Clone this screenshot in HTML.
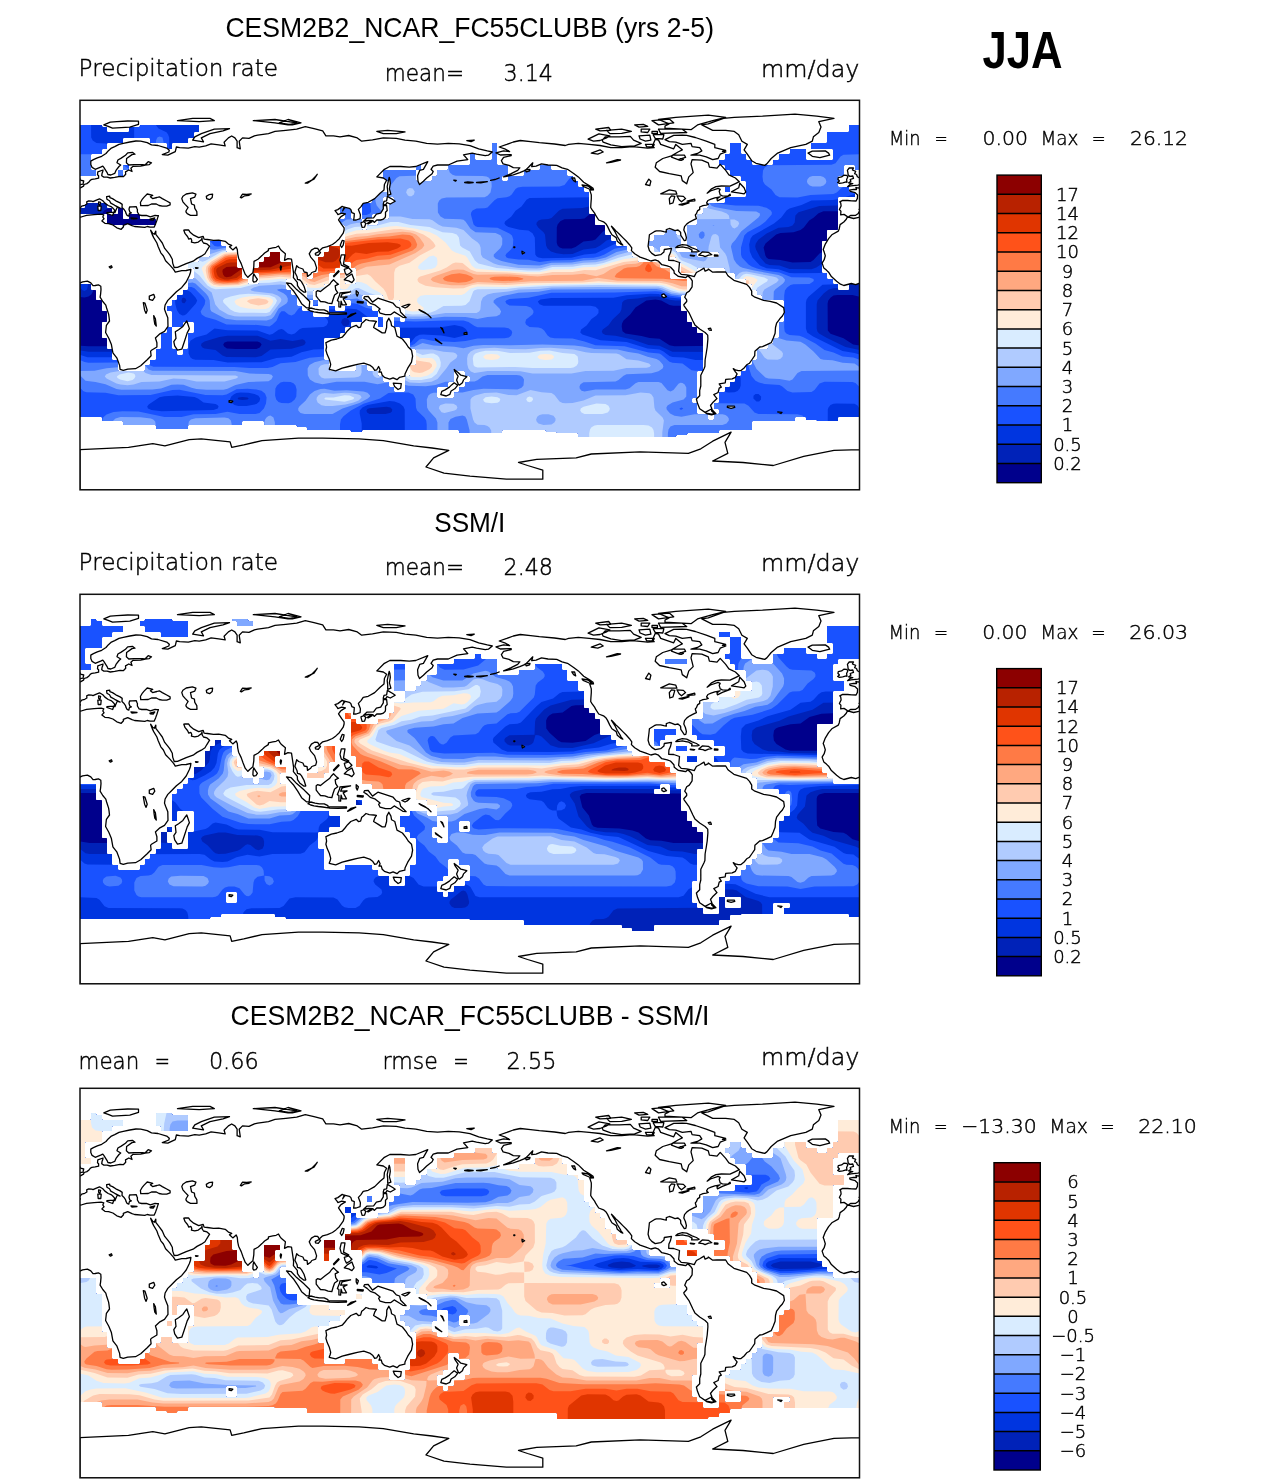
<!DOCTYPE html><html><head><meta charset="utf-8"><title>JJA precipitation</title><style>html,body{margin:0;padding:0;background:#fff}svg{display:block}</style></head><body><svg width="1285" height="1484" viewBox="0 0 1285 1484"><defs><clipPath id="cp"><rect width="780" height="390"/></clipPath></defs><g transform="translate(80,100)"><g clip-path="url(#cp)"><clipPath id="dm_map1"><path clip-rule="evenodd" d="M0 75.5 0 25.5 0.5 25 21.5 25 22.5 27 26.5 27 27 27.5 27 31.5 27.5 32 48.5 32 49 31.5 49 27.5 49.5 27 59.5 27 60.5 25 118.5 25 119 25.5 119 31.5 118.5 32 114.5 32 114 32.5 114 37.5 113.5 38 108.5 38 108 38.5 108 42.5 107.5 43 92.5 43 92 43.5 92 48.5 91.5 49 87.5 49 87 48.5 87 43.5 86.5 43 70.5 43 70 42.5 70 38.5 69.5 38 43.5 38 43 38.5 43 42.5 42.5 43 27.5 43 27 43.5 27 48.5 26.5 49 22.5 49 22 49.5 22 53.5 21.5 54 11.5 54 11 54.5 11 69.5 11.5 70 15.5 70 16 70.5 16 75.5 15.5 76 0.5 76ZM780 25.5 780 69.5 779.5 70 775.5 70 775 69.5 775 65.5 774.5 65 764.5 65 764 65.5 764 75.5 763.5 76 758.5 76 758 76.5 758 86.5 758.5 87 768.5 87 769 87.5 769 91.5 769.5 92 774.5 92 775 92.5 775 96.5 774.5 97 758.5 97 758 97.5 758 129.5 757.5 130 747.5 130 747 130.5 747 140.5 746.5 141 742.5 141 742 141.5 742 172.5 742.5 173 746.5 173 747 173.5 747 178.5 747.5 179 752.5 179 753 179.5 753 183.5 753.5 184 757.5 184 758 184.5 758 189.5 758.5 190 768.5 190 769 189.5 769 184.5 769.5 184 779.5 184 780 184.5 780 316.5 779.5 317 758.5 317 758 317.5 758 320.5 757.5 321 737.5 321 736.5 320 726.5 320 726 319.5 726 317.5 725.5 317 715.5 317 715 317.5 715 320.5 714.5 321 672.5 321 672 321.5 672 329.5 671.5 330 639.5 330 639 330.5 639 332.5 638.5 333 607.5 333 606.5 335 596.5 335 595.5 337 498.5 337 498 336.5 498 333.5 497.5 333 477.5 333 476.5 332 466.5 332 465.5 330 422.5 330 422 330.5 422 332.5 421.5 333 379.5 333 379 332.5 379 330.5 378.5 330 282.5 330 281.5 332 271.5 332 270.5 330 227.5 330 227 329.5 227 327.5 226.5 327 217.5 327 216.5 325 184.5 325 184 324.5 184 321.5 183.5 321 162.5 321 162 321.5 162 324.5 161.5 325 108.5 325 108 325.5 108 328.5 107.5 329 76.5 329 76 328.5 76 325.5 75.5 325 43.5 325 43 324.5 43 321.5 42.5 321 22.5 321 22 320.5 22 317.5 21.5 317 0.5 317 0 316.5 0 184.5 0.5 184 10.5 184 11 184.5 11 189.5 11.5 190 15.5 190 16 190.5 16 199.5 16.5 200 21.5 200 22 200.5 22 210.5 22.5 211 26.5 211 27 211.5 27 221.5 26.5 222 22.5 222 22 222.5 22 237.5 22.5 238 26.5 238 27 238.5 27 248.5 27.5 249 31.5 249 32 249.5 32 259.5 32.5 260 37.5 260 38 260.5 38 270.5 38.5 271 64.5 271 65 270.5 65 265.5 65.5 265 69.5 265 70 264.5 70 260.5 70.5 260 75.5 260 76 259.5 76 249.5 76.5 249 80.5 249 81 248.5 81 233.5 81.5 233 86.5 233 87 232.5 87 227.5 87.5 227 91.5 227 92 227.5 92 248.5 92.5 249 96.5 249 97 249.5 97 254.5 97.5 255 102.5 255 103 254.5 103 249.5 103.5 249 107.5 249 108 248.5 108 233.5 108.5 233 113.5 233 114 232.5 114 222.5 113.5 222 103.5 222 103 222.5 103 226.5 102.5 227 92.5 227 92 226.5 92 211.5 91.5 211 87.5 211 87 210.5 87 206.5 87.5 206 91.5 206 92 205.5 92 200.5 92.5 200 96.5 200 97 199.5 97 195.5 97.5 195 102.5 195 103 194.5 103 190.5 103.5 190 107.5 190 108 189.5 108 179.5 108.5 179 113.5 179 114 178.5 114 168.5 113.5 168 108.5 168 108 167.5 108 162.5 108.5 162 118.5 162 119 161.5 119 157.5 119.5 157 129.5 157 130 156.5 130 141.5 130.5 141 140.5 141 141 141.5 141 145.5 141.5 146 145.5 146 146 146.5 146 151.5 146.5 152 156.5 152 157 152.5 157 167.5 157.5 168 161.5 168 162 168.5 162 178.5 162.5 179 167.5 179 168 179.5 168 183.5 168.5 184 178.5 184 179 183.5 179 173.5 178.5 173 173.5 173 173 172.5 173 168.5 173.5 168 178.5 168 179 167.5 179 162.5 179.5 162 183.5 162 184 161.5 184 157.5 184.5 157 189.5 157 190 156.5 190 152.5 190.5 152 199.5 152 200 152.5 200 161.5 200.5 162 210.5 162 211 162.5 211 178.5 210.5 179 206.5 179 206 179.5 206 189.5 206.5 190 210.5 190 211 190.5 211 194.5 211.5 195 216.5 195 217 195.5 217 205.5 217.5 206 221.5 206 222 206.5 222 210.5 222.5 211 232.5 211 233 211.5 233 216.5 233.5 217 248.5 217 249 216.5 249 206.5 249.5 206 254.5 206 255 206.5 255 210.5 255.5 211 264.5 211 265 210.5 265 206.5 265.5 206 270.5 206 271 205.5 271 200.5 270.5 200 265.5 200 265 199.5 265 195.5 265.5 195 270.5 195 271 194.5 271 190.5 270.5 190 260.5 190 260 189.5 260 173.5 260.5 173 264.5 173 265 173.5 265 183.5 265.5 184 275.5 184 276 183.5 276 168.5 275.5 168 271.5 168 271 167.5 271 162.5 270.5 162 265.5 162 265 161.5 265 125.5 264.5 125 260.5 125 260 124.5 260 119.5 260.5 119 264.5 119 265 118.5 265 114.5 264.5 114 260.5 114 260 113.5 260 108.5 260.5 108 270.5 108 271 108.5 271 118.5 271.5 119 281.5 119 282 119.5 282 129.5 282.5 130 286.5 130 287 129.5 287 125.5 287.5 125 297.5 125 298 124.5 298 119.5 298.5 119 308.5 119 309 118.5 309 103.5 309.5 103 313.5 103 314 102.5 314 97.5 313.5 97 303.5 97 303 97.5 303 113.5 302.5 114 292.5 114 292 114.5 292 118.5 291.5 119 282.5 119 282 118.5 282 103.5 282.5 103 291.5 103 292 102.5 292 97.5 292.5 97 297.5 97 298 96.5 298 92.5 298.5 92 308.5 92 309 91.5 309 81.5 308.5 81 303.5 81 303 80.5 303 70.5 303.5 70 335.5 70 336 70.5 336 80.5 336.5 81 351.5 81 352 80.5 352 76.5 352.5 76 356.5 76 357 75.5 357 70.5 357.5 70 367.5 70 368 69.5 368 65.5 368.5 65 389.5 65 390 64.5 390 54.5 390.5 54 394.5 54 395 54.5 395 59.5 395.5 60 411.5 60 412 59.5 412 43.5 412.5 43 416.5 43 417 43.5 417 64.5 417.5 65 427.5 65 428 65.5 428 75.5 427.5 76 422.5 76 422 76.5 422 80.5 422.5 81 427.5 81 428 80.5 428 76.5 428.5 76 443.5 76 444 75.5 444 70.5 444.5 70 459.5 70 460 69.5 460 65.5 460.5 65 470.5 65 471 65.5 471 69.5 471.5 70 486.5 70 487 70.5 487 75.5 487.5 76 492.5 76 493 76.5 493 80.5 493.5 81 497.5 81 498 81.5 498 86.5 498.5 87 503.5 87 504 87.5 504 91.5 504.5 92 508.5 92 509 92.5 509 113.5 509.5 114 514.5 114 515 114.5 515 124.5 515.5 125 524.5 125 525 125.5 525 134.5 525.5 135 530.5 135 531 135.5 531 140.5 531.5 141 535.5 141 536 141.5 536 145.5 536.5 146 546.5 146 547 146.5 547 151.5 547.5 152 551.5 152 552 152.5 552 156.5 552.5 157 557.5 157 558 157.5 558 161.5 558.5 162 579.5 162 580 162.5 580 167.5 580.5 168 589.5 168 590 168.5 590 178.5 590.5 179 606.5 179 607 179.5 607 194.5 606.5 195 601.5 195 601 195.5 601 210.5 601.5 211 606.5 211 607 211.5 607 221.5 607.5 222 611.5 222 612 222.5 612 226.5 612.5 227 616.5 227 617 227.5 617 232.5 617.5 233 622.5 233 623 233.5 623 270.5 622.5 271 617.5 271 617 271.5 617 297.5 616.5 298 612.5 298 612 298.5 612 302.5 612.5 303 616.5 303 617 303.5 617 313.5 617.5 314 627.5 314 628 314.5 628 319.5 628.5 320 633.5 320 634 319.5 634 314.5 634.5 314 638.5 314 639 313.5 639 309.5 638.5 309 634.5 309 634 308.5 634 303.5 634.5 303 638.5 303 639 302.5 639 292.5 639.5 292 644.5 292 645 291.5 645 287.5 645.5 287 649.5 287 650 286.5 650 282.5 650.5 282 654.5 282 655 281.5 655 276.5 655.5 276 660.5 276 661 275.5 661 271.5 661.5 271 665.5 271 666 270.5 666 265.5 666.5 265 671.5 265 672 264.5 672 260.5 672.5 260 676.5 260 677 259.5 677 249.5 677.5 249 687.5 249 688 248.5 688 244.5 688.5 244 692.5 244 693 243.5 693 238.5 693.5 238 698.5 238 699 237.5 699 222.5 699.5 222 703.5 222 704 221.5 704 200.5 703.5 200 682.5 200 682 199.5 682 195.5 681.5 195 677.5 195 677 194.5 677 190.5 676.5 190 672.5 190 672 189.5 672 184.5 671.5 184 666.5 184 666 183.5 666 179.5 665.5 179 655.5 179 655 178.5 655 173.5 654.5 173 645.5 173 645 172.5 645 168.5 644.5 168 617.5 168 617 168.5 617 172.5 616.5 173 601.5 173 601 172.5 601 162.5 600.5 162 596.5 162 596 161.5 596 157.5 595.5 157 590.5 157 590 156.5 590 146.5 589.5 146 580.5 146 580 146.5 580 151.5 579.5 152 574.5 152 574 151.5 574 146.5 573.5 146 569.5 146 569 145.5 569 141.5 569.5 141 573.5 141 574 140.5 574 135.5 574.5 135 584.5 135 585 134.5 585 130.5 585.5 130 595.5 130 596 130.5 596 134.5 596.5 135 600.5 135 601 135.5 601 145.5 600.5 146 596.5 146 596 146.5 596 151.5 596.5 152 616.5 152 617 152.5 617 156.5 617.5 157 638.5 157 639 156.5 639 152.5 638.5 152 617.5 152 617 151.5 617 146.5 616.5 146 607.5 146 607 145.5 607 125.5 607.5 125 616.5 125 617 124.5 617 114.5 617.5 114 622.5 114 623 113.5 623 108.5 623.5 108 627.5 108 628 107.5 628 103.5 628.5 103 644.5 103 645 102.5 645 97.5 645.5 97 665.5 97 666 96.5 666 81.5 665.5 81 661.5 81 661 80.5 661 76.5 660.5 76 650.5 76 650 75.5 650 70.5 649.5 70 645.5 70 645 69.5 645 65.5 644.5 65 639.5 65 639 64.5 639 60.5 639.5 60 644.5 60 645 59.5 645 54.5 645.5 54 649.5 54 650 53.5 650 43.5 650.5 43 660.5 43 661 43.5 661 53.5 661.5 54 665.5 54 666 54.5 666 59.5 666.5 60 671.5 60 672 60.5 672 64.5 672.5 65 692.5 65 693 64.5 693 60.5 693.5 60 698.5 60 699 59.5 699 54.5 699.5 54 709.5 54 710 53.5 710 49.5 710.5 49 725.5 49 726 49.5 726 59.5 726.5 60 752.5 60 753 59.5 753 49.5 752.5 49 731.5 49 731 48.5 731 43.5 731.5 43 746.5 43 747 42.5 747 32.5 747.5 32 768.5 32 769 31.5 769 25.5 769.5 25 779.5 25ZM49 69.5 48.5 70 43.5 70 43 69.5 43 65.5 43.5 65 48.5 65 49 65.5ZM340.5 70 336.5 70 336 69.5 336 65.5 336.5 65 340.5 65 341 65.5 341 69.5ZM42.5 76 38.5 76 38 75.5 38 70.5 38.5 70 42.5 70 43 70.5 43 75.5ZM649.5 92 645.5 92 645 91.5 645 87.5 645.5 87 649.5 87 650 87.5 650 91.5ZM76 124.5 75.5 125 27.5 125 27 124.5 27 114.5 26.5 114 0.5 114 0 113.5 0 108.5 0.5 108 4.5 108 5 107.5 5 103.5 5.5 103 26.5 103 27 103.5 27 107.5 27.5 108 31.5 108 32 108.5 32 113.5 32.5 114 37.5 114 38 113.5 38 108.5 38.5 108 42.5 108 43 108.5 43 118.5 43.5 119 48.5 119 49 118.5 49 114.5 49.5 114 59.5 114 60 114.5 60 118.5 60.5 119 75.5 119 76 119.5ZM227.5 200 227 199.5 227 184.5 226.5 184 222.5 184 222 183.5 222 173.5 222.5 173 226.5 173 227 173.5 227 178.5 227.5 179 232.5 179 233 178.5 233 173.5 233.5 173 237.5 173 238 172.5 238 157.5 238.5 157 243.5 157 244 156.5 244 152.5 244.5 152 248.5 152 249 151.5 249 146.5 249.5 146 259.5 146 260 146.5 260 167.5 259.5 168 255.5 168 255 168.5 255 172.5 254.5 173 249.5 173 249 173.5 249 183.5 248.5 184 244.5 184 244 184.5 244 189.5 243.5 190 233.5 190 233 190.5 233 199.5 232.5 200ZM324.5 292 325 291.5 325 276.5 325.5 276 329.5 276 330 275.5 330 265.5 330.5 265 335.5 265 336 264.5 336 249.5 335.5 249 330.5 249 330 248.5 330 238.5 329.5 238 320.5 238 320 237.5 320 227.5 319.5 227 314.5 227 314 226.5 314 217.5 314.5 217 319.5 217 320 217.5 320 221.5 320.5 222 324.5 222 325 221.5 325 206.5 324.5 206 320.5 206 320 205.5 320 200.5 319.5 200 303.5 200 303 199.5 303 195.5 302.5 195 282.5 195 282 195.5 282 199.5 282.5 200 286.5 200 287 200.5 287 205.5 287.5 206 291.5 206 292 206.5 292 210.5 292.5 211 297.5 211 298 211.5 298 216.5 297.5 217 282.5 217 282 217.5 282 221.5 281.5 222 271.5 222 271 222.5 271 226.5 270.5 227 265.5 227 265 227.5 265 232.5 264.5 233 260.5 233 260 233.5 260 237.5 259.5 238 244.5 238 244 238.5 244 259.5 244.5 260 248.5 260 249 260.5 249 270.5 249.5 271 275.5 271 276 270.5 276 265.5 276.5 265 286.5 265 287 265.5 287 270.5 287.5 271 297.5 271 298 271.5 298 275.5 298.5 276 302.5 276 303 276.5 303 281.5 303.5 282 308.5 282 309 282.5 309 286.5 309.5 287 313.5 287 314 287.5 314 291.5 314.5 292ZM237.5 206 233.5 206 233 205.5 233 200.5 233.5 200 237.5 200 238 200.5 238 205.5ZM302.5 227 298.5 227 298 226.5 298 217.5 298.5 217 302.5 217 303 217.5 303 226.5ZM357 297.5 357.5 298 373.5 298 374 297.5 374 292.5 374.5 292 378.5 292 379 291.5 379 287.5 379.5 287 384.5 287 385 286.5 385 282.5 385.5 282 389.5 282 390 281.5 390 276.5 389.5 276 385.5 276 385 275.5 385 271.5 384.5 271 374.5 271 374 271.5 374 281.5 373.5 282 368.5 282 368 282.5 368 286.5 367.5 287 357.5 287 357 287.5Z"/></clipPath><g clip-path="url(#dm_map1)"><path fill="#00008c" fill-rule="evenodd" d="M780.1 389.5 779.5 390.1 0.5 390.1 -0.1 389.5 -0.1 0.5 0.5 -0.1 779.5 -0.1 780.1 0.5Z"/><path fill="#0022b8" fill-rule="evenodd" d="M779.7 389.5 0.5 389.7 0.5 245.7 8.5 246.3 36.5 246.2 46.5 244.6 49.5 242.6 50.2 238.5 50.2 181.5 51.6 174.5 53.5 172 58.5 168.3 60.7 162.5 62.5 159.7 68.8 156.5 73.5 148.8 80.5 144.9 83.8 138.5 91.4 134.5 95.5 127.9 103.4 123.5 104.2 121.5 104.8 112.5 105.8 109.5 107.5 107.1 114.4 102.5 115.2 97.5 114.9 93.5 113.5 90.7 111.5 89.8 103.5 89.3 99.5 88.1 96.5 85.5 93.5 80.7 91.5 79.5 80.5 80.3 62.5 79.8 58.4 80.5 53.3 83.5 44.6 92.5 43.5 95.5 43 102.5 41.5 105.5 37.5 108 28.5 108.5 24.5 110.2 22.2 113.5 21.4 123.5 19.5 127.5 13.5 131.9 7.5 139.2 4.5 139.7 2.5 138.6 0.5 136.2 0.3 0.5 779.5 0.3 779.5 134.6 777.5 132.1 770.5 126.5 769.4 123.5 768.9 115.5 766.7 112.5 761.5 111.2 743.5 111.3 738.5 113.2 733.5 117.7 729.2 120.5 723.8 127.5 720.5 130 713.5 132.2 700.5 133 696.2 134.5 685.5 143.5 683.6 147.5 685.4 155.5 686.5 157.5 688.5 159 700.5 160 712.5 162.4 730.5 161.9 733.5 160 739.5 153.5 742.5 152 745.5 151.7 763.5 152.1 766.5 153.5 772.5 158.8 774.5 159.6 776.5 157.9 779.5 152.2 779.5 196.7 772.5 195.1 757.5 195 753.5 195.6 750.7 197.5 748.3 200.5 747.6 203.5 747.8 230.5 750.5 233.8 763.5 238.2 773.1 244.5 779.5 245.6ZM477.6 145.5 479.7 147.5 482.5 148.5 491.5 148.6 495.5 147.1 503.5 141.4 512.5 140.6 515.5 139.4 522.5 132 528.5 127.8 533.5 121.1 540.5 115.6 545.5 107.8 549.6 96.5 551.5 94.4 555.5 92.5 557.5 90.6 557.3 85.5 556.5 84.8 552.5 88.7 549.5 90.1 539.5 90.7 536.5 91.6 531.5 98.8 524.6 102.5 519.5 108.8 511.5 112.8 504.5 118.4 500.5 119.1 484.5 119.3 480.5 121.1 477.6 124.5 476.8 127.5 476.7 142.5ZM4.5 197.5 0.5 197 0.5 151.2 2.5 150 5.5 149.4 8.5 150 10.5 151.4 12.2 153.5 13.3 156.5 13.7 186.5 12.9 191.5 11.3 194.5 8.5 196.6ZM655.6 228.5 655.4 224.5 654.5 222.8 647.5 218.9 643.6 212.5 636.5 209.2 632.6 202.5 631.5 201.9 628.7 202.5 621.5 205.7 593.5 205.8 589.5 205.1 581.3 200.5 575.5 199.6 566.4 200.5 555.5 207.5 550.2 214.5 543.5 220.6 542 223.5 541.7 226.5 542.5 231.3 545.5 233.6 561.5 236.1 569.5 238.1 579.5 238.8 589.5 245.3 594.5 246.3 642.5 245.8 644.5 243.8 647.5 236.8 654.3 232.5ZM181.6 244.5 180.1 242.5 177.5 241.5 147.5 241.4 144.5 242.5 143.2 244.5 144.1 246.5 146.9 248.5 155.5 249.1 176.5 249 179.8 247.5Z"/><path fill="#0035e0" fill-rule="evenodd" d="M779.6 389.5 0.5 389.6 0.5 250.4 8.5 251.8 35.5 251.8 49.5 247.3 52.5 245.3 53.6 243.5 54.1 240.5 54.2 182.5 55.1 177.5 60.3 171.5 62.9 164.5 64.5 162.2 71.5 157.5 75.2 151.5 81.5 147.5 86.5 140.2 93.1 136.5 98.5 130.1 105.1 126.5 107.3 124.5 108.1 122.5 108.5 115.5 109.3 112.5 110.8 110.5 116.4 106.5 118 104.5 119 101.5 119.2 97.5 118.6 89.5 116.5 85.7 113.5 84.2 103.5 83.2 101.2 81.5 97.5 75.8 93.5 73.9 81.5 76.9 68.5 75.9 58.5 76.3 49.5 79.7 42.5 87.4 38.5 89.9 34.5 90.6 6.5 90.9 3.6 92.5 0.5 97 0.4 0.5 779.5 0.4 779.5 98 764.5 105.2 739.5 106 718.5 112.2 715.4 115.5 714.7 122.5 712.5 125.5 708.5 127 698.5 127.8 686.6 133.5 678.5 139.6 675.8 143.5 675.2 146.5 676 149.5 680.2 157.5 685.5 163.4 689.5 164.9 699.5 165.5 709.5 169.1 731.5 169.2 736.3 167.5 743.5 162.8 751.5 162.2 761.5 159.2 764.5 159.5 767.5 161.1 772.1 166.5 773.2 170.5 773.2 177.5 772.4 181.5 770.5 184.8 765.5 187.5 753.5 188.2 748.7 189.5 743.6 193.5 737.5 200.5 736.7 204.5 736.7 228.5 737.4 231.5 739.1 233.5 746.5 237.8 765.5 247 779.5 250.1ZM467.5 148.6 471 151.5 476.5 153.3 483.5 154.2 492.5 153.9 503.5 149.4 515.5 148.1 520.2 145.5 526.5 140.5 536.5 137.1 541.2 130.5 545.5 127.1 547.3 124.5 548.3 113.5 551.5 100.1 553.6 97.5 559.4 93.5 560.6 91.5 561 83.5 559.5 79 557.5 77.5 555.5 77.8 550.5 84 547.5 86 537.5 86.9 534.5 87.9 528.2 95.5 521.1 99.5 513.5 105.4 502.5 108.1 482.5 108.7 479.1 110.5 471.5 118.1 468.5 119.1 461.5 119.4 458.5 120.6 456.7 122.5 456.4 124.5 458.2 127.5 463.5 132.2 465 134.5 466.1 145.5ZM4.5 190.9 2.5 190.3 0.5 188 0.5 167.6 3.1 158.5 5.5 156.5 6.9 157.5 7.8 160.5 7.9 185.5 7 189.5ZM658.3 224.5 657.2 221.5 650.5 217.1 646.2 211.5 638.5 207.2 634.5 200.3 632.5 198.9 620.5 200.5 595.5 200.4 589.5 199.8 578.5 196.6 569.5 196.5 557.5 198.6 547.5 199.2 544 200.5 542.2 202.5 541.4 209.5 540 212.5 532.6 219.5 528.5 225.3 522.8 229.5 521.8 231.5 522.7 233.5 525.5 235 535.5 235.7 552.5 239.4 568.5 244.9 579.5 245.7 592.5 251.7 640.5 251.9 643.5 251.4 645.5 250 649.5 240.1 657.1 233.5 658 230.5ZM104.5 203.2 106.4 200.5 105.5 198.4 103.5 197.5 102 198.5 101.5 200.9 102.5 202.9ZM266.5 226.3 268.9 224.5 269.7 221.5 267.7 218.5 264.5 217.9 262.1 219.5 261.1 222.5 262.9 225.5 264.5 226.3ZM225.7 242.5 224.8 240.5 222.5 239.3 212.5 241 200.5 239.1 190.5 240.7 177.5 235.8 147.5 235.7 139.5 236.9 124.5 241.6 121.5 243.5 121 245.5 122.4 247.5 124.5 248.6 135.5 250.1 142.5 255.4 146.5 256.9 175.5 257.2 181.5 255.9 190.5 249.6 211.5 248.7 223.1 245.5 224.7 244.5ZM168.7 298.5 167.5 297.4 162.5 297 158.5 297.4 157.6 298.5 158.5 299.6 162.5 300.1 167.5 299.6ZM312.3 309.5 310.5 307.5 306.5 306.7 289.5 308.2 287.5 309 286.4 310.5 287.1 312.5 289.5 313.9 305.5 314.1 310.5 312.8 311.9 311.5Z"/><path fill="#1952ff" fill-rule="evenodd" d="M0.5 88.2 0.5 0.5 10.8 0.5 11.2 37.5 12.7 40.5 16.5 42.9 25.5 43.5 28.5 44.4 34.6 49.5 42.6 53.5 46.9 59.5 49.5 61.1 52.5 60.1 54.1 56.5 54.2 0.5 75.8 0.5 76.2 25.5 78.5 28.5 86.5 32.3 88.1 34.5 89.2 37.5 89.2 68.5 88.2 70.5 85.5 72.6 81.5 74 67.5 71.9 61.5 72 57.5 72.8 47.5 76.7 45.2 78.5 40.5 84.4 36.5 86.4 6.5 86.7ZM779.5 0.5 779.5 88.9 774.5 94 759.5 99 752.5 100.1 731.5 100.6 721.5 105 709.5 108.4 706.5 110.5 701.3 117.5 694 123.5 672.8 135.5 670.6 138.5 669.2 144.5 669.8 151.5 672.4 157.5 680 165.5 686.5 168.2 698.5 169.3 709.5 172.9 714.5 173.3 741.5 173.1 752.5 170.1 758.5 165.2 762.5 163.4 764.5 163.7 766.5 165 768.7 168.5 769 177.5 767.9 180.5 766.1 182.5 761.5 184.1 742.5 184.7 728.5 196.8 726.6 199.5 725.9 202.5 725.9 228.5 727.2 232.5 733.1 236.5 762.5 251.1 774.5 253.1 779.5 254.6 779.5 308.7 777.5 305.5 774.5 303.8 756.5 303.4 753.5 303.7 750.5 305.1 748.5 307.5 747.8 309.5 747.5 389.5 325 389.5 324.7 309.5 323.4 306.5 319.9 303.5 314.5 301.6 309.5 301 287.5 305 282.4 307.5 279.8 310.5 279.7 313.5 281.7 323.5 281.7 389.5 0.5 389.5 0.5 255 7.5 257.2 35.5 257.2 38.5 256.3 45.5 251.8 53.5 249.5 56.3 247.5 57.7 244.5 58.1 240.5 58.2 181.5 59.3 178.5 62.2 174.5 64.7 165.5 66.5 163.2 72.5 159 77.1 152.5 83.5 147.9 88.2 141.5 94.9 137.5 100.7 131.5 107.5 128.1 110.7 125.5 112.1 122.5 113 114.5 114.5 112.7 120 109.5 122 106.5 123 102.5 123.4 91.5 125.5 87.5 128.5 86.7 146.5 86.1 149.5 84.2 154.5 77.7 157.5 76.2 175.5 75.8 179.5 75.1 182.5 72.8 186.5 67.2 192.9 62.5 194.8 58.5 195.1 50.5 196 47.5 197.5 45.4 203.5 41 205.5 37.5 205.8 0.5ZM424.4 123.5 425.9 125.5 428.5 126.9 439.5 129.7 448.5 130.4 452.5 133.2 454.8 137.5 455.3 154.5 456.7 156.5 458.5 157.6 462.5 158.2 491.5 157.7 504.5 154.5 515.5 153.6 532.5 145 539.5 142.3 542.7 139.5 550.5 126 551.4 112.5 553.1 102.5 555.1 99.5 560.7 95.5 562.7 92.5 563.3 85.5 562.6 79.5 559.5 74.2 557.5 73 554.5 73 551.5 74.8 548.1 80.5 546.5 81.9 532.5 83.9 529.5 86 525.5 92.5 512.5 97.3 449.5 98 446.5 99.8 441.5 106.4 435.5 110.7 431.4 116.5 425 121.5ZM102.5 215.6 104.5 215.3 106.5 213.9 115.9 203.5 117.2 200.5 115.5 197.5 110.5 192.1 107.5 190.3 103.5 189.4 100.5 189.9 97.5 191.5 95.8 194.5 94.9 199.5 95.4 204.5 97.1 210.5 99.5 214ZM660 230.5 660.4 223.5 659.2 220.5 652 215.5 646.5 209.6 639.5 205.6 635.4 198.5 632.5 196.8 621.5 198.5 599.5 198.5 589.5 197.5 578.5 193.9 570.5 193.7 546.5 195.2 533.5 197.8 471.5 198 460.5 199.4 457.8 201.5 459.5 204.3 463.5 205.7 510.5 205.8 515.5 206.7 518.5 209.5 518.5 213 516.5 215.4 511.5 218.9 506.6 225.5 501.1 229.5 500.3 232.5 502.4 234.5 520.5 240.2 546.5 242.1 567.5 248.6 579.5 249.6 583.5 251.4 589.5 256 592.5 257.1 603.5 257.6 615.5 260 641.5 260 645.5 259.2 647.9 257.5 649.5 255 650.2 245.5 651 242.5 652.5 240.4 658.4 235.5ZM108.6 253.5 110.5 257.5 112.5 259 115.5 259.8 133.5 260.1 147.5 262.6 181.5 262.3 196.5 257.9 211.5 256.8 221.5 252.3 233.5 249.5 251.5 249 259.5 245.8 264.5 244.8 288 244.5 291.3 242.5 292.3 240.5 292.3 223.5 291.3 220.5 289.7 218.5 279.5 210.8 276.5 209.3 268.5 208.6 255.5 209.6 243.5 209.4 240.5 211.3 240.3 213.5 246.5 218.7 247.8 220.5 248.1 222.5 246.5 225.4 243.5 227.1 222.5 227.9 219.5 229.3 214.8 233.5 211.5 234.6 207.8 233.5 203.5 229.8 201.5 228.9 198.5 229.8 192.5 234.1 189.5 234.7 177.5 230.4 147.5 230.2 134.5 228.5 126.5 234.5 115.5 237.6 110.7 240.5 108.6 244.5ZM303.4 239.5 304.5 242.5 308.5 244.6 327.5 243.5 330.9 242.5 335.5 236.7 339.5 234.8 343.5 234.5 361.5 235.6 374.5 238 384.4 235.5 387.3 233.5 387.6 231.5 385.5 228.7 382.5 226.7 374.5 225.1 359.5 227.5 310.5 227.7 307.5 228.5 304.5 231.3 303.5 234.5ZM657.5 291 659.8 288.5 660.7 285.5 660.7 278.5 659.5 274.4 657.5 272.3 654.5 271.1 647.5 270.9 644.5 272 642.8 274.5 642.1 278.5 642.2 286.5 643.5 290.3 645.5 292 648.5 292.5 654.5 292.2ZM180.2 298.5 178.5 295.7 174.5 293.9 168.5 292.7 160.5 292.5 156.5 293.1 153.7 294.5 151.3 296.5 149.9 299.5 151 302.5 154.5 305.1 158.5 306 166.5 306.1 176.5 304.1 179.4 301.5ZM679.1 301.5 681 299.5 681.1 296.5 678.5 293.9 675.5 294 673.5 295.8 673.4 298.5 676.5 301.6ZM138.6 306.5 137.5 305 135.5 303.9 123.5 302.5 118 298.5 114.5 296.9 97.5 295.4 84.5 296.2 79.5 297.3 68.7 304.5 67.2 306.5 68 308.5 71.5 310 81.5 311.2 133.5 309.9 137.8 308.5Z"/><path fill="#457aff" fill-rule="evenodd" d="M779.5 287.1 775.5 283.1 772.5 281.9 744.5 281.8 739.5 283.5 734.5 290.1 731.5 291.9 712.5 292.5 707.5 291.1 702.3 286.5 699.5 285.1 684.5 283.9 679 282.5 675.5 280.7 671.5 275.9 668.2 265.5 666.5 263.6 660.4 259.5 653.2 247.5 653 244.5 653.9 242.5 659.5 237.8 661.2 234.5 662.6 224.5 661.8 220.5 659.5 217.9 653.5 214.3 648.5 209.3 640.6 204.5 636.5 197.1 633.5 195 621.5 197 599.5 196.9 590.5 195.8 579.5 191.6 575.5 191.2 534.5 192.5 471.5 192.7 448.5 197.7 429.5 199.1 426.5 200.2 425.3 201.5 426.5 203.8 429.5 205.5 446.5 205.9 450.8 207.5 453.3 210.5 453.5 212.5 452.5 214.5 446.1 219.5 445.3 222.5 446 224.5 449.5 227 458.5 227.6 461.7 228.5 464.2 230.5 467.6 235.5 470.3 237.5 474.5 238.3 492.5 238.6 504.5 241.5 515.5 245.2 544.5 246.2 568.5 252.5 579.3 253.5 581.5 254.7 589.5 261.8 592.5 262.7 602.5 263.6 611.5 270.2 615.5 270.8 630.5 270.9 634.4 272.5 636.2 277.5 636 287.5 634.5 291 630.5 295.1 629.4 297.5 630.3 300.5 632.9 302.5 637.5 303.3 664.5 303.6 668.5 305.8 674.5 312.4 678.5 314 717.5 314.2 722.5 315.6 724.9 318.5 725.8 322.5 725.8 389.5 346.7 389.5 346.7 324.5 346.2 320.5 344.3 317.5 337.1 310.5 336 307.5 335.5 298.5 333.2 294.5 328.5 292.6 315.5 292.5 308.5 293 300.1 298.5 283.5 303.8 270.9 310.5 263.5 316.3 260.9 319.5 260 324.5 260 389.5 21.7 389.5 21.7 322.5 23.1 317.5 26.5 314.5 33.5 312.1 42.5 311.3 58.5 311.5 84.5 317 101.5 316.9 113.5 314.3 135.5 314 147.5 311.8 159.5 314.1 175.5 314.1 179.5 312.9 183.9 308.5 186 303.5 186.6 297.5 185 293.5 181.5 290.7 176.5 289.5 167.5 288.7 156.5 289.3 146.5 294.4 142.5 295.3 125.5 295.1 99.5 289.8 92.5 290 70.5 294.9 38.5 295.3 25.5 292.7 6.5 292.3 3.5 291.2 0.5 288.3 0.5 260.3 4.5 262 8.5 262.7 37.5 262.5 42.5 260.7 47.5 255.2 51.5 254.3 64.5 257.8 66.5 259.5 70.1 265.5 73.5 266.8 154.5 267.1 169.5 268.1 187.5 268 192.5 267.1 200.5 263.2 215.5 262.1 229.5 257.8 253.5 255.8 260.5 249.9 265.5 248 275.5 247.8 286.5 248.8 297.5 246 308.5 248.4 318.5 246.1 331.5 245.4 334.5 244 339.5 239.6 342.5 238.8 353.5 240.9 374.5 241.9 385.5 241 397.5 238.4 424.5 238.3 428.8 237.5 431.3 235.5 432.2 232.5 431.5 230.5 428.5 228.2 424.5 227.5 397.5 227.3 394.5 226.1 388.5 222.1 383.5 220.6 365.5 220.5 335.5 221.5 306.5 220.6 301.5 218 298.3 211.5 296.5 209.5 286.5 208 277.5 203.9 273.5 203.2 266.5 203.4 254.5 205.5 241.5 203.6 231.5 205.7 222.5 206.2 218.6 208.5 214.5 214.1 211.5 215.6 208.5 214.6 204.5 211.3 201.5 211.2 199.6 213.5 196.5 220.8 192.5 224.6 189.5 226.4 177.5 224.9 146.5 224.5 135.5 219.8 125.5 217.1 121.7 214.5 120.6 211.5 124.7 204.5 125.3 200.5 123.6 197.5 114.5 188.2 111.5 186.9 101.5 186.7 92.5 188.3 87.5 187.4 84.5 185.2 80.5 178.8 70.5 177.6 67.5 176.3 66.2 174.5 65.4 171.5 66.1 166.5 68.5 163.8 73.5 160.3 78.5 153.6 84.5 149.3 89.7 142.5 96.6 138.5 102.5 133 114.5 128.2 116.5 128.4 118.6 129.5 123.5 136.5 129.5 140.4 134.5 146 137.5 146.5 153.5 145.5 155.5 144.8 159.5 137.8 165.5 134.6 166.3 133.5 166.9 113.5 168.2 107.5 170.5 104.4 176.5 101.5 177.2 100.5 177.9 90.5 179.2 85.5 181.5 82.7 185.5 81 192.5 80.7 197.5 82.5 199.4 84.5 202.3 90.5 207.5 92.8 209.7 94.5 213.3 101.5 218.5 103.7 220.5 105.3 224.3 112.5 230.5 114.9 236.5 118.9 251.5 119.1 255.5 117.7 257.9 115.5 259.6 112.5 260.2 104.5 261.1 101.5 262.8 99.5 265.5 98.6 267.5 99.1 269.7 101.5 270.7 104.5 271.2 111.5 272.7 113.5 276.5 115 286.5 114.9 290 113.5 291.1 111.5 289.7 97.5 289.9 90.5 291.6 82.5 291.1 79.5 289.5 77.5 283.9 73.5 279.5 67.4 272.9 62.5 268.5 56.4 262.5 52.1 257.6 45.5 251.5 41.1 246.6 34.5 240.1 29.5 238.4 24.5 238.3 0.5 541.7 0.5 541.6 24.5 539.9 29.5 533.4 34.5 528.1 41.5 522.4 45.5 517.5 52.1 511.5 56.4 507.1 62.5 500.5 67.4 496.5 73.1 489.5 78.4 484.5 84.9 479.5 86.6 442.5 86.7 437.8 87.5 435.5 89.1 431.7 94.5 429.5 96.3 426.5 97.3 417.5 98.2 414.5 100.3 407.5 107.4 404.5 108.2 396.5 108.6 392.5 110.5 391.2 112.5 390.9 114.5 393.6 124.5 395.5 126.3 397.5 127 417.5 127.8 429.4 133.5 432 135.5 433.3 139.5 432.8 146.5 431 149.5 426.5 153.5 425.4 155.5 426.5 157.4 428.5 158.2 438.5 159.5 448.5 159.8 459.5 162.1 471.5 160.4 492.5 160.1 503.5 158.1 513.5 157.7 519.3 156.5 524.4 154.5 534.5 148.8 545.5 146.8 547.8 144.5 549.4 137.5 553.4 126.5 554.1 111.5 555.2 103.5 557.5 100.5 563.3 96.5 565.2 92.5 565.3 80.5 561.5 69.5 562.9 65.5 566.5 63 573.5 61.6 588.5 61.1 594.5 62.4 597.5 64.7 600.8 70.5 607.5 74.6 611.8 81.5 618.4 85.5 622.5 92.2 629.4 96.5 632.4 101.5 634.5 103.2 655.5 105.4 678.5 105.8 686.5 107.7 690.8 110.5 691.9 112.5 691.7 114.5 685.5 121.5 680.2 125.5 667.5 132.3 664.3 135.5 661 147.5 661 154.5 661.9 157.5 668.5 164.5 671.7 166.5 677 168.5 686.5 170.8 699.5 172.4 711.5 177.3 729.5 177.6 733.5 179.1 733.8 180.5 733.3 181.5 729.5 183.9 713.5 184.2 710.5 184.9 707.1 187.5 704.9 190.5 704.2 195.5 704.2 227.5 704.7 231.5 706.3 233.5 709.5 235.1 719.5 235.8 723.5 237.2 735.4 243.5 744.5 250.1 753.5 252.5 762.5 256.6 773.5 257.5 779.5 259.8ZM80.5 70.2 78.5 69.8 76.7 68.5 75.9 65.5 76 40.5 77.3 37.5 79.5 36.4 82.5 37.6 83.7 42.5 83.7 66.5 82.5 69.5ZM50.1 69.5 49.5 70.6 42.5 74.6 38.9 80.5 36.5 82.3 9.5 82.7 3.5 82.1 0.5 80.7 0.5 54.2 24.5 54.2 35.5 56.7 39.5 59.1 43.9 65.5ZM683.1 81.5 682.5 76.5 683 70.5 684.7 67.5 688.5 65.3 751.5 64.8 755.5 63.2 760.5 56.6 763.5 54.7 779.5 54.2 779.5 79.8 775.5 77 772.5 77.5 766.5 84.7 761.5 88.1 756.7 92.5 753.5 94.1 730.5 94.9 717.5 97.4 699.5 97.2 695.5 95.1 691.5 89.4 684.9 84.5ZM751.8 178.5 752.5 177.1 758.2 173.5 761.5 169.4 763.5 168.8 764.2 169.5 765 175.5 764.7 177.5 763.5 179.1 761.5 179.9 753.3 179.5ZM211.5 302.3 214.7 299.5 216.3 296.5 216.6 289.5 215.5 285.5 213.5 283.3 210.5 282 203.5 281.7 200.5 282.5 197 285.5 195.4 288.5 195.1 295.5 196.2 299.5 198.5 302 201.5 303.1 208.5 303.2ZM603.3 308.5 601.5 307.4 599.5 308.5 600 309.5 601.5 309.8Z"/><path fill="#80a8ff" fill-rule="evenodd" d="M779.5 270.6 721.5 271.1 717.5 273 712.5 279.5 709.5 280.8 699.5 279 688.5 278.6 685.4 277.5 676.5 269 672.1 260.5 665 255.5 661.5 249.9 657.2 245.5 657.5 244 661.5 240.6 663 237.5 665.4 223.5 664.4 219.5 661.5 216.3 655.5 213.4 649.5 208.2 641.5 203.5 637.5 195.3 634.5 193.1 621.5 195.6 603.5 195.7 591.5 194.2 580.5 189.7 576.5 189.1 471.5 189.5 458.5 191.7 438.5 192.8 422.5 196.1 416.5 198.2 413.7 200.5 413.5 202.5 419.5 208.6 421.1 211.5 419.9 214.5 416.5 216.3 407.5 216.9 397.5 219 385.5 216.9 364.5 216.7 344.5 218.7 332.5 218.9 307.5 217.3 303.7 214.5 299.5 206.9 296.5 203.8 286.5 202.5 277.1 198.5 265.5 199.4 254.5 201.6 242.5 198.8 221.5 198.5 216.2 196.5 212.5 191.1 210.5 189.4 201.5 188.7 197.2 189.5 197.8 190.5 203.5 193.2 206.3 195.5 207.8 198.5 207.7 201.5 206.4 203.5 198.6 208.5 194 216.5 191.5 219 186.5 220.4 156.5 220.3 145.5 218.8 131.5 211.5 130.3 209.5 129.7 200.5 128.2 196.5 125.9 193.5 115.4 183.5 112.5 182.6 95.5 185 90.5 184.6 87.5 182.5 84.1 177.5 81.6 175.5 72.5 174.6 69.5 173.5 67.9 171.5 67.4 168.5 69.1 165.5 75.5 160.6 79.5 154.9 85.7 150.5 90.5 143.9 97.5 140.2 102.5 136 105.5 134.6 111.5 133.7 114.5 134.3 119.5 141.1 125 144.5 129.3 148.5 131.6 149.5 134.5 149.8 144.5 148 154.5 147.6 157.2 146.5 161.5 139.8 166.5 136.7 168.2 134.5 168.8 114.5 169.9 109.5 172.5 106 178.5 102.5 179.4 100.5 179.8 91.5 180.9 87.5 183.2 84.5 186.5 82.9 191.5 82.6 196 84.5 200.5 91.7 208 96.5 211.5 102.7 218.5 106.9 222.5 113.8 229.4 117.5 233.5 122.8 235.5 123.8 248.5 125 251.5 126.2 255.5 129.4 261.5 122.8 266.5 119.5 287.5 119 294.5 117.5 300.3 114.5 301.5 112.5 300.8 110.5 296.7 105.5 295.5 101.5 295.5 93.5 297.6 88.5 300.5 86.9 307.5 86.5 310.5 85.4 316.5 78.1 319.5 76.3 340.5 75.5 343.5 74.2 345.8 71.5 346.7 66.5 346.7 0.5 357.5 0.5 357.7 36.5 359.3 40.5 365.9 45.5 367.8 48.5 368.5 68.5 369.8 72.5 372.5 74.8 375.5 75.7 402.5 75.9 406.5 76.4 408.6 77.5 410.5 79.7 411.5 82.5 411.7 86.5 410.5 92.5 407.5 95.8 404.5 97.2 366.5 97.5 361.7 98.5 359.2 100.5 357.8 103.5 357.9 112.5 360.5 116.5 364.5 118.8 380.5 119.2 383.5 119.8 385.5 121.6 390.5 128.7 395.5 132.2 415.5 133 420.5 135.3 422.3 138.5 422.2 144.5 420.5 147.9 413.8 154.5 413.7 156.5 415.5 158.5 421.5 161.1 438.5 164.7 459.5 165.6 471.5 162.7 491.5 162.4 503.5 160.5 516.5 159.8 525.8 157.5 536.5 151.9 547.5 149.5 550.5 146.5 556 132.5 557 125.5 557.4 108.5 558 104.5 559.5 102.8 565.4 99.5 567.9 94.5 568.4 83.5 567 72.5 567.5 69.7 570.5 67.3 577 65.5 584.5 65 590.5 65.5 593.5 67.3 598.1 73.5 604.5 78.2 609.1 84.5 614.7 88.5 619.5 94.9 625.7 99.5 631.5 105.7 634.5 106.9 656.5 111 676.2 111.5 679.9 113.5 679.9 115.5 678.4 117.5 661.1 131.5 655.5 139.7 652 143.5 650.9 146.5 653.9 159.5 656.5 163.4 659.8 166.5 662.5 167.7 674.3 170.5 698.5 174.9 702.5 176.7 705 179.5 704.6 181.5 703 183.5 695.2 189.5 693.8 191.5 693.2 209.5 691.7 213.5 687.5 216.3 677.5 217.4 674.6 219.5 673.1 221.5 672.9 224.5 675.5 233.5 678.5 235.2 693.4 236.5 706.5 240.6 720.5 241.7 725.3 244.5 733.5 251.6 740.5 258.9 743.5 259.8 752.5 260.3 762.5 262.7 774.5 263.4 778.8 266.5ZM746.4 81.5 745.7 83.5 743.5 85.6 740.5 86.5 732.5 86.4 729.7 85.5 727.6 83.5 726.9 81.5 727.5 79.2 729.5 77.1 732.5 76.1 740.5 76 743.5 76.9 745.5 78.7ZM634.5 125.5 633.5 124.9 632.4 125.5ZM621.5 139 623.5 138.1 624.7 135.5 624.3 132.5 622.5 131.3 620.5 132 618.7 134.5 619.3 137.5ZM648.8 320.5 646.5 323.6 642.5 324.9 594.5 325 590.4 326.5 588.5 329.5 587.9 333.5 587.8 389.5 390 389.5 389.6 330.5 386.8 319.5 385.2 316.5 382.5 315.4 375.5 316.8 370.5 318.9 368.5 322.5 368.3 389.5 357.5 389.5 357.4 322.5 356 318.5 348.7 310.5 347.1 307.5 346.8 299.5 348.4 295.5 350.5 293.7 353.5 292.7 382.5 292.4 393.5 289.9 403.5 288.7 437.5 289.4 441.5 287.8 443.5 285.5 444 279.5 442.5 276.9 440.1 275.5 436.5 274.9 407.5 274.9 402.5 276.5 397.5 280.3 394.5 281.4 365.5 281.8 355.5 285.1 345.5 286.2 328.5 285.8 323.5 284.6 317.5 281.9 309.5 281.9 297.5 284.2 284.5 281.7 256.5 281.7 242.5 284.3 234.8 282.5 229.9 279.5 227.8 275.5 227.6 268.5 229.5 264.9 234.5 262.2 242.5 260.3 252.5 259.9 255.5 259.2 257.9 257.5 262.4 252.5 265.5 251 275.5 250.6 287.5 252.4 298.5 249.8 307.5 252 318.5 247.9 334.5 246.8 342.5 243.1 353.5 245.5 374.5 246.7 383.5 248.2 393.5 245.7 403.5 244.9 430.5 245.3 462.5 244.6 494.5 245.5 502.5 246.4 514.5 249 537.5 249.5 548.5 252 558.5 253.4 567.5 256.8 576.5 258.9 579.5 260.7 582.8 264.5 583.4 266.5 582.6 268.5 578.5 271.3 571.5 273.3 546.5 274.2 543.5 275.7 538.5 280.1 535.5 281.4 503.5 282.3 500.5 284.3 499.5 286.5 499.7 288.5 501.5 290.8 504.5 291.6 515.5 289.6 545.5 289.5 549.5 288.3 555.5 283.3 558.5 282 578.5 281.9 581.5 283 587.5 290.3 590.5 291.4 593.5 290.1 598.5 283.8 600.5 282.8 602.5 282.9 604.7 284.5 606.3 287.5 606.3 296.5 603.6 299.5 592.5 302.4 587.5 305.5 586.4 307.5 586.7 309.5 590.1 313.5 594.5 315.7 601.5 316.8 614.5 314.2 642.5 314.3 645.5 315 647.5 316.4 648.8 318.5ZM192.9 276.5 191.5 279.3 188.5 281.2 168.5 281.9 155.5 285 147.5 288.7 143.5 289.7 126.5 289.7 116.5 288.9 111.5 287.8 103.5 284.8 97.5 284.4 91.5 284.8 81 288.5 72.5 289.4 41.5 289.8 36.5 289.1 25.5 284.3 15.5 281.9 5.5 280.8 1.2 276.5 0.5 274.7 0.5 271 14.5 270.7 26.5 268.2 46.5 266.4 49.5 265.5 54.7 261.5 58.5 260.6 62.5 262.2 68.5 269.5 72.5 270.7 155.5 270.9 169.5 273.6 188.5 273.9 191.5 274.8ZM218.3 310.5 218.2 308.5 219.3 306.5 225.5 300.8 229.9 294.5 234.5 291.1 240.5 288.9 244.5 288.8 254.5 290.8 266.5 290.3 283.5 291.6 287.5 292.7 290.1 295.5 290 296.5 287.8 298.5 279.5 303 262.5 308.6 252.5 314 224.5 314.1 220.5 313ZM184.2 389.5 184.3 322.5 185.1 319.5 186.5 317.6 188.5 316 190.5 315.6 193.5 317.5 194.9 322.5 195 389.5ZM75.8 389.5 32.5 389.5 32.6 323.5 33.3 320.5 35.5 318.4 40.5 317.1 60.5 317.2 70.8 318.5 73.2 319.5 75.2 321.5 75.8 325.5ZM151.7 389.5 108.3 389.5 108.4 324.5 108.9 321.5 110.9 319.5 115.5 318.2 144.5 317.4 148.5 318.3 150.9 320.5 151.7 324.5Z"/><path fill="#b0cbff" fill-rule="evenodd" d="M649.5 118.9 615.5 119.2 611.5 119.9 609 121.5 607.2 124.5 606.4 134.5 605.1 137.5 603.5 139.1 601.5 139.8 598.5 138.7 596.8 136.5 596 133.5 595.8 106.5 595.2 102.5 593.2 99.5 588.5 96.2 586.1 93.5 585.2 90.5 584.2 80.5 582.5 77.9 576.8 73.5 576.5 71.5 578.5 69.9 581.5 69.2 587.5 69.1 590.5 70.2 594.5 76.5 601.5 81 605.5 87.5 612 91.5 616.5 98.5 623 102.5 627 107.5 629.5 108.8 641.8 111.5 646.7 113.5 648.9 115.5ZM69.8 168.5 70.9 166.5 76.5 162.7 80.5 156.3 87.5 151.6 91.5 145.4 103.5 139.6 105.5 139.4 107.9 140.5 112.5 147.2 119 151.5 123.5 156.7 125.5 156.6 130.5 154 142.5 149.9 154.5 149 157.5 148.1 162.5 141.4 167.5 137.8 169.2 135.5 169.9 131.5 170 115.5 171.1 110.5 173.2 107.5 178.5 104.3 180.1 102.5 181.1 91.5 182.6 87.5 185.5 84.9 189.5 83.8 192.5 84.3 195.5 86.2 199.5 92.5 206.5 97.2 210.5 103.5 216.8 107.5 221.3 114.5 228.5 119.1 232.6 124.5 235.5 125.7 243.5 126 248.5 127.4 251.1 129.5 254.2 134.5 255.5 135.1 258.5 133.7 263.5 127.6 270.5 124.3 276.5 122.9 296.5 121.8 309.5 116.6 320.5 116.5 332.5 119 349.5 119.3 352.5 120.3 358.3 124.5 362.5 126.6 376.5 127.7 383.5 129.9 392.1 138.5 397.5 142.2 399.5 144.4 400.6 147.5 401 154.5 402.7 157.5 413.8 163.5 418.5 165.1 438.5 167.9 456.5 168.4 461.5 167.9 471.5 164.9 492.5 164.5 503.5 162.7 515.5 162.2 525.5 160.1 537.5 155 549.5 151.8 552.5 148.9 556.5 141 559.5 139.2 562.5 140.1 567.5 145.2 575.5 148 579.5 151.8 580.5 151.8 583.5 149.1 586.5 147.6 590.5 146.9 593.5 147.3 597.8 149.5 601.5 156.4 602.8 157.5 623.5 161.5 625.6 160.5 627.7 157.5 628.7 146.5 631.4 136.5 632.9 134.5 635.5 133.9 637.5 134.9 638.7 136.5 640.1 147.5 645.2 153.5 646.7 156.5 649.7 168.5 650.2 175.5 651.5 177.9 654.5 178.3 659.5 172.9 662.5 171.7 666.5 171.4 692.8 176.5 696.5 177.6 698.6 179.5 698.4 180.5 696.5 182.4 684.3 189.5 682.7 192.5 682.2 199.5 681 202.5 674.5 207.6 669 213.5 666.5 214.5 656.5 211.5 650.5 207 643.4 203.5 641 200.5 638.8 192.5 635.5 190.5 622.5 194.1 603.5 194.3 591.7 192.5 582.4 188.5 578.5 187.5 517.5 187 471.5 187.5 459.5 188.9 438.7 189.5 428.5 191.4 413.5 193 407.4 194.5 402.9 197.5 401.1 201.5 400.4 209.5 399.1 211.5 396.5 213 365.5 212.9 343.5 216.4 329.5 216.5 308.5 214.6 305.5 212.2 300.1 202.5 297.5 199.6 287.4 197.5 278.1 193.5 275.5 193.4 266.5 196.1 255.5 197.2 243.5 195.1 223.5 194.8 219.5 193.2 215.4 188.5 212.5 186.4 200.5 184.5 179.5 185.8 173.7 187.5 170.4 189.5 171.2 190.5 174.8 191.5 192.5 193.4 197.5 195.4 200.3 197.5 201.4 199.5 201 201.5 190.5 215.3 185.5 216.6 159.5 216.6 154.5 216.2 148 214.5 139.4 209.5 135.3 204.5 131.7 192.5 124.5 186.9 115.5 178.2 112.5 177.7 107.3 180.5 103.5 181.7 92.5 182.2 89.7 180.5 86.3 175.5 84.1 173.5 80.5 172.2 72 171.5 70.4 170.5ZM331.5 96.3 329.5 96.3 327.9 95.5 326.1 92.5 327.1 89.5 329.5 87.9 332.7 88.5 334.7 91.5 333.9 94.5ZM657.7 126.5 654.5 128.4 652.4 127.5 650.6 124.5 650.3 119.5 654.5 119.5 658.3 121.5 659.2 123.5ZM702.6 256.5 700.5 258.7 697.5 259.8 687.5 259.4 684.5 257.4 680.3 251.5 674.5 247.3 673.2 245.5 673.1 243.5 674.5 242.1 677.5 241.4 685.5 241.3 689.5 242.1 701.8 251.5 703 253.5ZM570.9 265.5 569.5 267 566.5 267.7 546.5 268.1 533.5 270.8 505.5 271 491.5 273.6 452.5 273.6 440.5 271.2 407.5 270.9 394.5 273 390.8 271.5 388.4 268.5 387.3 264.5 387.1 258.5 387.9 254.5 390.6 251.5 394.5 249.6 400.5 248.4 414.5 247.8 429.5 249.1 445.5 249.2 460.5 247.9 470.5 247.8 493.5 249.4 505.5 252.2 511.5 252.9 536.5 253.5 539.5 254.6 546.5 259.3 558.5 260.6 569 263.5ZM377.4 255.5 376.5 257.9 370.4 262.5 366.3 268.5 357.5 278.9 351.5 281.7 339.5 283 329.5 282.6 323.7 279.5 321.3 275.5 319.8 266.5 318.5 265 312.4 261.5 311 259.5 310.3 256.5 311.7 253.5 314.5 251.2 318.5 249.6 323.5 249.2 352.5 249.4 363.5 251.8 373.5 252.4 375.9 253.5ZM281.3 257.5 281.6 272.5 280.5 275.4 278.5 276.8 274.5 277.6 244.5 278.4 241.4 277.5 238.8 274.5 238.5 268.5 240.7 265.5 244.5 264.2 254.5 263.8 258.5 262.7 261.5 260.5 264.5 255.5 266.5 254.2 276.5 254.1 279.8 255.5ZM298.5 277.9 296.5 277.7 294.3 276.5 292.9 274.5 292.5 271.5 292.8 257.5 294 255.5 297.5 254 301.8 255.5 303.1 257.5 302.9 274.5 301.5 276.6ZM24.8 276.5 26 274.5 30.5 272.5 51.5 269 58.5 265.7 60.5 266.5 63.5 271.3 65.5 273.1 71.5 274.9 155.5 275.4 157.9 276.5 157.8 277.5 156.1 278.5 144.5 281.5 116.5 281.6 104.5 278.9 93.5 278.6 79.5 281.5 61.5 281.9 53.7 284.5 47.5 285.2 40.5 284.6 36.5 283.6 26.6 278.5ZM582.2 389.5 411.7 389.5 411.2 330.5 409.5 327.5 407.5 326 404.5 325.1 397.5 324.7 394.5 322.5 393.1 319.5 390.4 308.5 390.5 299.5 391.9 297.5 395.1 295.5 404.5 292.9 416.5 292.6 428.5 295.1 436.5 295.3 450.5 290.1 461.5 292.3 471.5 293.1 474.5 294.9 479.5 301.5 482.5 303 485.5 303.3 492.5 303 503.5 300.4 515.5 295.5 545.5 295.3 560.5 292.6 569.5 293.3 571.5 294.5 573.5 297.5 574.4 307.5 575.4 310.5 582.6 317.5 583.9 320.5 582.3 332.5ZM236.5 299.5 236.8 297.5 238.5 295.3 241.5 293.5 244.5 292.9 253.5 293.7 264.5 292.7 270.5 293.1 278.5 294.6 280.5 295.6 281.6 297.5 278.6 300.5 273.5 302.6 265.5 304.5 252.5 306.1 245.5 306 241.5 305.3 237.6 302.5ZM358.9 308.5 359.3 306.5 360.5 305.1 365.5 303.4 373.5 303.8 376.5 305.5 377.4 307.5 376.4 309.5 374.5 310.6 364.5 313.1 361.5 312.2ZM475.5 320.5 475.5 318.5 473.5 315.8 468.5 314.2 462.5 314.3 459.5 315 457.4 316.5 456.1 319.5 456.6 321.5 458.4 323.5 463.5 325 471.5 324.4 474.4 322.5Z"/><path fill="#d9ecff" fill-rule="evenodd" d="M77.6 167.5 82 158.5 89.1 154.5 93.5 147.1 101.5 144.9 104 145.5 108.5 151.8 114.5 155.7 118.9 160.5 122.5 161.7 125.5 160.7 141.5 151.8 146.5 150.6 155.5 150.2 158.5 149.1 163.5 142.5 170 136.5 170.9 132.5 171 116.5 172 111.5 174 108.5 180.7 103.5 181.7 100.5 182.1 92.5 183.5 88.5 186.5 85.7 189.5 85 192.5 85.7 194.5 87 199 93.5 205.5 98 209.5 104 216 108.5 220.5 115.2 227.5 120.1 231.7 125.5 234.5 126.9 242.5 127.3 246.5 128.2 249.6 130.5 253.5 136.2 255.5 137 259.9 135.5 266.5 129.8 274.5 127 297.5 125.6 310.5 121.9 318.5 121.9 330.5 125 349.5 127 362.5 132.2 372.5 133 376.7 134.5 378.9 137.5 380.1 145.5 382.2 147.5 389.8 151.5 394.9 160.5 398.4 163.5 416.5 168.1 447.5 170.4 459.5 170.4 472.5 167.1 492.5 166.8 503.5 164.9 515.5 164.4 523.5 162.9 538.5 157.8 552.5 154.3 554.7 152.5 557.5 147.2 559.5 146.1 572.5 149.8 574.8 151.5 578 156.5 579.5 157.7 581.5 157.3 586.5 151.4 588.5 150.4 591.5 150.2 595.5 152.4 599.3 158.5 601.5 160.6 610.5 164.1 618.6 168.5 620.8 171.5 623.5 179 629.5 183.3 631.1 186.5 630.6 188.5 627.5 191 623.5 192.5 618.5 192.9 599.2 192.5 591.5 190.6 581.9 186.5 576.5 185.8 519.5 185.1 473.5 185.8 439.5 187.4 426.5 189 397.5 189.3 394.5 190.3 393.2 191.5 389.5 201.3 385.5 205 381.5 205.8 363.5 206.1 355.9 210.5 350.7 212.5 341.5 214.2 332.5 214.4 309.5 211.8 306.5 209 301.5 199.5 298.5 196 288 192.5 278.5 188 275.5 188.2 269.5 191.9 264.5 193.3 245.5 191.4 225.5 191.2 221.5 189.9 217 185.5 213.5 183.6 200.5 181.2 189.5 182.7 179.5 183.1 160.5 187.9 135.5 189.3 131.5 188.1 127.5 185.6 119.5 175.5 114.5 171.6 112.5 171.3 109.5 172.4 103.2 178.5 94.5 179.2 91.6 177.5 89.5 173.3 87.5 171ZM642.6 200.5 642 197.5 642.5 194.2 647.5 186.3 649.5 184.4 656.7 181.5 661.5 175.9 663.5 174.5 666.5 173.8 671.5 174.4 684.4 177.5 688 179.5 687 181.5 677.5 187.4 673.1 195.5 665.6 200.5 662.9 205.5 660.5 207.8 657.5 208.5 655.5 208 644.5 202.6ZM197 200.5 195.8 203.5 189.5 211.9 186.5 212.9 159.5 212.8 154.5 211.8 150.3 209.5 143.4 202.5 142.9 200.5 144.7 198.5 150.5 196.4 159.5 194.6 168.5 193.7 189.5 195.2 195 197.5ZM360.5 266.5 356.5 274 351.5 277.9 341.5 280.1 330.5 279.9 327.7 278.5 325.8 276.5 322.6 264.5 315.5 258.8 314.1 255.5 316.5 252.4 322.5 250.8 333.5 251.3 342.5 254.9 350.5 253.4 353.5 253.6 357.5 255.4 359.3 257.5 360.8 262.5ZM498.3 261.5 498 263.5 496.5 265.8 493.5 267.4 490.5 267.9 452.5 268 435.5 266.9 397.5 267.6 394.6 266.5 393.5 265 392.8 258.5 393.5 255.5 395.4 253.5 399.5 251.9 405.5 250.8 417.5 250.7 430.5 253.1 449.5 252.8 460.5 250.7 469.5 250.6 482.5 252.9 494.5 253.9 497.7 256.5ZM55.4 276.5 54.3 278.5 52.5 279.9 47.5 281.2 40.1 279.5 37.5 278 36.8 276.5 39.5 274.5 48.5 272.5 53.6 273.5 54.9 274.5ZM274.1 297.5 274 298.5 272.7 299.5 264.5 301.7 245 299.5 244.3 298.5 245.5 297.5 253.5 297.5 264.5 295.2 269.5 295.6ZM420.3 299.5 419.5 301.4 417.5 302.7 411.5 303.3 405.5 302.5 404 301.5 403.1 299.5 405.5 297.3 411.5 296.6 417.5 297.2 419.8 298.5ZM453.1 299.5 451.7 301.5 449.5 302.2 447.4 301.5 446.2 299.5 447.2 297.5 449.5 296.5 452.4 297.5ZM529.8 308.5 529.4 310.5 527.7 312.5 522.5 314.1 504.5 313.9 501.5 312.5 500.2 310.5 500.7 308.5 503.5 306.7 516.5 303.5 525.5 303.9 528.5 305.8ZM574.2 389.5 509.2 389.5 509.2 333.5 510 329.5 511.5 327.3 514.5 325.5 517.5 325 563.5 325 568.5 325.4 572 327.5 573.5 329.9 574.1 333.5Z"/><path fill="#ffecd9" fill-rule="evenodd" d="M121.6 168.5 122.8 166.5 128.5 161.4 141.4 153.5 145.5 152.1 155.5 151.5 158.7 150.5 161 148.5 164.5 143.4 169.9 138.5 171.8 133.5 172 116.5 172.7 112.5 174.6 109.5 181.5 104.2 182.5 101.5 183.7 90.5 185.9 87.5 189.5 86.1 193.5 87.7 198.5 94.4 204.5 98.6 208.6 104.5 215.4 109.5 219.5 115.6 226.5 120.8 231.5 126.8 234.5 128.1 242.5 128.5 246.1 129.5 248.6 131.5 252.5 137 254.5 138.2 259.5 137.6 267.5 133 276.5 130.3 288.5 129.7 309.5 126.4 316.5 125.9 334.5 128.4 349.5 131.9 356.8 135.5 365.5 142.5 371.9 150.5 375.5 152.4 385.5 155.7 387.5 157.9 391.7 165.5 395.5 168.4 415.5 170.4 448.5 172.3 459.5 172.3 472.5 169.5 491.5 169.3 503.5 167.3 516.5 166.7 544.5 159.1 555.5 157.8 557.8 156.5 561.5 151.7 565.5 150.5 568.5 150.5 571.5 151.5 573.8 153.5 577.5 159.1 580.5 160.4 583.5 158.8 587.5 153.9 590.5 152.7 594 154.5 599.7 162.5 615.9 171.5 618.2 174.5 621.5 182.3 626.2 187.5 625.5 189.5 622.5 190.9 605.5 191.4 597.7 190.5 583.5 185.2 576.5 184.2 537.5 184.1 517.5 183.2 502.5 184.1 471.5 184.2 425.5 186.9 397.5 186.5 390.7 188.5 384.5 193.7 381.5 194.9 345.5 195 340.5 195.8 337.4 198.5 337 201.5 338.5 203.8 343.4 207.5 343.7 209.5 340.5 211.1 332.5 211.5 327.3 210.5 320.5 206.8 312.5 207.8 309.5 207.2 307.1 204.5 303.2 196.5 300.5 193.1 292 188.5 286.5 184.2 281.5 182.3 277.5 181.8 273.5 182.5 270.5 184.5 267.3 188.5 264.5 189.6 261.5 188.9 256.5 185.6 254.5 185 237.5 187.9 229.5 187.8 224.5 186.2 218.1 181.5 201.5 178.7 178.5 180.7 165.5 185 158.5 186.5 136.5 187.2 131.5 185.7 127.6 182.5 125.2 178.5ZM338.3 168.5 340.5 169.8 343.5 170 351.5 169.1 355.3 167.5 357.3 164.5 357.4 160.5 356.7 157.5 353.5 155.4 349.1 156.5 339.5 164.6 338.2 166.5ZM644.7 200.5 644.2 197.5 645.5 195.1 651.5 188 659 183.5 664.5 177.1 666.5 176.3 669.5 176.4 673.8 177.5 677.3 179.5 677.4 180.5 673.5 185.5 670.4 191.5 662.9 197.5 657.5 204.2 654.5 204.4 646.5 201.8ZM193.2 201.5 191.5 204.9 188.5 207.9 185.5 208.9 178.5 209.3 168 208.5 160.5 207.1 156 204.5 154.4 201.5 156.3 199.5 162.3 197.5 168.5 196.4 177.5 196 189.5 197.5 192.6 199.5ZM356.5 266.5 352.6 272.5 347.5 275.4 340.5 277.2 331.5 276.9 328.5 274.3 324.8 262.5 318.6 257.5 317.6 255.5 318.5 253.9 320.5 252.9 328.5 252.5 333.1 253.5 340.5 258 351.5 258 353.5 258.9 355.7 261.5 356.7 264.5ZM420 256.5 419.5 257.9 417.5 259.3 411.5 260 405.5 259.2 403.5 257.5 403.3 256.5 405.8 254.5 411.5 254 417.5 254.5ZM474.2 256.5 473.5 258.1 471.5 259.4 465.5 260 459.5 259.1 457.7 257.5 457.5 256.5 460 254.5 465.5 254 471.7 254.5Z"/><path fill="#ffcbb0" fill-rule="evenodd" d="M355.4 145.5 355.3 146.5 353.5 148.3 339.7 155.5 329.5 162.7 319.5 165.8 315.4 168.5 314.2 172.5 314 197.5 312.5 200.5 310.5 201.2 308.5 199.6 306 192.5 303.5 188.8 295.4 181.5 290.5 175.9 287.5 174.3 267.5 177.6 253.5 178.5 234.5 185 229.5 184.2 221.4 178.5 200.5 176.7 189.5 178.1 178.5 178.6 158.5 185.1 139.5 185.8 133.5 184.7 129.5 181.8 127.1 177.5 125.7 170.5 126.4 166.5 131.4 161.5 144.5 153.7 156.5 152.6 159.5 151.6 161.9 149.5 165.5 144.1 170.5 139.5 172.2 136.5 172.8 133.5 173.4 113.5 175.5 110.1 182.4 104.5 183.5 101.5 184.3 91.5 186.5 88.4 189.5 87.2 191.5 87.6 193.5 89.1 197.5 94.7 203.9 99.5 208.3 105.5 214.5 110.1 219.5 117 225.6 121.5 230.6 127.5 233.5 129.1 242.5 129.6 245.5 130.6 247.9 132.5 251.5 137.7 254.4 139.5 258.5 139.4 267.5 136 276.5 133.8 286.5 133.3 313.5 129.3 320.5 128.9 333.5 130.7 343.4 134.5 349.7 138.5 353.6 142.5ZM619.9 187.5 619.1 188.5 615.5 189.3 603.5 189.6 598.5 188.6 586.5 184.1 579.5 182.7 537.5 182.5 518.5 181.3 502.5 182.5 450.5 183.3 426.5 185 397.5 184.2 392.5 185.1 383.5 188.3 373.5 188.5 355.5 187.3 345.5 185.7 339.5 183 338 181.5 337.4 179.5 338.6 177.5 340.3 176.5 360.2 170.5 366.6 167.5 372.5 163.4 375.5 162.6 382.5 162.9 390.5 169.5 396.5 171.8 427.5 172.5 449.5 174.2 459.5 174.2 472.5 172.1 492.5 171.9 504.5 170.1 515.5 170.3 543.5 162.1 557.4 160.5 559.5 159 563.5 153.9 567.5 152.4 571.5 153.7 576.5 160.7 579.5 162.5 583.5 161.8 588.5 156.3 591.5 155.8 597.6 164.5 612.5 172.5 614.9 174.5 616.8 177.5ZM649.5 199.5 649 198.5 654.5 190.5 661.8 186.5 666.5 180.3 668.7 180.5 668.8 183.5 666.5 189.7 660.3 193.5 655.5 200.3 652.5 200.6ZM188.6 201.5 187.5 203.3 185.5 204.3 178.5 205.5 170.5 203.8 167.1 201.5 167.7 200.5 169.7 199.5 178.5 198.2 186.3 199.5ZM352 266.5 349.5 269.2 342.5 272.6 339.5 273 334.5 272.2 332.5 271.2 331.1 269.5 328.2 260.5 325.6 256.5 326.8 255.5 329.8 255.5 337 260.5 349.6 262.5 352 264.5Z"/><path fill="#ffa880" fill-rule="evenodd" d="M127.9 171.5 127.9 168.5 128.7 166.5 132.5 162.7 145.5 154.7 156.5 153.9 160.5 152.7 163 150.5 166.5 144.9 171.5 139.9 173.6 134.5 174.4 113.5 176.5 110.5 181.5 107 183.5 104.6 184.5 101.5 185.4 91.5 187.5 88.9 189.5 88.3 192.5 89.6 196.9 95.5 203.5 100.4 207.5 106.1 213.6 110.5 218.6 117.5 225.1 122.5 230 128.5 233.5 130.2 244.5 131.4 247.2 133.5 250.6 138.5 253.5 140.5 257.5 140.9 275.5 136.9 287.5 136.1 297.5 134.3 322.5 131.7 330.5 132.5 336 134.5 339.5 137.5 343.7 143.5 344.3 145.5 342.1 148.5 335.5 153 309.5 164.6 286.5 166.7 269.5 173.7 246.5 177 234.5 181.9 230.5 181.2 225.5 177.2 222.5 175.9 201.5 175 177.5 176.9 157.5 183.9 147.5 184.6 138.5 184.3 134.5 183.4 130.7 180.5 129.1 177.5ZM614.8 180.5 614.3 183.5 612.9 185.5 610.5 186.4 601.5 186.2 592.5 183.2 581.5 181.1 537.5 180.8 517.5 177.8 502.5 180.7 451.5 181.2 425.5 183.2 397.5 181.9 384.5 185.2 371.5 185.3 360.5 183.7 353 181.5 350.7 179.5 352.3 177.5 356.8 175.5 372.5 170.1 377.5 169.5 383.5 169.8 393.5 173.9 397.5 174.7 427.5 174.3 457.5 176.4 472.5 174.9 492.5 174.7 503.5 173.7 516.5 176.3 523.5 174.1 530.3 169.5 537.7 166.5 546.5 164.2 555.5 163.8 558.5 163 560.6 161.5 565.1 155.5 568.5 154.3 570.9 155.5 575.5 162.4 578.5 164.5 581.5 165 584.5 164.5 590.5 161.3 593.9 166.5 596.3 168.5 612.5 175.8 614 177.5Z"/><path fill="#ff7a45" fill-rule="evenodd" d="M129.7 171.5 129.8 168.5 131.5 165.5 144.5 156.7 148.5 155.6 158.5 155.1 162.5 153.5 164.5 151.4 167.5 145.7 172.5 140.5 174.6 134.5 175.1 114.5 176.8 111.5 182.5 107.5 184.2 105.5 185.3 102.5 186.1 92.5 187.5 90.3 189.5 89.4 192 90.5 196.5 96.5 202.5 100.8 207.5 107.5 213.2 111.5 218.1 118.5 224.5 123.4 229.4 129.5 233.5 131.4 241.5 131.8 244.5 132.7 246.5 134.5 249.9 139.5 253.5 141.8 258.5 142.1 298.5 136.9 308.9 136.5 322.5 134.5 329.5 135 332.5 136.3 335.1 139.5 337.2 144.5 336.3 147.5 332.5 150.5 309.5 159.2 298.5 160.1 281.5 163.6 277.5 165 271 169.5 266.5 171.5 241.5 175.1 233.5 178 228.5 174.9 224.5 173.7 200.5 173.5 176.5 175.4 169.5 177.2 158.2 182.5 143.5 183.4 136.5 182.5 133.5 181 131 177.5ZM609.9 179.5 608.5 180.7 603.5 181 583.5 178.7 540.5 178.3 535.7 177.5 534.7 176.5 536.5 173.7 543.9 168.5 547.5 167.4 556.5 166.9 559.5 166 562.6 163.5 566.4 157.5 568.5 156.7 570.5 158.1 573.5 163.6 576.5 166.2 585 169.5 592.5 174.3 608.5 178.3ZM393.6 178.5 390.7 180.5 386.5 182 378.5 182.8 367.7 181.5 364.5 180.4 362.8 178.5 365.3 176.5 371.5 174.2 379.5 173.3 386.5 174.4 391.3 176.5ZM443.4 178.5 442.6 179.5 438.2 180.5 422.5 181.1 413.9 180.5 410.5 179.5 409.4 178.5 410.9 177.5 414.5 176.8 422.5 176.4 437.5 177Z"/><path fill="#ff5219" fill-rule="evenodd" d="M131.7 172.5 131.5 169.5 132.8 166.5 145.5 158.1 148.5 157.2 161.5 156.3 164.5 155.1 166.1 153.5 168.2 147.5 173.3 141.5 175 137.5 176.1 114.5 177.5 112.2 183.1 108.5 184.8 106.5 186.3 102.5 186.9 93.5 188 91.5 189.5 90.7 191.5 91.6 195.9 97.5 201.9 101.5 206.5 108.1 212.9 112.5 217.4 119.5 223.5 123.9 228.5 130.4 232.5 132.4 243.5 133.5 245.8 135.5 248.8 140.5 252.5 142.9 256.5 143.5 262.5 143.3 297.5 139.6 320.5 138.5 328.5 140.4 330.5 142.3 331.5 144.5 330.9 146.5 328.2 148.5 310.5 154.7 297.5 155.7 287.5 158.5 276.5 160.1 273.5 161.8 265.8 168.5 256.5 170.8 242.5 171.7 238.5 170.7 234.5 168.3 232.5 167.9 227.5 170.1 223.5 170.9 177.5 173.6 168.5 175.5 157.5 181.3 147.5 182.3 139.5 181.6 135.5 180.4 132.9 177.5ZM568.5 172.2 565.5 170.5 565.1 168.5 566.5 165.3 568.5 163.4 570.5 165.6 572.2 169.5 570.9 171.5Z"/><path fill="#e03500" fill-rule="evenodd" d="M133.6 171.5 133.8 168.5 135.3 166.5 146.5 160.1 149.5 159.3 164.5 158.8 168.5 157 169.5 154.5 170.3 148.5 174.5 142.3 176.2 137.5 177.3 114.5 178.8 112.5 184.5 109 186.3 106.5 187.4 102.5 188 94.5 189.5 92.5 191.4 93.5 195.1 98.5 201.4 102.5 205.5 109 212.3 113.5 215.6 119.5 222.5 124.7 227.5 131.5 232.5 133.8 242.5 134.7 244.5 136.2 247.5 141.6 250.5 143.8 255.5 145 271.5 145.8 288.5 143.1 307.5 142.3 317.5 143.4 320.1 144.5 320.8 145.5 320.5 146.5 317.3 148.5 308.5 151.4 297.5 151.8 286.5 153.9 275.5 152.6 272.5 154.4 261.9 165.5 257.8 167.5 253.5 168.4 243.5 168.4 236.5 164.1 232.5 163.4 221.5 168.4 211.5 168.8 190.5 171.5 177.5 171.9 169.5 173.1 165.5 174.5 157.5 179.8 147.5 181.1 141.4 180.5 136.5 178.8 134.7 176.5Z"/><path fill="#b82200" fill-rule="evenodd" d="M136.2 171.5 136.3 169.5 137.5 167.8 146.5 163.2 150.5 162.5 166.5 162.3 169.5 161.3 171.6 159.5 173 156.5 173.6 148.5 176.3 142.5 177.6 137.5 178.3 115.5 179.6 113.5 184.5 111 186.9 108.5 188.1 105.5 189.5 97.2 190.5 96.4 194.5 100.1 200.5 103.5 204.5 110.2 211.5 114.5 215.1 121.5 220.9 125.5 226.5 133.1 232.5 135.8 241.5 136.6 242.7 137.5 244.8 142.5 246.5 144.5 249.5 146 257.5 148 259.8 150.5 259.9 154.5 258.9 157.5 255.5 161.1 252.5 162.3 245.5 162.2 238.5 159.7 233.5 159.1 230.5 159.9 220.5 164.8 211.5 165.3 190.5 169.8 176.5 170.2 167.5 171.2 162.5 173.3 156.5 178.1 148.5 179.6 144.5 179.5 139.3 177.5 137.5 175.5Z"/><path fill="#8c0000" fill-rule="evenodd" d="M171.7 166.5 175.5 162 177 157.5 177.5 147.6 179.8 135.5 180.2 116.5 181.5 114.8 187.8 111.5 191.5 102.4 196.8 103.5 199.4 105.5 202.5 111.9 209.6 115.5 213.2 123.5 218.5 128.2 226.6 137.5 227.5 140.5 227.2 154.5 224.9 157.5 221.5 159.2 210.5 159.8 204.5 161 190.5 167.2 179.5 167.6ZM143.1 174.5 142.4 171.5 142.8 169.5 146.5 167.1 154.5 166.6 162.6 167.5 162.3 168.5 151 176.5 146.5 177.2 144.5 176.5Z"/></g><path fill="#fff" stroke="#000" stroke-width="1.3" stroke-linejoin="round" d="M-12.1 117.0 -13.6 115.9 -16.0 114.4 -19.3 114.8 -19.1 111.1 -20.6 109.6 -18.8 105.9 -19.3 102.9 -20.1 101.8 -17.3 100.3 -12.3 100.5 -8.2 100.8 -3.9 101.0 -2.6 98.4 -2.4 94.9 -4.8 92.7 -9.8 91.4 -10.4 90.1 -6.5 89.3 -3.5 89.5 -4.1 87.3 -2.2 88.0 0.4 87.8 3.5 86.2 4.1 84.5 6.9 83.6 8.7 82.3 10.2 80.4 11.9 79.3 15.2 78.9 18.6 78.2 18.6 75.8 17.5 74.8 17.8 71.9 23.0 70.0 22.8 71.5 22.1 73.2 21.7 75.8 23.8 77.1 27.1 77.1 30.3 78.0 34.7 77.3 40.1 76.3 43.3 76.7 45.7 74.3 45.5 71.9 48.8 70.0 52.0 71.5 50.9 68.2 53.1 66.3 60.7 66.1 65.4 65.2 62.8 64.6 54.2 64.6 48.8 65.0 46.4 62.8 46.6 58.5 52.0 54.6 55.0 54.2 52.4 52.4 47.7 52.9 45.5 55.2 41.2 58.1 37.9 60.0 37.0 62.8 40.7 65.0 39.0 66.5 36.0 70.4 34.7 73.4 30.8 75.0 27.9 74.5 27.1 72.6 23.8 67.4 22.8 66.1 20.6 67.2 15.2 69.3 12.1 67.4 10.8 64.4 10.8 61.1 13.4 59.6 17.3 57.9 21.7 56.3 26.0 53.5 28.2 50.9 31.4 48.1 34.7 46.6 39.0 44.4 43.3 43.3 49.8 42.0 55.9 41.0 60.7 41.2 67.2 42.7 71.5 44.9 78.0 45.5 86.7 48.1 89.3 50.3 88.8 52.0 82.3 54.6 87.8 55.2 95.3 51.6 96.4 47.0 99.7 47.7 108.3 48.1 114.8 46.6 119.2 47.2 125.7 45.9 131.1 43.8 138.7 44.9 145.2 45.9 144.1 42.2 148.4 37.9 151.7 36.0 154.9 37.9 157.1 41.2 157.1 47.7 160.3 48.8 159.2 41.2 162.5 37.9 169.0 38.4 174.4 35.8 177.7 35.1 188.5 33.6 195.0 31.4 205.8 30.3 216.7 29.2 225.3 26.6 234.0 28.6 242.7 30.8 245.9 35.8 253.5 35.8 260.0 36.8 268.7 35.5 277.3 37.9 281.7 41.2 292.5 39.9 303.3 37.9 316.3 38.4 325.0 40.1 335.8 41.2 346.7 43.3 357.5 44.2 368.3 43.3 379.2 43.8 390.0 45.7 398.7 48.8 407.3 50.9 412.3 52.0 408.4 55.2 405.2 55.7 396.5 54.2 392.2 53.1 383.5 54.8 387.8 59.6 377.0 61.1 368.3 65.0 357.5 65.0 353.2 66.1 351.0 69.3 353.2 71.5 352.1 73.7 346.7 78.0 343.4 81.2 339.5 84.5 338.0 81.2 337.6 75.8 339.7 70.4 343.4 69.3 347.8 61.7 335.8 66.5 329.3 67.2 320.7 66.5 309.8 66.5 304.4 69.3 296.8 76.9 303.3 78.0 306.6 80.2 304.4 84.5 304.0 89.9 300.1 93.2 294.7 98.6 288.2 102.3 283.2 103.3 281.0 106.6 278.4 109.4 280.4 114.8 280.1 118.7 276.2 120.0 273.6 120.2 274.1 117.0 274.3 113.7 271.9 112.7 270.8 109.4 269.3 108.3 264.3 107.2 262.6 110.9 264.8 107.7 262.2 106.4 257.8 109.6 255.0 110.7 257.4 113.7 257.8 114.6 261.7 113.1 265.4 114.0 262.2 115.9 260.6 117.0 258.5 119.8 261.7 124.6 264.1 127.8 264.1 130.0 263.2 133.2 259.3 138.7 255.9 141.9 252.4 144.5 247.4 146.7 242.7 147.8 239.2 151.0 237.7 148.4 234.6 148.2 231.4 150.1 229.2 153.8 230.7 157.1 234.6 161.6 236.6 167.9 235.7 171.2 231.8 172.5 230.7 174.2 227.5 176.4 227.1 172.7 224.2 172.0 222.9 169.0 218.6 167.5 216.7 165.8 214.9 172.2 217.1 176.8 217.5 179.4 219.9 180.0 221.4 181.6 224.0 186.3 225.8 192.0 224.0 192.2 219.7 188.9 217.5 185.7 217.3 182.4 213.4 177.7 213.6 173.3 212.8 167.9 211.5 159.2 208.0 158.6 204.5 160.3 205.4 153.8 201.5 150.6 199.8 148.4 198.5 146.0 196.1 147.3 192.8 147.8 188.5 148.8 188.3 150.6 184.6 153.0 182.0 155.6 178.3 159.0 174.0 161.4 173.8 166.8 172.9 172.7 169.4 175.7 167.9 177.4 165.3 174.4 163.1 169.0 161.2 163.6 158.6 158.2 157.7 153.8 157.3 149.5 156.2 146.9 152.8 149.9 149.5 146.7 151.7 145.4 148.4 144.1 145.2 141.3 138.7 140.2 133.5 140.4 127.4 139.5 124.1 139.1 123.1 136.3 118.7 137.6 113.7 135.2 110.1 132.2 108.5 129.8 105.1 130.0 103.8 130.2 105.1 133.7 107.5 136.5 108.8 139.1 110.9 138.4 111.8 140.4 111.4 142.1 114.8 142.8 118.3 142.1 121.3 139.8 122.0 138.2 122.2 141.0 123.5 143.0 127.0 143.9 129.6 146.2 126.7 150.8 125.0 153.8 121.3 156.2 117.0 158.4 113.1 161.2 106.2 163.6 97.5 167.3 94.2 167.5 92.7 163.1 92.3 159.2 89.9 154.9 87.8 152.1 84.7 148.4 82.3 143.0 79.1 138.7 75.8 134.3 75.8 131.1 74.3 134.3 72.6 133.2 70.6 130.2 72.6 135.4 73.7 137.6 76.9 143.0 78.0 146.2 80.8 152.8 83.4 156.0 85.6 160.8 89.9 165.1 93.6 169.4 95.3 172.2 101.8 170.7 106.2 170.5 110.9 169.4 110.5 172.2 109.4 175.5 106.2 182.0 101.8 187.4 96.4 191.8 91.0 197.2 87.8 200.4 85.1 205.0 84.5 209.1 85.6 212.3 87.8 217.7 88.0 226.4 84.5 231.4 79.9 233.8 75.4 237.9 76.9 242.7 76.9 247.0 71.5 250.2 70.6 251.3 71.1 255.7 67.2 259.8 60.7 265.8 55.5 268.7 47.7 269.1 43.3 270.4 40.1 269.3 39.6 265.4 36.8 257.8 32.9 252.8 31.4 244.6 28.8 238.3 25.6 232.5 26.4 225.3 29.5 221.0 29.0 216.7 28.6 214.1 26.6 208.0 26.0 205.8 25.6 204.8 22.8 201.5 20.1 197.2 20.6 194.1 21.0 189.6 20.8 186.3 18.4 184.8 15.2 185.5 13.0 185.7 10.8 182.9 7.4 181.1 2.6 181.8 -0.4 183.1 -4.3 184.6 -8.7 183.5 -16.2 185.5 -19.5 184.2 -23.4 181.3 -28.6 176.6 -31.4 172.2 -33.6 170.1 -36.2 167.9 -37.9 163.1 -35.8 159.7 -34.7 155.8 -35.8 152.1 -36.8 149.5 -34.7 144.1 -31.4 138.7 -28.2 134.8 -21.7 131.1 -20.8 128.9 -19.9 124.6 -16.2 122.0 -13.6 119.2 -12.8 117.4 -11.5 117.2 -6.5 118.5 -2.2 117.6 1.1 117.0 6.5 115.3 14.1 114.6 21.2 114.2 23.8 114.8 22.8 117.0 24.0 118.7 21.9 120.9 24.9 123.3 28.6 123.7 32.9 125.0 36.8 127.8 41.2 129.3 43.5 126.7 43.3 125.4 47.7 123.7 52.0 125.7 54.6 126.5 64.8 127.4 67.2 126.5 70.0 127.2 74.1 127.2 75.6 123.9 76.9 120.2 77.8 117.4 78.4 115.7 76.9 115.7 75.0 115.3 70.4 116.8 66.3 115.3 61.7 115.5 59.1 114.8 57.4 112.0 57.4 109.4 56.8 108.3 56.3 106.6 52.0 106.8 49.6 107.0 49.0 109.2 49.8 112.0 51.3 112.9 49.4 113.7 48.8 116.1 47.0 115.3 45.9 113.1 45.5 111.6 43.8 109.2 42.0 107.5 42.2 104.4 40.1 102.9 35.8 100.8 32.5 98.6 29.9 97.7 29.7 96.2 26.6 96.6 26.9 99.2 29.5 100.8 30.8 103.1 34.7 105.3 40.1 108.1 37.3 107.2 36.0 110.1 34.9 112.7 33.8 112.7 34.7 110.1 32.5 107.7 31.0 106.6 28.2 105.5 24.9 103.1 22.8 100.8 19.5 98.8 15.8 100.3 13.0 101.6 11.7 101.2 8.7 100.8 6.7 101.8 6.9 104.0 4.8 105.3 1.7 106.2 -0.9 109.4 0.4 110.9 -1.1 112.0 -1.7 113.5 -4.3 115.3 -9.5 115.5 -11.5 116.8ZM767.9 117.0 766.3 115.9 764.0 114.4 760.7 114.8 760.9 111.1 759.4 109.6 761.1 105.9 760.7 102.9 759.8 101.8 762.7 100.3 767.6 100.5 771.8 100.8 776.1 101.0 777.4 98.4 777.6 94.9 775.2 92.7 770.2 91.4 769.6 90.1 773.5 89.3 776.5 89.5 775.9 87.3 777.8 88.0 780.4 87.8 783.5 86.2 784.1 84.5 786.9 83.6 788.7 82.3 790.2 80.4 791.9 79.3 795.2 78.9 798.6 78.2 798.6 75.8 797.5 74.8 797.8 71.9 803.0 70.0 802.8 71.5 802.1 73.2 801.7 75.8 803.8 77.1 807.1 77.1 810.3 78.0 814.7 77.3 820.1 76.3 823.3 76.7 825.7 74.3 825.5 71.9 828.8 70.0 832.0 71.5 830.9 68.2 833.1 66.3 840.7 66.1 845.4 65.2 842.8 64.6 834.2 64.6 828.8 65.0 826.4 62.8 826.6 58.5 832.0 54.6 835.0 54.2 832.4 52.4 827.7 52.9 825.5 55.2 821.2 58.1 817.9 60.0 817.0 62.8 820.7 65.0 819.0 66.5 816.0 70.4 814.7 73.4 810.8 75.0 807.9 74.5 807.1 72.6 803.8 67.4 802.8 66.1 800.6 67.2 795.2 69.3 792.1 67.4 790.8 64.4 790.8 61.1 793.4 59.6 797.3 57.9 801.7 56.3 806.0 53.5 808.2 50.9 811.4 48.1 814.7 46.6 819.0 44.4 823.3 43.3 829.8 42.0 835.9 41.0 840.7 41.2 847.2 42.7 851.5 44.9 858.0 45.5 866.7 48.1 869.3 50.3 868.8 52.0 862.3 54.6 867.7 55.2 875.3 51.6 876.4 47.0 879.7 47.7 888.3 48.1 894.8 46.6 899.2 47.2 905.7 45.9 911.1 43.8 918.7 44.9 925.2 45.9 924.1 42.2 928.4 37.9 931.7 36.0 934.9 37.9 937.1 41.2 937.1 47.7 940.3 48.8 939.2 41.2 942.5 37.9 949.0 38.4 954.4 35.8 957.7 35.1 968.5 33.6 975.0 31.4 985.8 30.3 996.7 29.2 1005.3 26.6 1014.0 28.6 1022.7 30.8 1025.9 35.8 1033.5 35.8 1040.0 36.8 1048.7 35.5 1057.3 37.9 1061.7 41.2 1072.5 39.9 1083.3 37.9 1096.3 38.4 1105.0 40.1 1115.8 41.2 1126.7 43.3 1137.5 44.2 1148.3 43.3 1159.2 43.8 1170.0 45.7 1178.7 48.8 1187.3 50.9 1192.3 52.0 1188.4 55.2 1185.2 55.7 1176.5 54.2 1172.2 53.1 1163.5 54.8 1167.8 59.6 1157.0 61.1 1148.3 65.0 1137.5 65.0 1133.2 66.1 1131.0 69.3 1133.2 71.5 1132.1 73.7 1126.7 78.0 1123.4 81.2 1119.5 84.5 1118.0 81.2 1117.6 75.8 1119.7 70.4 1123.4 69.3 1127.8 61.7 1115.8 66.5 1109.3 67.2 1100.7 66.5 1089.8 66.5 1084.4 69.3 1076.8 76.9 1083.3 78.0 1086.6 80.2 1084.4 84.5 1084.0 89.9 1080.1 93.2 1074.7 98.6 1068.2 102.3 1063.2 103.3 1061.0 106.6 1058.4 109.4 1060.4 114.8 1060.1 118.7 1056.2 120.0 1053.6 120.2 1054.1 117.0 1054.3 113.7 1051.9 112.7 1050.8 109.4 1049.3 108.3 1044.3 107.2 1042.6 110.9 1044.8 107.7 1042.2 106.4 1037.8 109.6 1035.0 110.7 1037.4 113.7 1037.8 114.6 1041.7 113.1 1045.4 114.0 1042.2 115.9 1040.6 117.0 1038.5 119.8 1041.7 124.6 1044.1 127.8 1044.1 130.0 1043.2 133.2 1039.3 138.7 1035.9 141.9 1032.4 144.5 1027.4 146.7 1022.7 147.8 1019.2 151.0 1017.7 148.4 1014.6 148.2 1011.4 150.1 1009.2 153.8 1010.7 157.1 1014.6 161.6 1016.6 167.9 1015.7 171.2 1011.8 172.5 1010.7 174.2 1007.5 176.4 1007.1 172.7 1004.2 172.0 1002.9 169.0 998.6 167.5 996.7 165.8 994.9 172.2 997.1 176.8 997.5 179.4 999.9 180.0 1001.4 181.6 1004.0 186.3 1005.8 192.0 1004.0 192.2 999.7 188.9 997.5 185.7 997.3 182.4 993.4 177.7 993.6 173.3 992.8 167.9 991.5 159.2 988.0 158.6 984.5 160.3 985.4 153.8 981.5 150.6 979.8 148.4 978.5 146.0 976.1 147.3 972.8 147.8 968.5 148.8 968.3 150.6 964.6 153.0 962.0 155.6 958.3 159.0 954.0 161.4 953.8 166.8 952.9 172.7 949.4 175.7 947.9 177.4 945.3 174.4 943.1 169.0 941.2 163.6 938.6 158.2 937.7 153.8 937.3 149.5 936.2 146.9 932.7 149.9 929.5 146.7 931.7 145.4 928.4 144.1 925.2 141.3 918.7 140.2 913.5 140.4 907.4 139.5 904.1 139.1 903.1 136.3 898.7 137.6 893.7 135.2 890.1 132.2 888.5 129.8 885.1 130.0 883.8 130.2 885.1 133.7 887.5 136.5 888.8 139.1 890.9 138.4 891.8 140.4 891.4 142.1 894.8 142.8 898.3 142.1 901.3 139.8 902.0 138.2 902.2 141.0 903.5 143.0 907.0 143.9 909.6 146.2 906.7 150.8 905.0 153.8 901.3 156.2 897.0 158.4 893.1 161.2 886.2 163.6 877.5 167.3 874.2 167.5 872.7 163.1 872.3 159.2 869.9 154.9 867.7 152.1 864.7 148.4 862.3 143.0 859.1 138.7 855.8 134.3 855.8 131.1 854.3 134.3 852.6 133.2 850.6 130.2 852.6 135.4 853.7 137.6 856.9 143.0 858.0 146.2 860.8 152.8 863.4 156.0 865.6 160.8 869.9 165.1 873.6 169.4 875.3 172.2 881.8 170.7 886.2 170.5 890.9 169.4 890.5 172.2 889.4 175.5 886.2 182.0 881.8 187.4 876.4 191.8 871.0 197.2 867.7 200.4 865.1 205.0 864.5 209.1 865.6 212.3 867.7 217.7 868.0 226.4 864.5 231.4 859.9 233.8 855.4 237.9 856.9 242.7 856.9 247.0 851.5 250.2 850.6 251.3 851.1 255.7 847.2 259.8 840.7 265.8 835.5 268.7 827.7 269.1 823.3 270.4 820.1 269.3 819.6 265.4 816.8 257.8 812.9 252.8 811.4 244.6 808.8 238.3 805.6 232.5 806.4 225.3 809.5 221.0 809.0 216.7 808.6 214.1 806.6 208.0 806.0 205.8 805.6 204.8 802.8 201.5 800.1 197.2 800.6 194.1 801.0 189.6 800.8 186.3 798.4 184.8 795.2 185.5 793.0 185.7 790.8 182.9 787.4 181.1 782.6 181.8 779.6 183.1 775.7 184.6 771.3 183.5 763.8 185.5 760.5 184.2 756.6 181.3 751.4 176.6 748.6 172.2 746.4 170.1 743.8 167.9 742.1 163.1 744.2 159.7 745.3 155.8 744.2 152.1 743.2 149.5 745.3 144.1 748.6 138.7 751.8 134.8 758.3 131.1 759.2 128.9 760.1 124.6 763.8 122.0 766.3 119.2 767.2 117.4 768.5 117.2 773.5 118.5 777.8 117.6 781.1 117.0 786.5 115.3 794.1 114.6 801.2 114.2 803.8 114.8 802.8 117.0 804.0 118.7 801.9 120.9 804.9 123.3 808.6 123.7 812.9 125.0 816.8 127.8 821.2 129.3 823.5 126.7 823.3 125.4 827.7 123.7 832.0 125.7 834.6 126.5 844.8 127.4 847.2 126.5 850.0 127.2 854.1 127.2 855.6 123.9 856.9 120.2 857.8 117.4 858.4 115.7 856.9 115.7 855.0 115.3 850.4 116.8 846.3 115.3 841.7 115.5 839.1 114.8 837.4 112.0 837.4 109.4 836.8 108.3 836.3 106.6 832.0 106.8 829.6 107.0 829.0 109.2 829.8 112.0 831.3 112.9 829.4 113.7 828.8 116.1 827.0 115.3 825.9 113.1 825.5 111.6 823.8 109.2 822.0 107.5 822.2 104.4 820.1 102.9 815.8 100.8 812.5 98.6 809.9 97.7 809.7 96.2 806.6 96.6 806.9 99.2 809.5 100.8 810.8 103.1 814.7 105.3 820.1 108.1 817.3 107.2 816.0 110.1 814.9 112.7 813.8 112.7 814.7 110.1 812.5 107.7 811.0 106.6 808.2 105.5 804.9 103.1 802.8 100.8 799.5 98.8 795.8 100.3 793.0 101.6 791.7 101.2 788.7 100.8 786.7 101.8 786.9 104.0 784.8 105.3 781.7 106.2 779.1 109.4 780.4 110.9 778.9 112.0 778.3 113.5 775.7 115.3 770.5 115.5 768.5 116.8ZM440.3 40.5 450.7 41.6 459.3 42.7 474.5 44.0 485.3 45.5 488.6 44.4 498.3 43.3 509.2 44.4 520.0 45.5 530.8 47.7 541.7 47.7 552.5 46.6 567.7 48.1 574.2 47.7 572.0 47.0 575.2 39.4 578.5 40.1 580.7 44.4 587.2 46.6 593.7 48.8 595.8 44.4 602.3 49.8 598.0 52.0 591.5 55.9 582.8 58.5 576.3 62.8 575.2 67.2 579.6 71.5 589.3 73.7 601.2 75.8 602.3 80.6 606.7 83.8 608.8 76.9 613.2 72.6 612.1 68.2 611.0 63.9 612.1 59.6 621.8 60.2 628.3 62.8 629.4 67.2 637.0 68.2 640.2 64.4 645.7 70.4 648.9 74.8 655.4 78.0 659.3 81.7 655.4 83.6 650.0 86.2 641.3 86.0 635.9 86.7 631.6 88.8 627.2 93.2 630.5 91.0 638.1 88.4 640.2 89.3 639.2 91.4 640.2 94.9 642.4 95.8 647.8 96.2 650.0 94.2 650.4 95.3 642.4 98.4 637.4 100.8 637.0 98.6 640.2 96.8 634.8 97.9 631.1 99.2 627.9 100.5 626.6 102.9 628.3 104.4 626.2 105.1 622.9 105.7 619.7 107.0 619.7 109.4 617.5 110.9 616.4 113.7 615.3 115.0 616.4 118.7 613.2 120.2 609.9 121.8 606.9 123.9 604.5 126.7 603.8 130.0 605.4 133.5 606.4 137.6 605.8 140.4 604.3 140.6 602.8 138.4 600.8 135.4 600.6 132.2 598.0 130.0 595.0 130.6 591.5 129.1 589.3 128.5 586.3 129.6 586.3 132.2 583.9 131.7 580.7 130.9 576.3 130.9 574.2 131.7 569.4 134.8 569.0 138.7 568.1 146.2 569.4 150.6 571.8 153.4 575.2 155.6 580.7 154.7 583.9 152.1 584.3 149.5 591.5 148.4 590.4 152.8 588.9 156.0 588.7 160.3 593.7 160.5 599.5 162.5 598.9 169.0 598.6 171.4 601.2 174.4 606.7 174.8 611.4 175.9 614.2 176.6 616.4 172.5 619.7 170.7 624.0 168.1 625.1 171.2 627.9 169.9 628.3 169.0 632.7 172.2 637.0 172.0 641.3 172.0 645.7 172.0 647.8 175.5 648.9 176.6 653.9 180.3 660.4 182.4 666.7 184.4 669.5 187.4 671.7 191.1 671.7 195.0 674.9 197.2 683.6 200.4 690.1 201.3 696.6 203.0 703.7 207.6 704.4 212.3 702.4 216.0 699.8 218.8 696.6 223.2 695.5 227.5 695.1 233.3 693.3 237.9 691.2 242.7 686.4 244.8 682.5 246.6 679.7 247.0 674.9 251.3 674.7 255.7 671.7 260.0 669.5 263.2 666.7 264.8 664.1 268.0 661.0 270.6 658.2 270.6 655.4 269.8 653.2 268.7 655.4 271.9 657.1 273.9 655.4 277.3 652.2 278.8 645.7 279.3 645.2 282.8 639.2 283.8 641.3 287.1 639.2 288.2 638.1 292.5 633.8 294.7 637.0 298.6 633.1 302.2 630.5 305.5 631.8 308.5 631.6 310.9 634.8 313.7 631.6 314.2 626.2 313.1 619.7 308.8 617.5 303.3 616.4 299.0 619.7 295.8 619.7 290.3 620.8 286.0 620.8 281.7 620.8 275.2 624.0 268.7 624.9 266.5 625.1 260.0 626.2 253.5 627.2 247.0 627.9 238.8 627.7 235.1 625.1 232.5 619.7 229.0 614.9 224.9 612.9 221.0 608.8 212.3 604.1 205.8 603.8 204.8 606.7 201.5 606.7 199.8 604.7 197.2 606.7 192.8 609.3 191.1 612.1 186.8 612.3 180.9 611.0 178.8 607.8 175.7 605.6 177.7 602.3 177.0 598.4 176.4 594.3 173.3 593.9 170.7 590.4 167.0 587.2 165.8 581.8 164.7 578.5 161.2 575.2 159.9 570.9 161.0 565.9 159.2 560.1 157.1 554.7 153.8 551.4 150.6 551.8 147.8 549.5 144.7 546.0 140.8 542.8 137.6 539.5 134.3 536.2 131.1 533.0 127.8 531.5 126.3 535.2 132.2 537.3 136.5 540.6 141.9 541.0 142.8 542.8 145.2 540.6 144.1 537.3 141.3 536.2 137.6 531.9 134.8 529.8 131.1 527.4 126.1 526.1 124.1 523.5 121.8 518.7 120.0 515.9 115.7 514.6 113.1 511.8 109.4 510.7 107.5 510.9 104.0 511.3 98.6 511.3 94.9 509.8 90.1 513.5 89.9 513.1 88.4 509.2 85.6 503.7 82.3 498.3 76.9 494.0 73.7 487.5 69.3 482.1 67.8 476.7 65.4 468.0 65.0 461.5 63.9 456.1 66.1 451.7 66.7 452.8 62.8 448.5 67.2 445.2 70.4 439.8 72.6 433.3 74.8 426.8 76.3 423.6 76.9 431.2 73.7 437.7 70.4 439.8 67.8 433.3 67.6 429.0 65.4 423.1 63.9 421.4 60.7 423.6 57.4 431.2 55.5 431.2 54.6 420.3 55.0 416.0 52.9 423.6 50.9 429.6 51.6 424.7 48.8 419.2 47.0 426.8 44.4 433.3 42.0ZM-12.3 86.7 -9.1 85.8 -2.2 85.1 3.0 84.1 3.7 81.0 0.6 80.2 -0.4 78.0 -2.6 76.7 -3.5 74.5 -5.4 73.7 -4.3 71.3 -7.6 70.0 -6.5 68.0 -10.8 68.0 -12.6 70.4 -12.1 72.6 -11.9 74.8 -10.4 76.3 -7.1 76.0 -6.5 78.4 -9.8 79.5 -9.1 81.2 -11.3 82.8 -7.1 83.6 -9.8 84.3ZM767.6 86.7 770.9 85.8 777.8 85.1 783.0 84.1 783.7 81.0 780.6 80.2 779.6 78.0 777.4 76.7 776.5 74.5 774.6 73.7 775.7 71.3 772.4 70.0 773.5 68.0 769.2 68.0 767.4 70.4 767.9 72.6 768.1 74.8 769.6 76.3 772.8 76.0 773.5 78.4 770.2 79.5 770.9 81.2 768.7 82.8 772.8 83.6 770.2 84.3ZM767.0 82.3 766.6 79.5 767.9 76.7 766.6 75.4 763.8 75.2 761.6 76.9 758.3 77.6 757.9 79.3 759.4 81.0 757.7 82.5 759.4 83.4 762.7 82.8 766.1 81.9ZM732.3 56.3 728.0 53.1 732.3 51.1 745.3 50.9 748.6 53.1 749.7 55.2 739.9 57.6ZM23.8 24.9 30.3 22.1 36.8 21.7 47.7 21.0 58.5 21.2 58.5 24.3 49.8 27.1 41.2 27.7 32.5 28.2 28.2 26.4ZM112.7 40.1 123.5 41.8 121.3 37.9 130.0 33.6 143.0 30.8 149.5 28.6 134.3 29.2 121.3 33.6 114.8 36.8ZM173.3 20.6 195.0 19.5 216.7 22.8 208.0 24.9 195.0 22.8ZM296.8 31.4 307.7 30.3 325.0 31.9 316.3 33.6 303.3 33.6ZM386.8 40.7 394.3 40.1 391.1 41.6ZM621.8 24.9 632.7 30.3 645.7 30.3 654.3 31.4 658.7 34.7 661.9 41.2 667.3 44.4 664.1 49.8 667.3 54.2 671.7 60.7 676.0 63.3 684.7 65.4 686.8 63.9 691.2 58.5 697.7 53.1 710.7 47.7 725.8 44.4 732.3 41.2 733.4 36.8 738.8 32.5 741.0 27.1 738.8 21.7 754.0 18.4 736.7 16.2 715.0 14.1 682.5 16.2 654.3 17.3 643.5 18.4 628.3 23.8ZM606.7 35.3 615.3 37.5 626.2 41.2 634.8 44.4 634.8 47.7 645.7 50.3 642.4 51.4 645.9 52.0 640.2 54.2 638.1 58.5 632.7 59.6 626.2 56.8 619.7 55.2 611.0 55.2 617.5 53.5 621.8 50.9 619.7 47.7 612.1 46.6 611.0 43.3 602.3 44.4 595.8 42.2 589.3 41.6 585.0 39.6 593.7 35.3 602.3 35.1ZM585.0 28.2 611.0 29.7 617.5 24.9 632.7 20.6 645.7 17.3 628.3 15.2 595.8 17.3 578.5 19.5 589.3 23.8 585.0 26.0ZM578.5 29.2 602.3 29.2 606.7 32.5 580.7 33.4ZM522.2 40.1 525.4 36.8 539.5 36.8 550.3 36.4 553.6 40.1 561.2 43.3 554.7 45.9 541.7 46.6 530.8 44.9 523.2 42.2ZM508.1 39.2 518.9 33.8 529.8 35.8 526.5 37.9 520.0 40.5 513.5 41.2ZM526.5 30.3 541.7 29.2 551.4 31.4 541.7 33.4 529.8 33.6ZM573.1 34.7 583.9 34.7 582.8 39.0 575.2 38.4ZM572.0 20.6 589.3 19.1 593.7 22.8 578.5 24.9ZM592.6 55.2 604.5 55.2 605.6 57.4 598.0 59.6 591.5 57.2ZM559.0 35.8 569.8 35.1 570.9 40.1 565.5 41.2 560.1 39.0ZM565.5 44.4 574.2 44.4 573.1 47.2 566.6 46.6ZM561.2 29.2 569.8 29.2 567.7 32.5 561.2 31.9ZM572.0 31.4 577.4 31.4 577.4 33.4 572.0 33.4ZM554.7 24.9 563.3 24.3 567.7 26.4 559.0 27.1ZM515.7 29.2 528.7 27.5 530.8 30.3 520.0 30.8ZM600.2 58.7 603.4 59.4 601.2 60.4 598.9 60.0ZM410.6 80.4 416.0 79.1 419.2 78.0 414.9 79.7ZM396.5 82.5 403.0 81.9 407.3 81.7 400.8 82.8ZM384.6 82.5 388.9 83.2 393.2 82.5 387.8 81.9ZM373.8 80.2 376.3 80.4 375.5 81.2ZM445.2 69.8 450.0 69.3 449.6 70.8 446.3 71.9ZM502.0 84.9 508.1 86.0 512.6 90.1 509.2 89.0 503.1 86.4ZM491.8 77.8 494.6 78.0 495.7 81.9 493.6 80.6ZM115.5 167.7 118.1 167.9 117.4 168.3 115.9 168.3ZM200.6 165.8 201.5 166.8 200.8 170.1 200.2 167.9ZM97.5 20.6 112.7 18.4 130.0 18.4 134.3 20.6 119.2 21.7ZM199.3 22.8 208.0 19.5 221.0 22.8 212.3 24.9ZM651.5 91.9 658.7 87.8 659.8 83.2 664.1 87.8 665.8 92.1 664.1 93.8 659.8 93.2ZM595.8 147.5 598.0 145.8 602.3 144.7 606.7 145.2 612.1 147.8 616.4 149.5 619.2 151.2 617.5 151.9 611.6 151.9 612.1 150.1 608.8 148.2 604.5 147.3 602.3 146.9 599.1 147.3ZM618.8 155.1 622.3 151.9 628.3 152.3 631.8 154.7 628.5 155.1 625.1 156.6 622.9 155.6ZM610.3 155.1 614.7 155.6 613.6 156.2 610.3 155.6ZM634.4 154.9 637.9 155.1 637.9 156.0 634.4 156.0ZM247.0 242.2 251.3 240.1 256.8 239.0 262.2 237.2 265.0 234.0 267.6 230.7 270.8 227.5 276.2 225.3 278.4 227.5 280.6 227.1 281.7 223.2 283.4 221.9 286.0 219.5 289.2 220.6 293.6 221.0 296.4 221.4 294.7 224.2 293.6 227.5 297.9 230.1 302.2 232.9 305.1 232.9 306.6 227.5 306.8 222.1 308.8 218.2 310.9 222.1 311.6 225.8 314.8 227.5 315.9 231.8 317.0 236.2 322.4 239.0 326.1 243.7 328.2 247.0 331.5 250.2 332.6 256.1 331.5 262.2 327.6 268.4 325.0 274.1 324.8 276.2 319.6 277.3 317.0 279.7 313.1 277.8 309.8 279.1 304.4 277.3 302.2 275.2 301.2 271.9 299.0 272.1 300.1 269.8 298.6 266.5 296.8 269.8 294.7 270.4 292.9 267.6 290.3 265.4 283.8 263.2 277.3 264.3 268.7 266.5 262.2 268.2 255.7 270.8 249.2 269.3 250.2 266.5 250.7 264.3 249.2 258.9 247.2 254.6 245.9 250.2 246.6 247.0 245.9 242.7ZM313.3 283.2 321.3 283.6 320.7 288.2 318.1 289.5 314.6 286.4ZM374.2 269.5 378.1 272.6 380.9 275.2 386.8 276.7 383.5 279.9 382.4 282.8 379.6 285.1 378.3 284.3 376.6 280.1 378.1 276.2 374.8 271.3ZM374.2 282.8 377.6 285.3 374.8 288.8 371.1 291.0 369.8 294.4 366.2 296.0 360.8 294.7 361.8 291.4 365.1 289.9 369.4 287.1 371.6 284.9ZM283.8 198.2 284.5 196.7 288.2 196.5 292.5 202.1 297.9 198.2 305.5 200.6 313.1 203.2 316.3 206.9 319.6 208.0 320.7 212.3 326.1 217.7 322.8 217.3 318.5 214.5 314.2 211.9 310.9 214.5 305.5 214.7 300.1 213.2 298.6 210.2 300.1 209.1 294.7 204.8 290.3 203.4 287.1 200.4ZM236.2 191.8 237.5 190.7 240.5 191.5 244.8 188.1 249.8 184.2 251.3 182.0 253.5 179.8 256.8 183.1 258.5 184.2 255.2 185.9 255.7 189.6 257.8 192.8 254.6 195.0 253.1 199.3 251.8 203.7 248.1 203.2 244.8 201.9 240.5 201.5 238.3 198.9 236.2 196.1ZM206.5 182.9 211.2 183.7 216.7 189.6 224.2 196.1 226.4 198.2 229.7 201.5 229.2 207.6 226.4 207.8 221.6 203.7 217.7 197.2 213.8 191.3 210.2 187.4ZM227.9 209.7 230.7 208.0 235.1 209.1 239.4 209.9 244.2 209.9 247.9 211.7 248.3 213.8 242.7 213.0 238.3 212.5 234.0 211.9 230.7 211.0ZM249.2 212.8 257.8 212.8 266.5 213.0 266.5 214.1 257.8 214.3 249.2 214.1ZM267.6 217.3 270.8 214.5 275.8 213.2 270.8 215.8ZM258.9 206.9 258.9 201.5 257.4 200.6 259.6 195.0 260.0 192.8 270.6 191.8 262.2 193.9 260.6 197.2 267.1 196.9 263.2 198.9 266.5 204.8 262.2 204.8 261.1 201.1 260.6 207.1ZM276.2 190.7 278.4 192.8 277.3 196.1 276.2 193.9ZM277.3 201.5 283.4 201.9 282.8 203.2 277.3 202.6ZM261.3 154.9 265.0 154.9 264.3 159.2 263.5 164.2 268.7 166.8 267.6 167.9 261.3 165.1 260.0 160.3ZM264.3 179.8 267.6 176.6 271.9 174.0 274.1 179.8 271.9 182.6 268.7 180.9ZM264.3 169.4 268.7 167.9 271.9 171.2 269.8 173.3 266.5 175.1 265.0 172.2ZM253.9 176.8 259.1 171.6 258.5 170.7 253.5 175.9ZM262.2 140.4 264.1 140.8 263.2 145.2 261.7 147.5 260.2 145.2ZM235.3 153.4 239.4 151.4 240.5 152.5 238.3 155.3 235.5 154.9ZM283.6 121.3 287.1 118.1 293.6 117.9 296.4 114.2 300.7 113.1 303.3 108.8 303.3 105.5 306.6 105.5 307.2 110.5 305.5 112.2 305.5 115.9 305.1 117.6 302.9 119.4 300.5 120.0 296.8 120.0 294.2 122.4 292.9 120.7 288.2 120.5ZM281.0 122.8 283.8 121.5 285.8 123.5 284.5 127.2 282.1 127.4 281.2 124.1ZM287.1 123.5 291.4 120.9 292.1 121.8 288.2 123.9ZM303.3 105.1 305.9 104.4 307.0 102.7 310.3 104.0 315.2 101.2 313.1 99.7 307.4 96.4 306.6 100.8 304.0 101.4 303.3 104.0ZM307.7 95.3 310.9 94.2 309.4 88.8 310.3 83.4 309.8 79.1 309.2 77.3 308.3 81.2 307.2 86.7 307.7 91.0ZM172.9 180.9 173.1 176.6 173.8 173.8 175.5 176.6 177.4 179.4 175.9 181.6 173.8 182.0ZM106.8 221.0 109.4 228.6 107.2 232.9 104.0 242.7 101.8 249.2 97.5 250.2 94.7 245.9 93.8 241.6 96.0 238.3 95.3 231.8 98.6 229.7 102.9 226.4 105.1 223.2ZM26.9 112.7 33.8 112.2 32.7 115.5 26.9 113.5ZM17.8 106.2 21.2 106.2 20.8 110.5 18.2 110.5ZM18.6 101.8 20.6 102.3 19.9 105.3 18.6 104.2ZM50.9 117.9 57.0 118.5 52.0 119.2ZM70.0 119.2 74.8 117.9 73.2 120.0 70.2 119.8ZM355.3 238.8 361.8 243.7 360.8 243.1 356.0 240.1ZM360.8 227.5 362.5 228.6 364.0 232.9 362.9 230.7ZM339.1 209.7 344.5 212.3 348.8 215.6 351.0 217.7 347.8 214.5 341.2 211.2ZM321.8 206.5 328.2 204.3 330.0 204.3 327.2 206.9 325.0 208.0ZM384.1 232.9 386.8 232.5 387.0 234.4 384.1 234.4ZM442.0 151.2 444.6 152.8 442.4 154.0 442.0 152.3ZM433.8 146.9 434.8 146.9 434.8 147.5 433.8 147.5ZM581.8 194.6 583.9 193.9 586.5 196.7 583.9 197.6 582.0 196.7ZM647.4 306.1 654.3 306.1 654.8 307.4 651.1 308.3 647.4 307.4ZM697.7 312.0 702.0 312.4 700.9 313.5ZM149.1 300.7 152.8 301.2 151.2 302.7 149.1 302.2ZM631.4 309.0 635.9 313.7 631.6 314.8 627.2 313.9 625.1 312.4ZM-780.0 349.7 -731.5 347.3 -707.2 343.6 -695.1 345.8 -670.8 339.7 -658.7 338.9 -629.8 341.9 -628.3 347.3 -616.2 344.9 -598.0 340.6 -561.6 338.2 -537.3 338.2 -500.9 338.9 -476.7 340.6 -446.3 345.8 -427.9 348.0 -411.2 350.3 -426.4 357.9 -434.0 367.0 -416.0 373.1 -390.0 376.1 -353.6 379.2 -317.2 379.2 -317.2 370.1 -332.4 365.5 -341.5 362.5 -323.3 359.4 -283.8 357.9 -268.7 354.0 -219.9 351.9 -171.6 353.4 -159.2 348.8 -147.3 341.2 -128.9 332.1 -135.0 342.3 -132.2 353.4 -147.3 361.0 -117.0 362.5 -86.7 365.5 -56.3 356.4 -26.0 350.3 0.0 349.7 0.0 390.0 -780.0 390.0ZM0.0 349.7 48.5 347.3 72.8 343.6 84.9 345.8 109.2 339.7 121.3 338.9 150.1 341.9 151.7 347.3 163.8 344.9 182.0 340.6 218.4 338.2 242.7 338.2 279.1 338.9 303.3 340.6 333.7 345.8 352.1 348.0 368.8 350.3 353.6 357.9 346.0 367.0 364.0 373.1 390.0 376.1 426.4 379.2 462.8 379.2 462.8 370.1 447.6 365.5 438.5 362.5 456.7 359.4 496.2 357.9 511.3 354.0 560.1 351.9 608.4 353.4 620.8 348.8 632.7 341.2 651.1 332.1 645.0 342.3 647.8 353.4 632.7 361.0 663.0 362.5 693.3 365.5 723.7 356.4 754.0 350.3 780.0 349.7 780.0 390.0 0.0 390.0ZM780.0 349.7 828.5 347.3 852.8 343.6 864.9 345.8 889.2 339.7 901.3 338.9 930.1 341.9 931.7 347.3 943.8 344.9 962.0 340.6 998.4 338.2 1022.7 338.2 1059.1 338.9 1083.3 340.6 1113.7 345.8 1132.1 348.0 1148.8 350.3 1133.6 357.9 1126.0 367.0 1144.0 373.1 1170.0 376.1 1206.4 379.2 1242.8 379.2 1242.8 370.1 1227.6 365.5 1218.5 362.5 1236.7 359.4 1276.2 357.9 1291.3 354.0 1340.1 351.9 1388.4 353.4 1400.8 348.8 1412.7 341.2 1431.1 332.1 1425.0 342.3 1427.8 353.4 1412.7 361.0 1443.0 362.5 1473.3 365.5 1503.7 356.4 1534.0 350.3 1560.0 349.7 1560.0 390.0 780.0 390.0ZM60.7 105.7 62.8 105.7 68.2 105.5 71.5 104.0 76.3 104.0 79.1 105.5 82.3 106.2 86.7 106.2 90.1 104.9 90.1 102.9 86.7 101.0 82.3 98.6 79.3 96.8 76.9 97.5 72.6 98.6 70.4 96.8 72.8 95.3 67.2 94.0 64.1 97.1 62.0 99.7 60.4 102.5 60.7 104.9ZM101.8 98.6 102.9 101.8 105.1 104.4 108.1 107.5 106.2 110.5 105.9 111.8 107.2 113.7 110.5 115.3 117.0 115.3 116.8 111.6 114.8 108.3 114.4 105.1 111.6 104.0 110.5 98.6 114.8 97.1 115.9 94.2 112.4 92.9 106.2 94.0 102.9 96.2ZM126.3 96.4 128.9 94.7 132.6 94.2 132.2 97.5 129.6 99.7 126.7 98.6ZM160.3 97.5 162.5 94.2 166.8 94.5 171.2 94.0 169.0 95.3 164.7 95.8 161.4 97.9ZM225.3 83.2 229.7 81.2 234.0 79.1 237.2 74.3 236.2 75.8 231.8 80.2 227.5 83.2ZM580.7 93.8 589.3 89.9 595.8 91.2 596.9 94.2 591.5 94.2ZM589.8 104.0 593.0 102.9 594.8 96.4 591.5 95.8 589.3 98.6ZM596.9 95.8 603.4 96.4 605.6 98.6 601.5 101.8 599.1 99.7ZM599.1 104.6 608.8 102.3 609.0 102.9 602.3 105.1ZM607.1 101.2 614.7 99.2 614.9 100.8 608.8 101.4ZM565.5 84.5 568.8 79.1 570.9 81.2 569.8 85.6ZM526.5 62.8 537.3 59.6 540.6 60.0 530.8 62.4ZM511.3 53.1 520.0 49.8 523.2 52.0 517.8 54.2ZM69.3 196.1 73.7 194.3 74.8 197.2 72.6 200.4 69.3 199.3ZM63.3 202.6 65.0 203.2 67.2 210.2 66.1 213.4 64.6 210.2ZM73.7 215.6 75.4 218.8 76.3 226.0 74.8 224.2 74.1 219.9ZM29.2 166.8 31.4 165.8 32.1 167.3 30.3 168.1ZM65.0 65.0 68.2 61.7 71.5 62.8 69.3 64.6ZM628.3 228.6 630.5 228.1 631.4 230.3 629.4 230.1Z"/></g><rect x="0" y="0.3" width="779.5" height="389.5" fill="none" stroke="#111" stroke-width="1.5"/></g><g transform="translate(80,594)"><g clip-path="url(#cp)"><clipPath id="dm_map2"><path clip-rule="evenodd" d="M0.5 76 0 75.5 0 32.5 0.5 32 10.5 32 11 31.5 11 25.5 11.5 25 15.5 25 16.5 27 21.5 27 22 27.5 22 31.5 22.5 32 42.5 32 43 32.5 43 37.5 42.5 38 32.5 38 32 38.5 32 42.5 31.5 43 22.5 43 22 43.5 22 53.5 21.5 54 5.5 54 5 54.5 5 69.5 5.5 70 10.5 70 11 70.5 11 75.5 10.5 76ZM108 42.5 107.5 43 81.5 43 81 42.5 81 38.5 80.5 38 65.5 38 65 37.5 65 32.5 64.5 32 60.5 32 60 31.5 60 27.5 60.5 27 64.5 27 65.5 25 91.5 25 92.5 27 107.5 27 108 27.5ZM173 31.5 172.5 32 157.5 32 157 31.5 157 27.5 156.5 27 152.5 27 152 26.5 152 25.5 152.5 25 167.5 25 168.5 27 172.5 27 173 27.5ZM780 32.5 780 64.5 779.5 65 758.5 65 758 65.5 758 69.5 757.5 70 753.5 70 753 70.5 753 86.5 753.5 87 763.5 87 764 87.5 764 96.5 763.5 97 753.5 97 753 97.5 753 129.5 752.5 130 737.5 130 737 130.5 737 172.5 737.5 173 741.5 173 742 173.5 742 178.5 742.5 179 746.5 179 747 179.5 747 183.5 747.5 184 752.5 184 753 184.5 753 189.5 753.5 190 779.5 190 780 190.5 780 322.5 779.5 323 769.5 323 769 322.5 769 320.5 768.5 320 704.5 320 704 319.5 704 314.5 704.5 314 709.5 314 710 313.5 710 309.5 709.5 309 693.5 309 693 309.5 693 319.5 692.5 320 661.5 320 660.5 321 650.5 321 650 321.5 650 325.5 649.5 326 639.5 326 639 326.5 639 330.5 638.5 331 574.5 331 574 331.5 574 336.5 573.5 337 552.5 337 552 336.5 552 334.5 551.5 334 542.5 334 542 333.5 542 331.5 541.5 331 444.5 331 444 330.5 444 326.5 443.5 326 390.5 326 389.5 325 206.5 325 205.5 323 195.5 323 195 322.5 195 320.5 194.5 320 141.5 320 141 320.5 141 322.5 140.5 323 130.5 323 129.5 325 0.5 325 0 324.5 0 190.5 0.5 190 15.5 190 16 190.5 16 205.5 16.5 206 21.5 206 22 206.5 22 243.5 22.5 244 26.5 244 27 244.5 27 259.5 27.5 260 31.5 260 32 260.5 32 270.5 32.5 271 37.5 271 38 271.5 38 275.5 38.5 276 59.5 276 60 275.5 60 271.5 60.5 271 64.5 271 65 270.5 65 265.5 65.5 265 69.5 265 70 264.5 70 260.5 70.5 260 75.5 260 76 259.5 76 255.5 76.5 255 80.5 255 81 254.5 81 238.5 81.5 238 86.5 238 87 238.5 87 248.5 87.5 249 91.5 249 92 249.5 92 254.5 92.5 255 107.5 255 108 254.5 108 238.5 108.5 238 113.5 238 114 237.5 114 217.5 113.5 217 97.5 217 97 217.5 97 226.5 96.5 227 92.5 227 92 226.5 92 200.5 92.5 200 96.5 200 97 199.5 97 195.5 97.5 195 102.5 195 103 194.5 103 190.5 103.5 190 107.5 190 108 189.5 108 184.5 108.5 184 113.5 184 114 183.5 114 173.5 114.5 173 124.5 173 125 172.5 125 157.5 125.5 157 129.5 157 130 156.5 130 152.5 130.5 152 134.5 152 135 151.5 135 146.5 135.5 146 140.5 146 141 146.5 141 151.5 141.5 152 151.5 152 152 152.5 152 161.5 152.5 162 156.5 162 157 162.5 157 172.5 157.5 173 161.5 173 162 173.5 162 183.5 162.5 184 172.5 184 173 184.5 173 189.5 173.5 190 178.5 190 179 189.5 179 184.5 179.5 184 183.5 184 184 183.5 184 173.5 183.5 173 179.5 173 179 172.5 179 162.5 179.5 162 183.5 162 184 161.5 184 157.5 184.5 157 199.5 157 200 157.5 200 161.5 199.5 162 195.5 162 195 162.5 195 172.5 195.5 173 205.5 173 206 173.5 206 178.5 205.5 179 200.5 179 200 179.5 200 189.5 200.5 190 205.5 190 206 190.5 206 216.5 206.5 217 248.5 217 249 217.5 249 221.5 249.5 222 259.5 222 260 222.5 260 232.5 259.5 233 249.5 233 249 233.5 249 237.5 248.5 238 238.5 238 238 238.5 238 254.5 238.5 255 243.5 255 244 255.5 244 275.5 244.5 276 264.5 276 265 275.5 265 271.5 265.5 271 291.5 271 292 271.5 292 275.5 292.5 276 297.5 276 298 276.5 298 281.5 298.5 282 308.5 282 309 282.5 309 291.5 309.5 292 324.5 292 325 291.5 325 282.5 325.5 282 329.5 282 330 281.5 330 271.5 330.5 271 335.5 271 336 270.5 336 244.5 335.5 244 330.5 244 330 243.5 330 238.5 329.5 238 325.5 238 325 237.5 325 233.5 324.5 233 320.5 233 320 232.5 320 222.5 320.5 222 329.5 222 330 221.5 330 217.5 330.5 217 346.5 217 347 217.5 347 221.5 347.5 222 356.5 222 357 222.5 357 232.5 356.5 233 352.5 233 352 233.5 352 243.5 352.5 244 356.5 244 357 244.5 357 248.5 357.5 249 367.5 249 368 248.5 368 222.5 367.5 222 357.5 222 357 221.5 357 211.5 356.5 211 347.5 211 347 210.5 347 206.5 346.5 206 336.5 206 336 205.5 336 195.5 335.5 195 292.5 195 292 194.5 292 190.5 291.5 190 282.5 190 282 189.5 282 173.5 281.5 173 276.5 173 276 172.5 276 162.5 275.5 162 271.5 162 271 161.5 271 125.5 271.5 125 275.5 125 276 125.5 276 129.5 276.5 130 297.5 130 298 129.5 298 125.5 298.5 125 308.5 125 309 124.5 309 119.5 309.5 119 313.5 119 314 118.5 314 108.5 314.5 108 324.5 108 325 107.5 325 97.5 325.5 97 335.5 97 336 96.5 336 92.5 336.5 92 340.5 92 341 91.5 341 87.5 341.5 87 346.5 87 347 86.5 347 81.5 347.5 81 356.5 81 357 80.5 357 70.5 357.5 70 373.5 70 374 69.5 374 65.5 374.5 65 394.5 65 395 64.5 395 60.5 395.5 60 400.5 60 401 60.5 401 64.5 401.5 65 416.5 65 417 65.5 417 80.5 417.5 81 438.5 81 439 80.5 439 76.5 439.5 76 454.5 76 455 75.5 455 70.5 455.5 70 481.5 70 482 70.5 482 75.5 482.5 76 486.5 76 487 76.5 487 86.5 487.5 87 497.5 87 498 87.5 498 96.5 498.5 97 503.5 97 504 97.5 504 113.5 504.5 114 508.5 114 509 114.5 509 118.5 509.5 119 514.5 119 515 119.5 515 124.5 515.5 125 519.5 125 520 125.5 520 140.5 520.5 141 530.5 141 531 141.5 531 145.5 531.5 146 535.5 146 536 146.5 536 151.5 536.5 152 546.5 152 547 152.5 547 156.5 547.5 157 551.5 157 552 157.5 552 161.5 552.5 162 568.5 162 569 162.5 569 167.5 569.5 168 584.5 168 585 168.5 585 172.5 585.5 173 589.5 173 590 173.5 590 178.5 590.5 179 595.5 179 596 179.5 596 194.5 596.5 195 600.5 195 601 195.5 601 216.5 601.5 217 606.5 217 607 217.5 607 226.5 607.5 227 611.5 227 612 227.5 612 232.5 612.5 233 616.5 233 617 233.5 617 237.5 617.5 238 622.5 238 623 238.5 623 254.5 622.5 255 617.5 255 617 255.5 617 286.5 616.5 287 612.5 287 612 287.5 612 308.5 612.5 309 616.5 309 617 309.5 617 313.5 617.5 314 622.5 314 623 314.5 623 319.5 623.5 320 638.5 320 639 319.5 639 303.5 639.5 303 644.5 303 645 303.5 645 313.5 645.5 314 660.5 314 661 313.5 661 303.5 660.5 303 645.5 303 645 302.5 645 287.5 645.5 287 649.5 287 650 286.5 650 282.5 650.5 282 660.5 282 661 281.5 661 276.5 661.5 276 665.5 276 666 275.5 666 271.5 666.5 271 671.5 271 672 270.5 672 265.5 672.5 265 676.5 265 677 264.5 677 260.5 677.5 260 681.5 260 682 259.5 682 249.5 682.5 249 692.5 249 693 248.5 693 244.5 693.5 244 698.5 244 699 243.5 699 227.5 699.5 227 703.5 227 704 226.5 704 222.5 704.5 222 709.5 222 710 221.5 710 200.5 709.5 200 699.5 200 699 199.5 699 195.5 698.5 195 677.5 195 677 194.5 677 184.5 676.5 184 672.5 184 672 183.5 672 179.5 671.5 179 661.5 179 661 178.5 661 173.5 660.5 173 650.5 173 650 172.5 650 168.5 649.5 168 634.5 168 634 167.5 634 162.5 634.5 162 644.5 162 645 161.5 645 152.5 644.5 152 634.5 152 634 151.5 634 146.5 633.5 146 617.5 146 617 145.5 617 141.5 616.5 141 612.5 141 612 140.5 612 125.5 612.5 125 622.5 125 623 124.5 623 108.5 623.5 108 638.5 108 639 107.5 639 103.5 639.5 103 654.5 103 655 102.5 655 97.5 655.5 97 671.5 97 672 96.5 672 87.5 671.5 87 666.5 87 666 86.5 666 76.5 665.5 76 655.5 76 655 75.5 655 70.5 654.5 70 650.5 70 650 69.5 650 65.5 649.5 65 645.5 65 645 64.5 645 60.5 645.5 60 649.5 60 650 59.5 650 43.5 650.5 43 660.5 43 661 43.5 661 64.5 661.5 65 671.5 65 672 65.5 672 69.5 672.5 70 692.5 70 693 69.5 693 60.5 693.5 60 703.5 60 704 59.5 704 54.5 704.5 54 725.5 54 726 54.5 726 59.5 726.5 60 736.5 60 737 60.5 737 64.5 737.5 65 746.5 65 747 64.5 747 60.5 747.5 60 752.5 60 753 59.5 753 49.5 752.5 49 747.5 49 747 48.5 747 32.5 747.5 32 779.5 32ZM650 42.5 649.5 43 639.5 43 639 42.5 639 38.5 639.5 38 649.5 38 650 38.5ZM607 69.5 606.5 70 585.5 70 585 69.5 585 65.5 585.5 65 606.5 65 607 65.5ZM324.5 97 314.5 97 314 96.5 314 70.5 314.5 70 324.5 70 325 70.5 325 96.5ZM270.5 125 265.5 125 265 124.5 265 119.5 265.5 119 270.5 119 271 119.5 271 124.5ZM574 151.5 574 135.5 574.5 135 595.5 135 596 135.5 596 140.5 595.5 141 585.5 141 585 141.5 585 145.5 584.5 146 580.5 146 580 146.5 580 151.5 579.5 152 574.5 152ZM227.5 184 227 183.5 227 179.5 227.5 179 237.5 179 238 178.5 238 173.5 238.5 173 243.5 173 244 172.5 244 152.5 244.5 152 254.5 152 255 152.5 255 167.5 254.5 168 249.5 168 249 168.5 249 178.5 248.5 179 244.5 179 244 179.5 244 183.5 243.5 184ZM607 156.5 606.5 157 596.5 157 596 156.5 596 152.5 596.5 152 606.5 152 607 152.5ZM617 167.5 616.5 168 607.5 168 607 167.5 607 162.5 607.5 162 616.5 162 617 162.5ZM590 190.5 589.5 190 580.5 190 580 190.5 580 194.5 579.5 195 574.5 195 574 195.5 574 199.5 574.5 200 589.5 200 590 199.5ZM282 210.5 281.5 211 276.5 211 276 210.5 276 206.5 276.5 206 281.5 206 282 206.5ZM390 237.5 390 227.5 389.5 227 379.5 227 379 227.5 379 237.5 379.5 238 389.5 238ZM91.5 238 87.5 238 87 237.5 87 233.5 87.5 233 91.5 233 92 233.5 92 237.5ZM363.5 303 367.5 303 368 302.5 368 298.5 368.5 298 373.5 298 374 297.5 374 292.5 374.5 292 384.5 292 385 291.5 385 287.5 385.5 287 389.5 287 390 286.5 390 271.5 389.5 271 379.5 271 379 270.5 379 265.5 378.5 265 368.5 265 368 265.5 368 281.5 367.5 282 363.5 282 363 282.5 363 286.5 362.5 287 357.5 287 357 287.5 357 297.5 357.5 298 362.5 298 363 298.5 363 302.5ZM157 308.5 157 298.5 156.5 298 146.5 298 146 298.5 146 308.5 146.5 309 156.5 309Z"/></clipPath><g clip-path="url(#dm_map2)"><path fill="#00008c" fill-rule="evenodd" d="M780.1 389.5 779.5 390.1 0.5 390.1 -0.1 389.5 -0.1 0.5 0.5 -0.1 779.5 -0.1 780.1 0.5Z"/><path fill="#0022b8" fill-rule="evenodd" d="M779.6 389.5 0.5 389.6 0.5 247.4 9.5 249.1 43.5 249.1 47.5 248.5 49.5 246.9 51 243.5 51.6 231.5 53.4 222.5 50.1 202.5 49.1 200.5 47.7 199.5 43.5 199 0.5 199 0.5 147.7 60.5 148.1 65.9 150.5 69.5 156.5 71.5 158 81.5 158.8 86.5 160.5 92.5 168.5 95.5 169.3 105.5 169.8 112.5 171.7 114.7 171.5 117.5 169.1 118.8 166.5 119.2 162.5 118.8 157.5 117.3 154.5 110.5 149.3 105.5 142.6 99.7 138.5 95.4 132.5 88.8 127.5 84.4 121.5 74.9 114.5 64.5 109.8 60.5 103.5 58.5 102 54.5 101.5 8.5 101.5 6.5 102 4.5 103.5 0.5 109.8 0.3 0.5 779.5 0.3 779.5 110.5 771.4 113.5 763.5 118.8 741.5 119.7 729.5 123 720.5 129.5 710.5 130.2 698.5 133.2 695.8 134.5 694 136.5 693.3 141.5 693.9 146.5 696.5 150.1 705.5 155.5 710.5 156.7 739.5 156.8 741.7 155.5 745.5 148.9 751.5 146.6 763.5 146.3 779.5 147.7 779.5 199 744.5 199 739 200.5 737.2 202.5 736.7 204.5 736.7 224.5 737.2 231.5 740.3 234.5 753.5 238 763.5 238.7 766.5 240.2 772.5 245.2 779.5 247.2ZM466.3 134.5 469.5 138.8 478.1 146.5 481.5 148.3 492.5 148.7 505.5 146.9 514.5 140.9 525.5 137.2 527.3 135.5 530.5 130.3 537.5 125.5 541.3 119.5 547.5 114.4 548.5 110.5 548 103.5 545.5 100.9 538.5 100.5 535.5 101.7 530.7 108.5 526.5 110.7 495.5 111.2 491.5 112 482.6 118.5 472.5 119.6 469.2 121.5 467.4 123.5 466.1 126.5ZM657.1 225.5 656.5 223.3 648.5 219.2 644.2 212.5 636.6 208.5 635.1 206.5 632.5 199.3 630.5 198.1 623.5 197.7 619.6 196.5 613.5 190.3 611.5 191.5 607.5 197.3 601.5 199.4 506.5 199 501.5 200.2 499.7 202.5 502.4 213.5 508.9 221.5 511.9 230.5 513.5 232.5 517.5 233.8 539.5 234.6 552.5 236.5 558.5 238.6 565.9 244.5 570.5 246.2 581.5 246.7 593.5 249.1 640.5 249 642.5 248.2 643.5 246.9 647.1 236.5 649.5 234.6 654.5 232.5 656.2 230.5Z"/><path fill="#0035e0" fill-rule="evenodd" d="M779.5 389.5 682.5 389.5 682.1 310.5 680.8 308.5 678.5 307 665.5 302.9 656.5 296.2 652.5 295.4 634.5 295.6 630.2 297.5 628.5 300.5 627.5 309.7 625.5 312.3 622.5 313.8 537.5 314.4 533.5 316.2 528.7 322.5 526.5 324.1 523.5 324.9 515.5 325.3 512.5 326.5 510 329.5 509.2 333.5 509.2 389.5 0.5 389.5 0.5 255.3 5.5 259.2 9.5 260 35.5 259.9 50.5 256.3 53.5 254.4 55.7 250.5 58 231.5 60.5 228.6 64.5 227.6 65 228.5 65.5 232.5 66.9 235.5 73.4 240.5 77.5 246.2 80.5 248.4 85.5 249.1 92.5 248.5 95.4 246.5 96.4 243.5 95 240.5 89.4 236.5 85 230.5 82.5 228.5 78.5 227.6 65.3 227.5 64.2 221.5 57.5 212.4 53.4 199.5 51.5 197 49.5 195.8 44.5 195 0.5 195 0.5 151.7 59.5 152.1 62.5 153.8 66.7 159.5 69.5 161.7 80.5 162.8 83.5 164.1 90.5 172.2 93.5 173.1 104.5 174.1 107.5 175.5 112.5 179.7 115.5 180 121.2 176.5 128.8 168.5 129.8 165.5 130.4 157.5 132.5 153.6 137.5 150.1 146.5 146.5 150 140.5 155.4 135.5 156.1 131.5 156.4 112.5 157.2 108.5 159.9 102.5 155.5 101.5 94.5 100.5 90.5 102.5 87.5 107.4 85.5 109.3 81.5 110.5 69.5 107.6 66.8 105.5 62.4 99.5 57.5 97.6 7.5 97.6 3.5 98.9 0.5 102.1 0.4 0.5 779.5 0.4 779.6 97.5 779.5 103.7 778.5 105.1 775.5 107.5 772.5 108.2 743.5 108.7 732.5 115.7 708.5 122.5 699.5 126.8 676 133.5 672.4 136.5 671.7 141.5 672.2 146.5 674.5 149.9 682.7 155.5 688.5 157.3 698.5 157.5 710.5 159.1 739.5 159.4 743.5 157.7 748.5 150.8 752.5 149.2 764.5 149 775.5 151.4 779.5 151.7 779.5 195 742.5 195.1 736.5 196.2 730.5 198.2 726.5 201.5 724.9 212.5 717.7 220.5 716.7 223.5 717.7 225.5 723.5 229.7 728.5 235.5 732.5 238.7 743.5 241.8 752.5 246 775.5 252.5 779.5 254.6ZM424.6 147.5 427.5 150.5 430.5 151.5 448.5 151.4 451.5 150.3 453.3 148.5 455.5 140.9 458.5 141.2 461.5 142.5 470.5 151.3 478.5 153.7 492.5 154 513.5 149.3 529.5 141.9 531.5 140.1 535 134.5 542.1 129.5 551.7 115.5 552.5 109.5 551.9 102.5 549.5 98.1 546.5 95.5 543.5 94.8 536.5 94.9 531.5 96.9 526.9 103.5 524.5 105 491.5 105.8 470.5 111.6 464.2 115.5 455.9 124.5 455.1 127.5 454.5 140.8 429.5 141.2 425.5 143.7 424.4 145.5ZM661.8 224.5 660.8 221.5 651.5 217 646 210.5 638.5 206 636.9 203.5 634.8 195.5 633.5 193.5 631.5 192.4 625.5 192 622.5 191.1 617.8 184.5 615.5 183 612.5 184.4 605.5 193.7 600.5 196.2 590.5 196.3 576.5 195 505.5 195.1 494.5 197.3 491.8 198.5 489.8 200.5 490.1 202.5 494.7 209.5 498.5 222.5 506.9 232.5 510.5 235.2 516.5 237.1 525.5 238.2 536.5 238.5 543.5 239.9 550.5 242.5 567.5 251.1 580.5 252.5 588.5 256.3 591.5 257.1 602.5 257.5 614.5 259.9 642.5 259.5 644.5 257.7 645.9 254.5 647.3 244.5 648.5 240.4 651 237.5 658.5 232.8ZM288.1 233.5 289.4 230.5 290.5 219.9 295.3 213.5 293.3 212.5 284.5 211.4 280.5 210.2 278.3 208.5 275.5 202.6 274.1 201.5 266.5 201.2 261.7 202.5 260.2 204.5 260.1 208.5 260.6 211.5 262.4 214.5 268.1 218.5 273.4 225.5 278.5 229 283 233.5 285.5 234.4ZM121 244.5 122.3 247.5 127.5 251.2 133.5 257.8 135.5 259.2 138.5 259.9 145.5 259.7 157.5 256.7 160.5 255.3 165.5 251 167.5 250.2 170.5 251.1 175.5 255.3 178.5 256.3 182.5 254.7 184 251.5 184.1 247.5 183.3 244.5 181.1 242.5 177.5 241.4 157.5 241.1 145.5 238.6 138.5 238.4 124.7 241.5 122.5 242.6ZM371.5 312.5 374.5 313.9 381.5 314.1 385.1 313.5 387.5 312 389 309.5 389.1 307.5 387.4 300.5 385.8 297.5 383.5 296.5 381.5 297.1 370.9 305.5 369.6 307.5 369.5 309.5Z"/><path fill="#1952ff" fill-rule="evenodd" d="M0.5 303.3 0.5 265.9 4.5 269.4 7.5 270.6 35.5 270.8 39.5 269.7 47.5 263.6 60.5 260.2 119.5 260 124.5 260.8 130.6 265.5 134.5 267.5 142.5 268 147.5 267.4 156.5 263.2 167.5 260.8 179.5 262.5 192.5 260 220.5 259.8 224.5 258.3 229.7 251.5 236.3 246.5 237.8 243.5 238.5 238.1 251.5 238.4 255.5 239.2 258.5 241.5 262.5 247 265.5 248.7 273.5 249.1 277.5 248.2 283.5 242.8 290.5 239.8 293.2 237.5 295 233.5 296 222.5 297.5 220.5 303.4 216.5 304.5 214.5 303.6 212.5 299.5 210.5 287.5 209.6 282.5 208.2 280.3 206.5 277.5 201.4 275.3 199.5 269.5 199 260.6 199.5 256.5 200.5 254.6 202.5 252.6 208.5 249.6 213.5 248.1 223.5 246.5 225.5 240.1 230.5 238.8 233.5 238.4 237.5 237.5 238.4 192.5 238.3 179.5 235.8 158.5 235.4 154.8 234.5 146.5 230.6 135.5 228.4 132.6 229.5 128.2 233.5 125.5 234.9 113.5 237.4 110.5 235.8 109 233.5 108.1 223.5 106.5 219.5 99.9 214.5 95.5 208.5 92.5 206.5 88.5 205.9 62.2 205.5 59.5 203.3 55.5 194.3 53.1 192.5 49.5 191.4 0.5 191 0.5 155.6 57.5 155.9 60.4 157.5 63.1 162.5 65.5 164.7 69.5 166.1 80.5 167.1 82.5 169 84.9 173.5 87.2 175.5 91.5 177 102.5 177.8 104.5 179.1 107.7 183.5 110.5 185.7 112.5 186.2 115.5 185.8 124.4 181.5 130.8 177.5 134.5 173.5 136.5 169.1 137.9 159.5 139.5 155.8 142.2 153.5 149.5 149.2 156.5 139.1 158 133.5 158.1 115.5 159 110.5 161.4 106.5 166.5 103.5 167.6 101.5 166.5 98.8 163.5 97.6 126.5 97.5 111.5 94.7 94.5 94.7 90.5 95.3 87.9 96.5 85.8 98.5 82.5 103.7 78.5 105 73.5 104.5 70.7 103.5 65.5 96 59.5 93.7 7.5 93.6 3.5 94.1 0.5 95.3 0.5 0.5 779.5 0.5 779.5 96 775.5 102 773.5 103.2 771.5 103 765.5 98.7 761.5 97.6 745.5 97.5 741.5 98.2 738.5 100.2 733.5 105.8 730.5 107.8 720.5 108.8 710.5 115.7 687.5 122.3 678.5 126.5 665.5 130.4 661.6 134.5 660.8 142.5 661.3 155.5 663.5 158.1 667.5 159.5 740.5 161.3 744.5 159.5 750.5 152.2 756.5 150.8 765.5 151.2 775.5 155.1 779.5 155.6 779.5 191 740.5 191.9 724.5 193.7 720.5 195.4 718.9 197.5 718 200.5 717.1 211.5 714.4 215.5 710.5 218.4 706.5 218.9 697.5 216.9 691.5 216.7 679.5 220.2 668.5 220.8 653.7 215.5 647.8 209.5 641.5 205.8 639.2 203.5 638 200.5 637.7 197.5 639.1 186.5 639.1 170.5 638.5 167.4 636.5 164.5 634.5 163.3 631.5 162.6 607.5 162.5 604.5 163 603.5 163.9 603.3 165.5 604.5 166.9 608.5 168.9 610.9 171.5 612.3 175.5 612.1 179.5 607.5 187.9 603.5 191.9 600.5 193.3 591.5 193.6 575.5 191.8 501.5 191.9 490.5 192.9 480.5 194.9 472.5 195.2 461.5 197.7 450.5 198.2 447.2 199.5 445.9 201.5 446.7 203.5 449.5 205.3 461.5 206.7 463.9 208.5 467.4 213.5 469.5 215.3 472.5 216.4 476.5 216.6 477.1 221.5 478.5 224.6 490.9 233.5 501.5 235.4 510.5 238.7 523.5 241.5 538.5 243 568.5 256.9 586.5 262.1 602.5 263.6 605.7 265.5 610.2 269.5 613.5 270.7 640.5 270.8 644.5 269.9 646.9 266.5 649.2 258.5 649.7 254.5 649.3 245.5 650.4 241.5 652.5 239.1 660.3 234.5 664.5 228.1 667.5 225.8 669.5 226 671.5 227.3 675.5 233 678.5 235.1 690.5 235.9 700.5 238.2 719.5 238.8 729.4 245.5 754.5 252.7 763.5 259 766.5 259.9 773.5 260.4 779.5 264.9 779.5 303.3 689.5 303.2 675.5 299.8 655.5 290.2 647.5 289.7 633.5 289.8 621.5 292.3 612.5 292.9 608.5 295.3 603.5 301.7 598.5 303.3 399.5 303.3 395.5 302 390.5 293.1 388.5 291.4 385.5 290.2 381.5 290.2 370.5 292.5 343.5 292.4 338.5 290.5 333.5 283.9 329.5 281.9 299.5 281.8 295.4 283.5 293.9 285.5 293.6 287.5 295.2 290.5 301.5 295.5 302.2 298.5 301.3 300.5 297.5 302.9 288.5 303.5 285.5 304.5 283.2 306.5 279.5 311.7 275.5 313.9 268.5 314.1 264.5 313.3 262 311.5 257.5 305.5 253.5 303.6 215.5 303.3 209.5 304.6 203.5 311.9 199.5 313.9 171.5 314.2 166.5 315.2 163.5 318.3 162.5 322.5 162.5 389.5 119.5 389.5 108.3 389.5 108.3 322.5 107.4 318.5 105.5 316 102.5 314.5 99.5 314.2 28.5 314 24.5 312.3 19.5 305.8 16.5 303.9ZM413.4 148.5 421.7 155.5 427.5 157.7 471.5 158 493.5 157.5 503.5 155.3 518.9 153.5 531.5 149.7 545.5 147.5 548.5 144.6 552.3 133.5 552.7 126.5 556.3 114.5 555.9 102.5 553.6 97.5 550.2 92.5 547.5 90.1 542.5 87.4 540.5 85.2 539 80.5 538.3 70.5 536.5 67.3 534.5 66.8 532.5 68.1 528.5 73.6 521.9 78.5 517.6 84.5 511.5 88.9 507.5 94.5 505.5 96.2 501.5 97.4 482.5 97.9 479.5 99.3 473.1 104.5 461.5 108 456.5 112.3 440.9 128.5 437.5 129.8 429.5 130.3 425.5 132.6 413.7 143.5 412.8 145.5ZM476.7 216.5 477.2 211.5 478.9 208.5 481.5 207.3 484.5 208.8 486 211.5 484.8 214.5 481.5 216.2Z"/><path fill="#457aff" fill-rule="evenodd" d="M594.8 288.5 591.5 291.6 586.5 292.5 406.5 292.1 403.5 290.5 399 284.5 395.5 282.2 375.5 281.5 371.5 280.1 366.4 273.5 359.5 268.2 355.4 262.5 348.8 257.5 344.4 251.5 338.5 247.1 337 244.5 337.1 242.5 338.5 240.4 344.5 235.7 345.1 232.5 342.9 229.5 334 221.5 329.5 212.4 326.5 211.6 310.5 211.6 298.5 208.6 286.5 207.9 282.5 206 277.9 199.5 274.5 197.7 265.5 197.5 256.5 198.3 253.5 200 249.5 207.3 245.5 210.2 241.5 211.2 226.5 211.4 223.5 212 221.8 213.5 220 218.5 217.5 222.4 213.5 226 210.5 227.2 201.5 227.7 189.5 230.2 168.5 230.1 160.5 228.8 142.5 222.8 132.5 214.8 121.3 203.5 119.4 199.5 119.3 192.5 120.1 190.5 122.2 188.5 133.5 182.3 137 179.5 139.1 175.5 141.9 162.5 143.4 158.5 145.5 156.3 151.5 153.5 153.5 151.3 159 136.5 159.4 115.5 160.2 111.5 162.5 107.8 168.5 103.7 169.3 100.5 167.5 95.9 164.5 93.8 126.5 93.5 122.4 92.5 120 90.5 119.2 86.5 119.2 0.5 252 0.5 252 32.5 252.7 36.5 254.5 38.1 261.4 41.5 265.6 48.5 272.5 52.6 276.5 59.4 283.4 63.5 288.5 74.5 291.5 75.8 328.5 75.5 331.5 73.8 339.1 66.5 344.5 65 350.5 65.2 353.5 66.1 355.5 67.6 359.8 73.5 364.5 75.7 383.5 75.6 398.2 71.5 410.3 61.5 411.4 58.5 411.8 50.5 412.6 47.5 414.5 45.1 419.7 41.5 421.8 38.5 422.5 33.5 422.5 0.5 444.2 0.5 444.6 59.5 446.5 62.7 452.5 67.1 457.2 73.5 462.8 77.5 464.7 80.5 464.6 82.5 463.5 84.3 457.8 88.5 455.7 91.5 454.8 100.5 453.8 103.5 439.5 117.8 436.5 119 430.5 119.3 427.5 120.3 416.5 129.4 407.5 130.2 404.5 131.3 402.5 133 398.6 138.5 395.5 140.3 373.5 141.4 370.3 143.5 366.5 148.8 363.5 150.6 361.5 150.3 359.5 149 354.5 142.7 352.5 141.9 350.5 142.3 348.5 143.9 347.6 146.5 349.8 155.5 351.5 157.4 353.5 158.3 364.5 159.5 413.5 158.7 426.5 160.8 469.5 161.1 492.5 160.1 505.5 157.9 526.1 156.5 546.5 151.5 551 148.5 555.5 140.8 557.5 139.3 559.5 139 562.5 140.1 566.8 144.5 576.5 148 581.5 155.8 592.5 156.8 596.5 158.2 598.6 160.5 601 167.5 607.5 171.7 609 173.5 610.2 176.5 610 180.5 608 184.5 604.5 188.6 601.5 190.5 594.5 191.2 569.5 189.6 473.5 189.8 459.5 192.3 446.5 193 436.5 195 398.5 195.3 396.5 196.4 395.3 198.5 395.5 201.1 397.2 202.5 416.5 203 423.5 204.2 430.4 207.5 431.9 209.5 432.3 211.5 430.9 214.5 425.3 219.5 420.5 224.9 418.5 226.2 415.5 226.1 409.5 221.3 405.5 220.4 402.5 221.7 393.5 228.8 391.8 231.5 392.7 233.5 394.1 234.5 398.5 235.4 418.5 234.2 468.5 234.4 477.5 235 515.5 243.1 524.5 246.1 532.5 247.8 549.5 253.3 570.3 263.5 578.5 270 581.5 270.7 589.5 271.1 592.5 272.3 594.6 274.5 595.6 277.5 595.8 284.5ZM735.4 82.5 733.5 85.1 727.6 89.5 722.5 96 719.5 97.2 712.5 97.6 709.5 98.4 697.4 110.5 691.5 114.8 672.5 120.8 654.5 123.7 650.9 125.5 643.5 131.4 635.5 139.6 630.5 140.8 622.5 140.2 619.5 138.3 612.5 131.1 609.5 130.1 601.5 129.6 598 127.5 596.1 123.5 595.7 115.5 594.9 112.5 592.5 109.7 587.5 106.2 582.4 99.5 577.5 97.6 562.5 97.5 559.5 96.7 557.2 94.5 552.5 86.7 545.5 81.5 544.6 78.5 544.2 68.5 541.7 56.5 541.7 0.5 595.8 0.5 595.9 23.5 596.9 28.5 598.5 30.5 604.5 34.9 609.4 41.5 615.9 46.5 617.2 49.5 618 59.5 619.6 62.5 629.8 70.5 639.5 74.2 643.5 80.1 645.4 81.5 652.5 81.7 656.4 80.5 657.7 78.5 658.4 69.5 660.5 65.4 667.5 60.5 671.3 54.5 673.5 52.8 677.5 51.5 683.5 51.3 689.5 52 693.5 54.3 698.5 63.6 706.5 72.5 709.5 74.9 712.5 75.7 731.5 76.4 734.6 78.5 735.5 80.5ZM640.2 201.5 639.7 198.5 640.3 195.5 645.3 188.5 649.5 177.5 650.6 167.5 652.5 164.7 654.5 163.5 670.5 165.1 676.5 164.7 685.5 162.8 697.5 161.7 741.5 163 745.5 161.2 751.5 153.9 756.5 152.6 762.5 152.7 766.5 153.6 770.1 155.5 772.6 158.5 773.1 165.5 772 171.5 770 174.5 765.5 178 762.8 185.5 760.5 187.8 752.5 189.6 709.5 190.9 700.5 190.5 695.6 191.5 693.6 193.5 693.1 199.5 691.9 202.5 683.5 212.9 678.5 216 667.5 216.5 656.5 214.3 653.5 212.5 648.5 207.8 642.5 204.4ZM708.5 212.5 705.1 210.5 704.2 205.5 705 199.5 706.5 197.5 708.5 196.6 710.5 197.5 711.5 199.3 712.1 205.5 711.4 210.5 710.5 211.7ZM779.4 287.5 777.3 290.5 773.5 292.3 734.5 292.5 720.5 295 707.5 292.6 678.5 292.3 666.5 289.4 663.1 287.5 661.5 285.5 660.1 275.5 654.8 269.5 653.5 266.9 653.5 256.5 651.5 247.5 651.7 243.5 654.5 240.1 660.5 237.2 665.5 233 667.5 232.4 676.5 239.8 679.5 240.9 689.5 242.1 698.5 248.6 718.5 249.3 732.5 252.6 740.6 256.5 751.5 259.5 763.5 269.8 766.5 270.7 772.5 271 775.5 272.3 777.9 274.5 779.5 277.2ZM184 281.5 177.5 282.7 174.5 285.5 173.5 288.5 172.6 298.5 170.5 301.3 168.5 302.2 166.5 302 164.5 300.6 159.5 294.2 154.5 292.6 148.5 292.6 145 293.5 142.5 295.5 138 301.5 135.5 302.8 132.5 303.3 61.5 303.2 58.5 302.4 56.5 301 54.3 296.5 54.3 288.5 56.5 284 60.5 281.9 68.5 281.5 71.5 280.8 74.3 278.5 78.5 272.8 82.5 271 121.5 270.9 133.5 273.3 141.5 273.7 148.5 273.3 159.5 270.9 176.5 270.9 179.5 271.6 182.1 273.5 183.6 276.5ZM42.2 287.5 41.5 289.5 38.5 291.8 29.5 292.4 26.5 291.8 24.5 290.6 23 288.5 22.8 286.5 23.7 284.5 26.5 282.4 35.5 281.8 40.4 283.5 41.9 285.5ZM192.5 290.1 189.5 291.4 186.5 290 184.6 286.5 184.5 281.8 189.5 282.2 192.5 284 193.9 287.5Z"/><path fill="#80a8ff" fill-rule="evenodd" d="M608.2 181.5 606.4 184.5 603.5 187.4 600.5 188.9 597.5 189.2 568.5 188 472.5 187.9 456.5 189.2 396.5 189.9 394.5 190.7 392.9 192.5 390.8 198.5 391 202.5 393.5 206.6 395.5 208 398.5 208.7 417.5 209.4 420.1 211.5 419.6 213.5 416.5 215.5 406.5 213.9 399.5 215.1 384.5 220.1 375.5 226.3 371.5 227.4 356.5 227.5 352.5 226.9 346.9 223.5 337.5 219.4 334.9 216.5 332.4 211.5 329.5 209.5 310.5 209.4 298.5 207.3 286.5 206.5 283.1 204.5 277.6 197.5 272.5 196.3 255.5 196.9 252.5 198.6 248.1 205.5 244.5 208 222.8 209.5 219.7 211.5 216 217.5 212.5 220.2 209.5 221 199.5 221.5 189.5 224.6 168.5 224.6 157.5 219.9 148.5 217.5 130.5 204.5 128 200.5 127.9 196.5 129 192.5 130.2 190.5 138.6 184.5 142.8 179.5 143.7 176.5 144.7 166.5 146.7 161.5 149.5 159 155.5 156.5 156.5 154.9 157.6 146.5 160.3 135.5 160.8 113.5 162.8 109.5 168.5 105.4 170.5 102.5 170.5 99.5 168 89.5 171.3 79.5 170.2 77.5 165.5 74.2 163.4 71.5 162.6 68.5 162.2 60.5 161 57.5 154.5 52.4 152.5 49.7 151.5 39.5 150.6 36.5 148.5 34 143.4 30.5 141.5 27.5 140.9 23.5 140.8 0.5 246.3 0.5 246.3 33.5 247.3 37.5 249.5 39.6 258.5 44.3 263.5 51.1 269.5 55.3 273.9 61.5 280.7 66.5 282.5 69.5 284.8 78.5 286.5 81.4 288.5 82.7 298.5 86.1 303.5 86.7 328.5 86.3 331.1 84.5 337.5 76 340.5 74.2 342.5 73.9 346.5 75.7 350.3 81.5 352.5 83.3 363.5 86.4 382.5 86.4 393.3 79.5 405.5 76.7 408.5 77.5 415.5 82.9 425.5 85.7 429.5 87.6 431.5 89.5 433 92.5 433.3 99.5 432.7 103.5 430.5 106.7 419.5 116.6 416.5 118.5 397.5 119.4 382.5 124 373.5 129.6 363.5 130.3 353.5 132.5 334.5 133.7 328.2 135.5 327.3 136.5 327.6 138.5 334.5 144 346 158.5 351.5 162 362.5 164.7 383.5 164.9 397.5 162.5 415.5 162.5 429.5 163.8 465.5 163.8 492.5 162.4 506.5 160 527.5 158.3 549.3 154.5 553.5 152.5 557.3 146.5 559.5 145.8 573.5 149.4 575.5 151 578.5 156.3 580.5 158 590.5 158.8 595.1 160.5 596.9 162.5 599.8 168.5 607.6 174.5 608.8 177.5ZM619.5 126.4 616.7 122.5 613.8 113.5 606.5 108.2 604.4 103.5 605.8 98.5 613.5 92.8 617.5 86.7 623.5 82.8 628.5 77.6 631.5 76.5 635.5 77.2 641.5 83.5 644.5 84.8 653.5 84.5 658.5 83.5 662.7 80.5 663.8 72.5 665.1 69.5 671.5 65.2 676.1 58.5 678.5 57.3 686.5 57.3 688.8 58.5 690.2 60.5 693.1 69.5 702.1 79.5 704.1 84.5 704 89.5 703.1 92.5 692.4 107.5 687.5 110.8 675.5 112.8 664.5 117.1 653.5 119.9 643 123.5 632.5 129.6 624.5 129.7ZM641.8 200.5 642.5 196.3 647.7 190.5 650.9 184.5 656.4 178.5 659.5 172.7 663.5 170.3 676.1 168.5 686.5 165 696.5 163.7 742.5 164.8 746.5 163.3 751.5 156.4 755.5 154.6 764.5 155.1 767.1 156.5 768.6 158.5 769.2 163.5 768.5 168.5 763.5 175.5 760.5 184.3 756.5 187.2 750.5 188.2 698.5 188.5 686 190.5 684 191.5 682.7 193.5 682.1 200.5 679.5 209.5 677.5 211.8 674.5 212.6 665.5 212.6 656.5 211.5 650.1 206.5 643.5 203ZM232.5 167.4 233.6 164.5 232.2 158.5 229.5 157.6 224.3 158.5 223.5 159.5 223.2 165.5 224.2 167.5 228.5 168.2ZM563 275.5 560.5 279.8 557.5 281.3 554.5 281.6 429.5 281.5 425.5 280 419.5 273.5 416.5 271.5 407.5 270.6 404.5 269.6 395.5 260.9 392.5 260.1 385.5 259.7 382.5 258.5 376.9 251.5 370.5 246.6 369.4 243.5 371.5 240 376.5 238.4 383.5 238.5 392.5 240.7 398.5 241.1 405.5 240.9 419.5 238.4 473.5 238.8 483.5 241.1 494.5 242.6 503.5 246.1 526.5 252.5 535.5 256.8 558.5 263.5 561.6 265.5 562.9 267.5ZM756.9 277.5 754.5 280.5 751.5 281.5 731.5 282.1 728.5 283.6 724.2 287.5 720.5 288.8 717.5 288 711.5 283 708.5 281.9 680.5 281.6 676.5 281 674.1 279.5 671.8 276.5 667.5 264.6 661.5 260.6 659.7 258.5 654.5 248.9 653.8 244.5 654.8 242.5 656.5 241.3 665.5 237.6 667.5 237.7 675.5 244.9 682.5 249.2 685.9 254.5 688.5 256.6 701.5 257.7 711.5 259.9 729.5 260.1 742.5 263.3 746.5 265.5 754.5 272.7 756.6 275.5ZM128.9 287.5 128.1 289.5 125.5 291.7 122.5 292.4 93.5 292.3 89.5 290.6 87.8 287.5 88.7 284.5 91.2 282.5 100.5 281.7 123.5 281.9 127.5 283.9Z"/><path fill="#b0cbff" fill-rule="evenodd" d="M133.9 199.5 134.3 197.5 136.2 194.5 144.6 186.5 147.6 182.5 148.3 178.5 147.1 169.5 148.4 164.5 151.1 161.5 156.8 158.5 158.5 155.8 159.2 146.5 161.3 135.5 161.7 114.5 163.5 110.5 169.5 106 171.4 103.5 171.8 100.5 170.2 91.5 170.7 88.5 172.2 85.5 175.5 82.7 180.5 81 209.5 80.3 210.7 79.5 214.5 72.8 223.8 68.5 224.5 66.5 224.9 59.5 226.5 55.4 228.5 53.3 234.3 49.5 238.5 43.2 242.5 41.4 253.5 44.7 256.5 46.5 261.5 53.2 267.5 57.4 271.8 63.5 279.3 69.5 281.7 80.5 284.1 84.5 296.1 91.5 304.9 94.5 306.8 96.5 309 101.5 311.5 103.1 317.5 103.5 320.5 102.7 326.2 96.5 334.4 92.5 336.8 89.5 339.1 82.5 341.5 80.7 343 81.5 346.5 86.5 348.5 88 362.5 93.4 373.5 93.6 384.5 92.7 386.9 91.5 393.5 85.5 397.5 84.4 402.5 85.3 409.5 87.9 417.5 89.9 421.4 92.5 422.4 95.5 422.1 101.5 420.5 104.6 416.5 107.7 406.5 108.7 397.5 111 394.5 112.6 388.5 117.4 384.5 119 372.5 122 361.7 123.5 352.5 126.9 341.5 127.6 326.5 130.8 306.9 136.5 306.1 137.5 307 139.5 316.5 147.1 329.5 151.5 344.5 162.3 350.5 165.4 361.5 168 374.5 168.6 384.5 168.5 398.5 166 470.5 166.4 481.5 164.8 493.5 164.4 511.5 161.3 554.5 156.8 557.5 155.5 561.4 150.5 567.5 149.4 570.5 149.9 573.4 151.5 577.5 157.5 579.5 159.2 589.5 160.2 593.5 161.5 595.6 163.5 599.1 169.5 605.8 174.5 607.5 178.5 606.5 182.1 603.7 185.5 600.5 187.3 597.5 187.6 568.5 186.7 527.5 187.2 471.5 186.3 449.5 187.4 395.5 187.7 392.5 188.8 390.4 190.5 387.3 197.5 386.5 201.5 388.2 209.5 387.9 211.5 377.5 218.7 370.5 220.5 353.5 220.9 343.5 219.2 338.5 216.9 333.5 209.6 330.5 207.9 310.5 207.9 298.5 206 288.5 205.7 284.5 204 279.6 197.5 276.5 195.6 260.5 195 255.5 195.2 252.5 196.5 246.5 204.5 243.5 206.3 225.5 207.3 220.5 208.5 217.8 210.5 213.5 216.1 210.5 217.7 199.5 218.3 187.5 220.5 176.5 220.7 167.5 219 152.5 211.9 136.7 203.5 134.6 201.5ZM611.5 103.5 612 101.5 617.5 97.5 621.5 91.4 627.5 87.4 632.5 81.9 634.5 82.2 638.5 86.3 641.7 87.5 645.5 87.8 662.4 85.5 666.5 83.9 676.5 76.5 682.5 75.8 686.5 76.2 688.5 77.1 691.2 79.5 692.9 82.5 692.8 92.5 690.5 101.5 687.5 105.3 683.5 107 668.5 110.3 658.4 114.5 644.5 119 633.5 121.5 625.5 120.1 622.3 117.5 617.7 108.5ZM236.5 168.5 237.1 165.5 235 157.5 233.5 155.9 231.5 155.2 227.4 155.5 223.5 156.4 222.1 157.5 221.3 159.5 221.3 167.5 222.5 169.8 225.5 171 230.5 171 233.5 170.5ZM644.1 200.5 644.6 197.5 649.5 193 653.5 186.4 658.9 181.5 663.2 175.5 667.5 173 677.5 170.7 687.5 167 697.5 165.4 729.5 165.6 744.5 166.5 750 164.5 753.4 158.5 754.8 157.5 762.5 157.4 764.8 159.5 764.8 166.5 761.9 172.5 760.1 181.5 758 184.5 754.5 186.3 749.5 187 697.5 187.1 679.1 188.5 675 190.5 671.5 195.2 665 199.5 661.1 205.5 657.5 207.4 646.2 202.5ZM191.6 181.5 190.5 178.5 186.5 177.4 179.6 178.5 177.3 179.5 176.1 181.5 177.5 183.3 179.5 184.5 186.5 186.2 189.5 185.4ZM539.9 266.5 538 269.5 533.5 270.8 430.5 270.7 426.5 269 418.5 261.1 415.5 260.2 408.5 259.8 405.5 258.6 403.2 256.5 402.2 253.5 404.3 250.5 412.6 244.5 417.5 242.5 470.5 242.3 481.5 246 494.5 247.4 506.7 253.5 513.5 259.1 516.5 259.9 524.5 260.3 535.5 263 538.7 264.5ZM702.2 267.5 700.5 269.5 697.5 270.6 682.5 270.8 678.5 270.3 675.7 267.5 672.1 260.5 664.5 254.9 661.5 249.9 658.1 246.5 658 244.5 663.5 242.5 666.5 242.7 672 249.5 678.1 253.5 683.5 260.9 688.5 262.7 699.2 263.5 702.1 265.5Z"/><path fill="#d9ecff" fill-rule="evenodd" d="M143.2 199.5 145.5 196 150.5 193.5 166.5 191.1 188.5 190.9 191.5 189.5 193.9 185.5 194.5 181.5 193.4 178.5 190.9 176.5 187.5 175.6 180.5 175.6 174.8 176.5 167.4 178.5 159.5 182.4 157.5 182.7 155.5 181.4 152.5 177.5 149.7 171.5 149.5 168.5 150.5 165.4 152.5 163.2 158.2 159.5 160 156.5 160.6 146.5 162.4 135.5 162.8 114.5 164.5 111 170.5 106.5 172.5 103.5 172.9 100.5 171.7 92.5 173.3 87.5 176.5 84.6 180.5 83.3 197.5 82.5 208.5 83 211.5 82.2 217.4 74.5 228.8 69.5 230.1 67.5 230.5 61.5 231.5 59.1 238.5 54 242.5 48 245.5 46.9 253.6 48.5 258.5 55.9 265.5 60.1 269.1 66.5 275.8 70.5 277.1 73.5 278.4 83.5 280.5 87.5 291.5 93.4 302.1 96.5 304.2 98.5 307.5 104.1 310.5 105.9 317.5 106.7 321.5 106.4 325.5 104.6 331.5 100.4 342.5 97.7 374.5 97.3 388.5 95.3 395.5 90.9 397.5 91 399.7 92.5 400.8 97.5 399.7 102.5 385.5 114.6 352.5 121.5 340.5 122.4 331.5 125.7 321.5 127.3 314.5 130.7 301.5 134.1 298.5 135.9 295.4 145.5 296.5 147.6 311.5 152.7 321.5 155.2 346.7 167.5 357.5 170 375.5 171.1 384.5 170.9 398.5 168.8 469.5 168.9 481.5 167 494.5 166.5 518.5 162 556.5 158.6 558.7 157.5 563.5 152.2 568.5 151 572.5 152.8 576.6 158.5 579.2 160.5 589.5 161.5 592.5 162.6 594.6 164.5 598.4 170.5 605 175.5 606.3 178.5 605.5 181.5 603.5 184 600.5 185.8 597.5 186.2 567.5 185.5 526.5 186.2 469.5 184.9 448.5 185.7 394.5 186.1 388.5 188.5 383.5 193.8 381.5 194.8 374.5 195.3 363.5 197.8 353.5 198.3 351.5 199.2 351.4 200.5 353.6 201.5 375.5 203.6 379.5 206.2 380.9 209.5 379.7 212.5 374.5 216 353.5 217.8 341.5 216.2 338.5 213.8 334.5 207.6 331.5 206.3 310.5 206.5 298.5 204.8 287.5 204.1 284.5 202.2 279.5 195.7 274.5 193.9 254.5 193.8 250.5 195.8 245.9 202.5 242.8 204.5 221.5 206.3 217.5 208.3 212.5 213.6 209.5 215.1 197.5 215.6 180.5 217.8 175.5 217.3 170.4 215.5 147.2 203.5 144.3 201.5ZM630.4 113.5 631 110.5 636.4 106.5 638 104.5 639 101.5 639.5 94.5 640.5 93 642.5 91.8 653.5 89.3 667.5 89.2 676.5 87.6 679.5 88.5 681.8 91.5 682.3 99.5 681.6 101.5 678.9 103.5 666.5 105.8 656.5 110.3 643.5 115.1 634.5 115.8 632.5 115.3ZM239.8 169.5 240.5 167.5 237.2 157.5 234.5 154.1 231.5 153.4 224.9 154.5 222.3 155.5 220.5 157.4 219.8 160.5 219.8 167.5 220.6 170.5 222.5 172.5 225.5 173.3 232.5 173.1 236.5 171.9ZM649.5 199.5 652.6 195.5 655.5 189.6 662.5 184.5 666.5 177.4 670.5 175.1 688.5 168.7 700.5 167.1 729.5 167.2 742.5 168.5 752.5 168 757.4 169.5 759.2 172.5 759.7 176.5 759.1 180.5 756.9 183.5 753.5 185.3 718.5 186.2 675.5 185.9 670.7 187.5 666.5 191.4 661.5 194.4 657.5 200.1 655.8 201.5 653.2 201.5ZM496.4 256.5 494.5 258.8 491.5 259.8 473.5 259.9 469.2 258.5 467.4 256.5 466.9 254.5 468.5 251.3 470.5 250.2 472.5 250.1 480.5 251.8 492.5 252.5 495.8 254.5Z"/><path fill="#ffecd9" fill-rule="evenodd" d="M151.6 168.5 152.8 165.5 159.5 160.5 161.3 157.5 163.4 135.5 163.9 114.5 165.5 111.4 171 107.5 173.3 104.5 173.9 100.5 173.2 92.5 174.7 88.5 177.5 86 182.5 84.7 197.5 83.9 211.5 84.2 213.5 82.9 217.2 77.5 219.6 75.5 234.5 71.4 237.5 72 240.1 73.5 244.2 80.5 251.1 84.5 255.1 91.5 262.1 95.5 266.2 102.5 272.5 105.9 276.5 112.7 279.5 114.1 284.5 114.2 286.5 113.5 287.6 111.5 288.1 103.5 288.9 100.5 290.5 98.5 294.5 97.1 298.5 97.3 301 98.5 306 105.5 308.5 107.6 320.5 109.6 333.5 108.4 350.5 108.2 353.5 107.3 358.3 103.5 362.5 101.8 373.5 101.3 383.5 99.2 387.5 99.5 390 100.5 391.1 102.5 390.5 104.5 387.5 108 384.5 110 381.5 110.5 373.5 109.2 363.5 114.8 338.5 116.7 321.5 121.9 312.5 128.5 300.5 131.8 297.5 133.2 292.5 142 287.3 146.5 287.5 148.5 289.5 150 303.4 156.5 309.2 158.5 319.5 160.1 333.7 166.5 342.7 169.5 353.5 172 375.5 173.3 384.5 173.2 398.5 171.2 465.5 171.5 481.5 169.2 495.5 168.5 512.4 164.5 522.5 162.8 539.5 161 556.5 160.2 560.1 158.5 564.8 153.5 568.5 152.5 571.5 153.7 575.8 159.5 578.5 161.6 581.5 162.4 589.5 162.8 592.5 164.2 597.5 171.2 603.3 175.5 605 178.5 604.5 180.8 602.5 183.3 600.5 184.4 597.5 184.8 580.5 185.1 567.5 184.3 526.5 185.1 462.5 183.3 448.5 184.1 393.5 184.5 382.5 187.8 373 188.5 363.5 191.9 350.5 192.6 343.3 194.5 341.5 196.4 340.4 199.5 340.4 201.5 341.5 203 363.5 208.7 371.5 209.3 373.2 210.5 372.8 211.5 371.5 212 363.5 212.6 352.5 215 344.5 214.6 341.5 213.6 339.6 211.5 337.5 205.6 335.5 204.7 310.5 205.1 298.5 203.5 289.5 203.2 285.6 201.5 281.5 195.4 277.5 193.1 254.5 192 251.5 192.8 248.8 194.5 245.2 200.5 242.5 202.6 220.5 204.8 216.6 206.5 211.5 211 208.5 212.2 191.5 212.8 179.5 214.9 174.4 213.5 166.5 208 158.1 203.5 155.5 201.5 155.2 199.5 159.5 197 169.5 194.7 178.5 193.8 188.5 194.5 191.5 193.8 195.1 191.5 197.2 188.5 197.3 182.5 196.5 179.5 192.2 175.5 185.5 173.8 177.5 173.7 157.5 176.9 153.5 174 152.1 171.5ZM654.5 104.7 652.5 104.1 650.8 102.5 650.1 99.5 650.3 95.5 651.7 93.5 653.5 92.6 657.3 92.5 660.2 94.5 660.5 100.5 658.2 103.5ZM221.5 174.6 225.5 175.5 234.5 175.2 240.5 173.1 243.4 170.5 243.9 168.5 243.5 166.5 238.4 155.5 235.5 152.3 232.5 151.6 224.5 153.4 221.5 154.6 219.7 156.5 218.6 160.5 218.6 168.5 219.5 172.2ZM758.4 177.5 757.7 180.5 755.5 183 752.5 184.4 715.5 185.2 687.5 184.7 674.5 182.3 672.5 181.5 671.3 179.5 674.7 176.5 686.5 171.2 701.5 168.8 728.5 168.9 752.5 170.3 756.6 172.5Z"/><path fill="#ffcbb0" fill-rule="evenodd" d="M153.7 168.5 154.5 166.4 160.5 161.8 162.5 158.5 164.4 135.5 164.7 115.5 166.5 111.9 171.6 108.5 174.1 105.5 175.1 101.5 174.6 92.5 175.8 89.5 179.5 86.8 186.5 85.7 199.5 85.1 211.5 85.9 214.5 84.2 218.5 78.6 220.5 77 224.5 75.5 232.5 74.2 235.5 74.8 238 76.5 242 82.5 248.5 87 253 93.5 259.5 98 263.5 104 269.9 108.5 274.1 114.5 276.5 116.4 284.5 117.4 288.5 116.3 290.8 112.5 291.9 102.5 293.5 100.5 296.5 99.3 298.5 99.5 300.5 100.7 304.5 107 307.5 109.6 319.8 113.5 320.7 114.5 320.4 115.5 312.4 125.5 308.9 127.5 299.5 129.8 296.5 131.3 289.5 141.4 279.9 145.5 278.3 147.5 280.1 149.5 292 156.5 328 168.5 351.5 174.4 363.5 174.4 375.5 175.6 384.5 175.4 398.5 173.4 447.5 173.4 461.5 174.4 481.5 171.4 498.5 170.3 514.5 165.7 524.5 163.9 537.5 162.5 557.5 161.5 561.3 159.5 565.5 154.9 568.5 154 571.5 155.5 574.9 160.5 577.5 162.6 580.5 163.5 588.5 163.9 591.5 165 596.5 172 602.6 176.5 603.6 179.5 602.5 181.5 599.5 183.2 581.5 184 567.5 183.1 547.5 184.1 525.5 184.1 503.5 183 481.5 182.8 461.5 181.4 447.5 182.5 392.5 182.8 373.5 184.5 362.5 187.5 351.5 187.1 342.5 188.1 338.5 191 335.6 199.5 333.7 201.5 329.5 202.6 318.5 203.7 309.5 203.6 288.5 201.5 285.9 199.5 283.1 194.5 279.5 192.1 275.5 191.2 264.5 190.9 253.5 189.7 249.5 190.6 246.5 192.4 243.4 198.5 241.5 200.1 232.5 200.7 219.5 203.1 208.5 208.2 200.5 208.3 189.5 207 183.5 210.5 179.5 211.5 176.5 210.5 167.5 202.5 166.7 200.5 167.6 199.5 172.5 197.7 177.5 196.7 190.5 198.2 201.5 192.5 212.5 191.2 214.6 189.5 214.5 187 211.5 184.8 202.5 183.5 196.4 176.5 190.5 173.2 178.5 171.5 158.5 174.1 155.4 172.5ZM245.7 174.5 247.1 171.5 247 167.5 242.5 159.9 239.7 153.5 237.5 151 234.5 149.7 231.5 150 222.5 152.9 219.1 155.5 217.7 159.5 217.3 168.5 217.8 173.5 219.5 176.9 223.5 178.3 234.5 178.2 241.5 176.9ZM757 177.5 756.7 179.5 755.5 181.4 751.5 183.4 719.5 184.1 686.5 183.2 680.5 181.5 678.5 180.2 677.9 178.5 681.4 175.5 688.5 172.5 698.5 170.8 710.5 170.3 727.5 170.5 751.5 171.9 755.5 174Z"/><path fill="#ffa880" fill-rule="evenodd" d="M373 179.5 370 181.5 363.5 183.6 351.5 181.8 341.5 184.4 337.3 186.5 334 189.5 333 191.5 332 197.5 330.5 199.7 321.5 201.9 310.5 202.1 297.5 200 289.7 199.5 287.5 197.6 285.1 192.5 282.5 190.8 276.5 189.4 264.5 188.9 260.4 187.5 258.6 185.5 256.3 178.5 252 173.5 249.5 166 244.4 158.5 241.5 150.5 239.5 148.4 236.5 147.1 233.5 147.3 222.5 151.8 218.5 154.5 216.8 158.5 215.3 174.5 214.1 176.5 211.5 177.8 202.5 177.9 191.5 172.1 179.5 169.3 160.5 171.5 157.5 170.8 156.2 168.5 157.3 166.5 162.5 162.5 163.9 159.5 165.6 135.5 165.9 115.5 167.5 112.5 172.5 109.5 175.1 106.5 176.1 102.5 175.9 93.5 176.9 90.5 180.5 88.1 189.5 86.7 199.5 86.3 209.5 87.6 212.5 87.4 215.7 85.5 219.5 80 221.5 78.3 224.5 77.2 231.5 76.4 234.5 77.1 236.4 78.5 240.5 84.3 246.5 88.6 251.5 95.3 257.5 99.6 261.8 105.5 268.4 110.5 272.5 116.2 275.5 118.5 285.5 120.1 288.5 119.7 290.5 118.6 293.3 114.5 294.5 103.9 295.5 102.5 297.5 101.8 299.5 102.9 304.3 110.5 311.8 115.5 310.7 121.5 308.7 124.5 295.5 129.1 293.5 131 290.5 137.1 288.5 139.5 275.5 144.8 274.4 146.5 274.5 148.5 277.5 152.1 287.5 158.8 320.5 170.7 332.5 172.5 351.5 177.7 363.5 176.5 369.1 177.5ZM602 178.5 601.5 180.4 600.5 181.2 597.5 181.9 580.5 183 567.5 181.9 539.5 183.2 481.5 181.5 468.5 179.8 464.5 178.5 464.9 177.5 467.6 176.5 480.5 173.7 494.5 173.2 502.5 172.1 514.7 167.5 524.5 165.2 537.5 163.7 558.5 162.8 561.5 161.5 566.1 156.5 568.5 155.6 570.5 156.6 573.8 161.5 576.5 163.7 579.5 164.7 587.5 165.1 590.5 165.9 592.2 167.5 595.5 173 600.5 176.5ZM755.6 178.5 753.5 181.5 750.5 182.4 714.5 183.1 688.5 181.9 683.8 180.5 682.2 178.5 685.5 175.5 690.5 173.9 700.5 172.3 714.5 171.8 751.5 173.6 754.5 175.3ZM456.7 178.5 452.5 180 446.5 180.6 395.5 180.6 386.9 179.5 387.1 178.5 389.2 177.5 398.5 175.7 448.5 175.8 453.5 176.5 456.2 177.5ZM198.8 200.5 199.5 199.4 202.5 198.2 212.5 197.8 221.5 196 223.5 196.5 224.3 197.5 223.9 198.5 222 199.5 209.5 202.6 201.5 202.6 199.1 201.5ZM180.6 202.5 178.5 203.3 177.5 202.5 177.5 201.5 179.5 201.2Z"/><path fill="#ff7a45" fill-rule="evenodd" d="M340.8 179.5 326.5 189 325.2 191.5 324.7 196.5 323.2 198.5 317.5 199.9 309.5 199.8 305.3 198.5 303.6 196.5 302.6 190.5 300.6 188.5 298.5 187.6 286.5 186.8 275.5 184.4 266.5 183.5 264.4 181.5 260.5 173.9 254.5 169 247.8 157.5 246.7 154.5 245 136.5 243.5 134 240.5 132.9 236.5 133 234.5 133.7 232.9 136.5 232.3 143.5 231.4 145.5 227.8 148.5 219.5 152.1 217.2 154.5 215.7 158.5 214.4 170.5 213.5 172.9 211.5 174.8 207.5 175.5 201.5 175.2 192.5 170.9 178.5 166 168.5 168 164.5 167.7 163.7 166.5 165.4 162.5 166.1 157.5 167.5 114.9 169.5 112.8 174.5 110 176.3 107.5 177.4 102.5 177.4 93.5 179.5 90.3 186.5 88.4 197.5 87.4 202.5 87.6 210.5 89.3 213.5 89.1 217.5 86.6 220.5 81.5 222.5 79.8 227.5 78.7 232.5 78.8 235 80.5 239.2 86.5 245.5 90.8 249.5 96.8 256.2 101.5 260.5 107.8 267.2 112.5 270.5 117.7 273.5 120.2 285.5 123 290.5 123 293.5 121.5 295.2 119.5 298.5 110.7 302.1 114.5 303.3 118.5 302.3 122.5 292.5 127 290.8 129.5 289 135.5 286.5 138.4 275.5 142.3 271.9 145.5 271.6 148.5 272.6 151.5 280.5 159.9 283.5 161.6 300.9 167.5 318.5 175.3 332.5 175.4 339 177.5ZM599.3 178.5 598.9 179.5 581.5 181.8 567.5 180.5 547.5 182 528.5 182.1 502.5 180 482.5 179.7 477.4 178.5 477.4 177.5 482.5 176 503.5 174.6 518.1 168.5 526.5 166.3 537.5 165 559.5 164.1 563.3 162.5 567 158.5 568.5 157.9 569.7 158.5 573.1 163.5 575.5 165.1 579.5 166.2 587.5 166.5 590.2 167.5 594.5 174.5ZM753.9 178.5 752.5 180.4 749.5 181.1 714.5 182.1 690.6 180.5 687.4 179.5 686.6 178.5 688.7 176.5 694.5 175.1 704.5 173.7 714.5 173.3 750.5 175.2 753.3 176.5Z"/><path fill="#ff5219" fill-rule="evenodd" d="M170 160.5 168.9 158.5 168.4 154.5 169.2 116.5 170.5 114.7 175.5 112.5 177.3 110.5 178.9 104.5 179.3 93.5 181 91.5 183.5 90.5 190.5 89.1 199.5 88.5 211.5 91.2 215.5 91.1 219.5 89.1 223.5 82.2 226.5 81.3 231.5 81.5 233.5 83.5 236.5 88.9 243.5 93 247.1 99.5 254 103.5 258.1 110.5 265 114.5 269.2 121.5 271.5 122.8 282.5 125.9 284.8 127.5 286.6 130.5 286.7 134.5 285.2 136.5 273.5 140.9 270.2 143.5 268.8 148.5 269.5 158.5 268.2 160.5 265.5 162 258.5 162.4 256.5 161.8 254.5 160.1 252.3 155.5 251.7 146.5 248.1 131.5 245.5 128.3 239.5 127.2 234.5 127.8 231.5 131 230 135.5 229.6 143.5 228 146.5 219.5 150.8 216.4 153.5 214.8 157.5 213.5 168.5 212.5 170.9 210.5 172.7 206.5 173.3 200.5 172.8 186.4 166.5 178.5 160.7ZM592.1 176.5 591.9 177.5 590.4 178.5 579.5 180.7 567.5 178.7 547.5 180.9 525.5 180.9 512.9 179.5 509.1 178.5 507.9 177.5 510.3 175.5 525.5 168.2 536.5 166.5 560.5 165.9 568.5 163.3 571.5 165.8 574.5 167.3 588.5 169 589.9 170.5ZM312.2 180.5 310.8 182.5 308.5 183.2 299.5 181.5 285.8 180.5 282.9 178.5 281.9 176.5 282.2 169.5 284.5 167.4 288.8 167.5 298.5 173.6 310.3 177.5 311.5 178.5ZM750.7 178.5 748.5 179.1 734.5 179.4 715.5 180.9 705.8 180.5 695.7 178.5 696.1 177.5 699.5 176.4 714.5 175 749.5 177.4Z"/><path fill="#e03500" fill-rule="evenodd" d="M209.5 170.7 201.5 170.8 193.8 167.5 185.9 161.5 183.2 158.5 181.7 155.5 181.3 117.5 181.8 96.5 182.9 93.5 187.5 91.2 195.5 90 201.5 90 216.5 95.7 218.5 97.5 219.9 100.5 221.5 113.4 228.5 118.1 230.5 121.5 230.7 124.5 227.8 134.5 227 144.5 225.5 146.5 218.5 149.9 215.5 152.5 213.8 156.5 212.2 167.5 211.2 169.5ZM254.1 137.5 253.9 133.5 255.5 130.9 272.5 128 275.5 127.9 278.5 129.1 281.2 131.5 282.2 133.5 281.2 135.5 279.6 136.5 270.5 139.1 268.5 140.3 266.9 142.5 264.5 148.5 263.5 149.2 260.9 147.5ZM563.3 172.5 563.1 174.5 561.6 176.5 555.3 178.5 548.5 179.5 525.5 179.5 519.7 178.5 517.7 177.5 517.6 176.5 525 171.5 535.7 168.5 558 168.5 561.7 169.5 562.7 170.5ZM586 175.5 585 177.5 579.5 179.1 574.3 177.5 573.1 175.5 575.3 172.5 579.5 171.4 583.8 172.5ZM720.6 178.5 709.4 178.5 710.3 177.5 714.5 177.4 719.7 177.5Z"/><path fill="#b82200" fill-rule="evenodd" d="M208.5 168.2 202.5 168.4 197.7 166.5 188.9 158.5 187.1 154.5 187 96.5 188.7 93.5 195.5 91.5 200.5 91.3 203.5 92.2 214.5 100 216.3 103.5 217.5 114.7 219.5 117.4 225.2 121.5 226.7 124.5 224.7 144.5 222.7 146.5 216.5 149.2 214.2 151.5 212.7 155.5 210.9 165.5 209.7 167.5ZM548.7 175.5 547.9 176.5 544.5 177.1 531.5 176.5 531.9 175.5 534.2 174.5 539 173.5 545.5 173.6 548.1 174.5Z"/><path fill="#8c0000" fill-rule="evenodd" d="M206.5 162.3 202.5 162.2 199.5 160.6 195.9 156.5 195.1 153.5 195.1 97.5 195.6 95.5 198.5 93.9 201.5 94.5 205.5 99.1 211.5 102.8 212.6 105.5 212.9 113.5 213.9 117.5 216 120.5 221.5 123.7 223 126.5 222 143.5 220.5 145.1 215.5 146.9 213.2 148.5 211.2 152.5 209.5 159.5 208.5 161.3Z"/></g><path fill="#fff" stroke="#000" stroke-width="1.3" stroke-linejoin="round" d="M-12.1 117.0 -13.6 115.9 -16.0 114.4 -19.3 114.8 -19.1 111.1 -20.6 109.6 -18.8 105.9 -19.3 102.9 -20.1 101.8 -17.3 100.3 -12.3 100.5 -8.2 100.8 -3.9 101.0 -2.6 98.4 -2.4 94.9 -4.8 92.7 -9.8 91.4 -10.4 90.1 -6.5 89.3 -3.5 89.5 -4.1 87.3 -2.2 88.0 0.4 87.8 3.5 86.2 4.1 84.5 6.9 83.6 8.7 82.3 10.2 80.4 11.9 79.3 15.2 78.9 18.6 78.2 18.6 75.8 17.5 74.8 17.8 71.9 23.0 70.0 22.8 71.5 22.1 73.2 21.7 75.8 23.8 77.1 27.1 77.1 30.3 78.0 34.7 77.3 40.1 76.3 43.3 76.7 45.7 74.3 45.5 71.9 48.8 70.0 52.0 71.5 50.9 68.2 53.1 66.3 60.7 66.1 65.4 65.2 62.8 64.6 54.2 64.6 48.8 65.0 46.4 62.8 46.6 58.5 52.0 54.6 55.0 54.2 52.4 52.4 47.7 52.9 45.5 55.2 41.2 58.1 37.9 60.0 37.0 62.8 40.7 65.0 39.0 66.5 36.0 70.4 34.7 73.4 30.8 75.0 27.9 74.5 27.1 72.6 23.8 67.4 22.8 66.1 20.6 67.2 15.2 69.3 12.1 67.4 10.8 64.4 10.8 61.1 13.4 59.6 17.3 57.9 21.7 56.3 26.0 53.5 28.2 50.9 31.4 48.1 34.7 46.6 39.0 44.4 43.3 43.3 49.8 42.0 55.9 41.0 60.7 41.2 67.2 42.7 71.5 44.9 78.0 45.5 86.7 48.1 89.3 50.3 88.8 52.0 82.3 54.6 87.8 55.2 95.3 51.6 96.4 47.0 99.7 47.7 108.3 48.1 114.8 46.6 119.2 47.2 125.7 45.9 131.1 43.8 138.7 44.9 145.2 45.9 144.1 42.2 148.4 37.9 151.7 36.0 154.9 37.9 157.1 41.2 157.1 47.7 160.3 48.8 159.2 41.2 162.5 37.9 169.0 38.4 174.4 35.8 177.7 35.1 188.5 33.6 195.0 31.4 205.8 30.3 216.7 29.2 225.3 26.6 234.0 28.6 242.7 30.8 245.9 35.8 253.5 35.8 260.0 36.8 268.7 35.5 277.3 37.9 281.7 41.2 292.5 39.9 303.3 37.9 316.3 38.4 325.0 40.1 335.8 41.2 346.7 43.3 357.5 44.2 368.3 43.3 379.2 43.8 390.0 45.7 398.7 48.8 407.3 50.9 412.3 52.0 408.4 55.2 405.2 55.7 396.5 54.2 392.2 53.1 383.5 54.8 387.8 59.6 377.0 61.1 368.3 65.0 357.5 65.0 353.2 66.1 351.0 69.3 353.2 71.5 352.1 73.7 346.7 78.0 343.4 81.2 339.5 84.5 338.0 81.2 337.6 75.8 339.7 70.4 343.4 69.3 347.8 61.7 335.8 66.5 329.3 67.2 320.7 66.5 309.8 66.5 304.4 69.3 296.8 76.9 303.3 78.0 306.6 80.2 304.4 84.5 304.0 89.9 300.1 93.2 294.7 98.6 288.2 102.3 283.2 103.3 281.0 106.6 278.4 109.4 280.4 114.8 280.1 118.7 276.2 120.0 273.6 120.2 274.1 117.0 274.3 113.7 271.9 112.7 270.8 109.4 269.3 108.3 264.3 107.2 262.6 110.9 264.8 107.7 262.2 106.4 257.8 109.6 255.0 110.7 257.4 113.7 257.8 114.6 261.7 113.1 265.4 114.0 262.2 115.9 260.6 117.0 258.5 119.8 261.7 124.6 264.1 127.8 264.1 130.0 263.2 133.2 259.3 138.7 255.9 141.9 252.4 144.5 247.4 146.7 242.7 147.8 239.2 151.0 237.7 148.4 234.6 148.2 231.4 150.1 229.2 153.8 230.7 157.1 234.6 161.6 236.6 167.9 235.7 171.2 231.8 172.5 230.7 174.2 227.5 176.4 227.1 172.7 224.2 172.0 222.9 169.0 218.6 167.5 216.7 165.8 214.9 172.2 217.1 176.8 217.5 179.4 219.9 180.0 221.4 181.6 224.0 186.3 225.8 192.0 224.0 192.2 219.7 188.9 217.5 185.7 217.3 182.4 213.4 177.7 213.6 173.3 212.8 167.9 211.5 159.2 208.0 158.6 204.5 160.3 205.4 153.8 201.5 150.6 199.8 148.4 198.5 146.0 196.1 147.3 192.8 147.8 188.5 148.8 188.3 150.6 184.6 153.0 182.0 155.6 178.3 159.0 174.0 161.4 173.8 166.8 172.9 172.7 169.4 175.7 167.9 177.4 165.3 174.4 163.1 169.0 161.2 163.6 158.6 158.2 157.7 153.8 157.3 149.5 156.2 146.9 152.8 149.9 149.5 146.7 151.7 145.4 148.4 144.1 145.2 141.3 138.7 140.2 133.5 140.4 127.4 139.5 124.1 139.1 123.1 136.3 118.7 137.6 113.7 135.2 110.1 132.2 108.5 129.8 105.1 130.0 103.8 130.2 105.1 133.7 107.5 136.5 108.8 139.1 110.9 138.4 111.8 140.4 111.4 142.1 114.8 142.8 118.3 142.1 121.3 139.8 122.0 138.2 122.2 141.0 123.5 143.0 127.0 143.9 129.6 146.2 126.7 150.8 125.0 153.8 121.3 156.2 117.0 158.4 113.1 161.2 106.2 163.6 97.5 167.3 94.2 167.5 92.7 163.1 92.3 159.2 89.9 154.9 87.8 152.1 84.7 148.4 82.3 143.0 79.1 138.7 75.8 134.3 75.8 131.1 74.3 134.3 72.6 133.2 70.6 130.2 72.6 135.4 73.7 137.6 76.9 143.0 78.0 146.2 80.8 152.8 83.4 156.0 85.6 160.8 89.9 165.1 93.6 169.4 95.3 172.2 101.8 170.7 106.2 170.5 110.9 169.4 110.5 172.2 109.4 175.5 106.2 182.0 101.8 187.4 96.4 191.8 91.0 197.2 87.8 200.4 85.1 205.0 84.5 209.1 85.6 212.3 87.8 217.7 88.0 226.4 84.5 231.4 79.9 233.8 75.4 237.9 76.9 242.7 76.9 247.0 71.5 250.2 70.6 251.3 71.1 255.7 67.2 259.8 60.7 265.8 55.5 268.7 47.7 269.1 43.3 270.4 40.1 269.3 39.6 265.4 36.8 257.8 32.9 252.8 31.4 244.6 28.8 238.3 25.6 232.5 26.4 225.3 29.5 221.0 29.0 216.7 28.6 214.1 26.6 208.0 26.0 205.8 25.6 204.8 22.8 201.5 20.1 197.2 20.6 194.1 21.0 189.6 20.8 186.3 18.4 184.8 15.2 185.5 13.0 185.7 10.8 182.9 7.4 181.1 2.6 181.8 -0.4 183.1 -4.3 184.6 -8.7 183.5 -16.2 185.5 -19.5 184.2 -23.4 181.3 -28.6 176.6 -31.4 172.2 -33.6 170.1 -36.2 167.9 -37.9 163.1 -35.8 159.7 -34.7 155.8 -35.8 152.1 -36.8 149.5 -34.7 144.1 -31.4 138.7 -28.2 134.8 -21.7 131.1 -20.8 128.9 -19.9 124.6 -16.2 122.0 -13.6 119.2 -12.8 117.4 -11.5 117.2 -6.5 118.5 -2.2 117.6 1.1 117.0 6.5 115.3 14.1 114.6 21.2 114.2 23.8 114.8 22.8 117.0 24.0 118.7 21.9 120.9 24.9 123.3 28.6 123.7 32.9 125.0 36.8 127.8 41.2 129.3 43.5 126.7 43.3 125.4 47.7 123.7 52.0 125.7 54.6 126.5 64.8 127.4 67.2 126.5 70.0 127.2 74.1 127.2 75.6 123.9 76.9 120.2 77.8 117.4 78.4 115.7 76.9 115.7 75.0 115.3 70.4 116.8 66.3 115.3 61.7 115.5 59.1 114.8 57.4 112.0 57.4 109.4 56.8 108.3 56.3 106.6 52.0 106.8 49.6 107.0 49.0 109.2 49.8 112.0 51.3 112.9 49.4 113.7 48.8 116.1 47.0 115.3 45.9 113.1 45.5 111.6 43.8 109.2 42.0 107.5 42.2 104.4 40.1 102.9 35.8 100.8 32.5 98.6 29.9 97.7 29.7 96.2 26.6 96.6 26.9 99.2 29.5 100.8 30.8 103.1 34.7 105.3 40.1 108.1 37.3 107.2 36.0 110.1 34.9 112.7 33.8 112.7 34.7 110.1 32.5 107.7 31.0 106.6 28.2 105.5 24.9 103.1 22.8 100.8 19.5 98.8 15.8 100.3 13.0 101.6 11.7 101.2 8.7 100.8 6.7 101.8 6.9 104.0 4.8 105.3 1.7 106.2 -0.9 109.4 0.4 110.9 -1.1 112.0 -1.7 113.5 -4.3 115.3 -9.5 115.5 -11.5 116.8ZM767.9 117.0 766.3 115.9 764.0 114.4 760.7 114.8 760.9 111.1 759.4 109.6 761.1 105.9 760.7 102.9 759.8 101.8 762.7 100.3 767.6 100.5 771.8 100.8 776.1 101.0 777.4 98.4 777.6 94.9 775.2 92.7 770.2 91.4 769.6 90.1 773.5 89.3 776.5 89.5 775.9 87.3 777.8 88.0 780.4 87.8 783.5 86.2 784.1 84.5 786.9 83.6 788.7 82.3 790.2 80.4 791.9 79.3 795.2 78.9 798.6 78.2 798.6 75.8 797.5 74.8 797.8 71.9 803.0 70.0 802.8 71.5 802.1 73.2 801.7 75.8 803.8 77.1 807.1 77.1 810.3 78.0 814.7 77.3 820.1 76.3 823.3 76.7 825.7 74.3 825.5 71.9 828.8 70.0 832.0 71.5 830.9 68.2 833.1 66.3 840.7 66.1 845.4 65.2 842.8 64.6 834.2 64.6 828.8 65.0 826.4 62.8 826.6 58.5 832.0 54.6 835.0 54.2 832.4 52.4 827.7 52.9 825.5 55.2 821.2 58.1 817.9 60.0 817.0 62.8 820.7 65.0 819.0 66.5 816.0 70.4 814.7 73.4 810.8 75.0 807.9 74.5 807.1 72.6 803.8 67.4 802.8 66.1 800.6 67.2 795.2 69.3 792.1 67.4 790.8 64.4 790.8 61.1 793.4 59.6 797.3 57.9 801.7 56.3 806.0 53.5 808.2 50.9 811.4 48.1 814.7 46.6 819.0 44.4 823.3 43.3 829.8 42.0 835.9 41.0 840.7 41.2 847.2 42.7 851.5 44.9 858.0 45.5 866.7 48.1 869.3 50.3 868.8 52.0 862.3 54.6 867.7 55.2 875.3 51.6 876.4 47.0 879.7 47.7 888.3 48.1 894.8 46.6 899.2 47.2 905.7 45.9 911.1 43.8 918.7 44.9 925.2 45.9 924.1 42.2 928.4 37.9 931.7 36.0 934.9 37.9 937.1 41.2 937.1 47.7 940.3 48.8 939.2 41.2 942.5 37.9 949.0 38.4 954.4 35.8 957.7 35.1 968.5 33.6 975.0 31.4 985.8 30.3 996.7 29.2 1005.3 26.6 1014.0 28.6 1022.7 30.8 1025.9 35.8 1033.5 35.8 1040.0 36.8 1048.7 35.5 1057.3 37.9 1061.7 41.2 1072.5 39.9 1083.3 37.9 1096.3 38.4 1105.0 40.1 1115.8 41.2 1126.7 43.3 1137.5 44.2 1148.3 43.3 1159.2 43.8 1170.0 45.7 1178.7 48.8 1187.3 50.9 1192.3 52.0 1188.4 55.2 1185.2 55.7 1176.5 54.2 1172.2 53.1 1163.5 54.8 1167.8 59.6 1157.0 61.1 1148.3 65.0 1137.5 65.0 1133.2 66.1 1131.0 69.3 1133.2 71.5 1132.1 73.7 1126.7 78.0 1123.4 81.2 1119.5 84.5 1118.0 81.2 1117.6 75.8 1119.7 70.4 1123.4 69.3 1127.8 61.7 1115.8 66.5 1109.3 67.2 1100.7 66.5 1089.8 66.5 1084.4 69.3 1076.8 76.9 1083.3 78.0 1086.6 80.2 1084.4 84.5 1084.0 89.9 1080.1 93.2 1074.7 98.6 1068.2 102.3 1063.2 103.3 1061.0 106.6 1058.4 109.4 1060.4 114.8 1060.1 118.7 1056.2 120.0 1053.6 120.2 1054.1 117.0 1054.3 113.7 1051.9 112.7 1050.8 109.4 1049.3 108.3 1044.3 107.2 1042.6 110.9 1044.8 107.7 1042.2 106.4 1037.8 109.6 1035.0 110.7 1037.4 113.7 1037.8 114.6 1041.7 113.1 1045.4 114.0 1042.2 115.9 1040.6 117.0 1038.5 119.8 1041.7 124.6 1044.1 127.8 1044.1 130.0 1043.2 133.2 1039.3 138.7 1035.9 141.9 1032.4 144.5 1027.4 146.7 1022.7 147.8 1019.2 151.0 1017.7 148.4 1014.6 148.2 1011.4 150.1 1009.2 153.8 1010.7 157.1 1014.6 161.6 1016.6 167.9 1015.7 171.2 1011.8 172.5 1010.7 174.2 1007.5 176.4 1007.1 172.7 1004.2 172.0 1002.9 169.0 998.6 167.5 996.7 165.8 994.9 172.2 997.1 176.8 997.5 179.4 999.9 180.0 1001.4 181.6 1004.0 186.3 1005.8 192.0 1004.0 192.2 999.7 188.9 997.5 185.7 997.3 182.4 993.4 177.7 993.6 173.3 992.8 167.9 991.5 159.2 988.0 158.6 984.5 160.3 985.4 153.8 981.5 150.6 979.8 148.4 978.5 146.0 976.1 147.3 972.8 147.8 968.5 148.8 968.3 150.6 964.6 153.0 962.0 155.6 958.3 159.0 954.0 161.4 953.8 166.8 952.9 172.7 949.4 175.7 947.9 177.4 945.3 174.4 943.1 169.0 941.2 163.6 938.6 158.2 937.7 153.8 937.3 149.5 936.2 146.9 932.7 149.9 929.5 146.7 931.7 145.4 928.4 144.1 925.2 141.3 918.7 140.2 913.5 140.4 907.4 139.5 904.1 139.1 903.1 136.3 898.7 137.6 893.7 135.2 890.1 132.2 888.5 129.8 885.1 130.0 883.8 130.2 885.1 133.7 887.5 136.5 888.8 139.1 890.9 138.4 891.8 140.4 891.4 142.1 894.8 142.8 898.3 142.1 901.3 139.8 902.0 138.2 902.2 141.0 903.5 143.0 907.0 143.9 909.6 146.2 906.7 150.8 905.0 153.8 901.3 156.2 897.0 158.4 893.1 161.2 886.2 163.6 877.5 167.3 874.2 167.5 872.7 163.1 872.3 159.2 869.9 154.9 867.7 152.1 864.7 148.4 862.3 143.0 859.1 138.7 855.8 134.3 855.8 131.1 854.3 134.3 852.6 133.2 850.6 130.2 852.6 135.4 853.7 137.6 856.9 143.0 858.0 146.2 860.8 152.8 863.4 156.0 865.6 160.8 869.9 165.1 873.6 169.4 875.3 172.2 881.8 170.7 886.2 170.5 890.9 169.4 890.5 172.2 889.4 175.5 886.2 182.0 881.8 187.4 876.4 191.8 871.0 197.2 867.7 200.4 865.1 205.0 864.5 209.1 865.6 212.3 867.7 217.7 868.0 226.4 864.5 231.4 859.9 233.8 855.4 237.9 856.9 242.7 856.9 247.0 851.5 250.2 850.6 251.3 851.1 255.7 847.2 259.8 840.7 265.8 835.5 268.7 827.7 269.1 823.3 270.4 820.1 269.3 819.6 265.4 816.8 257.8 812.9 252.8 811.4 244.6 808.8 238.3 805.6 232.5 806.4 225.3 809.5 221.0 809.0 216.7 808.6 214.1 806.6 208.0 806.0 205.8 805.6 204.8 802.8 201.5 800.1 197.2 800.6 194.1 801.0 189.6 800.8 186.3 798.4 184.8 795.2 185.5 793.0 185.7 790.8 182.9 787.4 181.1 782.6 181.8 779.6 183.1 775.7 184.6 771.3 183.5 763.8 185.5 760.5 184.2 756.6 181.3 751.4 176.6 748.6 172.2 746.4 170.1 743.8 167.9 742.1 163.1 744.2 159.7 745.3 155.8 744.2 152.1 743.2 149.5 745.3 144.1 748.6 138.7 751.8 134.8 758.3 131.1 759.2 128.9 760.1 124.6 763.8 122.0 766.3 119.2 767.2 117.4 768.5 117.2 773.5 118.5 777.8 117.6 781.1 117.0 786.5 115.3 794.1 114.6 801.2 114.2 803.8 114.8 802.8 117.0 804.0 118.7 801.9 120.9 804.9 123.3 808.6 123.7 812.9 125.0 816.8 127.8 821.2 129.3 823.5 126.7 823.3 125.4 827.7 123.7 832.0 125.7 834.6 126.5 844.8 127.4 847.2 126.5 850.0 127.2 854.1 127.2 855.6 123.9 856.9 120.2 857.8 117.4 858.4 115.7 856.9 115.7 855.0 115.3 850.4 116.8 846.3 115.3 841.7 115.5 839.1 114.8 837.4 112.0 837.4 109.4 836.8 108.3 836.3 106.6 832.0 106.8 829.6 107.0 829.0 109.2 829.8 112.0 831.3 112.9 829.4 113.7 828.8 116.1 827.0 115.3 825.9 113.1 825.5 111.6 823.8 109.2 822.0 107.5 822.2 104.4 820.1 102.9 815.8 100.8 812.5 98.6 809.9 97.7 809.7 96.2 806.6 96.6 806.9 99.2 809.5 100.8 810.8 103.1 814.7 105.3 820.1 108.1 817.3 107.2 816.0 110.1 814.9 112.7 813.8 112.7 814.7 110.1 812.5 107.7 811.0 106.6 808.2 105.5 804.9 103.1 802.8 100.8 799.5 98.8 795.8 100.3 793.0 101.6 791.7 101.2 788.7 100.8 786.7 101.8 786.9 104.0 784.8 105.3 781.7 106.2 779.1 109.4 780.4 110.9 778.9 112.0 778.3 113.5 775.7 115.3 770.5 115.5 768.5 116.8ZM440.3 40.5 450.7 41.6 459.3 42.7 474.5 44.0 485.3 45.5 488.6 44.4 498.3 43.3 509.2 44.4 520.0 45.5 530.8 47.7 541.7 47.7 552.5 46.6 567.7 48.1 574.2 47.7 572.0 47.0 575.2 39.4 578.5 40.1 580.7 44.4 587.2 46.6 593.7 48.8 595.8 44.4 602.3 49.8 598.0 52.0 591.5 55.9 582.8 58.5 576.3 62.8 575.2 67.2 579.6 71.5 589.3 73.7 601.2 75.8 602.3 80.6 606.7 83.8 608.8 76.9 613.2 72.6 612.1 68.2 611.0 63.9 612.1 59.6 621.8 60.2 628.3 62.8 629.4 67.2 637.0 68.2 640.2 64.4 645.7 70.4 648.9 74.8 655.4 78.0 659.3 81.7 655.4 83.6 650.0 86.2 641.3 86.0 635.9 86.7 631.6 88.8 627.2 93.2 630.5 91.0 638.1 88.4 640.2 89.3 639.2 91.4 640.2 94.9 642.4 95.8 647.8 96.2 650.0 94.2 650.4 95.3 642.4 98.4 637.4 100.8 637.0 98.6 640.2 96.8 634.8 97.9 631.1 99.2 627.9 100.5 626.6 102.9 628.3 104.4 626.2 105.1 622.9 105.7 619.7 107.0 619.7 109.4 617.5 110.9 616.4 113.7 615.3 115.0 616.4 118.7 613.2 120.2 609.9 121.8 606.9 123.9 604.5 126.7 603.8 130.0 605.4 133.5 606.4 137.6 605.8 140.4 604.3 140.6 602.8 138.4 600.8 135.4 600.6 132.2 598.0 130.0 595.0 130.6 591.5 129.1 589.3 128.5 586.3 129.6 586.3 132.2 583.9 131.7 580.7 130.9 576.3 130.9 574.2 131.7 569.4 134.8 569.0 138.7 568.1 146.2 569.4 150.6 571.8 153.4 575.2 155.6 580.7 154.7 583.9 152.1 584.3 149.5 591.5 148.4 590.4 152.8 588.9 156.0 588.7 160.3 593.7 160.5 599.5 162.5 598.9 169.0 598.6 171.4 601.2 174.4 606.7 174.8 611.4 175.9 614.2 176.6 616.4 172.5 619.7 170.7 624.0 168.1 625.1 171.2 627.9 169.9 628.3 169.0 632.7 172.2 637.0 172.0 641.3 172.0 645.7 172.0 647.8 175.5 648.9 176.6 653.9 180.3 660.4 182.4 666.7 184.4 669.5 187.4 671.7 191.1 671.7 195.0 674.9 197.2 683.6 200.4 690.1 201.3 696.6 203.0 703.7 207.6 704.4 212.3 702.4 216.0 699.8 218.8 696.6 223.2 695.5 227.5 695.1 233.3 693.3 237.9 691.2 242.7 686.4 244.8 682.5 246.6 679.7 247.0 674.9 251.3 674.7 255.7 671.7 260.0 669.5 263.2 666.7 264.8 664.1 268.0 661.0 270.6 658.2 270.6 655.4 269.8 653.2 268.7 655.4 271.9 657.1 273.9 655.4 277.3 652.2 278.8 645.7 279.3 645.2 282.8 639.2 283.8 641.3 287.1 639.2 288.2 638.1 292.5 633.8 294.7 637.0 298.6 633.1 302.2 630.5 305.5 631.8 308.5 631.6 310.9 634.8 313.7 631.6 314.2 626.2 313.1 619.7 308.8 617.5 303.3 616.4 299.0 619.7 295.8 619.7 290.3 620.8 286.0 620.8 281.7 620.8 275.2 624.0 268.7 624.9 266.5 625.1 260.0 626.2 253.5 627.2 247.0 627.9 238.8 627.7 235.1 625.1 232.5 619.7 229.0 614.9 224.9 612.9 221.0 608.8 212.3 604.1 205.8 603.8 204.8 606.7 201.5 606.7 199.8 604.7 197.2 606.7 192.8 609.3 191.1 612.1 186.8 612.3 180.9 611.0 178.8 607.8 175.7 605.6 177.7 602.3 177.0 598.4 176.4 594.3 173.3 593.9 170.7 590.4 167.0 587.2 165.8 581.8 164.7 578.5 161.2 575.2 159.9 570.9 161.0 565.9 159.2 560.1 157.1 554.7 153.8 551.4 150.6 551.8 147.8 549.5 144.7 546.0 140.8 542.8 137.6 539.5 134.3 536.2 131.1 533.0 127.8 531.5 126.3 535.2 132.2 537.3 136.5 540.6 141.9 541.0 142.8 542.8 145.2 540.6 144.1 537.3 141.3 536.2 137.6 531.9 134.8 529.8 131.1 527.4 126.1 526.1 124.1 523.5 121.8 518.7 120.0 515.9 115.7 514.6 113.1 511.8 109.4 510.7 107.5 510.9 104.0 511.3 98.6 511.3 94.9 509.8 90.1 513.5 89.9 513.1 88.4 509.2 85.6 503.7 82.3 498.3 76.9 494.0 73.7 487.5 69.3 482.1 67.8 476.7 65.4 468.0 65.0 461.5 63.9 456.1 66.1 451.7 66.7 452.8 62.8 448.5 67.2 445.2 70.4 439.8 72.6 433.3 74.8 426.8 76.3 423.6 76.9 431.2 73.7 437.7 70.4 439.8 67.8 433.3 67.6 429.0 65.4 423.1 63.9 421.4 60.7 423.6 57.4 431.2 55.5 431.2 54.6 420.3 55.0 416.0 52.9 423.6 50.9 429.6 51.6 424.7 48.8 419.2 47.0 426.8 44.4 433.3 42.0ZM-12.3 86.7 -9.1 85.8 -2.2 85.1 3.0 84.1 3.7 81.0 0.6 80.2 -0.4 78.0 -2.6 76.7 -3.5 74.5 -5.4 73.7 -4.3 71.3 -7.6 70.0 -6.5 68.0 -10.8 68.0 -12.6 70.4 -12.1 72.6 -11.9 74.8 -10.4 76.3 -7.1 76.0 -6.5 78.4 -9.8 79.5 -9.1 81.2 -11.3 82.8 -7.1 83.6 -9.8 84.3ZM767.6 86.7 770.9 85.8 777.8 85.1 783.0 84.1 783.7 81.0 780.6 80.2 779.6 78.0 777.4 76.7 776.5 74.5 774.6 73.7 775.7 71.3 772.4 70.0 773.5 68.0 769.2 68.0 767.4 70.4 767.9 72.6 768.1 74.8 769.6 76.3 772.8 76.0 773.5 78.4 770.2 79.5 770.9 81.2 768.7 82.8 772.8 83.6 770.2 84.3ZM767.0 82.3 766.6 79.5 767.9 76.7 766.6 75.4 763.8 75.2 761.6 76.9 758.3 77.6 757.9 79.3 759.4 81.0 757.7 82.5 759.4 83.4 762.7 82.8 766.1 81.9ZM732.3 56.3 728.0 53.1 732.3 51.1 745.3 50.9 748.6 53.1 749.7 55.2 739.9 57.6ZM23.8 24.9 30.3 22.1 36.8 21.7 47.7 21.0 58.5 21.2 58.5 24.3 49.8 27.1 41.2 27.7 32.5 28.2 28.2 26.4ZM112.7 40.1 123.5 41.8 121.3 37.9 130.0 33.6 143.0 30.8 149.5 28.6 134.3 29.2 121.3 33.6 114.8 36.8ZM173.3 20.6 195.0 19.5 216.7 22.8 208.0 24.9 195.0 22.8ZM296.8 31.4 307.7 30.3 325.0 31.9 316.3 33.6 303.3 33.6ZM386.8 40.7 394.3 40.1 391.1 41.6ZM621.8 24.9 632.7 30.3 645.7 30.3 654.3 31.4 658.7 34.7 661.9 41.2 667.3 44.4 664.1 49.8 667.3 54.2 671.7 60.7 676.0 63.3 684.7 65.4 686.8 63.9 691.2 58.5 697.7 53.1 710.7 47.7 725.8 44.4 732.3 41.2 733.4 36.8 738.8 32.5 741.0 27.1 738.8 21.7 754.0 18.4 736.7 16.2 715.0 14.1 682.5 16.2 654.3 17.3 643.5 18.4 628.3 23.8ZM606.7 35.3 615.3 37.5 626.2 41.2 634.8 44.4 634.8 47.7 645.7 50.3 642.4 51.4 645.9 52.0 640.2 54.2 638.1 58.5 632.7 59.6 626.2 56.8 619.7 55.2 611.0 55.2 617.5 53.5 621.8 50.9 619.7 47.7 612.1 46.6 611.0 43.3 602.3 44.4 595.8 42.2 589.3 41.6 585.0 39.6 593.7 35.3 602.3 35.1ZM585.0 28.2 611.0 29.7 617.5 24.9 632.7 20.6 645.7 17.3 628.3 15.2 595.8 17.3 578.5 19.5 589.3 23.8 585.0 26.0ZM578.5 29.2 602.3 29.2 606.7 32.5 580.7 33.4ZM522.2 40.1 525.4 36.8 539.5 36.8 550.3 36.4 553.6 40.1 561.2 43.3 554.7 45.9 541.7 46.6 530.8 44.9 523.2 42.2ZM508.1 39.2 518.9 33.8 529.8 35.8 526.5 37.9 520.0 40.5 513.5 41.2ZM526.5 30.3 541.7 29.2 551.4 31.4 541.7 33.4 529.8 33.6ZM573.1 34.7 583.9 34.7 582.8 39.0 575.2 38.4ZM572.0 20.6 589.3 19.1 593.7 22.8 578.5 24.9ZM592.6 55.2 604.5 55.2 605.6 57.4 598.0 59.6 591.5 57.2ZM559.0 35.8 569.8 35.1 570.9 40.1 565.5 41.2 560.1 39.0ZM565.5 44.4 574.2 44.4 573.1 47.2 566.6 46.6ZM561.2 29.2 569.8 29.2 567.7 32.5 561.2 31.9ZM572.0 31.4 577.4 31.4 577.4 33.4 572.0 33.4ZM554.7 24.9 563.3 24.3 567.7 26.4 559.0 27.1ZM515.7 29.2 528.7 27.5 530.8 30.3 520.0 30.8ZM600.2 58.7 603.4 59.4 601.2 60.4 598.9 60.0ZM410.6 80.4 416.0 79.1 419.2 78.0 414.9 79.7ZM396.5 82.5 403.0 81.9 407.3 81.7 400.8 82.8ZM384.6 82.5 388.9 83.2 393.2 82.5 387.8 81.9ZM373.8 80.2 376.3 80.4 375.5 81.2ZM445.2 69.8 450.0 69.3 449.6 70.8 446.3 71.9ZM502.0 84.9 508.1 86.0 512.6 90.1 509.2 89.0 503.1 86.4ZM491.8 77.8 494.6 78.0 495.7 81.9 493.6 80.6ZM115.5 167.7 118.1 167.9 117.4 168.3 115.9 168.3ZM200.6 165.8 201.5 166.8 200.8 170.1 200.2 167.9ZM97.5 20.6 112.7 18.4 130.0 18.4 134.3 20.6 119.2 21.7ZM199.3 22.8 208.0 19.5 221.0 22.8 212.3 24.9ZM651.5 91.9 658.7 87.8 659.8 83.2 664.1 87.8 665.8 92.1 664.1 93.8 659.8 93.2ZM595.8 147.5 598.0 145.8 602.3 144.7 606.7 145.2 612.1 147.8 616.4 149.5 619.2 151.2 617.5 151.9 611.6 151.9 612.1 150.1 608.8 148.2 604.5 147.3 602.3 146.9 599.1 147.3ZM618.8 155.1 622.3 151.9 628.3 152.3 631.8 154.7 628.5 155.1 625.1 156.6 622.9 155.6ZM610.3 155.1 614.7 155.6 613.6 156.2 610.3 155.6ZM634.4 154.9 637.9 155.1 637.9 156.0 634.4 156.0ZM247.0 242.2 251.3 240.1 256.8 239.0 262.2 237.2 265.0 234.0 267.6 230.7 270.8 227.5 276.2 225.3 278.4 227.5 280.6 227.1 281.7 223.2 283.4 221.9 286.0 219.5 289.2 220.6 293.6 221.0 296.4 221.4 294.7 224.2 293.6 227.5 297.9 230.1 302.2 232.9 305.1 232.9 306.6 227.5 306.8 222.1 308.8 218.2 310.9 222.1 311.6 225.8 314.8 227.5 315.9 231.8 317.0 236.2 322.4 239.0 326.1 243.7 328.2 247.0 331.5 250.2 332.6 256.1 331.5 262.2 327.6 268.4 325.0 274.1 324.8 276.2 319.6 277.3 317.0 279.7 313.1 277.8 309.8 279.1 304.4 277.3 302.2 275.2 301.2 271.9 299.0 272.1 300.1 269.8 298.6 266.5 296.8 269.8 294.7 270.4 292.9 267.6 290.3 265.4 283.8 263.2 277.3 264.3 268.7 266.5 262.2 268.2 255.7 270.8 249.2 269.3 250.2 266.5 250.7 264.3 249.2 258.9 247.2 254.6 245.9 250.2 246.6 247.0 245.9 242.7ZM313.3 283.2 321.3 283.6 320.7 288.2 318.1 289.5 314.6 286.4ZM374.2 269.5 378.1 272.6 380.9 275.2 386.8 276.7 383.5 279.9 382.4 282.8 379.6 285.1 378.3 284.3 376.6 280.1 378.1 276.2 374.8 271.3ZM374.2 282.8 377.6 285.3 374.8 288.8 371.1 291.0 369.8 294.4 366.2 296.0 360.8 294.7 361.8 291.4 365.1 289.9 369.4 287.1 371.6 284.9ZM283.8 198.2 284.5 196.7 288.2 196.5 292.5 202.1 297.9 198.2 305.5 200.6 313.1 203.2 316.3 206.9 319.6 208.0 320.7 212.3 326.1 217.7 322.8 217.3 318.5 214.5 314.2 211.9 310.9 214.5 305.5 214.7 300.1 213.2 298.6 210.2 300.1 209.1 294.7 204.8 290.3 203.4 287.1 200.4ZM236.2 191.8 237.5 190.7 240.5 191.5 244.8 188.1 249.8 184.2 251.3 182.0 253.5 179.8 256.8 183.1 258.5 184.2 255.2 185.9 255.7 189.6 257.8 192.8 254.6 195.0 253.1 199.3 251.8 203.7 248.1 203.2 244.8 201.9 240.5 201.5 238.3 198.9 236.2 196.1ZM206.5 182.9 211.2 183.7 216.7 189.6 224.2 196.1 226.4 198.2 229.7 201.5 229.2 207.6 226.4 207.8 221.6 203.7 217.7 197.2 213.8 191.3 210.2 187.4ZM227.9 209.7 230.7 208.0 235.1 209.1 239.4 209.9 244.2 209.9 247.9 211.7 248.3 213.8 242.7 213.0 238.3 212.5 234.0 211.9 230.7 211.0ZM249.2 212.8 257.8 212.8 266.5 213.0 266.5 214.1 257.8 214.3 249.2 214.1ZM267.6 217.3 270.8 214.5 275.8 213.2 270.8 215.8ZM258.9 206.9 258.9 201.5 257.4 200.6 259.6 195.0 260.0 192.8 270.6 191.8 262.2 193.9 260.6 197.2 267.1 196.9 263.2 198.9 266.5 204.8 262.2 204.8 261.1 201.1 260.6 207.1ZM276.2 190.7 278.4 192.8 277.3 196.1 276.2 193.9ZM277.3 201.5 283.4 201.9 282.8 203.2 277.3 202.6ZM261.3 154.9 265.0 154.9 264.3 159.2 263.5 164.2 268.7 166.8 267.6 167.9 261.3 165.1 260.0 160.3ZM264.3 179.8 267.6 176.6 271.9 174.0 274.1 179.8 271.9 182.6 268.7 180.9ZM264.3 169.4 268.7 167.9 271.9 171.2 269.8 173.3 266.5 175.1 265.0 172.2ZM253.9 176.8 259.1 171.6 258.5 170.7 253.5 175.9ZM262.2 140.4 264.1 140.8 263.2 145.2 261.7 147.5 260.2 145.2ZM235.3 153.4 239.4 151.4 240.5 152.5 238.3 155.3 235.5 154.9ZM283.6 121.3 287.1 118.1 293.6 117.9 296.4 114.2 300.7 113.1 303.3 108.8 303.3 105.5 306.6 105.5 307.2 110.5 305.5 112.2 305.5 115.9 305.1 117.6 302.9 119.4 300.5 120.0 296.8 120.0 294.2 122.4 292.9 120.7 288.2 120.5ZM281.0 122.8 283.8 121.5 285.8 123.5 284.5 127.2 282.1 127.4 281.2 124.1ZM287.1 123.5 291.4 120.9 292.1 121.8 288.2 123.9ZM303.3 105.1 305.9 104.4 307.0 102.7 310.3 104.0 315.2 101.2 313.1 99.7 307.4 96.4 306.6 100.8 304.0 101.4 303.3 104.0ZM307.7 95.3 310.9 94.2 309.4 88.8 310.3 83.4 309.8 79.1 309.2 77.3 308.3 81.2 307.2 86.7 307.7 91.0ZM172.9 180.9 173.1 176.6 173.8 173.8 175.5 176.6 177.4 179.4 175.9 181.6 173.8 182.0ZM106.8 221.0 109.4 228.6 107.2 232.9 104.0 242.7 101.8 249.2 97.5 250.2 94.7 245.9 93.8 241.6 96.0 238.3 95.3 231.8 98.6 229.7 102.9 226.4 105.1 223.2ZM26.9 112.7 33.8 112.2 32.7 115.5 26.9 113.5ZM17.8 106.2 21.2 106.2 20.8 110.5 18.2 110.5ZM18.6 101.8 20.6 102.3 19.9 105.3 18.6 104.2ZM50.9 117.9 57.0 118.5 52.0 119.2ZM70.0 119.2 74.8 117.9 73.2 120.0 70.2 119.8ZM355.3 238.8 361.8 243.7 360.8 243.1 356.0 240.1ZM360.8 227.5 362.5 228.6 364.0 232.9 362.9 230.7ZM339.1 209.7 344.5 212.3 348.8 215.6 351.0 217.7 347.8 214.5 341.2 211.2ZM321.8 206.5 328.2 204.3 330.0 204.3 327.2 206.9 325.0 208.0ZM384.1 232.9 386.8 232.5 387.0 234.4 384.1 234.4ZM442.0 151.2 444.6 152.8 442.4 154.0 442.0 152.3ZM433.8 146.9 434.8 146.9 434.8 147.5 433.8 147.5ZM581.8 194.6 583.9 193.9 586.5 196.7 583.9 197.6 582.0 196.7ZM647.4 306.1 654.3 306.1 654.8 307.4 651.1 308.3 647.4 307.4ZM697.7 312.0 702.0 312.4 700.9 313.5ZM149.1 300.7 152.8 301.2 151.2 302.7 149.1 302.2ZM631.4 309.0 635.9 313.7 631.6 314.8 627.2 313.9 625.1 312.4ZM-780.0 349.7 -731.5 347.3 -707.2 343.6 -695.1 345.8 -670.8 339.7 -658.7 338.9 -629.8 341.9 -628.3 347.3 -616.2 344.9 -598.0 340.6 -561.6 338.2 -537.3 338.2 -500.9 338.9 -476.7 340.6 -446.3 345.8 -427.9 348.0 -411.2 350.3 -426.4 357.9 -434.0 367.0 -416.0 373.1 -390.0 376.1 -353.6 379.2 -317.2 379.2 -317.2 370.1 -332.4 365.5 -341.5 362.5 -323.3 359.4 -283.8 357.9 -268.7 354.0 -219.9 351.9 -171.6 353.4 -159.2 348.8 -147.3 341.2 -128.9 332.1 -135.0 342.3 -132.2 353.4 -147.3 361.0 -117.0 362.5 -86.7 365.5 -56.3 356.4 -26.0 350.3 0.0 349.7 0.0 390.0 -780.0 390.0ZM0.0 349.7 48.5 347.3 72.8 343.6 84.9 345.8 109.2 339.7 121.3 338.9 150.1 341.9 151.7 347.3 163.8 344.9 182.0 340.6 218.4 338.2 242.7 338.2 279.1 338.9 303.3 340.6 333.7 345.8 352.1 348.0 368.8 350.3 353.6 357.9 346.0 367.0 364.0 373.1 390.0 376.1 426.4 379.2 462.8 379.2 462.8 370.1 447.6 365.5 438.5 362.5 456.7 359.4 496.2 357.9 511.3 354.0 560.1 351.9 608.4 353.4 620.8 348.8 632.7 341.2 651.1 332.1 645.0 342.3 647.8 353.4 632.7 361.0 663.0 362.5 693.3 365.5 723.7 356.4 754.0 350.3 780.0 349.7 780.0 390.0 0.0 390.0ZM780.0 349.7 828.5 347.3 852.8 343.6 864.9 345.8 889.2 339.7 901.3 338.9 930.1 341.9 931.7 347.3 943.8 344.9 962.0 340.6 998.4 338.2 1022.7 338.2 1059.1 338.9 1083.3 340.6 1113.7 345.8 1132.1 348.0 1148.8 350.3 1133.6 357.9 1126.0 367.0 1144.0 373.1 1170.0 376.1 1206.4 379.2 1242.8 379.2 1242.8 370.1 1227.6 365.5 1218.5 362.5 1236.7 359.4 1276.2 357.9 1291.3 354.0 1340.1 351.9 1388.4 353.4 1400.8 348.8 1412.7 341.2 1431.1 332.1 1425.0 342.3 1427.8 353.4 1412.7 361.0 1443.0 362.5 1473.3 365.5 1503.7 356.4 1534.0 350.3 1560.0 349.7 1560.0 390.0 780.0 390.0ZM60.7 105.7 62.8 105.7 68.2 105.5 71.5 104.0 76.3 104.0 79.1 105.5 82.3 106.2 86.7 106.2 90.1 104.9 90.1 102.9 86.7 101.0 82.3 98.6 79.3 96.8 76.9 97.5 72.6 98.6 70.4 96.8 72.8 95.3 67.2 94.0 64.1 97.1 62.0 99.7 60.4 102.5 60.7 104.9ZM101.8 98.6 102.9 101.8 105.1 104.4 108.1 107.5 106.2 110.5 105.9 111.8 107.2 113.7 110.5 115.3 117.0 115.3 116.8 111.6 114.8 108.3 114.4 105.1 111.6 104.0 110.5 98.6 114.8 97.1 115.9 94.2 112.4 92.9 106.2 94.0 102.9 96.2ZM126.3 96.4 128.9 94.7 132.6 94.2 132.2 97.5 129.6 99.7 126.7 98.6ZM160.3 97.5 162.5 94.2 166.8 94.5 171.2 94.0 169.0 95.3 164.7 95.8 161.4 97.9ZM225.3 83.2 229.7 81.2 234.0 79.1 237.2 74.3 236.2 75.8 231.8 80.2 227.5 83.2ZM580.7 93.8 589.3 89.9 595.8 91.2 596.9 94.2 591.5 94.2ZM589.8 104.0 593.0 102.9 594.8 96.4 591.5 95.8 589.3 98.6ZM596.9 95.8 603.4 96.4 605.6 98.6 601.5 101.8 599.1 99.7ZM599.1 104.6 608.8 102.3 609.0 102.9 602.3 105.1ZM607.1 101.2 614.7 99.2 614.9 100.8 608.8 101.4ZM565.5 84.5 568.8 79.1 570.9 81.2 569.8 85.6ZM526.5 62.8 537.3 59.6 540.6 60.0 530.8 62.4ZM511.3 53.1 520.0 49.8 523.2 52.0 517.8 54.2ZM69.3 196.1 73.7 194.3 74.8 197.2 72.6 200.4 69.3 199.3ZM63.3 202.6 65.0 203.2 67.2 210.2 66.1 213.4 64.6 210.2ZM73.7 215.6 75.4 218.8 76.3 226.0 74.8 224.2 74.1 219.9ZM29.2 166.8 31.4 165.8 32.1 167.3 30.3 168.1ZM65.0 65.0 68.2 61.7 71.5 62.8 69.3 64.6ZM628.3 228.6 630.5 228.1 631.4 230.3 629.4 230.1Z"/></g><rect x="0" y="0.3" width="779.5" height="389.5" fill="none" stroke="#111" stroke-width="1.5"/></g><g transform="translate(80,1088)"><g clip-path="url(#cp)"><clipPath id="dm_map3"><path clip-rule="evenodd" d="M0.5 76 0 75.5 0 32.5 0.5 32 10.5 32 11 31.5 11 25.5 11.5 25 15.5 25 16.5 27 21.5 27 22 27.5 22 31.5 22.5 32 42.5 32 43 32.5 43 37.5 42.5 38 32.5 38 32 38.5 32 42.5 31.5 43 22.5 43 22 43.5 22 53.5 21.5 54 5.5 54 5 54.5 5 69.5 5.5 70 10.5 70 11 70.5 11 75.5 10.5 76ZM108 42.5 107.5 43 81.5 43 81 42.5 81 38.5 80.5 38 76.5 38 76 37.5 76 25.5 76.5 25 91.5 25 92.5 27 107.5 27 108 27.5ZM780 32.5 780 64.5 779.5 65 758.5 65 758 65.5 758 69.5 757.5 70 753.5 70 753 70.5 753 86.5 753.5 87 763.5 87 764 87.5 764 96.5 763.5 97 753.5 97 753 97.5 753 129.5 752.5 130 737.5 130 737 130.5 737 172.5 737.5 173 741.5 173 742 173.5 742 178.5 742.5 179 746.5 179 747 179.5 747 183.5 747.5 184 752.5 184 753 184.5 753 189.5 753.5 190 779.5 190 780 190.5 780 319.5 779.5 320 704.5 320 704 319.5 704 314.5 704.5 314 709.5 314 710 313.5 710 309.5 709.5 309 693.5 309 693 309.5 693 319.5 692.5 320 661.5 320 660.5 321 650.5 321 650 321.5 650 324.5 649.5 325 639.5 325 639 325.5 639 328.5 638.5 329 628.5 329 627.5 331 477.5 331 477 330.5 477 325.5 476.5 325 227.5 325 227 324.5 227 320.5 226.5 320 195.5 320 194.5 319 108.5 319 108 319.5 108 322.5 107.5 323 97.5 323 96.5 325 87.5 325 86.5 323 76.5 323 76 322.5 76 319.5 75.5 319 22.5 319 22 318.5 22 314.5 21.5 314 0.5 314 0 313.5 0 190.5 0.5 190 15.5 190 16 190.5 16 205.5 16.5 206 21.5 206 22 206.5 22 243.5 22.5 244 26.5 244 27 244.5 27 259.5 27.5 260 31.5 260 32 260.5 32 270.5 32.5 271 37.5 271 38 271.5 38 275.5 38.5 276 59.5 276 60 275.5 60 271.5 60.5 271 64.5 271 65 270.5 65 265.5 65.5 265 69.5 265 70 264.5 70 260.5 70.5 260 75.5 260 76 259.5 76 255.5 76.5 255 80.5 255 81 254.5 81 249.5 81.5 249 91.5 249 92 249.5 92 254.5 92.5 255 107.5 255 108 254.5 108 238.5 108.5 238 113.5 238 114 237.5 114 217.5 113.5 217 97.5 217 97 217.5 97 226.5 96.5 227 92.5 227 92 226.5 92 200.5 92.5 200 96.5 200 97 199.5 97 195.5 97.5 195 102.5 195 103 194.5 103 190.5 103.5 190 107.5 190 108 189.5 108 184.5 108.5 184 113.5 184 114 183.5 114 173.5 114.5 173 124.5 173 125 172.5 125 157.5 125.5 157 129.5 157 130 156.5 130 152.5 130.5 152 151.5 152 152 152.5 152 161.5 152.5 162 156.5 162 157 162.5 157 172.5 157.5 173 161.5 173 162 173.5 162 183.5 162.5 184 172.5 184 173 184.5 173 189.5 173.5 190 178.5 190 179 189.5 179 184.5 179.5 184 183.5 184 184 183.5 184 157.5 184.5 157 199.5 157 200 157.5 200 161.5 199.5 162 195.5 162 195 162.5 195 172.5 195.5 173 205.5 173 206 173.5 206 178.5 205.5 179 200.5 179 200 179.5 200 189.5 200.5 190 205.5 190 206 190.5 206 205.5 206.5 206 216.5 206 217 206.5 217 216.5 217.5 217 248.5 217 249 217.5 249 221.5 249.5 222 264.5 222 265 222.5 265 226.5 264.5 227 260.5 227 260 227.5 260 232.5 259.5 233 249.5 233 249 233.5 249 237.5 248.5 238 238.5 238 238 238.5 238 254.5 238.5 255 243.5 255 244 255.5 244 275.5 244.5 276 264.5 276 265 275.5 265 271.5 265.5 271 291.5 271 292 271.5 292 275.5 292.5 276 297.5 276 298 276.5 298 281.5 298.5 282 308.5 282 309 282.5 309 291.5 309.5 292 324.5 292 325 291.5 325 282.5 325.5 282 329.5 282 330 281.5 330 271.5 330.5 271 335.5 271 336 270.5 336 244.5 335.5 244 330.5 244 330 243.5 330 238.5 329.5 238 325.5 238 325 237.5 325 233.5 324.5 233 320.5 233 320 232.5 320 227.5 320.5 227 324.5 227 325 226.5 325 222.5 325.5 222 329.5 222 330 221.5 330 217.5 330.5 217 346.5 217 347 217.5 347 221.5 347.5 222 356.5 222 357 222.5 357 232.5 356.5 233 352.5 233 352 233.5 352 243.5 352.5 244 356.5 244 357 244.5 357 248.5 357.5 249 367.5 249 368 248.5 368 222.5 367.5 222 357.5 222 357 221.5 357 211.5 356.5 211 347.5 211 347 210.5 347 206.5 346.5 206 336.5 206 336 205.5 336 200.5 335.5 200 325.5 200 325 199.5 325 195.5 324.5 195 292.5 195 292 194.5 292 190.5 291.5 190 282.5 190 282 189.5 282 162.5 281.5 162 271.5 162 271 161.5 271 152.5 270.5 152 265.5 152 265 151.5 265 146.5 265.5 146 270.5 146 271 145.5 271 125.5 271.5 125 275.5 125 276 125.5 276 129.5 276.5 130 297.5 130 298 129.5 298 125.5 298.5 125 308.5 125 309 124.5 309 114.5 309.5 114 313.5 114 314 113.5 314 108.5 314.5 108 319.5 108 320 107.5 320 97.5 319.5 97 314.5 97 314 96.5 314 70.5 314.5 70 324.5 70 325 70.5 325 96.5 325.5 97 335.5 97 336 96.5 336 92.5 336.5 92 340.5 92 341 91.5 341 87.5 341.5 87 346.5 87 347 86.5 347 81.5 347.5 81 356.5 81 357 80.5 357 70.5 357.5 70 373.5 70 374 69.5 374 65.5 374.5 65 394.5 65 395 64.5 395 60.5 395.5 60 411.5 60 412 60.5 412 64.5 412.5 65 416.5 65 417 65.5 417 80.5 417.5 81 438.5 81 439 80.5 439 76.5 439.5 76 454.5 76 455 75.5 455 70.5 455.5 70 481.5 70 482 70.5 482 75.5 482.5 76 486.5 76 487 76.5 487 86.5 487.5 87 497.5 87 498 87.5 498 91.5 498.5 92 503.5 92 504 92.5 504 113.5 504.5 114 508.5 114 509 114.5 509 118.5 509.5 119 514.5 119 515 119.5 515 124.5 515.5 125 519.5 125 520 125.5 520 129.5 520.5 130 524.5 130 525 130.5 525 140.5 525.5 141 530.5 141 531 141.5 531 145.5 531.5 146 535.5 146 536 146.5 536 151.5 536.5 152 546.5 152 547 152.5 547 156.5 547.5 157 551.5 157 552 157.5 552 161.5 552.5 162 568.5 162 569 162.5 569 167.5 569.5 168 584.5 168 585 168.5 585 172.5 585.5 173 589.5 173 590 173.5 590 178.5 590.5 179 595.5 179 596 179.5 596 216.5 596.5 217 606.5 217 607 217.5 607 226.5 607.5 227 611.5 227 612 227.5 612 232.5 612.5 233 616.5 233 617 233.5 617 237.5 617.5 238 622.5 238 623 238.5 623 254.5 622.5 255 617.5 255 617 255.5 617 286.5 616.5 287 612.5 287 612 287.5 612 308.5 612.5 309 616.5 309 617 309.5 617 313.5 617.5 314 622.5 314 623 314.5 623 319.5 623.5 320 638.5 320 639 319.5 639 303.5 639.5 303 644.5 303 645 303.5 645 313.5 645.5 314 660.5 314 661 313.5 661 303.5 660.5 303 645.5 303 645 302.5 645 287.5 645.5 287 649.5 287 650 286.5 650 282.5 650.5 282 660.5 282 661 281.5 661 276.5 661.5 276 665.5 276 666 275.5 666 271.5 666.5 271 671.5 271 672 270.5 672 265.5 672.5 265 676.5 265 677 264.5 677 260.5 677.5 260 681.5 260 682 259.5 682 249.5 682.5 249 692.5 249 693 248.5 693 244.5 693.5 244 698.5 244 699 243.5 699 227.5 699.5 227 703.5 227 704 226.5 704 222.5 704.5 222 709.5 222 710 221.5 710 200.5 709.5 200 704.5 200 704 199.5 704 195.5 703.5 195 677.5 195 677 194.5 677 184.5 676.5 184 672.5 184 672 183.5 672 179.5 671.5 179 661.5 179 661 178.5 661 173.5 660.5 173 650.5 173 650 172.5 650 168.5 649.5 168 634.5 168 634 167.5 634 162.5 634.5 162 644.5 162 645 161.5 645 152.5 644.5 152 634.5 152 634 151.5 634 146.5 633.5 146 628.5 146 628 145.5 628 141.5 627.5 141 612.5 141 612 140.5 612 125.5 612.5 125 622.5 125 623 124.5 623 108.5 623.5 108 638.5 108 639 107.5 639 103.5 639.5 103 654.5 103 655 102.5 655 97.5 655.5 97 671.5 97 672 96.5 672 87.5 671.5 87 666.5 87 666 86.5 666 76.5 665.5 76 655.5 76 655 75.5 655 70.5 654.5 70 650.5 70 650 69.5 650 65.5 649.5 65 645.5 65 645 64.5 645 60.5 645.5 60 649.5 60 650 59.5 650 54.5 650.5 54 660.5 54 661 54.5 661 59.5 661.5 60 665.5 60 666 60.5 666 64.5 666.5 65 671.5 65 672 65.5 672 69.5 672.5 70 692.5 70 693 69.5 693 60.5 693.5 60 703.5 60 704 59.5 704 54.5 704.5 54 725.5 54 726 54.5 726 59.5 726.5 60 736.5 60 737 60.5 737 64.5 737.5 65 746.5 65 747 64.5 747 60.5 747.5 60 752.5 60 753 59.5 753 54.5 753.5 54 757.5 54 758 53.5 758 32.5 758.5 32 779.5 32ZM291.5 114 287.5 114 287 113.5 287 108.5 287.5 108 291.5 108 292 108.5 292 113.5ZM270.5 125 265.5 125 265 124.5 265 119.5 265.5 119 270.5 119 271 119.5 271 124.5ZM244.5 173 244 172.5 244 152.5 244.5 152 254.5 152 255 152.5 255 161.5 254.5 162 249.5 162 249 162.5 249 172.5 248.5 173ZM607 156.5 606.5 157 596.5 157 596 156.5 596 152.5 596.5 152 606.5 152 607 152.5ZM617 167.5 616.5 168 607.5 168 607 167.5 607 162.5 607.5 162 616.5 162 617 162.5ZM590 190.5 589.5 190 580.5 190 580 190.5 580 194.5 579.5 195 574.5 195 574 195.5 574 199.5 574.5 200 589.5 200 590 199.5ZM282 210.5 281.5 211 276.5 211 276 210.5 276 206.5 276.5 206 281.5 206 282 206.5ZM390 237.5 390 227.5 389.5 227 379.5 227 379 227.5 379 237.5 379.5 238 389.5 238ZM91.5 238 87.5 238 87 237.5 87 233.5 87.5 233 91.5 233 92 233.5 92 237.5ZM363.5 303 367.5 303 368 302.5 368 298.5 368.5 298 373.5 298 374 297.5 374 292.5 374.5 292 384.5 292 385 291.5 385 287.5 385.5 287 389.5 287 390 286.5 390 271.5 389.5 271 379.5 271 379 270.5 379 265.5 378.5 265 368.5 265 368 265.5 368 281.5 367.5 282 363.5 282 363 282.5 363 286.5 362.5 287 357.5 287 357 287.5 357 297.5 357.5 298 362.5 298 363 298.5 363 302.5ZM157 308.5 157 298.5 156.5 298 146.5 298 146 298.5 146 308.5 146.5 309 156.5 309Z"/></clipPath><g clip-path="url(#dm_map3)"><path fill="#00008c" fill-rule="evenodd" d="M780.2 389.5 779.5 390.2 0.5 390.2 -0.2 389.5 -0.2 0.5 0.5 -0.2 779.5 -0.2 780.2 0.5Z"/><path fill="#0022b8" fill-rule="evenodd" d="M779.9 389.5 0.5 389.9 0.1 0.5 779.5 0.1Z"/><path fill="#0035e0" fill-rule="evenodd" d="M779.9 389.5 0.5 389.9 0.1 0.5 779.5 0.1ZM752.6 173.5 751.5 170.4 750.4 170.5 745.5 175 742.5 176.1 730.5 173.4 700.5 173.4 693 175.5 690.7 177.5 693.3 179.5 700.5 181.1 729.5 180.4 736.2 179.5 742.5 177.7 750.5 178.2 752.4 176.5ZM556 177.5 549.5 174.3 541.5 173.4 533.5 174.4 528.5 176.5 527.7 177.5 528.6 178.5 531.6 179.5 541.5 180.4 551.8 179.5 554.9 178.5ZM580.1 178.5 579.5 177.3 576.5 176.5 568.5 176.5 562.3 177.5 562.4 178.5 569.5 180 577.5 179.9Z"/><path fill="#1952ff" fill-rule="evenodd" d="M779.8 389.5 0.5 389.8 0.2 0.5 779.5 0.2ZM283.7 123.5 284.8 122.5 284.3 121.5 281 118.5 277.5 112.9 271 108.5 266.5 101.9 259.2 96.5 257.5 92.5 256.5 81.5 254.8 79.5 249.9 76.5 248.1 74.5 246.6 70.5 245.5 60.5 237 52.5 234.1 46.5 231.9 39.5 225.5 36.1 221.5 31.9 220.5 32.1 216.5 35.4 211.5 37.9 210 40.5 209.6 48.5 208.6 52.5 206.5 55.5 200.5 59.5 200.4 62.5 202.1 68.5 208.5 71.6 210.9 74.5 212.2 79.5 212.6 88.5 213.5 90.5 219.5 93.3 221.9 96.5 222.9 100.5 223.4 109.5 224 111.5 226.3 112.5 234.5 112.8 239.5 114 242.6 116.5 245.5 122.6 247.5 123.3 257.5 123.9 261.5 125 263.6 126.5 267.5 131.9 269 131.5 275.5 126.9ZM668.2 100.5 668 99.5 666.5 98.9 664.5 99.5 664.4 100.5 666.5 101.2ZM755.4 170.5 754.5 167 753.5 166 751.5 165.6 740.5 170.3 699.5 169.9 688.5 173.5 686.2 175.5 685.7 177.5 687.1 179.5 689.1 180.5 700.5 183.2 711.5 183.1 742.5 180.9 750.5 181 752.7 180.5 754.7 178.5ZM583.8 178.5 583.2 176.5 579.5 174.6 560.5 173.7 548.5 170.4 543.5 170 534.5 170.5 516.8 175.5 513.7 177.5 518.8 179.5 523.7 180.5 538.5 182 557.5 181 577.5 181.9 581.5 180.8ZM298.3 179.5 296.5 178 291.5 177.2 288.5 177.3 286.5 178.5 287.1 179.5 296.5 180.5Z"/><path fill="#457aff" fill-rule="evenodd" d="M779.8 389.5 0.5 389.8 0.3 0.5 218.1 0.5 217.6 27.5 215.2 31.5 208.7 35.5 206.9 37.5 205.9 40.5 205.6 47.5 204.6 50.5 196.8 57.5 196.6 59.5 199.5 67.9 201.3 70.5 207 73.5 209.2 76.5 210.3 80.5 211.1 90.5 212.7 92.5 217.5 94.9 219.8 97.5 221.1 101.5 221.5 110.5 222.5 113.1 224.5 114.1 233.5 114.6 238.5 116.2 241 118.5 244.5 124.4 246.5 125.1 255.5 125.5 259.5 126.7 262.5 129 265.5 134.4 267.5 135.2 273.6 133.5 280.5 127.6 292.1 123.5 293.2 122.5 293.3 120.5 291.7 118.5 285.7 114.5 281.5 108.2 275.5 104.3 270.8 97.5 263.9 92.5 263.1 90.5 262.7 82.5 261.7 78.5 259.6 75.5 254.5 72.4 252.8 70.5 250.7 60.5 237.8 46.5 233.5 37.6 227.5 33.9 225.4 31.5 223.7 25.5 223.6 0.5 779.5 0.3ZM690.4 90.5 688.5 88 685.5 86.8 669.5 86.7 656.5 89.3 637.7 90.5 634.6 91.5 633.9 92.5 634.5 94 638.5 96.9 643.9 102.5 668.5 104.8 676.5 103.4 678.5 101.5 681.5 96.5 689 92.5ZM409.3 103.5 407.7 101.5 404.5 100.6 376.5 100.4 363.5 101.9 361.5 102.5 359.7 104.5 361.5 107.2 365.5 108.2 401.5 108.3 406.5 107.2 408.5 105.5ZM767.3 158.5 767.3 156.5 766.6 155.5 763.5 154.3 760.6 155.5 759.1 158.5 759.8 160.5 762.5 161.1 765.5 160.3ZM682.4 177.5 683.8 179.5 687.1 181.5 700.5 185 710.5 184.9 741.5 182.7 751.5 182.9 754.9 181.5 756.9 178.5 757.1 165.5 756 163.5 753.5 162.8 739.5 166.1 698.5 166.4 686.5 170.6 683.5 173.5ZM587.1 177.5 584.6 174.5 580.5 172.9 566.5 172.1 553.5 168.1 541.5 167.3 534.5 167.6 515.5 170.6 490.5 176.9 485.1 177.5 490.5 178 503.5 181.1 541.5 183.5 557.5 182.7 578.5 183.3 585.3 180.5ZM317 180.5 307.5 178 296.5 173.3 290.5 172 288.5 172.3 283.5 175.9 280.5 177.2 268.2 178.5 266.5 179.3 265.9 180.5 266.5 182.5 268.5 183.9 286.5 184.3 299.5 186.6 306.5 185.1ZM221.5 210.7 222.4 207.5 222.2 201.5 221.5 198.9 219.5 195.9 216.5 195 204.5 195 202.1 195.5 200.5 196.7 199.5 199.5 200.4 203.5 202.5 206.7 206.4 210.5 209.5 212 213.2 212.5 219.5 211.9ZM377.1 222.5 375.5 219.5 372.5 217.9 363.5 220 361.3 221.5 361.1 222.5 364 224.5 372.5 226.4 375.5 225.2Z"/><path fill="#80a8ff" fill-rule="evenodd" d="M779.7 389.5 0.5 389.7 0.3 0.5 215.3 0.5 215.2 23.5 214.5 27.4 212.5 29.9 206.5 33.1 203.8 35.5 202.1 39.5 201.7 46.5 200.9 48.5 193.7 53.5 192.5 55.5 192.4 57.5 196.4 63.5 199.5 70.5 205.8 74.5 208.1 77.5 209.2 81.5 210.1 91.5 211.9 93.5 217 96.5 218.6 98.5 220 102.5 220.4 111.5 221.5 113.9 224.5 115.4 232.5 115.7 236.5 116.8 239.5 119 243.9 125.5 246.5 126.3 254.5 126.6 258.5 127.8 261.5 130.3 264.5 135.3 267.5 136.7 274.5 135.3 282.5 128.6 302.2 122.5 309.5 118 312.5 117 332.5 113.9 387.5 114.7 405.5 114.2 411.5 112.5 418.5 108.7 427.5 107.6 430.5 105.3 431.5 102.5 429.5 99.5 426.5 97.9 418.5 97.3 409.5 95.3 403.5 94.8 375.5 94.9 351.5 100.1 342.5 100.6 339.5 101.6 333.1 106.5 330.5 107.5 318.5 105.3 308.5 101.7 298.5 101.3 293.5 100 291.5 98.5 289.6 95.5 287.6 84.5 286.6 82.5 284.5 81.4 273.5 80.6 268.8 78.5 265 71.5 257.5 67.1 253.9 59.5 248.5 54.9 244.2 49.5 239.5 45 234.7 36.5 228.9 32.5 227.1 30.5 225.4 24.5 225.4 0.5 779.5 0.3ZM700 90.5 698.5 86.8 691.5 78.5 684.7 73.5 680.3 67.5 678.5 66.3 676.5 66.1 673.5 67.9 668.5 74.3 657.9 82.5 654.5 83.6 644.5 84.2 632.5 87.2 628.4 89.5 626.9 91.5 626.4 93.5 628.5 97.7 638.2 104.5 640.5 105.4 674.5 106.8 679.5 105.4 685.5 99.1 698.1 93.5ZM623.2 124.5 623.8 123.5 623.3 121.5 621.5 120.9 620.4 121.5 619.6 123.5 620.2 124.5 621.5 125.1ZM679.1 176.5 680.8 179.5 684.5 181.9 700.5 186.9 709.5 186.8 740.5 184.3 752.5 184.7 756.5 182.8 758.5 179.8 759.4 168.5 760.4 165.5 762.5 163.9 768.1 161.5 769.9 159.5 770.3 157.5 769.5 155.5 767.5 153.6 763.5 152.3 759.5 153.6 753.5 159.8 742.5 162.1 701.5 162.5 694.5 163.3 686.5 165.7 681.8 168.5 679.8 171.5ZM591.3 177.5 587.8 173.5 583.6 171.5 579.5 170.7 568.5 170.2 563.3 168.5 561.2 166.5 559.9 160.5 558.5 159.4 554.3 163.5 549.5 165 524.5 166 515.5 165.5 502.6 169.5 483.5 170.8 478.5 173.4 476.6 175.5 475.9 177.5 477.5 179.8 482.5 181.7 541.5 184.9 557.5 184.3 578.5 184.7 587 181.5 590.1 179.5ZM329.6 180.5 327.2 178.5 308.5 175.3 297.5 170.3 290.5 168.9 287.5 169.6 283.8 173.5 280.5 175.5 276.5 176.6 266.5 177.4 264.8 178.5 264.1 180.5 265.5 185.2 267.5 187.2 285.5 188.2 289.9 189.5 291.9 191.5 293.3 198.5 296.2 200.5 304.5 203.8 309.5 211.7 310.9 210.5 313.5 201.5 314.9 190.5 317.5 188 327.9 182.5ZM222 214.5 224.1 212.5 224.9 210.5 225.2 202.5 221.5 189.5 219.5 185.3 216.5 184.2 203.5 184.5 191.3 191.5 194.3 197.5 197.5 210.3 200.8 215.5 203.5 216.6 209.5 216.6 218.5 215.6ZM137.5 197.5 135.9 197.5 135.6 198.5 137.5 198.6ZM388.3 223.5 387.5 221.5 375.5 212.3 372.5 211.8 364.9 213.5 351.5 219.6 341.5 221.7 338.9 223.5 339.9 225.5 342.5 227 351.5 227.8 362.5 230.2 373.5 234.5 376.5 233.9 380.2 231.5 386.5 226.4Z"/><path fill="#b0cbff" fill-rule="evenodd" d="M779.7 389.5 0.5 389.7 0.4 0.5 212 0.5 211.6 25.5 209.5 27.8 198.5 32.2 97.5 32.5 92.5 33.6 90.4 36.5 89.6 40.5 89.5 85.5 90 89.5 91.5 90.9 94.5 91.5 132.5 91.4 134.5 90.2 137.5 84 140.5 81.9 146.5 80.7 165.5 80.2 167.2 78.5 170.3 72.5 177.5 68.7 179.8 63.5 181.4 61.5 185.5 59.6 189.5 59.7 194.5 63.2 199 71.5 204.5 75.1 206.8 77.5 208.2 81.5 209 91.5 210.5 93.7 215.5 96.9 217.8 99.5 219.1 103.5 219.5 111.9 220.6 114.5 223.5 116.3 232.5 116.8 235.5 117.6 238.5 119.8 241.5 124.6 243.5 126.5 246.5 127.3 254.5 127.7 257.5 128.6 260.5 131 264.2 136.5 267.5 137.8 275.5 136.4 281.5 131 285.5 128.9 296.5 126 307.5 124.1 314.5 119.8 318.5 118.5 333.5 116.9 371.5 116.9 394.5 117.7 406.5 116.8 417.5 115 427.5 115 432.4 113.5 439.5 108.9 449.5 107.5 452.8 104.5 453.5 101.5 452.5 99.8 450.5 98.3 439.5 97 429.5 91.2 415.5 89.5 386.5 89.4 375.5 90.3 362.5 93.8 341.5 95.1 331.5 99.5 327.5 100.2 320.5 100 310.5 97.9 299.5 97.3 296.6 96.5 294.5 94.9 292.9 92.5 290.4 83.5 288.7 80.5 285.5 78.9 275.5 78.3 271.5 76.4 266.7 69.5 260.5 65.5 255.8 58.5 249.8 53.5 245.5 48 240.7 43.5 235.7 35.5 228.5 29.8 226.9 24.5 226.8 0.5 660.8 0.5 660.6 58.5 658.7 62.5 652.1 67.5 647.5 73.8 636.5 81.5 622.5 85.4 619.5 84 615.5 78.5 613.5 76.9 610.5 76 600.5 75.1 597.5 72.8 592.5 66.5 589.5 65.3 583.5 65.1 581.5 65.6 579.5 67.6 575.5 76.5 569.5 80.2 567.7 82.5 567.6 111.5 569.5 114.2 575.8 117.5 579.5 123.4 581.8 124.5 592.5 127 611.5 127.5 621.5 131.2 624.5 129.4 630.4 123.5 635.7 112.5 639 109.5 643.5 108.5 654.5 107.6 678.5 109.1 682.5 107.2 688.5 101.4 701.5 96.4 704.3 94.5 705.8 92.5 706.4 89.5 705.9 86.5 700.6 70.5 698.5 68.4 693.5 65.2 689.5 59.1 682.8 54.5 680.3 50.5 679.7 45.5 679.7 0.5 779.5 0.4ZM673.8 168.5 676.5 177.5 679 180.5 684.5 183.5 699.5 189 708.5 189 736.5 186 752.5 186.6 757.5 184.9 760.1 181.5 761.1 177.5 761.4 169.5 762.5 167 764.5 165.6 770.9 163.5 772.7 161.5 773.4 158.5 772.4 155.5 769.5 152.5 766.5 151 762.5 150.5 757.5 152.1 752.5 156.9 749.5 157.8 739.5 158.7 698.5 158.7 683.5 160.5 679.5 161.6 676.5 163.4 673.9 166.5ZM600.4 179.5 599.2 177.5 593.5 174.8 587.5 169.9 579.5 168.1 570.5 167.8 567.5 166.6 566.4 164.5 565.9 158.5 565 156.5 563.5 155.3 560.5 154.5 556.5 155.7 551.5 161.5 546.5 163.2 529.5 163 512.5 160.1 502.5 162.3 493.5 162.8 482.5 165.3 478.5 166.8 474.5 169.6 471.5 173.7 470.5 177.5 471.2 179.5 473.5 181.5 481.5 183.9 537.5 186.2 578.5 186.1 582.5 185.2 590.5 181.8 598.5 180.9ZM410.3 223.5 410.5 221.5 409.7 219.5 406.5 217.3 396.5 216.5 386.5 214.2 378.6 210.5 374.5 209.5 369.5 209.5 360.5 211.1 347.2 216.5 341.5 217.8 322.5 216.6 319.5 215.5 318.1 213.5 317.8 210.5 319.2 207.5 324.1 201.5 325.5 191.4 328.1 188.5 335.5 184.5 336.9 182.5 336.9 180.5 336.1 179.5 331.5 177.2 310.5 173.6 298.5 168.4 289.5 167.1 286.5 168.2 282.7 172.5 279.6 174.5 275.5 175.6 266.5 176.2 264.1 177.5 262.9 179.5 263.5 184.7 266.5 190.4 268.5 191.2 276.5 191.6 280.5 192.6 283.1 194.5 287.5 201.6 298.5 204.9 302.5 207.5 304.6 211.5 307.5 222.6 309.5 226 311.5 227.2 328.5 227.7 337.5 232.7 361.5 234.5 374.5 239.9 384.5 236 393.5 235.4 397.2 234.5 408.5 225.9ZM200.5 225.2 202.5 224.9 209.5 221 222.5 217.4 224.9 215.5 226.5 213.1 227.5 208.5 227.2 201.5 224.1 191.5 222.4 182.5 220.5 179.7 216.5 179.1 202.5 179.4 200.8 180.5 197.9 184.5 195.5 186.5 185.5 189.2 183.5 190.5 184.6 193.5 190.2 199.5 193 212.5 198.5 223.3ZM151.4 197.5 151.4 193.5 149.5 191.5 145.9 190.5 138.5 190.2 133.9 190.5 130.5 191.7 128.7 193.5 127.9 197.5 128.4 199.5 130.5 201.5 133.5 202.8 137.5 203.3 147.2 201.5 150.4 199.5ZM688.5 288.7 691.4 287.5 693.1 284.5 693.2 269.5 692.4 267.5 691.2 266.5 686.5 265.6 683.9 266.5 682.7 268.5 682.6 283.5 683 285.5 684.5 287.5ZM176.2 298.5 176 297.5 147.5 296.9 124.5 295.4 109.5 292.5 93.5 292.9 90.5 294.6 89.1 297.5 91.5 299.7 96.5 300.4 165.5 300.1Z"/><path fill="#d9ecff" fill-rule="evenodd" d="M779.6 389.5 0.5 389.6 0.5 195 6.5 194.1 8.7 192.5 10.4 189.5 10.7 159.5 9.2 156.5 5.5 154.8 0.5 154.5 0.4 0.5 86.7 0.5 86.6 24.5 84.2 35.5 83.8 41.5 83.9 88.5 84.2 90.5 85.8 92.5 93.5 93.8 133.5 93.6 136.5 91.5 140 85.5 143.5 83.5 148.5 82.7 164.5 82.6 167.5 81.7 172.2 74.5 178.8 70.5 183.2 63.5 186.5 61.7 189.5 61.6 193.5 64 198.5 72.3 204.5 76.4 206.2 78.5 207.4 82.5 208 91.5 209.5 94 215.5 98.3 217.2 100.5 218.1 103.5 218.7 112.5 220.2 115.5 223.5 117.2 231.5 117.6 235.5 118.7 237.7 120.5 242.5 126.9 245.5 128.1 253.5 128.5 256.5 129.2 259.5 131.5 263.5 137.2 267.5 138.7 276.5 137.2 283.1 131.5 286.5 129.8 296.5 127.3 308.5 125.6 317.5 120.9 321.5 120 332.5 119.2 370.5 119.2 393.5 120.5 416.5 118 429.5 118.8 439.5 116.6 449.5 116 454.5 113.8 461.5 108 471.5 105.1 474.6 103.5 476.4 100.5 476.4 94.5 474.6 91.5 470.5 89.8 440.5 89.3 414.5 84 385.5 84.2 363.5 89.8 355.5 89.7 348.5 88 346.5 86.5 343.5 82.2 341.5 81.4 340.3 82.5 336.8 90.5 334.5 92.5 330.5 94.3 320.5 94.7 298.5 93.2 295.5 90.4 292.1 81.5 290.5 79.2 286.5 77.1 276.5 76.4 272.7 74.5 268.4 68.5 261.7 63.5 257.4 57.5 251.3 52.5 246.5 46.5 241.5 42 236.8 34.5 229.5 28.6 228.2 23.5 228.2 0.5 566.2 0.5 566.3 46.5 568.5 50.5 574.5 54.5 575.8 56.5 576.4 59.5 573.3 71.5 571.5 73.9 565.5 78.3 563.7 81.5 563.3 108.5 564 113.5 566.5 116.4 572.5 120 577.2 125.5 585.8 128.5 591.5 131.9 594.5 132.5 609.5 132.8 613.5 133.9 616.6 136.5 618.2 143.5 620.5 144.8 621.9 144.5 622.6 143.5 623.1 137.5 624.8 133.5 628 129.5 634.5 123.9 639 114.5 641.5 112 645.5 110.5 655.5 109.4 667.5 110.1 677.5 112.4 682.5 111.8 687.4 109.5 696.5 102.6 708.3 98.5 712.5 94.5 714.4 91.5 715 87.5 714.4 82.5 709.4 75.5 705.5 68.6 697.3 60.5 693.5 54.3 687.5 50.4 685.7 47.5 685.3 0.5 779.5 0.4 779.5 154.5 776.5 154.1 768.5 149.6 762.5 148.6 756.5 149.2 748.5 151.6 679.5 151.8 675.5 153.6 670.5 158.3 667.2 162.5 665.9 166.5 666.8 168.5 671.5 173.1 674.3 178.5 676.5 180.9 681.5 183.7 692.5 188 696 190.5 697.2 192.5 698.1 197.5 699.5 198.3 702.6 194.5 705.5 192.7 719.5 189.5 733.5 187.7 742.5 187.6 753.5 188.8 758.5 187.9 761.5 185.7 763.2 182.5 764.5 170.3 766.5 169.1 768.7 170.5 769.2 186.5 770 189.5 774.5 194.1 779.5 195ZM602.9 179.5 601.5 176.8 594.5 172.9 589.5 167.9 582.4 164.5 580.1 159.5 578.9 147.5 577.5 146.2 572.5 143.9 568.5 140.6 566.9 146.5 565.1 149.5 555.5 153.4 548.8 160.5 543.5 161.6 532.5 161 522.3 157.5 512.5 150.5 505.5 143.1 503.5 142.3 501.9 142.5 499.5 144.5 495.9 149.5 485.9 157.5 482.5 159.2 474.5 161.3 471.5 163.1 468.4 168.5 466.3 177.5 467.2 180.5 469.5 183 473.5 184.8 479.5 186 536.5 187.8 578.5 187.7 590.5 183.7 600.5 182.7 602.1 181.5ZM422.2 240.5 422.2 222.5 419.5 212.8 416.5 210.2 407.5 209.7 386.5 209.9 376.5 207.9 370.5 207.6 354.5 209.6 342.5 214.6 338.9 214.5 335.5 212.9 334.1 211.5 333.1 208.5 333.8 198.5 336.4 194.5 342.1 190.5 343.8 186.5 343.2 180.5 338.8 177.5 330.5 175 310.5 171.6 297.9 166.5 289.5 165.7 286.5 166.5 282 171.5 279.1 173.5 275.5 174.6 265.5 175.5 263.5 176.6 262 178.5 261.6 180.5 262.1 184.5 263.8 190.5 265.5 193.6 267.5 194.7 274.5 195.1 277.5 196 279.6 197.5 283 202.5 285.5 204.7 288.5 206 297.5 207.6 300.5 209.8 301.8 212.5 304.2 226.5 309 242.5 310.5 243.6 328.5 243.3 330.5 242.4 335.2 237.5 342.5 236.1 352.5 236.3 359.5 237.4 364.5 239.2 371.5 243.2 374.5 243.9 385.5 241.2 396.5 240.8 405.5 239.2 408.5 239.8 413.5 242.7 417.5 243.5 420.7 242.5ZM229.5 211.5 229.6 202.5 225.6 191.5 224.1 181.5 222.5 178.5 220.3 177.5 202.3 177.5 199.5 179.1 195.5 184.3 192.5 186 185.5 186.7 179.5 184.6 173.5 189 169.5 190.1 160.5 190.2 147.3 188.5 136.5 188.4 113.5 190.5 111.3 191.5 111.8 193.5 121 200.5 129.5 204.3 136.5 205.7 145.5 205.7 152.5 204.5 160.5 202.1 164.7 197.5 167.5 195.6 172.5 195 177.5 195.6 181 198.5 181.7 200.5 181.2 201.5 167.5 206.1 166.1 208.5 166.4 211.5 168.5 213.7 173.1 215.5 188.7 217.5 191.6 221.5 195.3 233.5 197.5 236.2 199.5 237.2 201.5 237.1 203.5 236.1 209.5 229.5 215.7 224.5 225.5 218.9 228.2 215.5ZM485.3 257.5 487 254.5 487.3 246.5 485.8 243.5 482.2 241.5 473.5 239.4 470.5 239.4 468.4 240.5 466.8 242.5 466 245.5 465.9 250.5 467 253.5 470.2 255.5 481.5 258.7 483.5 258.6ZM713.3 289.5 714.7 286.5 714.9 269.5 713.4 266.5 709.5 264.9 698.5 264.3 682.5 261.1 680.1 259.5 676.5 254.5 669.7 250.5 665.3 243.5 655.5 239.9 653.5 240.1 651.8 241.5 651.1 243.5 652.1 246.5 658.5 251.4 662.9 257.5 668.5 261.5 670.8 264.5 671.6 268.5 672 285.5 673.4 288.5 676.5 291.6 681.5 294 689.5 294.9 699.5 292.8 709.5 292ZM548.9 276.5 547.5 274.8 545.5 274.1 535.5 273.6 522.5 270.9 514.5 271.4 512.4 272.5 511 274.5 511.5 276.5 512.7 277.5 517.5 278.7 544.5 278.6 547.5 277.9ZM185.2 297.5 182.9 294.5 178.5 292.8 145.5 292.3 134.5 290.1 124.5 289.6 115.5 286.8 111.5 286.3 90.5 287.1 86.5 288.5 77.5 293.9 71.5 295.3 61.5 295.9 59.6 296.5 59 297.5 60.5 298.7 74.5 301.1 87.5 305.2 101.5 305.9 166.5 305.8 180.7 302.5 184 300.5ZM766.5 301.1 768 298.5 767.2 295.5 764.5 293.7 761.5 294.3 759.9 296.5 760.6 299.5 763.5 301.8Z"/><path fill="#ffecd9" fill-rule="evenodd" d="M747.5 389.5 314.2 389.5 314.3 321.5 315 318.5 316.4 316.5 323.7 309.5 324.6 307.5 325 303.5 324.6 300.5 323.1 298.5 319.5 296.9 314.5 296.5 306.4 297.5 297.5 304 288.5 307.5 286.3 309.5 286.5 312 291.1 317.5 292.4 321.5 292.5 389.5 0.5 389.6 0.5 307.5 5.5 303.3 10.5 301.5 16.5 300.5 45.5 300.3 65.5 304.5 82.5 309.7 164.5 309.9 169.5 309.4 185.5 305.6 188.5 303.5 190.1 300.5 190.9 296.5 190.2 293.5 188.4 291.5 183.5 289.7 176.5 288.9 147.5 288.8 136.5 286.3 124.5 285.7 113.5 283.3 88.4 284.5 70.5 289.6 59.5 290.3 49.5 294.7 44.5 295.5 23.5 294.9 16.5 292.7 8.5 287.5 0.5 285.7 0.5 242.1 3.5 239.6 6.5 238.6 34.5 238.2 48.5 233.3 51 230.5 51.5 222.5 52.8 218.5 54.5 216.3 60.5 212.5 64.4 206.5 66.8 204.5 72.5 203 101.5 203 114.5 205.6 123.5 206 145.5 209.4 155.5 209.2 158.5 210.5 161.5 215.5 164.5 218.1 168.5 219.5 178.5 221 181.6 222.5 182.1 223.5 181.3 225.5 175.5 229.9 170.5 236.5 167.5 238 117.5 238.4 112.5 239.3 110.5 240.8 108.9 243.5 108.5 251.5 109 253.5 110.5 255.2 114.5 256.9 144.5 257 148.8 255.5 154.5 250.9 157.5 249.5 187.5 249.1 198.5 246.7 220.5 245.2 225.5 243.6 231.2 239.5 234.5 238.5 253.5 238.5 256.5 239.6 262.7 243.5 267.5 244.5 276.5 243.8 278.9 242.5 279.2 241.5 277.9 239.5 272.6 235.5 268.5 229.8 265.5 228 235.5 227.4 232.5 226.9 230.3 225.5 229.2 222.5 232.2 213.5 232.3 202.5 226.9 191.5 225 179.5 223.7 177.5 221.5 176.3 201.5 176.2 198.5 178.1 194.1 183.5 189.5 185.3 184.5 184.4 180.5 180.5 178.5 179.6 173.4 185.5 167.5 187.7 143.5 187 123.5 187.7 111.5 187.2 106.1 185.5 102 179.5 95.5 176.1 91.5 169.1 84.5 165.1 80.5 158 73.5 154.1 69.5 147.2 67.5 146.4 57.5 145.8 52.1 143.5 50.1 140.5 48.3 134.5 46.5 131.9 44.5 131.7 36.2 133.5 27.5 140.2 16.5 141.2 13.5 142.8 8.5 147.5 5.5 148.5 0.5 148.8 0.5 0.5 10.8 0.5 10.9 34.5 12 39.5 15.5 42.6 26.5 43.7 30.5 46 32.2 49.5 32.7 58.5 33.9 61.5 41.2 67.5 45.6 73.5 52.2 78.5 56.6 84.5 63.2 89.5 64.6 92.5 65.5 100.5 68.5 102.5 79.5 102.5 84.5 97 89.5 95.6 134.5 94.9 137.5 92.7 141.5 86.6 144.5 84.9 167.5 83.5 169.5 81.9 173.5 75.7 179.8 71.5 184.5 64.7 188.5 63 192.5 64.6 197.5 72.5 203.5 76.9 205.5 79.3 206.5 82.5 207.4 92.5 208.7 94.5 214.5 98.7 216.5 101.3 217.4 104.5 217.8 112.5 219.5 116.1 223.5 118.1 231.5 118.5 234.5 119.3 237.3 121.5 240.7 126.5 243.5 128.5 253.5 129.3 256.5 130.3 259.1 132.5 262.5 137.5 266.5 139.6 276.5 138.4 279.5 136.6 284.5 132 288.5 130.2 297.5 128.2 309.5 126.8 318.5 122.6 321.5 121.9 371.5 121.4 391.5 123.4 415.5 120.8 429.5 122.7 449.5 121.8 455.5 120.9 460.5 119.1 467.2 113.5 470.5 111.7 482.5 109.3 485.5 111 487.2 114.5 487.4 122.5 486.1 126.5 484.2 128.5 481.5 129.7 470.5 130.8 468 132.5 466.3 135.5 465.7 155.5 463.2 166.5 462.2 176.5 462.8 181.5 465.2 185.5 470.5 187.8 481.5 188.9 572.5 190.1 579.5 189.6 590.5 185.5 600.5 184.7 602.7 183.5 604.5 180.5 604 177.5 602.5 175.8 596.5 172.3 591.1 166.5 584.2 161.5 582.5 157.5 582 148.5 581.1 145.5 573.8 140.5 572.1 137.5 570.5 132.3 569.5 131.3 567.5 131.3 565.5 132.6 563.8 135.5 563.2 143.5 562.3 146.5 560 148.5 553.5 151.7 548 158.5 544.5 159.6 537.5 159.6 530.4 157.5 527.9 155.5 518.2 143.5 511.5 137.5 509.5 133.9 509.2 127.5 510.1 123.5 512.5 120.5 517.9 116.5 518.9 114.5 518.2 111.5 514.5 108.8 504.5 108 500.5 105.8 498.7 102.5 497.6 91.5 496.5 89.5 493.8 87.5 483.5 86.5 471.5 84.1 440.5 83.8 429.5 82.7 425.2 81.5 419.5 77.6 417.5 77 406.5 79.4 384.5 79.8 365.5 85.7 360.5 86.1 352.2 83.5 346.5 75.7 342.5 74.2 338.9 76.5 333.5 86 329.5 89 300.5 89.1 297.5 87.2 293.5 79.5 290.5 76.6 286.5 75.1 277.5 74.7 273.5 72.5 269.5 66.9 263.4 62.5 258.5 55.8 252.5 51.3 247.5 44.8 242.5 40.7 238 33.5 231.2 28.5 230.1 26.5 229.6 23.5 229.6 0.5 560.5 0.5 560.7 48.5 562.7 53.5 569.5 58.3 570.8 61.5 570.5 66.6 569.5 69.9 568 71.5 562.5 74.6 560.6 77.5 559.7 80.5 559.4 110.5 560.3 114.5 562.5 117.4 570.5 122.2 574.5 127.5 583.5 129.8 591.5 135.8 601.5 136.3 606.6 137.5 609.3 139.5 611.5 144.5 613.3 146.5 616.5 147.7 621.5 148.3 623.9 147.5 625.5 145.5 626.3 136.5 627.6 133.5 630.1 130.5 636.5 125.5 641.3 116.5 643.5 114.1 647.2 112.5 655.5 111.3 665.5 111.7 670.5 112.9 673.2 114.5 674.6 116.5 675.4 122.5 675.1 127.5 672.1 136.5 671.1 145.5 665.5 154.7 662.1 164.5 661.8 167.5 663.5 170.4 669.1 174.5 674.5 181.8 689.4 188.5 692.2 190.5 693.1 192.5 693.8 199.5 695.5 202.1 697.5 203.3 700.5 203.3 703.1 201.5 706.5 197.3 709.5 195.4 726.7 190.5 734.5 189.5 743.5 189.7 760.5 193.8 764.5 196 767.4 199.5 767.8 201.5 766.9 203.5 760.5 209.4 758.7 212.5 758.5 231.5 759.5 234.5 761.1 236.5 771.2 243.5 775.5 244.5 779.5 242.9 779.5 285.5 763.5 282 754.5 281.5 751.5 280.6 742.5 271.7 736.3 266.5 732.2 264.5 721.5 263.8 709.5 261.5 695.5 260.9 688.5 259.9 684.6 258.5 679.3 252.5 672.5 247.5 668 241.5 659 235.5 657.4 232.5 656.6 224.5 655.7 222.5 648.5 218.4 644.5 211.1 638.5 207.2 634.8 201.5 632.5 200.1 623.5 200.2 618.5 201.5 609.5 207.6 604.5 214.2 601.5 216.1 582.5 216.7 578.7 217.5 575.5 220.2 574.3 223.5 574.5 232.5 576 235.5 578.7 237.5 583.5 238.3 621.5 238.5 624.5 239.5 630.4 244.5 638.5 248.6 640.5 250.9 641.9 254.5 642.7 266.5 640.5 271.5 634.4 275.5 633.9 277.5 639 281.5 642.9 287.5 645.5 289.4 655.5 292.1 665.5 293 672.6 297.5 678.5 299.5 688.5 300.5 710.5 300.8 723.5 303.3 749.5 303.4 752.5 304.1 754.7 305.5 756.8 308.5 756.7 310.5 755.3 312.5 749.5 316.8 747.6 321.5ZM779.5 148.8 761.2 145.5 751.5 141 722.5 140.7 719.5 140 717.5 138.6 716.2 136.5 716.2 134.5 718.5 131.4 721.5 130.2 731.5 129.4 734.5 127.5 735.8 125.5 736.6 121.5 736.4 114.5 735 111.5 732.5 109.6 730.5 109.5 728.5 110.4 723.9 116.5 720.5 118.7 704.5 119.1 704.6 114.5 705.8 111.5 712.5 106.3 717.6 100.5 723.3 95.5 725 91.5 722.5 81.4 713.8 72.5 704.5 57.5 704.2 0.5 779.5 0.5ZM684.9 138.5 683.7 136.5 684 133.5 685.7 131.5 691.2 127.5 695.5 121.7 699.5 119.6 704.1 119.5 704 133.5 703.3 136.5 701.8 138.5 698.5 140.4 693.5 140.8 688.5 140.5ZM561 277.5 560.5 275.5 559.4 274.5 548.5 269 535.8 267.5 527.6 263.5 518.5 261.4 513.5 259.4 511.2 257.5 509.6 254.5 509 245.5 508.2 242.5 504.5 239.1 493.5 238 482.5 235.4 470.5 230.5 458.5 230 448.5 227.7 440.5 227.4 437.5 226.5 435 224.5 431.6 219.5 427.5 215.1 423.5 208.5 419.9 206.5 414.5 205.9 398.5 205.8 385.5 207 374.5 205.9 362.5 205.9 349.5 207.6 342.5 210.6 340.5 210.5 339.4 209.5 338.8 207.5 339.2 200.5 348 190.5 349.4 186.5 348.8 180.5 346.9 178.5 342.4 176.5 331.5 173.6 313.8 170.5 299.5 165.5 289.5 164.4 285.5 165.8 281.4 170.5 278.5 172.6 275.5 173.6 265.5 174.5 262.5 176.1 260.8 178.5 260.6 182.5 262.5 193.5 264.5 197.8 267.5 198.8 275.5 199.6 277.5 201.4 280.3 206.5 282.5 208.2 287.5 209.7 295.5 210.5 298.2 212.5 300.7 231.5 306 243.5 307.5 245.3 309.5 246.3 329.5 245.6 332.5 244.4 339.5 239.1 347.5 238.3 357.5 239.7 373.5 246.5 385.5 245.1 404.5 244.9 419.5 246.6 428.5 244.9 436.5 240 439.5 239.4 445.9 243.5 455.5 247.7 457 249.5 459.5 255 461.5 257.2 475.5 262 483.5 270.3 491.5 271 494.5 272 502.8 280.5 507.5 283 516.5 284.3 548.5 284.1 556.5 282.1 559.5 279.8ZM776 389.5 776.1 320.5 777.1 314.5 779.5 308.9 779.5 389.5Z"/><path fill="#ffcbb0" fill-rule="evenodd" d="M231.3 24.5 231.2 0.5 433.3 0.5 433 37.5 431.5 40.5 425.5 45 423.5 47.5 421.7 60.5 416.5 66.2 413.2 71.5 410.5 73.8 406.5 75.5 382.5 76.2 375.5 77.9 363.5 82.1 359.9 81.5 357.2 79.5 354.5 71.5 352.5 68.9 349.5 67.9 342.5 68 339.5 69.5 336.2 73.5 331.5 81.5 328.5 83.6 300.3 83.5 298.5 82.3 294.3 76.5 291.5 74.5 286.5 73.1 278.5 72.8 275.3 71.5 271.3 65.5 264.5 60.8 260.3 54.5 253.5 49.7 249.3 43.5 242.9 38.5 239.5 32.2 232.5 27.5ZM472.5 78.1 463.5 78.5 458.5 77.9 454.7 75.5 452.6 71.5 452.2 66.5 452.2 0.5 479.5 0.5 479.4 69.5 478.7 72.5 477 75.5ZM779.5 112.9 777.5 110.4 771.5 106.1 767.5 100.5 764.5 98.3 760.5 97.5 744.5 97.4 739.5 95.7 730.5 84.6 726.4 76.5 720.5 72.3 718.5 70.1 715 56.5 715 0.5 736.7 0.5 736.7 35.5 737.5 38.8 739.5 41.5 744.5 43.3 773.5 43.6 776.5 44.7 779 47.5 779.5 48.7ZM454.9 154.5 453.3 159.5 445.5 167.5 443.5 173.4 429.5 175.8 416.5 173.9 405.5 177.3 397.5 178.3 395.7 179.5 395.5 181.7 397.5 183.7 405.5 184.4 415.5 186.7 420.5 186.4 430.5 184.2 444.1 184.5 444.2 194.5 443.5 195 428.5 195.3 425.5 196.7 421 200.5 418.3 201.5 397.5 202 383.5 204.3 362.5 203.7 352.5 204.2 348.5 203.7 345.6 201.5 345.8 199.5 349.5 195 356.2 189.5 357.2 187.5 357.3 182.5 355.3 179.5 349.4 176.5 343.5 174.7 317.5 169.6 300.5 164.3 290.5 163.3 285.5 164.4 279.9 170.5 277.5 172 265.5 173.6 261.5 175.6 259.5 179.5 260.4 189.5 260.1 194.5 258.9 197.5 257.5 198.8 252.5 200 236.5 200 233.5 199 230.2 195.5 228 190.5 226.1 178.5 223.5 175.7 220.5 174.7 204.5 174.6 200.5 175.2 197.5 177.3 193.5 182.3 189.5 184 185.5 183 180.5 177.9 178.5 177.4 176.4 178.5 171.5 184.5 166.5 186.1 122.5 186.2 114.5 185.7 110.5 184.7 107.5 182.6 103.5 177.2 97.5 173.3 92.8 166.5 86.7 162.5 82.5 156.2 75.7 151.5 71.5 145.3 68.5 143.9 58.5 143.2 53.8 140.5 51.5 135.5 49.4 123.5 50 120.5 51.7 117.5 58.7 113.5 63.5 107.2 68.5 105.7 80.5 105 82.8 103.5 86.5 99 89.5 97.5 94.5 96.8 133.5 96.6 137.5 94.7 141.7 88.5 145.5 86 167.5 84.9 170.5 82.6 174.5 76.7 180.5 72.5 185.5 65.7 187.5 64.6 189.5 64.4 192.5 66.2 197.3 73.5 202.5 77.2 204.6 79.5 205.6 82.5 206.5 92.5 208.4 95.5 213.5 99 215.6 101.5 216.5 104.5 216.9 112.5 218.7 116.5 222.5 118.8 231.5 119.3 234.5 120.3 236.9 122.5 240.5 127.6 243.5 129.4 255.5 130.8 258.5 133.2 262.3 138.5 264.5 140 268.5 140.5 276.3 139.5 280.1 137.5 285.5 132.7 288.5 131.4 297.5 129.2 309.5 128 321.5 123.8 371.5 123.8 384.5 126.3 393.5 127.1 406.5 124.2 416.5 123.8 422.2 125.5 429.5 129.7 447.5 130.1 451.7 131.5 453.6 133.5 454.8 136.5ZM32.4 118.5 30.5 119.1 7.5 119.1 4.5 118.3 1.5 116 0.5 114.6 0.5 81.3 2.5 84.6 9 89.5 13.4 95.5 19.5 99.9 24.4 106.5 30.5 111.1 32.1 114.5ZM779.5 281.5 771.5 277.5 763.5 271.6 753.5 270.2 745.5 264.4 738.2 261.5 730.5 260.1 691.5 258 686.5 256.6 681.4 250.5 674.5 245.5 669.8 239.5 662.8 234.5 661.1 231.5 660.7 224.5 659.7 221.5 657.7 219.5 651.3 215.5 646.5 207.7 635.4 197.5 631.5 196.7 610.5 197.7 592.5 197.8 588.5 197.1 585.6 195.5 583.8 192.5 584.7 190.5 590.5 187.5 599.5 186.9 602.5 186.2 605.5 182.9 605.9 178.5 604.2 175.5 596.6 170.5 592.5 165.4 585.5 159.5 584.2 155.5 583.3 144.5 581.6 142.5 577.5 140.5 575.2 138.5 573.9 135.5 574.5 132.4 577.5 130.6 581.5 131 584.5 132.8 589.5 138 600.5 138.8 604.5 140.1 607.1 142.5 610.3 147.5 612.5 149 617.5 150.1 622.5 150.3 625.5 149.1 627.6 146.5 628.6 136.5 630.1 133.5 639 126.5 645.5 116.7 650.5 114.5 655.6 113.5 664.5 113.8 668.5 115.3 670.6 119.5 671.1 125.5 669.5 129.2 664 136.5 663.2 146.5 657.9 166.5 657.9 169.5 658.7 171.5 660.5 173.1 667.5 176.5 670.9 181.5 673.1 183.5 688.2 190.5 689.4 192.5 690.6 201.5 693 204.5 696.5 206.3 699.5 206.8 703.5 206.1 706 204.5 710.5 199.4 720.5 197.4 729.2 193.5 732.5 192.7 739.5 192.6 743.5 193.3 755.4 199.5 756 200.5 755.7 202.5 749.5 209.5 747.7 213.5 747.8 241.5 749.5 244.2 752.5 245.7 763.5 245.7 773.5 248.6 779.5 249.2ZM41.2 124.5 38.5 126.1 34.9 125.5 33.2 123.5 32.7 119.5 36.5 119.5 39.5 120.5 41.4 122.5ZM534.5 155.5 533.2 153.5 531.9 148.5 532.2 144.5 533.8 142.5 539.5 138.4 544.5 131.8 550.4 127.5 554.5 121.9 556.5 120.7 558.5 120.9 566.4 124.5 566.6 125.5 561.8 129.5 560.2 132.5 559.2 143.5 558.2 145.5 550.6 149.5 547.5 154.9 545.5 156.6 538.5 157ZM452.5 181.9 449.5 183.6 444.5 184.1 444 173.5 448.5 173.7 452.4 175.5 453.9 178.5ZM541.5 209.5 540.1 213.5 537.5 215.7 534.5 216.5 525.5 217.1 514.5 219.8 511 221.5 505.5 226.3 502.5 227.3 484.5 227.4 472.5 225 461.5 224.5 456.6 222.5 445.5 213.1 444.2 208.5 444.2 195.5 444.5 195 534.5 195.2 538.5 196.6 540.8 199.5 541.6 202.5ZM715 389.5 325 389.5 325.1 322.5 326.5 318.5 335.1 308.5 335.7 301.5 334.4 298.5 330.9 296.5 320.5 293 313.5 292.5 305.5 293.1 298.5 295.3 291.5 301.3 282.7 306.5 279.7 310.5 281.7 323.5 281.7 389.5 0.5 389.5 0.5 318.8 1.9 315.5 4.5 312.5 13.2 307.5 19.5 306.1 49.5 306.2 59.5 307.2 74.5 311.5 83.5 312.8 168.5 312.6 189.5 309.5 191.9 306.5 195.2 297.5 197 294.5 199.5 293 210.5 289.8 213.4 287.5 212.5 285.5 210.9 284.5 202.5 282.2 198.5 282.4 187.5 285.4 149.5 285.3 135.5 283.2 124.5 282.8 112.5 280.6 85 282.5 70.5 285.7 58.5 286.4 47.5 289.7 27.5 289.6 14.5 285 0.5 281.8 0.5 249.2 24.5 249 36.5 245.2 44.5 238.7 52.5 235.8 55.5 233.7 56.6 231.5 57.1 224.5 58.2 221.5 65.2 216.5 68.5 211.2 70.4 209.5 74.5 208.7 96.5 208.7 104.5 209.6 112.5 215.3 114.5 215 121.5 210.7 125.5 210 137.1 211.5 139.1 212.5 140.6 214.5 140.8 219.5 139.8 223.5 137.5 226.2 134.5 227.9 124.5 230 112.5 227.7 104.5 227.7 101.5 228.6 98.6 231.5 97.5 237.5 97.5 251.5 98.3 255.5 100.5 258.4 103.5 260.3 113.5 262.6 143.5 262.7 147.5 261.9 158.5 257.4 188.5 257 200.5 252.2 211.5 251.5 238.5 245.8 252.5 245.4 265.5 247.6 278.5 247.3 286.5 244.9 291.5 237.3 293.5 235.9 296.5 235.3 298.5 236 300.5 237.8 305.5 246.7 309.5 248.6 330.5 247.2 334.5 245.5 340.5 241.3 345.5 240.5 354.5 241.3 368.5 247.4 374.5 248.9 385.5 248 395.5 248.9 405.5 248 425.5 249.1 437.5 247.1 440.5 247.2 451.5 250.5 454.3 253.5 457.5 259.6 460.5 262.2 469.5 264 472.5 265.4 473.9 267.5 476.6 275.5 479.5 278.9 482.5 281 492.5 282.3 499.5 286.9 504.5 288.5 554.5 288.7 560.9 287.5 569.5 282.2 584.3 281.5 584.7 279.5 583.4 276.5 580.7 274.5 557.5 267.5 550.8 263.5 544.7 258.5 542.8 255.5 543.3 252.5 546.5 249.5 554.5 246.9 564.5 246.3 579.5 246.5 590.5 248.4 602.5 246.7 613.5 249 622.5 249.5 633.5 252.5 635.5 254 637 256.5 638.5 262.5 638.2 266.5 635.7 269.5 628.5 273.6 626.9 275.5 626.4 277.5 628.2 281.5 634.5 285.7 638.3 291.5 640.4 293.5 654.5 299 666.5 299.9 688.5 305.9 708.5 306.4 711.9 307.5 714.1 309.5 715 314.5ZM529 254.5 527.5 255.9 524.5 256.1 522.2 254.5 522 252.5 524.2 250.5 526.5 250.4 529 252.5ZM429.9 276.5 429.5 275.4 426.5 274.3 418.5 275.3 416.2 276.5 416.5 277.5 418.5 278.3 423.5 278.6 427.5 278.2ZM604.6 285.5 603.5 283.4 599.5 281.8 586.5 281.8 585.3 282.5 585.7 284.5 587.2 286.5 591.5 288.2 601.5 287.9 603.5 287.1Z"/><path fill="#ffa880" fill-rule="evenodd" d="M407.3 69.5 406.5 70.6 403.5 71.6 382.5 72.1 364.5 74.6 361.5 72.5 358.7 66.5 356.5 64.2 352.5 62.5 345.5 62.2 340.5 62.6 336.5 64.4 330.5 73.7 328.5 75.3 326.5 75.7 301.5 75.7 291.5 71.3 278.5 70.1 276.5 68.8 273.1 62.5 266 58.5 262.1 51.5 255.5 48 251.5 40.9 245.4 37.5 241 29.5 234.1 25.5 233.4 22.5 233.4 0.5 368.3 0.5 368.4 34.5 369.5 39.5 371.5 41.8 376.8 45.5 381.5 51.9 387.8 56.5 392.5 62.9 396.5 64.8 405.5 65.7 407.3 67.5ZM469.5 72.8 461.2 72.5 459.5 71.5 458 68.5 457.8 0.5 473.8 0.5 473.7 67.5 472.5 71.1ZM444.1 153.5 443.5 156.5 441.5 159.5 432.7 167.5 429.6 169.5 426.5 170.1 416.5 169.9 406.5 173.1 396.5 174.8 393 176.5 391.2 178.5 390.1 181.5 389.7 197.5 388.2 199.5 383.2 201.5 372.5 202.3 362.5 200.7 355.5 200.5 353.2 199.5 354.5 198.1 362.5 194.9 367.5 189.5 368.3 185.5 367.9 181.5 364.3 178.5 349.5 174 320.5 168.4 302.5 163.4 291.5 162.2 287.5 162.3 284.7 163.5 279.5 169.5 276.5 171.4 264.5 172.9 260.5 175 258.3 179.5 258.8 191.5 257.5 194.6 255.5 196.3 251.5 197.2 236.5 197.2 232.5 195.7 230.1 192.5 228.8 188.5 228 179.5 226.6 176.5 224.2 174.5 220.5 173.5 200.5 173.8 197.5 175.6 192.5 181.5 189.5 182.7 186.5 182 181.5 176.8 178.5 175.7 175.5 177.3 170.5 183.2 166.5 184.7 124.5 184.8 112.5 183.5 109.4 181.5 104.5 175.5 98.9 171.5 94.5 165.4 88.5 161.1 83.5 154.4 77.5 150.1 72.5 143.5 69.5 142.1 59.5 141.3 56.1 139.5 53.6 135.5 52.3 125.5 54 120.5 60.9 115.5 65.7 109.5 70.5 107.6 81.5 106.7 83.5 105.5 87.8 100.5 90.5 98.9 95.5 98.2 134.5 97.9 138.5 95.6 142.5 89.7 145.5 87.4 149.5 86.7 165.5 86.6 168.5 85.8 171.3 83.5 175.4 77.5 181.5 73.1 185.5 67.5 187.5 66 189.5 65.7 192.5 67.7 196.5 74 202.5 78.4 204.1 80.5 205.9 93.5 207.5 95.8 213.5 100.2 215.1 102.5 216.2 113.5 218.3 117.5 222.5 119.7 233.5 120.8 235.8 122.5 239.5 127.8 242.5 130 255.5 131.8 257.6 133.5 261.5 139 264.5 140.9 268.5 141.4 276.5 140.5 280.5 138.6 285.5 134.1 289.5 132.2 297.5 130.2 310.5 129 320.5 125.8 365.5 126.7 373.2 127.5 395.5 132.3 408.5 130.1 416.5 130.6 427.5 139.7 430.5 140.7 438.5 141.3 441.5 142.8 443.7 146.5ZM779.5 277.3 774.3 270.5 767.9 264.5 747.5 258.1 733.5 256.2 691.5 255.1 688.5 254.2 684 247.5 676.8 243.5 672 237.5 665.7 232.5 664.9 230.5 664.3 222.5 662.7 219.5 660.5 217.5 653.5 213.5 649.1 204.5 643.6 200.5 639.5 196.3 634.5 194.1 620.5 194.7 601.5 191.2 601 190.5 604.5 188.8 606.9 185.5 607.6 181.5 607.1 177.5 605.1 174.5 597.6 169.5 593.5 163.9 587.2 158.5 585.9 153.5 586.7 142.5 589.5 141 600.5 141.1 604.5 143.3 608.5 148.9 611.5 151.1 618.5 152.2 624.5 152 627.6 150.5 629.8 147.5 630.8 137.5 632 134.5 640.5 129 646.5 121.3 651.5 118.5 655.5 117.2 660.8 117.5 664.5 118.9 666.5 121.5 666.9 124.5 666.1 126.5 660.5 132.3 658.6 135.5 657 155.5 652.9 168.5 653.1 177.5 654.5 181.2 655.5 182.1 657.5 182.3 661.6 179.5 664.5 179 666.5 180.5 668.5 183.8 670.5 185.5 678.5 187.8 683.5 190.5 684.8 192.5 685.3 199.5 686.5 203.5 689.5 207.5 692.5 209.1 707.5 213 710.5 213.2 713.5 212 719.5 206.7 725.5 206 726.5 222.5 728.4 225.5 733.5 229 735.6 231.5 736.5 234.5 736.9 242.5 738.5 246.4 741.5 248.9 747.5 251.1 752.5 251.6 760.5 249.8 764.5 249.7 776 253.5 779.5 255.4ZM583.8 138.5 581.5 139.4 578.5 138.6 576.6 136.5 576.5 134.5 578.5 132.7 581.5 133.1 583.8 135.5ZM745 201.5 743.5 203.9 740.5 205.5 726.1 205.5 726.5 202.5 727.9 200.5 732.5 198.2 741.5 198.3 743.9 199.5ZM518.2 209.5 517.7 211.5 514.5 213.5 500.5 216.6 472.5 216.4 468.5 214.6 466.9 211.5 467.3 209.5 469 207.5 471.5 206.3 474.5 205.9 512.5 206 516.5 207.3ZM123.5 223.4 122.1 222.5 121.8 220.5 123.8 218.5 126.6 218.5 127.7 219.5 128 221.5 126.5 223.1ZM682.5 389.5 335.8 389.5 335.9 322.5 336.7 319.5 341.5 313.3 343.4 309.5 346.3 297.5 346.5 293 331.5 292.3 319.5 289 313.5 288.7 300.5 289.4 294.5 291 292.5 292.5 287.1 299.5 273.7 308.5 271.2 311.5 270.8 389.5 4 389.5 4 322.5 4.7 319.5 7.5 317 21.1 312.5 29.5 311.5 57.5 311.6 72.5 314.5 83.5 315.5 165.5 315.5 188.5 313.9 191.5 312.8 193.8 310.5 198.4 299.5 200.5 297.1 219.5 293.5 223.5 290.9 225.7 287.5 225.3 285.5 223.7 283.5 219.5 280.7 212.5 279.1 202.5 278.1 187.5 281.6 150.5 281.7 125.5 280.1 113.5 277.5 102.5 279.3 83.5 280.1 70.5 282.8 58.5 283.3 47.5 285.3 27.5 285.1 15.5 281.6 4.5 279.8 0.5 278 0.5 256.2 3.5 258.6 5.5 259.1 14.5 257.5 26.5 256.7 33.1 251.5 39.5 247.8 46.5 241.1 50.5 239.8 58.5 239.1 62.5 240.4 66.9 246.5 73.5 251.4 78.5 258.1 89.3 266.5 93.5 267.9 103.5 268.2 113.5 270.1 124.5 268.2 145.5 267.9 156.2 263.5 159.5 262.9 188.5 262.5 200.5 257.7 211.5 256.9 221.5 253.3 231.5 252 242.5 249.5 253.5 249.2 268.5 250.5 283.5 249.7 289.5 247.5 294.1 241.5 296.5 240 299.5 241.4 302.5 246.9 304.5 249.2 308.5 250.8 319.5 249.3 330.5 248.9 334.8 247.5 341.5 243.5 348.5 242.9 353.5 243.6 364.7 248.5 373.5 251.1 385.5 250.8 395.5 252.5 407.5 250.8 428.5 252.9 438.5 252.2 448.5 253.5 450.7 255.5 454.5 266.5 454.9 270.5 440.5 270.7 428.5 268.4 409.6 272.5 404.3 274.5 403.1 275.5 402.4 277.5 403.4 279.5 405.5 281.2 411.5 283.4 417.5 284.3 427.5 284.3 439.5 281.9 449.5 281.2 451.5 280.3 453.5 278.2 455.5 270.9 458.5 271 461.5 271.8 463.5 273.2 468.2 279.5 476.4 286.5 482.5 289.4 491.5 289.9 506.5 292.5 556.5 292.4 569.5 289.9 579.5 290 591.5 292.4 620.5 292.6 624.5 293.6 630.2 298.5 633.5 300 644.5 300.9 654.5 303.1 666.5 303.7 679.7 308.5 681.8 310.5 682.5 313.5ZM633.9 264.5 632.4 266.5 621.5 270.5 613.5 271 604.5 273.1 599.5 273.3 578.5 267.3 575.3 265.5 570.5 261.2 567.5 260.2 558.5 259.3 555.9 257.5 554.8 255.5 555.9 253.5 559.5 252.2 577.5 252.1 582.4 253.5 587.5 257.8 589.5 258.6 591.5 258.2 598.1 253.5 601.5 252.7 605.5 254.1 613.5 259.7 631.5 260.5 633.5 262.4ZM237.4 286.5 238.1 288.5 239.4 289.5 245.5 290.8 269.5 289.7 275.5 288.5 277.4 287.5 277.9 286.5 275.7 284.5 270.5 282.7 265.5 281.8 243.5 282 239.5 283.8ZM369.7 285.5 368.5 283.8 366.5 282.6 363.5 282.1 360.5 282.6 350.8 286.5 348.2 288.5 347 291.5 348.5 292.4 363.5 292 368.4 289.5 369.7 287.5Z"/><path fill="#ff7a45" fill-rule="evenodd" d="M421 147.5 419.5 149.9 414.5 153.5 412.8 155.5 411.9 158.5 411.5 164.5 409.6 167.5 405.5 169.6 392.5 173.5 388.6 176.5 383.5 182.2 381.5 181.9 377.9 179.5 372.8 177.5 352.5 172.1 338.5 169.9 302.5 162 288.5 161 283.5 162.8 279 168.5 276.5 170.3 263.5 172.1 259.5 174.2 257.3 178.5 257.3 190.5 256.4 192.5 254.5 194.2 250.5 195 236.5 194.9 233.5 194.1 230.7 190.5 229.4 179.5 227.8 175.5 225.4 173.5 221.5 172.3 200.5 172.5 197.5 174 192.5 179.9 189.5 181.4 186.5 180.3 181.5 175.1 178.5 174.3 175.4 175.5 169.5 182.2 166.5 183.3 126.5 183.5 113.5 182.1 110.5 180 106.3 174.5 100.5 170.4 95.5 163.7 89.6 159.5 85.3 153.5 78.6 148.5 73.5 141.8 69.5 140.1 60.5 139.6 57.5 138.1 55.3 134.5 54.5 126.5 55.1 123.5 56.4 121.5 62.5 117.1 67.5 111.1 71.5 109.4 82.5 108.4 85.3 106.5 89.3 101.5 91.5 100.2 95.5 99.6 134.5 99.4 138.6 97.5 143.5 90.5 146.5 88.4 165.5 87.8 168.5 87.2 171.5 85.1 176.1 78.5 182.5 73.7 186.5 68.2 189.5 67 191.8 68.5 195.6 74.5 203.1 80.5 204 83.5 204.9 93.5 206.8 96.5 212.5 100.5 214.1 102.5 215.3 113.5 217.5 118 221.5 120.4 230.5 121 233.5 121.8 235.5 123.5 239.5 129.2 242.5 131 254.9 132.5 257.3 134.5 260.6 139.5 264.5 141.9 269.5 142.3 277.5 141.3 281.5 139.4 287.5 134.2 294.5 131.9 309.5 130.3 319.5 127.8 324 127.5 355.5 129 384.5 134 388.7 135.5 394.5 139.5 397.5 140.6 413.5 140.9 416.5 141.5 420.2 144.5ZM650.4 129.5 650.8 126.5 652.5 124.4 655.5 123.2 657.9 124.5 657.5 126.5 655.5 128.4 652.5 129.7ZM647.7 192.5 644.5 193.4 638.5 191.3 634.5 190.8 625.5 192.3 621.5 192.2 617.5 190.9 611.8 187.5 610.3 185.5 608.6 177.5 607.1 174.5 605 172.5 599.5 169.3 595.1 162.5 589.8 158.5 588.5 156.7 587.9 148.5 589.3 144.5 592.5 143.2 600.4 143.5 603.4 145.5 607.5 151.4 610.5 153.2 620.5 154.4 627.5 153.8 630.5 152.3 632.4 149.5 633.3 145.5 633.5 138.5 634.5 136.1 646.5 130.7 649.5 130.3 649.9 154.5 647.6 165.5 647.4 179.5 649.1 189.5ZM656.8 211.5 655.5 209.5 656.2 206.5 663.5 196.9 673.1 190.5 676.5 190.3 678.6 191.5 679.5 193.5 679.9 201.5 681.6 210.5 681.3 212.5 680 214.5 676.5 216.3 669.5 216.6ZM375.7 197.5 374.5 198.7 373.1 198.5 372.8 197.5 374.5 196.8ZM714.8 224.5 714.8 231.5 713.5 235 706.6 240.5 702.5 246.1 699.5 248 697.5 247.9 695.5 246.6 691.8 241.5 689.5 239.5 678.5 237.5 675.2 234.5 673.6 231.5 675.5 228.7 678.5 227.7 698.5 227.1 701.5 225.5 705.5 221.5 708.5 220.2 712.5 220.9 714.2 222.5ZM4.3 273.5 6.4 270.5 14.5 263.8 17.5 263 27.5 262.4 31.5 260.8 36.5 254.4 42.5 250 47.5 244.6 50.5 243.6 54.5 245.5 58.4 255.5 64.5 259.5 68.5 265.5 70.5 267.3 90.5 273.9 99.2 274.5 98.9 275.5 82.5 276.8 69.5 280.1 47.5 281.6 31.5 281.7 26.5 281.3 16.5 278.1 6.5 276.6 4.8 275.5ZM390 259.5 389.1 266.5 385.5 270 374.5 271.4 366.5 276.9 331.5 288.3 326.5 287.2 319.5 282.8 316.5 281.8 289.5 281.6 277.5 279 264.5 277.8 243.5 278 232.5 280.1 230.5 279 223.5 272.6 220.5 271.1 195.4 270.5 195.2 269.5 197.1 265.5 200.5 263.4 216.5 261.9 225.5 258.7 234.5 256.6 242.6 253.5 251.5 253 274.5 253.8 286.5 253.1 292.5 251 296.5 246.6 297.5 246.3 302.5 252.2 307.5 253.6 318.5 251.1 332.5 250.2 343.5 245.9 350.5 245.9 372.5 253.6 386.2 254.5 389.2 256.5ZM401.4 264.5 401.2 257.5 402.7 255.5 404.7 254.5 408.5 253.9 417.5 254.5 420.3 255.5 422.1 257.5 422.5 260.5 421.9 263.5 419.9 265.5 417.5 266.5 406.5 267.6 403 266.5ZM604 265.5 602.5 266.7 600.5 266.8 598.5 265.6 598.3 264.5 599.5 262.6 601.5 261.9 603.9 263.5ZM194.7 271.5 194.3 273.5 192.7 275.5 190.5 276.8 186.8 277.5 150.5 277.4 128.5 276.3 125.1 275.5 125.9 274.5 146.5 273.8 159.5 270.9 191.5 270.9ZM660.8 389.5 346.7 389.5 346.7 322.5 349.5 309.5 351 305.5 353.1 302.5 356.2 299.5 359.5 297.5 375.5 292.8 383.5 292.3 392.5 290.1 398.5 289.7 460.5 289.8 466.5 290.8 479.5 294.9 503.5 296.2 556.5 296.2 575.5 295.3 599.5 296.5 604 297.5 610.5 302.2 613.5 303.2 621.5 303.5 633.5 306 665.5 307.7 667.7 308.5 669.4 310.5 668.5 312.5 662.5 317.2 661 321.5ZM282.8 296.5 282.1 298.5 278.5 301.7 262.8 308.5 260.3 311.5 260 389.5 21.7 389.5 21.7 323.5 23.2 319.5 26.5 317.6 31.5 317 57.5 317 84.5 318.8 165.5 318.8 188.5 318 192.5 317.3 195.7 315.5 197.5 313.1 200.5 305.9 202.5 303.9 222.5 302.7 225.5 300.8 230.5 295.1 233.5 293.4 242.5 293.8 255.5 292.5 275.5 292.6 280.5 293.7Z"/><path fill="#ff5219" fill-rule="evenodd" d="M400.8 163.5 400.3 165.5 398.3 167.5 390.5 171.2 384.5 175 381.5 175.4 371.5 174.1 351.5 169 339.5 167.6 319.6 162.5 298.5 160.1 286.5 160.1 281.7 162.5 278.3 167.5 275.8 169.5 262.5 171.2 258.5 173 256.7 175.5 255.9 178.5 255.7 189.5 254.5 191.5 251.5 192.7 236.5 192.7 233.5 191.6 231.7 188.5 231.1 179.5 229.9 175.5 227.1 172.5 221.5 171 203.5 170.9 199.5 171.4 195.9 173.5 191.5 179 189.5 179.9 187.5 179.2 182.5 174.1 178.5 172.8 174.4 174.5 169.3 180.5 165.5 182 136.5 182.5 119.5 181.6 114.5 180.6 112.5 179.4 108.5 173.5 101.5 168.6 97.5 162.5 91.4 158.5 87.4 152.5 80.4 147.5 76.5 141.6 74.5 139.8 70.5 138.3 61.5 137.8 58.7 136.5 57.1 133.5 56.7 126.5 58.5 122.7 64.5 118.6 69.2 112.5 71.5 111.5 80.5 111 84.5 109.9 87.4 107.5 90.5 103 92.5 101.7 134.5 101 137.5 100.1 139.9 98.5 144.3 91.5 146.5 89.8 149.5 89.2 165.5 89.1 169.5 88.2 172.5 86 176.7 79.5 183.5 74.5 187.5 69 189.5 68.4 191.5 69.8 195.1 75.5 200.5 79.1 202.5 81.4 204.2 94.5 206.2 97.5 213 102.5 213.9 105.5 214.5 114.5 216.5 118.6 218.5 120.2 221.5 121.4 232.8 122.5 235.1 124.5 238.3 129.5 241.5 131.7 254.5 133.3 256.5 135 260.1 140.5 262.5 142.2 267.5 143.3 277.5 142.4 281.5 140.9 287.9 135.5 292.7 133.5 298.5 132.2 310.5 131.4 319.5 129.5 354.5 131.8 364.9 134.5 374.5 140.3 382.5 141 385.5 142.3 392.5 149.6 399 154.5 400.5 157.5ZM627.4 187.5 625.5 188.7 622.5 189 612.5 182.9 608.5 173.3 606.5 171.3 600.5 167.9 597.3 160.5 590.9 155.5 590.5 149.5 591.5 146.9 594.5 146 599.9 146.5 601.5 148 604.4 153.5 608.5 155.7 623.5 157.3 627 158.5 628.2 160.5 628.3 184.5ZM312.8 257.5 313.5 255.5 314.7 254.5 318.5 253 332.5 252.1 343.5 249.3 350.5 249.3 354.8 250.5 366.2 255.5 367.9 257.5 368.2 262.5 367.4 265.5 361.2 272.5 357.1 275.5 343.5 280.9 330.5 283.5 327.5 282.2 324 278.5 322.3 274.5 321.4 265.5 319.6 263.5 314.5 260.3ZM70.5 275.5 67.5 276.6 51.5 277.5 30.5 277.5 25.7 276.5 24 274.5 25 272.5 26.7 271.5 36.5 270.7 40.5 269 42.8 265.5 43.8 256.5 46 253.5 48.5 252.1 50.5 253.6 53.7 259.5 60.5 264.2 64.7 270.5 70.3 274.5ZM258.9 265.5 258.4 267.5 256.5 269.4 251.5 270.8 234.5 270.5 231.5 268.9 229.8 266.5 230.6 264.5 232.5 263.4 247.5 260 255.5 260.8 257.8 262.5ZM240.7 300.5 241.3 298.5 243.1 297.5 254.5 294.9 268.5 295.2 273.5 296.1 275.6 297.5 274.7 299.5 270.6 301.5 254.5 305.7 250.5 305.5 245.5 304.1 242.4 302.5ZM650 389.5 387.1 389.5 387 322.5 386.3 318.5 384.8 316.5 383.5 315.9 380.5 317.8 379.2 322.5 379.2 389.5 368.3 389.5 368.2 321.5 366.5 317 359.6 311.5 359 308.5 360.5 306.1 363.5 304 383.5 302.9 391.5 297.3 396.5 295.4 456.5 295.3 462.5 296.5 469.5 302.1 473.5 303.3 490.5 303.3 505.5 300.7 525.5 300.8 536.5 302.6 546.5 300.8 557.5 300.8 570.5 303.2 590.5 303.8 593.5 305.6 598.5 312.2 602.5 314 644.5 314.6 648.5 317.5 649.9 321.5Z"/><path fill="#e03500" fill-rule="evenodd" d="M387.9 166.5 386.6 168.5 383.4 170.5 374.5 171.7 362.3 168.5 353.5 163.5 350.5 162.6 342.5 162.3 332.5 160.1 322.5 159 309.5 159.5 295.5 158.5 285.5 158.8 280.5 161.2 277.4 166.5 274.9 168.5 260.5 170.2 256.5 171.7 255.1 173.5 254.1 176.5 253.5 188.3 252.5 189.4 250.5 189.9 235.4 189.5 234.3 188.5 233.6 186.5 233.1 177.5 231.9 173.5 229.5 171 223.5 169.6 199.5 169.9 195.5 171.8 191.5 176.6 189.5 177.9 187.5 176.9 183.5 172.9 178.5 171.4 173.5 173.2 168.5 179.2 165.5 180.4 142.5 181.3 124.7 180.5 117.5 179.4 114.5 178 110.5 170.8 103.5 166.8 100.2 160.5 93.2 156.5 88.5 148.8 82.2 145.5 79.1 139.5 77.5 137.8 72.5 135.9 63.5 135.4 60.7 134.5 59.6 132.5 59.4 127.5 61 124.5 67.5 120.7 71.3 114.5 82.5 113.4 86.5 112.4 89.2 110.5 92.5 104.7 94.5 103.6 134.5 103.2 138.5 101.9 141.5 99.7 145.5 92.5 147.5 91.1 165.5 90.6 170.5 89.4 174 86.5 177.5 80.4 183.5 76.4 187.5 71.1 189.5 70.2 191.1 71.5 194.5 76.7 199.5 79.6 201.4 81.5 203 94.5 205.5 98.5 210.6 101.5 212.4 103.5 213.4 114.5 215.7 119.5 220.5 122.2 232.5 123.5 234.5 125.4 237.5 130.5 240.5 132.5 254.5 134.5 258.5 140.5 261.5 143.1 266.5 144.3 277.5 143.7 282.5 142 289.4 136.5 295.5 133.9 319.5 131.2 327.5 131.8 341.5 134.1 352.5 134.7 357.5 136.5 361.5 139.5 370.5 149.3 376.5 153.5 386.4 163.5ZM616.5 177.7 614.5 178.4 613.5 177.6 610.1 170.5 603.4 166.5 602.8 164.5 603.5 163.3 605.5 162.6 610.5 162.7 613.5 163.6 615.5 165.2 616.9 167.5 617.4 170.5 617.3 175.5ZM357.3 263.5 354.3 268.5 346.3 275.5 340.5 277.7 331.5 278.2 329.5 277.1 328.1 274.5 327.7 266.5 326.7 262.5 321.5 256.5 323 255.5 341.5 253.2 351.5 253.4 354.4 254.5 356.7 256.5 357.4 258.5ZM433.3 389.5 392.8 389.5 392.8 321.5 391.1 309.5 392.6 306.5 395.5 304.2 399.5 303.4 425.5 303.4 429.5 304.5 432.5 307.8 433.3 313.5ZM450.5 313 447.5 312.5 445.3 309.5 446 306.5 448.5 304.6 451.5 304.9 453.7 307.5 453.5 310.5ZM585 389.5 487.5 389.5 487.8 320.5 489 317.5 501.3 307.5 507.5 306.2 525.5 306.6 529.4 308.5 533.5 312.2 536.5 313.1 538.5 312.5 543.1 308.5 546.5 306.7 556.5 306.3 560.5 307.6 568.5 313.6 578.5 314.4 581.5 315.5 584.1 318.5 585 322.5Z"/><path fill="#b82200" fill-rule="evenodd" d="M119.2 173.5 119.8 167.5 122.5 163.8 126.5 161.7 137.5 158.5 140.3 155.5 140.9 107.5 141.9 104.5 145.2 99.5 147 94.5 149.5 92.9 165.5 92.7 171.5 91.1 174.7 88.5 178.5 81.4 184.5 77.9 188.5 73.2 189.5 72.9 193.5 77.9 198.5 80.5 200.5 82.5 201.3 92.5 202.3 96.5 204.5 99.7 209.8 102.5 211.5 104.5 212.3 115.5 214.5 120.5 216.5 122.2 219.5 123.3 231.7 124.5 233.5 126.2 236.3 131.5 239.5 133.6 253.5 135.4 255.4 137.5 257.5 141.8 260.5 144.2 266.5 145.5 278.5 144.9 284.5 143.1 293.4 136.5 297.5 134.8 320.5 133.1 329.1 134.5 349.5 139.9 353.6 142.5 356.1 146.5 355 149.5 352.5 151.4 343.5 154.1 320.5 154.5 308.5 157.1 289.5 156.6 283.5 157.2 278.5 159.5 274.8 166.5 268.5 168.1 260.5 168.1 253.5 165.7 234.5 165.5 222.5 167.5 202.5 167.6 195.5 169.6 189.5 174.6 183.5 170.8 177.5 169.8 172.5 171.6 167.5 177.3 165.5 178.3 145.5 179.9 134.5 179.8 125.4 178.5 120.5 176.5ZM375.7 166.5 373.5 167.5 371.4 166.5 371.1 165.5 371.9 164.5 373.5 164.1 375.5 165.4ZM340.5 269.4 337.5 267.5 337 264.5 338.5 262.2 341.5 261.1 344.3 262.5 345.2 265.5 343.5 268Z"/><path fill="#8c0000" fill-rule="evenodd" d="M130.1 173.5 130.5 169.5 133.3 166.5 146.5 162.9 155.5 162.3 158.4 161.5 160.8 159.5 165.3 153.5 171.7 148.5 173 145.5 173.6 95.5 177.5 89.5 180.5 82.5 189.5 78.4 198.7 83.5 199.6 94.5 200.7 98.5 202.8 101.5 209.5 105.2 210.7 117.5 212.9 122.5 215.5 124.3 218.5 125.2 230.5 126.2 231.8 127.5 233.9 132.5 237.5 135.2 241.5 136.2 252.5 137.2 255.7 143.5 258.5 145.8 265.5 147.4 280.5 147.2 291.5 143.4 297.1 137.5 299.5 136.5 318.5 135.6 322.9 136.5 331.5 141.4 341.5 144.4 343.1 145.5 343.3 146.5 342.5 147.5 339.5 148.5 319.5 148.9 306.5 151.5 276.5 152 273.7 153.5 272 155.5 270 164.5 266.5 166 263.2 165.5 258.5 161.3 253.5 159.8 233.5 159.7 221.5 161.5 218.5 159.7 214.5 154.2 212.5 152.9 210.5 152.8 207.7 154.5 202.5 161.1 189.5 169.7 181.5 167.7 175.5 167.8 170.5 169.4 165.5 172.7 157.5 173.6 151.2 176.5 145.5 177.8 134.2 177.5 130.6 175.5Z"/></g><path fill="#fff" stroke="#000" stroke-width="1.3" stroke-linejoin="round" d="M-12.1 117.0 -13.6 115.9 -16.0 114.4 -19.3 114.8 -19.1 111.1 -20.6 109.6 -18.8 105.9 -19.3 102.9 -20.1 101.8 -17.3 100.3 -12.3 100.5 -8.2 100.8 -3.9 101.0 -2.6 98.4 -2.4 94.9 -4.8 92.7 -9.8 91.4 -10.4 90.1 -6.5 89.3 -3.5 89.5 -4.1 87.3 -2.2 88.0 0.4 87.8 3.5 86.2 4.1 84.5 6.9 83.6 8.7 82.3 10.2 80.4 11.9 79.3 15.2 78.9 18.6 78.2 18.6 75.8 17.5 74.8 17.8 71.9 23.0 70.0 22.8 71.5 22.1 73.2 21.7 75.8 23.8 77.1 27.1 77.1 30.3 78.0 34.7 77.3 40.1 76.3 43.3 76.7 45.7 74.3 45.5 71.9 48.8 70.0 52.0 71.5 50.9 68.2 53.1 66.3 60.7 66.1 65.4 65.2 62.8 64.6 54.2 64.6 48.8 65.0 46.4 62.8 46.6 58.5 52.0 54.6 55.0 54.2 52.4 52.4 47.7 52.9 45.5 55.2 41.2 58.1 37.9 60.0 37.0 62.8 40.7 65.0 39.0 66.5 36.0 70.4 34.7 73.4 30.8 75.0 27.9 74.5 27.1 72.6 23.8 67.4 22.8 66.1 20.6 67.2 15.2 69.3 12.1 67.4 10.8 64.4 10.8 61.1 13.4 59.6 17.3 57.9 21.7 56.3 26.0 53.5 28.2 50.9 31.4 48.1 34.7 46.6 39.0 44.4 43.3 43.3 49.8 42.0 55.9 41.0 60.7 41.2 67.2 42.7 71.5 44.9 78.0 45.5 86.7 48.1 89.3 50.3 88.8 52.0 82.3 54.6 87.8 55.2 95.3 51.6 96.4 47.0 99.7 47.7 108.3 48.1 114.8 46.6 119.2 47.2 125.7 45.9 131.1 43.8 138.7 44.9 145.2 45.9 144.1 42.2 148.4 37.9 151.7 36.0 154.9 37.9 157.1 41.2 157.1 47.7 160.3 48.8 159.2 41.2 162.5 37.9 169.0 38.4 174.4 35.8 177.7 35.1 188.5 33.6 195.0 31.4 205.8 30.3 216.7 29.2 225.3 26.6 234.0 28.6 242.7 30.8 245.9 35.8 253.5 35.8 260.0 36.8 268.7 35.5 277.3 37.9 281.7 41.2 292.5 39.9 303.3 37.9 316.3 38.4 325.0 40.1 335.8 41.2 346.7 43.3 357.5 44.2 368.3 43.3 379.2 43.8 390.0 45.7 398.7 48.8 407.3 50.9 412.3 52.0 408.4 55.2 405.2 55.7 396.5 54.2 392.2 53.1 383.5 54.8 387.8 59.6 377.0 61.1 368.3 65.0 357.5 65.0 353.2 66.1 351.0 69.3 353.2 71.5 352.1 73.7 346.7 78.0 343.4 81.2 339.5 84.5 338.0 81.2 337.6 75.8 339.7 70.4 343.4 69.3 347.8 61.7 335.8 66.5 329.3 67.2 320.7 66.5 309.8 66.5 304.4 69.3 296.8 76.9 303.3 78.0 306.6 80.2 304.4 84.5 304.0 89.9 300.1 93.2 294.7 98.6 288.2 102.3 283.2 103.3 281.0 106.6 278.4 109.4 280.4 114.8 280.1 118.7 276.2 120.0 273.6 120.2 274.1 117.0 274.3 113.7 271.9 112.7 270.8 109.4 269.3 108.3 264.3 107.2 262.6 110.9 264.8 107.7 262.2 106.4 257.8 109.6 255.0 110.7 257.4 113.7 257.8 114.6 261.7 113.1 265.4 114.0 262.2 115.9 260.6 117.0 258.5 119.8 261.7 124.6 264.1 127.8 264.1 130.0 263.2 133.2 259.3 138.7 255.9 141.9 252.4 144.5 247.4 146.7 242.7 147.8 239.2 151.0 237.7 148.4 234.6 148.2 231.4 150.1 229.2 153.8 230.7 157.1 234.6 161.6 236.6 167.9 235.7 171.2 231.8 172.5 230.7 174.2 227.5 176.4 227.1 172.7 224.2 172.0 222.9 169.0 218.6 167.5 216.7 165.8 214.9 172.2 217.1 176.8 217.5 179.4 219.9 180.0 221.4 181.6 224.0 186.3 225.8 192.0 224.0 192.2 219.7 188.9 217.5 185.7 217.3 182.4 213.4 177.7 213.6 173.3 212.8 167.9 211.5 159.2 208.0 158.6 204.5 160.3 205.4 153.8 201.5 150.6 199.8 148.4 198.5 146.0 196.1 147.3 192.8 147.8 188.5 148.8 188.3 150.6 184.6 153.0 182.0 155.6 178.3 159.0 174.0 161.4 173.8 166.8 172.9 172.7 169.4 175.7 167.9 177.4 165.3 174.4 163.1 169.0 161.2 163.6 158.6 158.2 157.7 153.8 157.3 149.5 156.2 146.9 152.8 149.9 149.5 146.7 151.7 145.4 148.4 144.1 145.2 141.3 138.7 140.2 133.5 140.4 127.4 139.5 124.1 139.1 123.1 136.3 118.7 137.6 113.7 135.2 110.1 132.2 108.5 129.8 105.1 130.0 103.8 130.2 105.1 133.7 107.5 136.5 108.8 139.1 110.9 138.4 111.8 140.4 111.4 142.1 114.8 142.8 118.3 142.1 121.3 139.8 122.0 138.2 122.2 141.0 123.5 143.0 127.0 143.9 129.6 146.2 126.7 150.8 125.0 153.8 121.3 156.2 117.0 158.4 113.1 161.2 106.2 163.6 97.5 167.3 94.2 167.5 92.7 163.1 92.3 159.2 89.9 154.9 87.8 152.1 84.7 148.4 82.3 143.0 79.1 138.7 75.8 134.3 75.8 131.1 74.3 134.3 72.6 133.2 70.6 130.2 72.6 135.4 73.7 137.6 76.9 143.0 78.0 146.2 80.8 152.8 83.4 156.0 85.6 160.8 89.9 165.1 93.6 169.4 95.3 172.2 101.8 170.7 106.2 170.5 110.9 169.4 110.5 172.2 109.4 175.5 106.2 182.0 101.8 187.4 96.4 191.8 91.0 197.2 87.8 200.4 85.1 205.0 84.5 209.1 85.6 212.3 87.8 217.7 88.0 226.4 84.5 231.4 79.9 233.8 75.4 237.9 76.9 242.7 76.9 247.0 71.5 250.2 70.6 251.3 71.1 255.7 67.2 259.8 60.7 265.8 55.5 268.7 47.7 269.1 43.3 270.4 40.1 269.3 39.6 265.4 36.8 257.8 32.9 252.8 31.4 244.6 28.8 238.3 25.6 232.5 26.4 225.3 29.5 221.0 29.0 216.7 28.6 214.1 26.6 208.0 26.0 205.8 25.6 204.8 22.8 201.5 20.1 197.2 20.6 194.1 21.0 189.6 20.8 186.3 18.4 184.8 15.2 185.5 13.0 185.7 10.8 182.9 7.4 181.1 2.6 181.8 -0.4 183.1 -4.3 184.6 -8.7 183.5 -16.2 185.5 -19.5 184.2 -23.4 181.3 -28.6 176.6 -31.4 172.2 -33.6 170.1 -36.2 167.9 -37.9 163.1 -35.8 159.7 -34.7 155.8 -35.8 152.1 -36.8 149.5 -34.7 144.1 -31.4 138.7 -28.2 134.8 -21.7 131.1 -20.8 128.9 -19.9 124.6 -16.2 122.0 -13.6 119.2 -12.8 117.4 -11.5 117.2 -6.5 118.5 -2.2 117.6 1.1 117.0 6.5 115.3 14.1 114.6 21.2 114.2 23.8 114.8 22.8 117.0 24.0 118.7 21.9 120.9 24.9 123.3 28.6 123.7 32.9 125.0 36.8 127.8 41.2 129.3 43.5 126.7 43.3 125.4 47.7 123.7 52.0 125.7 54.6 126.5 64.8 127.4 67.2 126.5 70.0 127.2 74.1 127.2 75.6 123.9 76.9 120.2 77.8 117.4 78.4 115.7 76.9 115.7 75.0 115.3 70.4 116.8 66.3 115.3 61.7 115.5 59.1 114.8 57.4 112.0 57.4 109.4 56.8 108.3 56.3 106.6 52.0 106.8 49.6 107.0 49.0 109.2 49.8 112.0 51.3 112.9 49.4 113.7 48.8 116.1 47.0 115.3 45.9 113.1 45.5 111.6 43.8 109.2 42.0 107.5 42.2 104.4 40.1 102.9 35.8 100.8 32.5 98.6 29.9 97.7 29.7 96.2 26.6 96.6 26.9 99.2 29.5 100.8 30.8 103.1 34.7 105.3 40.1 108.1 37.3 107.2 36.0 110.1 34.9 112.7 33.8 112.7 34.7 110.1 32.5 107.7 31.0 106.6 28.2 105.5 24.9 103.1 22.8 100.8 19.5 98.8 15.8 100.3 13.0 101.6 11.7 101.2 8.7 100.8 6.7 101.8 6.9 104.0 4.8 105.3 1.7 106.2 -0.9 109.4 0.4 110.9 -1.1 112.0 -1.7 113.5 -4.3 115.3 -9.5 115.5 -11.5 116.8ZM767.9 117.0 766.3 115.9 764.0 114.4 760.7 114.8 760.9 111.1 759.4 109.6 761.1 105.9 760.7 102.9 759.8 101.8 762.7 100.3 767.6 100.5 771.8 100.8 776.1 101.0 777.4 98.4 777.6 94.9 775.2 92.7 770.2 91.4 769.6 90.1 773.5 89.3 776.5 89.5 775.9 87.3 777.8 88.0 780.4 87.8 783.5 86.2 784.1 84.5 786.9 83.6 788.7 82.3 790.2 80.4 791.9 79.3 795.2 78.9 798.6 78.2 798.6 75.8 797.5 74.8 797.8 71.9 803.0 70.0 802.8 71.5 802.1 73.2 801.7 75.8 803.8 77.1 807.1 77.1 810.3 78.0 814.7 77.3 820.1 76.3 823.3 76.7 825.7 74.3 825.5 71.9 828.8 70.0 832.0 71.5 830.9 68.2 833.1 66.3 840.7 66.1 845.4 65.2 842.8 64.6 834.2 64.6 828.8 65.0 826.4 62.8 826.6 58.5 832.0 54.6 835.0 54.2 832.4 52.4 827.7 52.9 825.5 55.2 821.2 58.1 817.9 60.0 817.0 62.8 820.7 65.0 819.0 66.5 816.0 70.4 814.7 73.4 810.8 75.0 807.9 74.5 807.1 72.6 803.8 67.4 802.8 66.1 800.6 67.2 795.2 69.3 792.1 67.4 790.8 64.4 790.8 61.1 793.4 59.6 797.3 57.9 801.7 56.3 806.0 53.5 808.2 50.9 811.4 48.1 814.7 46.6 819.0 44.4 823.3 43.3 829.8 42.0 835.9 41.0 840.7 41.2 847.2 42.7 851.5 44.9 858.0 45.5 866.7 48.1 869.3 50.3 868.8 52.0 862.3 54.6 867.7 55.2 875.3 51.6 876.4 47.0 879.7 47.7 888.3 48.1 894.8 46.6 899.2 47.2 905.7 45.9 911.1 43.8 918.7 44.9 925.2 45.9 924.1 42.2 928.4 37.9 931.7 36.0 934.9 37.9 937.1 41.2 937.1 47.7 940.3 48.8 939.2 41.2 942.5 37.9 949.0 38.4 954.4 35.8 957.7 35.1 968.5 33.6 975.0 31.4 985.8 30.3 996.7 29.2 1005.3 26.6 1014.0 28.6 1022.7 30.8 1025.9 35.8 1033.5 35.8 1040.0 36.8 1048.7 35.5 1057.3 37.9 1061.7 41.2 1072.5 39.9 1083.3 37.9 1096.3 38.4 1105.0 40.1 1115.8 41.2 1126.7 43.3 1137.5 44.2 1148.3 43.3 1159.2 43.8 1170.0 45.7 1178.7 48.8 1187.3 50.9 1192.3 52.0 1188.4 55.2 1185.2 55.7 1176.5 54.2 1172.2 53.1 1163.5 54.8 1167.8 59.6 1157.0 61.1 1148.3 65.0 1137.5 65.0 1133.2 66.1 1131.0 69.3 1133.2 71.5 1132.1 73.7 1126.7 78.0 1123.4 81.2 1119.5 84.5 1118.0 81.2 1117.6 75.8 1119.7 70.4 1123.4 69.3 1127.8 61.7 1115.8 66.5 1109.3 67.2 1100.7 66.5 1089.8 66.5 1084.4 69.3 1076.8 76.9 1083.3 78.0 1086.6 80.2 1084.4 84.5 1084.0 89.9 1080.1 93.2 1074.7 98.6 1068.2 102.3 1063.2 103.3 1061.0 106.6 1058.4 109.4 1060.4 114.8 1060.1 118.7 1056.2 120.0 1053.6 120.2 1054.1 117.0 1054.3 113.7 1051.9 112.7 1050.8 109.4 1049.3 108.3 1044.3 107.2 1042.6 110.9 1044.8 107.7 1042.2 106.4 1037.8 109.6 1035.0 110.7 1037.4 113.7 1037.8 114.6 1041.7 113.1 1045.4 114.0 1042.2 115.9 1040.6 117.0 1038.5 119.8 1041.7 124.6 1044.1 127.8 1044.1 130.0 1043.2 133.2 1039.3 138.7 1035.9 141.9 1032.4 144.5 1027.4 146.7 1022.7 147.8 1019.2 151.0 1017.7 148.4 1014.6 148.2 1011.4 150.1 1009.2 153.8 1010.7 157.1 1014.6 161.6 1016.6 167.9 1015.7 171.2 1011.8 172.5 1010.7 174.2 1007.5 176.4 1007.1 172.7 1004.2 172.0 1002.9 169.0 998.6 167.5 996.7 165.8 994.9 172.2 997.1 176.8 997.5 179.4 999.9 180.0 1001.4 181.6 1004.0 186.3 1005.8 192.0 1004.0 192.2 999.7 188.9 997.5 185.7 997.3 182.4 993.4 177.7 993.6 173.3 992.8 167.9 991.5 159.2 988.0 158.6 984.5 160.3 985.4 153.8 981.5 150.6 979.8 148.4 978.5 146.0 976.1 147.3 972.8 147.8 968.5 148.8 968.3 150.6 964.6 153.0 962.0 155.6 958.3 159.0 954.0 161.4 953.8 166.8 952.9 172.7 949.4 175.7 947.9 177.4 945.3 174.4 943.1 169.0 941.2 163.6 938.6 158.2 937.7 153.8 937.3 149.5 936.2 146.9 932.7 149.9 929.5 146.7 931.7 145.4 928.4 144.1 925.2 141.3 918.7 140.2 913.5 140.4 907.4 139.5 904.1 139.1 903.1 136.3 898.7 137.6 893.7 135.2 890.1 132.2 888.5 129.8 885.1 130.0 883.8 130.2 885.1 133.7 887.5 136.5 888.8 139.1 890.9 138.4 891.8 140.4 891.4 142.1 894.8 142.8 898.3 142.1 901.3 139.8 902.0 138.2 902.2 141.0 903.5 143.0 907.0 143.9 909.6 146.2 906.7 150.8 905.0 153.8 901.3 156.2 897.0 158.4 893.1 161.2 886.2 163.6 877.5 167.3 874.2 167.5 872.7 163.1 872.3 159.2 869.9 154.9 867.7 152.1 864.7 148.4 862.3 143.0 859.1 138.7 855.8 134.3 855.8 131.1 854.3 134.3 852.6 133.2 850.6 130.2 852.6 135.4 853.7 137.6 856.9 143.0 858.0 146.2 860.8 152.8 863.4 156.0 865.6 160.8 869.9 165.1 873.6 169.4 875.3 172.2 881.8 170.7 886.2 170.5 890.9 169.4 890.5 172.2 889.4 175.5 886.2 182.0 881.8 187.4 876.4 191.8 871.0 197.2 867.7 200.4 865.1 205.0 864.5 209.1 865.6 212.3 867.7 217.7 868.0 226.4 864.5 231.4 859.9 233.8 855.4 237.9 856.9 242.7 856.9 247.0 851.5 250.2 850.6 251.3 851.1 255.7 847.2 259.8 840.7 265.8 835.5 268.7 827.7 269.1 823.3 270.4 820.1 269.3 819.6 265.4 816.8 257.8 812.9 252.8 811.4 244.6 808.8 238.3 805.6 232.5 806.4 225.3 809.5 221.0 809.0 216.7 808.6 214.1 806.6 208.0 806.0 205.8 805.6 204.8 802.8 201.5 800.1 197.2 800.6 194.1 801.0 189.6 800.8 186.3 798.4 184.8 795.2 185.5 793.0 185.7 790.8 182.9 787.4 181.1 782.6 181.8 779.6 183.1 775.7 184.6 771.3 183.5 763.8 185.5 760.5 184.2 756.6 181.3 751.4 176.6 748.6 172.2 746.4 170.1 743.8 167.9 742.1 163.1 744.2 159.7 745.3 155.8 744.2 152.1 743.2 149.5 745.3 144.1 748.6 138.7 751.8 134.8 758.3 131.1 759.2 128.9 760.1 124.6 763.8 122.0 766.3 119.2 767.2 117.4 768.5 117.2 773.5 118.5 777.8 117.6 781.1 117.0 786.5 115.3 794.1 114.6 801.2 114.2 803.8 114.8 802.8 117.0 804.0 118.7 801.9 120.9 804.9 123.3 808.6 123.7 812.9 125.0 816.8 127.8 821.2 129.3 823.5 126.7 823.3 125.4 827.7 123.7 832.0 125.7 834.6 126.5 844.8 127.4 847.2 126.5 850.0 127.2 854.1 127.2 855.6 123.9 856.9 120.2 857.8 117.4 858.4 115.7 856.9 115.7 855.0 115.3 850.4 116.8 846.3 115.3 841.7 115.5 839.1 114.8 837.4 112.0 837.4 109.4 836.8 108.3 836.3 106.6 832.0 106.8 829.6 107.0 829.0 109.2 829.8 112.0 831.3 112.9 829.4 113.7 828.8 116.1 827.0 115.3 825.9 113.1 825.5 111.6 823.8 109.2 822.0 107.5 822.2 104.4 820.1 102.9 815.8 100.8 812.5 98.6 809.9 97.7 809.7 96.2 806.6 96.6 806.9 99.2 809.5 100.8 810.8 103.1 814.7 105.3 820.1 108.1 817.3 107.2 816.0 110.1 814.9 112.7 813.8 112.7 814.7 110.1 812.5 107.7 811.0 106.6 808.2 105.5 804.9 103.1 802.8 100.8 799.5 98.8 795.8 100.3 793.0 101.6 791.7 101.2 788.7 100.8 786.7 101.8 786.9 104.0 784.8 105.3 781.7 106.2 779.1 109.4 780.4 110.9 778.9 112.0 778.3 113.5 775.7 115.3 770.5 115.5 768.5 116.8ZM440.3 40.5 450.7 41.6 459.3 42.7 474.5 44.0 485.3 45.5 488.6 44.4 498.3 43.3 509.2 44.4 520.0 45.5 530.8 47.7 541.7 47.7 552.5 46.6 567.7 48.1 574.2 47.7 572.0 47.0 575.2 39.4 578.5 40.1 580.7 44.4 587.2 46.6 593.7 48.8 595.8 44.4 602.3 49.8 598.0 52.0 591.5 55.9 582.8 58.5 576.3 62.8 575.2 67.2 579.6 71.5 589.3 73.7 601.2 75.8 602.3 80.6 606.7 83.8 608.8 76.9 613.2 72.6 612.1 68.2 611.0 63.9 612.1 59.6 621.8 60.2 628.3 62.8 629.4 67.2 637.0 68.2 640.2 64.4 645.7 70.4 648.9 74.8 655.4 78.0 659.3 81.7 655.4 83.6 650.0 86.2 641.3 86.0 635.9 86.7 631.6 88.8 627.2 93.2 630.5 91.0 638.1 88.4 640.2 89.3 639.2 91.4 640.2 94.9 642.4 95.8 647.8 96.2 650.0 94.2 650.4 95.3 642.4 98.4 637.4 100.8 637.0 98.6 640.2 96.8 634.8 97.9 631.1 99.2 627.9 100.5 626.6 102.9 628.3 104.4 626.2 105.1 622.9 105.7 619.7 107.0 619.7 109.4 617.5 110.9 616.4 113.7 615.3 115.0 616.4 118.7 613.2 120.2 609.9 121.8 606.9 123.9 604.5 126.7 603.8 130.0 605.4 133.5 606.4 137.6 605.8 140.4 604.3 140.6 602.8 138.4 600.8 135.4 600.6 132.2 598.0 130.0 595.0 130.6 591.5 129.1 589.3 128.5 586.3 129.6 586.3 132.2 583.9 131.7 580.7 130.9 576.3 130.9 574.2 131.7 569.4 134.8 569.0 138.7 568.1 146.2 569.4 150.6 571.8 153.4 575.2 155.6 580.7 154.7 583.9 152.1 584.3 149.5 591.5 148.4 590.4 152.8 588.9 156.0 588.7 160.3 593.7 160.5 599.5 162.5 598.9 169.0 598.6 171.4 601.2 174.4 606.7 174.8 611.4 175.9 614.2 176.6 616.4 172.5 619.7 170.7 624.0 168.1 625.1 171.2 627.9 169.9 628.3 169.0 632.7 172.2 637.0 172.0 641.3 172.0 645.7 172.0 647.8 175.5 648.9 176.6 653.9 180.3 660.4 182.4 666.7 184.4 669.5 187.4 671.7 191.1 671.7 195.0 674.9 197.2 683.6 200.4 690.1 201.3 696.6 203.0 703.7 207.6 704.4 212.3 702.4 216.0 699.8 218.8 696.6 223.2 695.5 227.5 695.1 233.3 693.3 237.9 691.2 242.7 686.4 244.8 682.5 246.6 679.7 247.0 674.9 251.3 674.7 255.7 671.7 260.0 669.5 263.2 666.7 264.8 664.1 268.0 661.0 270.6 658.2 270.6 655.4 269.8 653.2 268.7 655.4 271.9 657.1 273.9 655.4 277.3 652.2 278.8 645.7 279.3 645.2 282.8 639.2 283.8 641.3 287.1 639.2 288.2 638.1 292.5 633.8 294.7 637.0 298.6 633.1 302.2 630.5 305.5 631.8 308.5 631.6 310.9 634.8 313.7 631.6 314.2 626.2 313.1 619.7 308.8 617.5 303.3 616.4 299.0 619.7 295.8 619.7 290.3 620.8 286.0 620.8 281.7 620.8 275.2 624.0 268.7 624.9 266.5 625.1 260.0 626.2 253.5 627.2 247.0 627.9 238.8 627.7 235.1 625.1 232.5 619.7 229.0 614.9 224.9 612.9 221.0 608.8 212.3 604.1 205.8 603.8 204.8 606.7 201.5 606.7 199.8 604.7 197.2 606.7 192.8 609.3 191.1 612.1 186.8 612.3 180.9 611.0 178.8 607.8 175.7 605.6 177.7 602.3 177.0 598.4 176.4 594.3 173.3 593.9 170.7 590.4 167.0 587.2 165.8 581.8 164.7 578.5 161.2 575.2 159.9 570.9 161.0 565.9 159.2 560.1 157.1 554.7 153.8 551.4 150.6 551.8 147.8 549.5 144.7 546.0 140.8 542.8 137.6 539.5 134.3 536.2 131.1 533.0 127.8 531.5 126.3 535.2 132.2 537.3 136.5 540.6 141.9 541.0 142.8 542.8 145.2 540.6 144.1 537.3 141.3 536.2 137.6 531.9 134.8 529.8 131.1 527.4 126.1 526.1 124.1 523.5 121.8 518.7 120.0 515.9 115.7 514.6 113.1 511.8 109.4 510.7 107.5 510.9 104.0 511.3 98.6 511.3 94.9 509.8 90.1 513.5 89.9 513.1 88.4 509.2 85.6 503.7 82.3 498.3 76.9 494.0 73.7 487.5 69.3 482.1 67.8 476.7 65.4 468.0 65.0 461.5 63.9 456.1 66.1 451.7 66.7 452.8 62.8 448.5 67.2 445.2 70.4 439.8 72.6 433.3 74.8 426.8 76.3 423.6 76.9 431.2 73.7 437.7 70.4 439.8 67.8 433.3 67.6 429.0 65.4 423.1 63.9 421.4 60.7 423.6 57.4 431.2 55.5 431.2 54.6 420.3 55.0 416.0 52.9 423.6 50.9 429.6 51.6 424.7 48.8 419.2 47.0 426.8 44.4 433.3 42.0ZM-12.3 86.7 -9.1 85.8 -2.2 85.1 3.0 84.1 3.7 81.0 0.6 80.2 -0.4 78.0 -2.6 76.7 -3.5 74.5 -5.4 73.7 -4.3 71.3 -7.6 70.0 -6.5 68.0 -10.8 68.0 -12.6 70.4 -12.1 72.6 -11.9 74.8 -10.4 76.3 -7.1 76.0 -6.5 78.4 -9.8 79.5 -9.1 81.2 -11.3 82.8 -7.1 83.6 -9.8 84.3ZM767.6 86.7 770.9 85.8 777.8 85.1 783.0 84.1 783.7 81.0 780.6 80.2 779.6 78.0 777.4 76.7 776.5 74.5 774.6 73.7 775.7 71.3 772.4 70.0 773.5 68.0 769.2 68.0 767.4 70.4 767.9 72.6 768.1 74.8 769.6 76.3 772.8 76.0 773.5 78.4 770.2 79.5 770.9 81.2 768.7 82.8 772.8 83.6 770.2 84.3ZM767.0 82.3 766.6 79.5 767.9 76.7 766.6 75.4 763.8 75.2 761.6 76.9 758.3 77.6 757.9 79.3 759.4 81.0 757.7 82.5 759.4 83.4 762.7 82.8 766.1 81.9ZM732.3 56.3 728.0 53.1 732.3 51.1 745.3 50.9 748.6 53.1 749.7 55.2 739.9 57.6ZM23.8 24.9 30.3 22.1 36.8 21.7 47.7 21.0 58.5 21.2 58.5 24.3 49.8 27.1 41.2 27.7 32.5 28.2 28.2 26.4ZM112.7 40.1 123.5 41.8 121.3 37.9 130.0 33.6 143.0 30.8 149.5 28.6 134.3 29.2 121.3 33.6 114.8 36.8ZM173.3 20.6 195.0 19.5 216.7 22.8 208.0 24.9 195.0 22.8ZM296.8 31.4 307.7 30.3 325.0 31.9 316.3 33.6 303.3 33.6ZM386.8 40.7 394.3 40.1 391.1 41.6ZM621.8 24.9 632.7 30.3 645.7 30.3 654.3 31.4 658.7 34.7 661.9 41.2 667.3 44.4 664.1 49.8 667.3 54.2 671.7 60.7 676.0 63.3 684.7 65.4 686.8 63.9 691.2 58.5 697.7 53.1 710.7 47.7 725.8 44.4 732.3 41.2 733.4 36.8 738.8 32.5 741.0 27.1 738.8 21.7 754.0 18.4 736.7 16.2 715.0 14.1 682.5 16.2 654.3 17.3 643.5 18.4 628.3 23.8ZM606.7 35.3 615.3 37.5 626.2 41.2 634.8 44.4 634.8 47.7 645.7 50.3 642.4 51.4 645.9 52.0 640.2 54.2 638.1 58.5 632.7 59.6 626.2 56.8 619.7 55.2 611.0 55.2 617.5 53.5 621.8 50.9 619.7 47.7 612.1 46.6 611.0 43.3 602.3 44.4 595.8 42.2 589.3 41.6 585.0 39.6 593.7 35.3 602.3 35.1ZM585.0 28.2 611.0 29.7 617.5 24.9 632.7 20.6 645.7 17.3 628.3 15.2 595.8 17.3 578.5 19.5 589.3 23.8 585.0 26.0ZM578.5 29.2 602.3 29.2 606.7 32.5 580.7 33.4ZM522.2 40.1 525.4 36.8 539.5 36.8 550.3 36.4 553.6 40.1 561.2 43.3 554.7 45.9 541.7 46.6 530.8 44.9 523.2 42.2ZM508.1 39.2 518.9 33.8 529.8 35.8 526.5 37.9 520.0 40.5 513.5 41.2ZM526.5 30.3 541.7 29.2 551.4 31.4 541.7 33.4 529.8 33.6ZM573.1 34.7 583.9 34.7 582.8 39.0 575.2 38.4ZM572.0 20.6 589.3 19.1 593.7 22.8 578.5 24.9ZM592.6 55.2 604.5 55.2 605.6 57.4 598.0 59.6 591.5 57.2ZM559.0 35.8 569.8 35.1 570.9 40.1 565.5 41.2 560.1 39.0ZM565.5 44.4 574.2 44.4 573.1 47.2 566.6 46.6ZM561.2 29.2 569.8 29.2 567.7 32.5 561.2 31.9ZM572.0 31.4 577.4 31.4 577.4 33.4 572.0 33.4ZM554.7 24.9 563.3 24.3 567.7 26.4 559.0 27.1ZM515.7 29.2 528.7 27.5 530.8 30.3 520.0 30.8ZM600.2 58.7 603.4 59.4 601.2 60.4 598.9 60.0ZM410.6 80.4 416.0 79.1 419.2 78.0 414.9 79.7ZM396.5 82.5 403.0 81.9 407.3 81.7 400.8 82.8ZM384.6 82.5 388.9 83.2 393.2 82.5 387.8 81.9ZM373.8 80.2 376.3 80.4 375.5 81.2ZM445.2 69.8 450.0 69.3 449.6 70.8 446.3 71.9ZM502.0 84.9 508.1 86.0 512.6 90.1 509.2 89.0 503.1 86.4ZM491.8 77.8 494.6 78.0 495.7 81.9 493.6 80.6ZM115.5 167.7 118.1 167.9 117.4 168.3 115.9 168.3ZM200.6 165.8 201.5 166.8 200.8 170.1 200.2 167.9ZM97.5 20.6 112.7 18.4 130.0 18.4 134.3 20.6 119.2 21.7ZM199.3 22.8 208.0 19.5 221.0 22.8 212.3 24.9ZM651.5 91.9 658.7 87.8 659.8 83.2 664.1 87.8 665.8 92.1 664.1 93.8 659.8 93.2ZM595.8 147.5 598.0 145.8 602.3 144.7 606.7 145.2 612.1 147.8 616.4 149.5 619.2 151.2 617.5 151.9 611.6 151.9 612.1 150.1 608.8 148.2 604.5 147.3 602.3 146.9 599.1 147.3ZM618.8 155.1 622.3 151.9 628.3 152.3 631.8 154.7 628.5 155.1 625.1 156.6 622.9 155.6ZM610.3 155.1 614.7 155.6 613.6 156.2 610.3 155.6ZM634.4 154.9 637.9 155.1 637.9 156.0 634.4 156.0ZM247.0 242.2 251.3 240.1 256.8 239.0 262.2 237.2 265.0 234.0 267.6 230.7 270.8 227.5 276.2 225.3 278.4 227.5 280.6 227.1 281.7 223.2 283.4 221.9 286.0 219.5 289.2 220.6 293.6 221.0 296.4 221.4 294.7 224.2 293.6 227.5 297.9 230.1 302.2 232.9 305.1 232.9 306.6 227.5 306.8 222.1 308.8 218.2 310.9 222.1 311.6 225.8 314.8 227.5 315.9 231.8 317.0 236.2 322.4 239.0 326.1 243.7 328.2 247.0 331.5 250.2 332.6 256.1 331.5 262.2 327.6 268.4 325.0 274.1 324.8 276.2 319.6 277.3 317.0 279.7 313.1 277.8 309.8 279.1 304.4 277.3 302.2 275.2 301.2 271.9 299.0 272.1 300.1 269.8 298.6 266.5 296.8 269.8 294.7 270.4 292.9 267.6 290.3 265.4 283.8 263.2 277.3 264.3 268.7 266.5 262.2 268.2 255.7 270.8 249.2 269.3 250.2 266.5 250.7 264.3 249.2 258.9 247.2 254.6 245.9 250.2 246.6 247.0 245.9 242.7ZM313.3 283.2 321.3 283.6 320.7 288.2 318.1 289.5 314.6 286.4ZM374.2 269.5 378.1 272.6 380.9 275.2 386.8 276.7 383.5 279.9 382.4 282.8 379.6 285.1 378.3 284.3 376.6 280.1 378.1 276.2 374.8 271.3ZM374.2 282.8 377.6 285.3 374.8 288.8 371.1 291.0 369.8 294.4 366.2 296.0 360.8 294.7 361.8 291.4 365.1 289.9 369.4 287.1 371.6 284.9ZM283.8 198.2 284.5 196.7 288.2 196.5 292.5 202.1 297.9 198.2 305.5 200.6 313.1 203.2 316.3 206.9 319.6 208.0 320.7 212.3 326.1 217.7 322.8 217.3 318.5 214.5 314.2 211.9 310.9 214.5 305.5 214.7 300.1 213.2 298.6 210.2 300.1 209.1 294.7 204.8 290.3 203.4 287.1 200.4ZM236.2 191.8 237.5 190.7 240.5 191.5 244.8 188.1 249.8 184.2 251.3 182.0 253.5 179.8 256.8 183.1 258.5 184.2 255.2 185.9 255.7 189.6 257.8 192.8 254.6 195.0 253.1 199.3 251.8 203.7 248.1 203.2 244.8 201.9 240.5 201.5 238.3 198.9 236.2 196.1ZM206.5 182.9 211.2 183.7 216.7 189.6 224.2 196.1 226.4 198.2 229.7 201.5 229.2 207.6 226.4 207.8 221.6 203.7 217.7 197.2 213.8 191.3 210.2 187.4ZM227.9 209.7 230.7 208.0 235.1 209.1 239.4 209.9 244.2 209.9 247.9 211.7 248.3 213.8 242.7 213.0 238.3 212.5 234.0 211.9 230.7 211.0ZM249.2 212.8 257.8 212.8 266.5 213.0 266.5 214.1 257.8 214.3 249.2 214.1ZM267.6 217.3 270.8 214.5 275.8 213.2 270.8 215.8ZM258.9 206.9 258.9 201.5 257.4 200.6 259.6 195.0 260.0 192.8 270.6 191.8 262.2 193.9 260.6 197.2 267.1 196.9 263.2 198.9 266.5 204.8 262.2 204.8 261.1 201.1 260.6 207.1ZM276.2 190.7 278.4 192.8 277.3 196.1 276.2 193.9ZM277.3 201.5 283.4 201.9 282.8 203.2 277.3 202.6ZM261.3 154.9 265.0 154.9 264.3 159.2 263.5 164.2 268.7 166.8 267.6 167.9 261.3 165.1 260.0 160.3ZM264.3 179.8 267.6 176.6 271.9 174.0 274.1 179.8 271.9 182.6 268.7 180.9ZM264.3 169.4 268.7 167.9 271.9 171.2 269.8 173.3 266.5 175.1 265.0 172.2ZM253.9 176.8 259.1 171.6 258.5 170.7 253.5 175.9ZM262.2 140.4 264.1 140.8 263.2 145.2 261.7 147.5 260.2 145.2ZM235.3 153.4 239.4 151.4 240.5 152.5 238.3 155.3 235.5 154.9ZM283.6 121.3 287.1 118.1 293.6 117.9 296.4 114.2 300.7 113.1 303.3 108.8 303.3 105.5 306.6 105.5 307.2 110.5 305.5 112.2 305.5 115.9 305.1 117.6 302.9 119.4 300.5 120.0 296.8 120.0 294.2 122.4 292.9 120.7 288.2 120.5ZM281.0 122.8 283.8 121.5 285.8 123.5 284.5 127.2 282.1 127.4 281.2 124.1ZM287.1 123.5 291.4 120.9 292.1 121.8 288.2 123.9ZM303.3 105.1 305.9 104.4 307.0 102.7 310.3 104.0 315.2 101.2 313.1 99.7 307.4 96.4 306.6 100.8 304.0 101.4 303.3 104.0ZM307.7 95.3 310.9 94.2 309.4 88.8 310.3 83.4 309.8 79.1 309.2 77.3 308.3 81.2 307.2 86.7 307.7 91.0ZM172.9 180.9 173.1 176.6 173.8 173.8 175.5 176.6 177.4 179.4 175.9 181.6 173.8 182.0ZM106.8 221.0 109.4 228.6 107.2 232.9 104.0 242.7 101.8 249.2 97.5 250.2 94.7 245.9 93.8 241.6 96.0 238.3 95.3 231.8 98.6 229.7 102.9 226.4 105.1 223.2ZM26.9 112.7 33.8 112.2 32.7 115.5 26.9 113.5ZM17.8 106.2 21.2 106.2 20.8 110.5 18.2 110.5ZM18.6 101.8 20.6 102.3 19.9 105.3 18.6 104.2ZM50.9 117.9 57.0 118.5 52.0 119.2ZM70.0 119.2 74.8 117.9 73.2 120.0 70.2 119.8ZM355.3 238.8 361.8 243.7 360.8 243.1 356.0 240.1ZM360.8 227.5 362.5 228.6 364.0 232.9 362.9 230.7ZM339.1 209.7 344.5 212.3 348.8 215.6 351.0 217.7 347.8 214.5 341.2 211.2ZM321.8 206.5 328.2 204.3 330.0 204.3 327.2 206.9 325.0 208.0ZM384.1 232.9 386.8 232.5 387.0 234.4 384.1 234.4ZM442.0 151.2 444.6 152.8 442.4 154.0 442.0 152.3ZM433.8 146.9 434.8 146.9 434.8 147.5 433.8 147.5ZM581.8 194.6 583.9 193.9 586.5 196.7 583.9 197.6 582.0 196.7ZM647.4 306.1 654.3 306.1 654.8 307.4 651.1 308.3 647.4 307.4ZM697.7 312.0 702.0 312.4 700.9 313.5ZM149.1 300.7 152.8 301.2 151.2 302.7 149.1 302.2ZM631.4 309.0 635.9 313.7 631.6 314.8 627.2 313.9 625.1 312.4ZM-780.0 349.7 -731.5 347.3 -707.2 343.6 -695.1 345.8 -670.8 339.7 -658.7 338.9 -629.8 341.9 -628.3 347.3 -616.2 344.9 -598.0 340.6 -561.6 338.2 -537.3 338.2 -500.9 338.9 -476.7 340.6 -446.3 345.8 -427.9 348.0 -411.2 350.3 -426.4 357.9 -434.0 367.0 -416.0 373.1 -390.0 376.1 -353.6 379.2 -317.2 379.2 -317.2 370.1 -332.4 365.5 -341.5 362.5 -323.3 359.4 -283.8 357.9 -268.7 354.0 -219.9 351.9 -171.6 353.4 -159.2 348.8 -147.3 341.2 -128.9 332.1 -135.0 342.3 -132.2 353.4 -147.3 361.0 -117.0 362.5 -86.7 365.5 -56.3 356.4 -26.0 350.3 0.0 349.7 0.0 390.0 -780.0 390.0ZM0.0 349.7 48.5 347.3 72.8 343.6 84.9 345.8 109.2 339.7 121.3 338.9 150.1 341.9 151.7 347.3 163.8 344.9 182.0 340.6 218.4 338.2 242.7 338.2 279.1 338.9 303.3 340.6 333.7 345.8 352.1 348.0 368.8 350.3 353.6 357.9 346.0 367.0 364.0 373.1 390.0 376.1 426.4 379.2 462.8 379.2 462.8 370.1 447.6 365.5 438.5 362.5 456.7 359.4 496.2 357.9 511.3 354.0 560.1 351.9 608.4 353.4 620.8 348.8 632.7 341.2 651.1 332.1 645.0 342.3 647.8 353.4 632.7 361.0 663.0 362.5 693.3 365.5 723.7 356.4 754.0 350.3 780.0 349.7 780.0 390.0 0.0 390.0ZM780.0 349.7 828.5 347.3 852.8 343.6 864.9 345.8 889.2 339.7 901.3 338.9 930.1 341.9 931.7 347.3 943.8 344.9 962.0 340.6 998.4 338.2 1022.7 338.2 1059.1 338.9 1083.3 340.6 1113.7 345.8 1132.1 348.0 1148.8 350.3 1133.6 357.9 1126.0 367.0 1144.0 373.1 1170.0 376.1 1206.4 379.2 1242.8 379.2 1242.8 370.1 1227.6 365.5 1218.5 362.5 1236.7 359.4 1276.2 357.9 1291.3 354.0 1340.1 351.9 1388.4 353.4 1400.8 348.8 1412.7 341.2 1431.1 332.1 1425.0 342.3 1427.8 353.4 1412.7 361.0 1443.0 362.5 1473.3 365.5 1503.7 356.4 1534.0 350.3 1560.0 349.7 1560.0 390.0 780.0 390.0ZM60.7 105.7 62.8 105.7 68.2 105.5 71.5 104.0 76.3 104.0 79.1 105.5 82.3 106.2 86.7 106.2 90.1 104.9 90.1 102.9 86.7 101.0 82.3 98.6 79.3 96.8 76.9 97.5 72.6 98.6 70.4 96.8 72.8 95.3 67.2 94.0 64.1 97.1 62.0 99.7 60.4 102.5 60.7 104.9ZM101.8 98.6 102.9 101.8 105.1 104.4 108.1 107.5 106.2 110.5 105.9 111.8 107.2 113.7 110.5 115.3 117.0 115.3 116.8 111.6 114.8 108.3 114.4 105.1 111.6 104.0 110.5 98.6 114.8 97.1 115.9 94.2 112.4 92.9 106.2 94.0 102.9 96.2ZM126.3 96.4 128.9 94.7 132.6 94.2 132.2 97.5 129.6 99.7 126.7 98.6ZM160.3 97.5 162.5 94.2 166.8 94.5 171.2 94.0 169.0 95.3 164.7 95.8 161.4 97.9ZM225.3 83.2 229.7 81.2 234.0 79.1 237.2 74.3 236.2 75.8 231.8 80.2 227.5 83.2ZM580.7 93.8 589.3 89.9 595.8 91.2 596.9 94.2 591.5 94.2ZM589.8 104.0 593.0 102.9 594.8 96.4 591.5 95.8 589.3 98.6ZM596.9 95.8 603.4 96.4 605.6 98.6 601.5 101.8 599.1 99.7ZM599.1 104.6 608.8 102.3 609.0 102.9 602.3 105.1ZM607.1 101.2 614.7 99.2 614.9 100.8 608.8 101.4ZM565.5 84.5 568.8 79.1 570.9 81.2 569.8 85.6ZM526.5 62.8 537.3 59.6 540.6 60.0 530.8 62.4ZM511.3 53.1 520.0 49.8 523.2 52.0 517.8 54.2ZM69.3 196.1 73.7 194.3 74.8 197.2 72.6 200.4 69.3 199.3ZM63.3 202.6 65.0 203.2 67.2 210.2 66.1 213.4 64.6 210.2ZM73.7 215.6 75.4 218.8 76.3 226.0 74.8 224.2 74.1 219.9ZM29.2 166.8 31.4 165.8 32.1 167.3 30.3 168.1ZM65.0 65.0 68.2 61.7 71.5 62.8 69.3 64.6ZM628.3 228.6 630.5 228.1 631.4 230.3 629.4 230.1Z"/></g><rect x="0" y="0.3" width="779.5" height="389.5" fill="none" stroke="#111" stroke-width="1.5"/></g><text x="225.4" y="36.6" textLength="488.6" lengthAdjust="spacingAndGlyphs" style="font-family:'Liberation Sans',Arial,sans-serif;font-size:27.5px" fill="#000">CESM2B2_NCAR_FC55CLUBB (yrs 2-5)</text><text x="982.5" y="68.3" textLength="80.1" lengthAdjust="spacingAndGlyphs" style="font-family:'Liberation Sans',Arial,sans-serif;font-weight:700;font-size:52.0px" fill="#000">JJA</text><text x="78.6" y="76.2" textLength="199.4" lengthAdjust="spacingAndGlyphs" style="font-family:'DejaVu Sans',sans-serif;font-weight:200;stroke:#000;stroke-width:0.45px;font-size:23.0px" fill="#000">Precipitation rate</text><text x="384.8" y="81.0" textLength="79.2" lengthAdjust="spacingAndGlyphs" style="font-family:'DejaVu Sans',sans-serif;font-weight:200;stroke:#000;stroke-width:0.45px;font-size:23.0px" fill="#000">mean=</text><text x="503.5" y="81.0" textLength="49.5" lengthAdjust="spacingAndGlyphs" style="font-family:'DejaVu Sans',sans-serif;font-weight:200;stroke:#000;stroke-width:0.45px;font-size:23.0px" fill="#000">3.14</text><text x="761.0" y="76.5" textLength="98.5" lengthAdjust="spacingAndGlyphs" style="font-family:'DejaVu Sans',sans-serif;font-weight:200;stroke:#000;stroke-width:0.45px;font-size:23.0px" fill="#000">mm/day</text><text x="78.6" y="570.2" textLength="199.4" lengthAdjust="spacingAndGlyphs" style="font-family:'DejaVu Sans',sans-serif;font-weight:200;stroke:#000;stroke-width:0.45px;font-size:23.0px" fill="#000">Precipitation rate</text><text x="384.8" y="575.0" textLength="79.2" lengthAdjust="spacingAndGlyphs" style="font-family:'DejaVu Sans',sans-serif;font-weight:200;stroke:#000;stroke-width:0.45px;font-size:23.0px" fill="#000">mean=</text><text x="503.5" y="575.0" textLength="49.5" lengthAdjust="spacingAndGlyphs" style="font-family:'DejaVu Sans',sans-serif;font-weight:200;stroke:#000;stroke-width:0.45px;font-size:23.0px" fill="#000">2.48</text><text x="761.0" y="570.5" textLength="98.5" lengthAdjust="spacingAndGlyphs" style="font-family:'DejaVu Sans',sans-serif;font-weight:200;stroke:#000;stroke-width:0.45px;font-size:23.0px" fill="#000">mm/day</text><text x="434.2" y="531.9" textLength="71.2" lengthAdjust="spacingAndGlyphs" style="font-family:'Liberation Sans',Arial,sans-serif;font-size:27.5px" fill="#000">SSM/I</text><text x="230.6" y="1024.6" textLength="478.9" lengthAdjust="spacingAndGlyphs" style="font-family:'Liberation Sans',Arial,sans-serif;font-size:27.5px" fill="#000">CESM2B2_NCAR_FC55CLUBB - SSM/I</text><text x="78.6" y="1069.2" textLength="60.7" lengthAdjust="spacingAndGlyphs" style="font-family:'DejaVu Sans',sans-serif;font-weight:200;stroke:#000;stroke-width:0.45px;font-size:23.0px" fill="#000">mean</text><text x="154.8" y="1069.2" textLength="15.2" lengthAdjust="spacingAndGlyphs" style="font-family:'DejaVu Sans',sans-serif;font-weight:200;stroke:#000;stroke-width:0.45px;font-size:23.0px" fill="#000">=</text><text x="208.9" y="1069.2" textLength="49.8" lengthAdjust="spacingAndGlyphs" style="font-family:'DejaVu Sans',sans-serif;font-weight:200;stroke:#000;stroke-width:0.45px;font-size:23.0px" fill="#000">0.66</text><text x="382.5" y="1069.2" textLength="55.2" lengthAdjust="spacingAndGlyphs" style="font-family:'DejaVu Sans',sans-serif;font-weight:200;stroke:#000;stroke-width:0.45px;font-size:23.0px" fill="#000">rmse</text><text x="453.3" y="1069.2" textLength="15.5" lengthAdjust="spacingAndGlyphs" style="font-family:'DejaVu Sans',sans-serif;font-weight:200;stroke:#000;stroke-width:0.45px;font-size:23.0px" fill="#000">=</text><text x="506.6" y="1069.2" textLength="49.8" lengthAdjust="spacingAndGlyphs" style="font-family:'DejaVu Sans',sans-serif;font-weight:200;stroke:#000;stroke-width:0.45px;font-size:23.0px" fill="#000">2.55</text><text x="761.0" y="1064.5" textLength="98.5" lengthAdjust="spacingAndGlyphs" style="font-family:'DejaVu Sans',sans-serif;font-weight:200;stroke:#000;stroke-width:0.45px;font-size:23.0px" fill="#000">mm/day</text><text x="889.0" y="144.7" textLength="31.6" lengthAdjust="spacingAndGlyphs" style="font-family:'DejaVu Sans',sans-serif;font-weight:200;stroke:#000;stroke-width:0.45px;font-size:20.0px" fill="#000">Min</text><text x="934.5" y="144.7" textLength="13.2" lengthAdjust="spacingAndGlyphs" style="font-family:'DejaVu Sans',sans-serif;font-weight:200;stroke:#000;stroke-width:0.45px;font-size:20.0px" fill="#000">=</text><text x="982.5" y="144.7" textLength="45.5" lengthAdjust="spacingAndGlyphs" style="font-family:'DejaVu Sans',sans-serif;font-weight:200;stroke:#000;stroke-width:0.45px;font-size:20.0px" fill="#000">0.00</text><text x="1040.5" y="144.7" textLength="38.0" lengthAdjust="spacingAndGlyphs" style="font-family:'DejaVu Sans',sans-serif;font-weight:200;stroke:#000;stroke-width:0.45px;font-size:20.0px" fill="#000">Max</text><text x="1091.8" y="144.7" textLength="13.9" lengthAdjust="spacingAndGlyphs" style="font-family:'DejaVu Sans',sans-serif;font-weight:200;stroke:#000;stroke-width:0.45px;font-size:20.0px" fill="#000">=</text><text x="1130.0" y="144.7" textLength="58.0" lengthAdjust="spacingAndGlyphs" style="font-family:'DejaVu Sans',sans-serif;font-weight:200;stroke:#000;stroke-width:0.45px;font-size:20.0px" fill="#000">26.12</text><text x="888.5" y="638.7" textLength="31.9" lengthAdjust="spacingAndGlyphs" style="font-family:'DejaVu Sans',sans-serif;font-weight:200;stroke:#000;stroke-width:0.45px;font-size:20.0px" fill="#000">Min</text><text x="934.0" y="638.7" textLength="14.0" lengthAdjust="spacingAndGlyphs" style="font-family:'DejaVu Sans',sans-serif;font-weight:200;stroke:#000;stroke-width:0.45px;font-size:20.0px" fill="#000">=</text><text x="982.2" y="638.7" textLength="45.3" lengthAdjust="spacingAndGlyphs" style="font-family:'DejaVu Sans',sans-serif;font-weight:200;stroke:#000;stroke-width:0.45px;font-size:20.0px" fill="#000">0.00</text><text x="1040.3" y="638.7" textLength="38.1" lengthAdjust="spacingAndGlyphs" style="font-family:'DejaVu Sans',sans-serif;font-weight:200;stroke:#000;stroke-width:0.45px;font-size:20.0px" fill="#000">Max</text><text x="1091.2" y="638.7" textLength="14.4" lengthAdjust="spacingAndGlyphs" style="font-family:'DejaVu Sans',sans-serif;font-weight:200;stroke:#000;stroke-width:0.45px;font-size:20.0px" fill="#000">=</text><text x="1129.3" y="638.7" textLength="58.9" lengthAdjust="spacingAndGlyphs" style="font-family:'DejaVu Sans',sans-serif;font-weight:200;stroke:#000;stroke-width:0.45px;font-size:20.0px" fill="#000">26.03</text><text x="888.5" y="1132.7" textLength="31.9" lengthAdjust="spacingAndGlyphs" style="font-family:'DejaVu Sans',sans-serif;font-weight:200;stroke:#000;stroke-width:0.45px;font-size:20.0px" fill="#000">Min</text><text x="934.0" y="1132.7" textLength="13.6" lengthAdjust="spacingAndGlyphs" style="font-family:'DejaVu Sans',sans-serif;font-weight:200;stroke:#000;stroke-width:0.45px;font-size:20.0px" fill="#000">=</text><text x="961.3" y="1132.7" textLength="75.4" lengthAdjust="spacingAndGlyphs" style="font-family:'DejaVu Sans',sans-serif;font-weight:200;stroke:#000;stroke-width:0.45px;font-size:20.0px" fill="#000">−13.30</text><text x="1049.2" y="1132.7" textLength="38.8" lengthAdjust="spacingAndGlyphs" style="font-family:'DejaVu Sans',sans-serif;font-weight:200;stroke:#000;stroke-width:0.45px;font-size:20.0px" fill="#000">Max</text><text x="1100.2" y="1132.7" textLength="14.4" lengthAdjust="spacingAndGlyphs" style="font-family:'DejaVu Sans',sans-serif;font-weight:200;stroke:#000;stroke-width:0.45px;font-size:20.0px" fill="#000">=</text><text x="1138.3" y="1132.7" textLength="58.6" lengthAdjust="spacingAndGlyphs" style="font-family:'DejaVu Sans',sans-serif;font-weight:200;stroke:#000;stroke-width:0.45px;font-size:20.0px" fill="#000">22.10</text><rect x="997.0" y="175.10" width="44.3" height="19.23" fill="#8c0000"/><rect x="997.0" y="194.32" width="44.3" height="19.23" fill="#b82200"/><rect x="997.0" y="213.55" width="44.3" height="19.23" fill="#e03500"/><rect x="997.0" y="232.78" width="44.3" height="19.23" fill="#ff5219"/><rect x="997.0" y="252.00" width="44.3" height="19.23" fill="#ff7a45"/><rect x="997.0" y="271.23" width="44.3" height="19.23" fill="#ffa880"/><rect x="997.0" y="290.45" width="44.3" height="19.23" fill="#ffcbb0"/><rect x="997.0" y="309.68" width="44.3" height="19.23" fill="#ffecd9"/><rect x="997.0" y="328.90" width="44.3" height="19.23" fill="#d9ecff"/><rect x="997.0" y="348.12" width="44.3" height="19.23" fill="#b0cbff"/><rect x="997.0" y="367.35" width="44.3" height="19.23" fill="#80a8ff"/><rect x="997.0" y="386.58" width="44.3" height="19.23" fill="#457aff"/><rect x="997.0" y="405.80" width="44.3" height="19.23" fill="#1952ff"/><rect x="997.0" y="425.02" width="44.3" height="19.23" fill="#0035e0"/><rect x="997.0" y="444.25" width="44.3" height="19.23" fill="#0022b8"/><rect x="997.0" y="463.48" width="44.3" height="19.23" fill="#00008c"/><line x1="997.0" x2="1041.3" y1="194.32" y2="194.32" stroke="#000" stroke-width="1.5"/><line x1="997.0" x2="1041.3" y1="213.55" y2="213.55" stroke="#000" stroke-width="1.5"/><line x1="997.0" x2="1041.3" y1="232.78" y2="232.78" stroke="#000" stroke-width="1.5"/><line x1="997.0" x2="1041.3" y1="252.00" y2="252.00" stroke="#000" stroke-width="1.5"/><line x1="997.0" x2="1041.3" y1="271.23" y2="271.23" stroke="#000" stroke-width="1.5"/><line x1="997.0" x2="1041.3" y1="290.45" y2="290.45" stroke="#000" stroke-width="1.5"/><line x1="997.0" x2="1041.3" y1="309.68" y2="309.68" stroke="#000" stroke-width="1.5"/><line x1="997.0" x2="1041.3" y1="328.90" y2="328.90" stroke="#000" stroke-width="1.5"/><line x1="997.0" x2="1041.3" y1="348.12" y2="348.12" stroke="#000" stroke-width="1.5"/><line x1="997.0" x2="1041.3" y1="367.35" y2="367.35" stroke="#000" stroke-width="1.5"/><line x1="997.0" x2="1041.3" y1="386.58" y2="386.58" stroke="#000" stroke-width="1.5"/><line x1="997.0" x2="1041.3" y1="405.80" y2="405.80" stroke="#000" stroke-width="1.5"/><line x1="997.0" x2="1041.3" y1="425.02" y2="425.02" stroke="#000" stroke-width="1.5"/><line x1="997.0" x2="1041.3" y1="444.25" y2="444.25" stroke="#000" stroke-width="1.5"/><line x1="997.0" x2="1041.3" y1="463.48" y2="463.48" stroke="#000" stroke-width="1.5"/><rect x="997.0" y="175.10" width="44.3" height="307.60" fill="none" stroke="#000" stroke-width="1.4"/><text x="1067.5" y="200.7" text-anchor="middle" style="font-family:'DejaVu Sans',sans-serif;font-weight:200;stroke:#000;stroke-width:0.45px;font-size:18.0px">17</text><text x="1067.5" y="220.0" text-anchor="middle" style="font-family:'DejaVu Sans',sans-serif;font-weight:200;stroke:#000;stroke-width:0.45px;font-size:18.0px">14</text><text x="1067.5" y="239.2" text-anchor="middle" style="font-family:'DejaVu Sans',sans-serif;font-weight:200;stroke:#000;stroke-width:0.45px;font-size:18.0px">12</text><text x="1067.5" y="258.4" text-anchor="middle" style="font-family:'DejaVu Sans',sans-serif;font-weight:200;stroke:#000;stroke-width:0.45px;font-size:18.0px">10</text><text x="1067.5" y="277.6" text-anchor="middle" style="font-family:'DejaVu Sans',sans-serif;font-weight:200;stroke:#000;stroke-width:0.45px;font-size:18.0px">9</text><text x="1067.5" y="296.8" text-anchor="middle" style="font-family:'DejaVu Sans',sans-serif;font-weight:200;stroke:#000;stroke-width:0.45px;font-size:18.0px">8</text><text x="1067.5" y="316.1" text-anchor="middle" style="font-family:'DejaVu Sans',sans-serif;font-weight:200;stroke:#000;stroke-width:0.45px;font-size:18.0px">7</text><text x="1067.5" y="335.3" text-anchor="middle" style="font-family:'DejaVu Sans',sans-serif;font-weight:200;stroke:#000;stroke-width:0.45px;font-size:18.0px">6</text><text x="1067.5" y="354.5" text-anchor="middle" style="font-family:'DejaVu Sans',sans-serif;font-weight:200;stroke:#000;stroke-width:0.45px;font-size:18.0px">5</text><text x="1067.5" y="373.8" text-anchor="middle" style="font-family:'DejaVu Sans',sans-serif;font-weight:200;stroke:#000;stroke-width:0.45px;font-size:18.0px">4</text><text x="1067.5" y="393.0" text-anchor="middle" style="font-family:'DejaVu Sans',sans-serif;font-weight:200;stroke:#000;stroke-width:0.45px;font-size:18.0px">3</text><text x="1067.5" y="412.2" text-anchor="middle" style="font-family:'DejaVu Sans',sans-serif;font-weight:200;stroke:#000;stroke-width:0.45px;font-size:18.0px">2</text><text x="1067.5" y="431.4" text-anchor="middle" style="font-family:'DejaVu Sans',sans-serif;font-weight:200;stroke:#000;stroke-width:0.45px;font-size:18.0px">1</text><text x="1067.5" y="450.6" text-anchor="middle" style="font-family:'DejaVu Sans',sans-serif;font-weight:200;stroke:#000;stroke-width:0.45px;font-size:18.0px">0.5</text><text x="1067.5" y="469.9" text-anchor="middle" style="font-family:'DejaVu Sans',sans-serif;font-weight:200;stroke:#000;stroke-width:0.45px;font-size:18.0px">0.2</text><rect x="996.7" y="668.60" width="44.6" height="19.20" fill="#8c0000"/><rect x="996.7" y="687.80" width="44.6" height="19.20" fill="#b82200"/><rect x="996.7" y="707.00" width="44.6" height="19.20" fill="#e03500"/><rect x="996.7" y="726.20" width="44.6" height="19.20" fill="#ff5219"/><rect x="996.7" y="745.40" width="44.6" height="19.20" fill="#ff7a45"/><rect x="996.7" y="764.60" width="44.6" height="19.20" fill="#ffa880"/><rect x="996.7" y="783.80" width="44.6" height="19.20" fill="#ffcbb0"/><rect x="996.7" y="803.00" width="44.6" height="19.20" fill="#ffecd9"/><rect x="996.7" y="822.20" width="44.6" height="19.20" fill="#d9ecff"/><rect x="996.7" y="841.40" width="44.6" height="19.20" fill="#b0cbff"/><rect x="996.7" y="860.60" width="44.6" height="19.20" fill="#80a8ff"/><rect x="996.7" y="879.80" width="44.6" height="19.20" fill="#457aff"/><rect x="996.7" y="899.00" width="44.6" height="19.20" fill="#1952ff"/><rect x="996.7" y="918.20" width="44.6" height="19.20" fill="#0035e0"/><rect x="996.7" y="937.40" width="44.6" height="19.20" fill="#0022b8"/><rect x="996.7" y="956.60" width="44.6" height="19.20" fill="#00008c"/><line x1="996.7" x2="1041.3" y1="687.80" y2="687.80" stroke="#000" stroke-width="1.5"/><line x1="996.7" x2="1041.3" y1="707.00" y2="707.00" stroke="#000" stroke-width="1.5"/><line x1="996.7" x2="1041.3" y1="726.20" y2="726.20" stroke="#000" stroke-width="1.5"/><line x1="996.7" x2="1041.3" y1="745.40" y2="745.40" stroke="#000" stroke-width="1.5"/><line x1="996.7" x2="1041.3" y1="764.60" y2="764.60" stroke="#000" stroke-width="1.5"/><line x1="996.7" x2="1041.3" y1="783.80" y2="783.80" stroke="#000" stroke-width="1.5"/><line x1="996.7" x2="1041.3" y1="803.00" y2="803.00" stroke="#000" stroke-width="1.5"/><line x1="996.7" x2="1041.3" y1="822.20" y2="822.20" stroke="#000" stroke-width="1.5"/><line x1="996.7" x2="1041.3" y1="841.40" y2="841.40" stroke="#000" stroke-width="1.5"/><line x1="996.7" x2="1041.3" y1="860.60" y2="860.60" stroke="#000" stroke-width="1.5"/><line x1="996.7" x2="1041.3" y1="879.80" y2="879.80" stroke="#000" stroke-width="1.5"/><line x1="996.7" x2="1041.3" y1="899.00" y2="899.00" stroke="#000" stroke-width="1.5"/><line x1="996.7" x2="1041.3" y1="918.20" y2="918.20" stroke="#000" stroke-width="1.5"/><line x1="996.7" x2="1041.3" y1="937.40" y2="937.40" stroke="#000" stroke-width="1.5"/><line x1="996.7" x2="1041.3" y1="956.60" y2="956.60" stroke="#000" stroke-width="1.5"/><rect x="996.7" y="668.60" width="44.6" height="307.20" fill="none" stroke="#000" stroke-width="1.4"/><text x="1067.5" y="694.2" text-anchor="middle" style="font-family:'DejaVu Sans',sans-serif;font-weight:200;stroke:#000;stroke-width:0.45px;font-size:18.0px">17</text><text x="1067.5" y="713.4" text-anchor="middle" style="font-family:'DejaVu Sans',sans-serif;font-weight:200;stroke:#000;stroke-width:0.45px;font-size:18.0px">14</text><text x="1067.5" y="732.6" text-anchor="middle" style="font-family:'DejaVu Sans',sans-serif;font-weight:200;stroke:#000;stroke-width:0.45px;font-size:18.0px">12</text><text x="1067.5" y="751.8" text-anchor="middle" style="font-family:'DejaVu Sans',sans-serif;font-weight:200;stroke:#000;stroke-width:0.45px;font-size:18.0px">10</text><text x="1067.5" y="771.0" text-anchor="middle" style="font-family:'DejaVu Sans',sans-serif;font-weight:200;stroke:#000;stroke-width:0.45px;font-size:18.0px">9</text><text x="1067.5" y="790.2" text-anchor="middle" style="font-family:'DejaVu Sans',sans-serif;font-weight:200;stroke:#000;stroke-width:0.45px;font-size:18.0px">8</text><text x="1067.5" y="809.4" text-anchor="middle" style="font-family:'DejaVu Sans',sans-serif;font-weight:200;stroke:#000;stroke-width:0.45px;font-size:18.0px">7</text><text x="1067.5" y="828.6" text-anchor="middle" style="font-family:'DejaVu Sans',sans-serif;font-weight:200;stroke:#000;stroke-width:0.45px;font-size:18.0px">6</text><text x="1067.5" y="847.8" text-anchor="middle" style="font-family:'DejaVu Sans',sans-serif;font-weight:200;stroke:#000;stroke-width:0.45px;font-size:18.0px">5</text><text x="1067.5" y="867.0" text-anchor="middle" style="font-family:'DejaVu Sans',sans-serif;font-weight:200;stroke:#000;stroke-width:0.45px;font-size:18.0px">4</text><text x="1067.5" y="886.2" text-anchor="middle" style="font-family:'DejaVu Sans',sans-serif;font-weight:200;stroke:#000;stroke-width:0.45px;font-size:18.0px">3</text><text x="1067.5" y="905.4" text-anchor="middle" style="font-family:'DejaVu Sans',sans-serif;font-weight:200;stroke:#000;stroke-width:0.45px;font-size:18.0px">2</text><text x="1067.5" y="924.6" text-anchor="middle" style="font-family:'DejaVu Sans',sans-serif;font-weight:200;stroke:#000;stroke-width:0.45px;font-size:18.0px">1</text><text x="1067.5" y="943.8" text-anchor="middle" style="font-family:'DejaVu Sans',sans-serif;font-weight:200;stroke:#000;stroke-width:0.45px;font-size:18.0px">0.5</text><text x="1067.5" y="963.0" text-anchor="middle" style="font-family:'DejaVu Sans',sans-serif;font-weight:200;stroke:#000;stroke-width:0.45px;font-size:18.0px">0.2</text><rect x="994.0" y="1162.70" width="46.3" height="19.21" fill="#8c0000"/><rect x="994.0" y="1181.91" width="46.3" height="19.21" fill="#b82200"/><rect x="994.0" y="1201.11" width="46.3" height="19.21" fill="#e03500"/><rect x="994.0" y="1220.32" width="46.3" height="19.21" fill="#ff5219"/><rect x="994.0" y="1239.53" width="46.3" height="19.21" fill="#ff7a45"/><rect x="994.0" y="1258.73" width="46.3" height="19.21" fill="#ffa880"/><rect x="994.0" y="1277.94" width="46.3" height="19.21" fill="#ffcbb0"/><rect x="994.0" y="1297.14" width="46.3" height="19.21" fill="#ffecd9"/><rect x="994.0" y="1316.35" width="46.3" height="19.21" fill="#d9ecff"/><rect x="994.0" y="1335.56" width="46.3" height="19.21" fill="#b0cbff"/><rect x="994.0" y="1354.76" width="46.3" height="19.21" fill="#80a8ff"/><rect x="994.0" y="1373.97" width="46.3" height="19.21" fill="#457aff"/><rect x="994.0" y="1393.17" width="46.3" height="19.21" fill="#1952ff"/><rect x="994.0" y="1412.38" width="46.3" height="19.21" fill="#0035e0"/><rect x="994.0" y="1431.59" width="46.3" height="19.21" fill="#0022b8"/><rect x="994.0" y="1450.79" width="46.3" height="19.21" fill="#00008c"/><line x1="994.0" x2="1040.3" y1="1181.91" y2="1181.91" stroke="#000" stroke-width="1.5"/><line x1="994.0" x2="1040.3" y1="1201.11" y2="1201.11" stroke="#000" stroke-width="1.5"/><line x1="994.0" x2="1040.3" y1="1220.32" y2="1220.32" stroke="#000" stroke-width="1.5"/><line x1="994.0" x2="1040.3" y1="1239.53" y2="1239.53" stroke="#000" stroke-width="1.5"/><line x1="994.0" x2="1040.3" y1="1258.73" y2="1258.73" stroke="#000" stroke-width="1.5"/><line x1="994.0" x2="1040.3" y1="1277.94" y2="1277.94" stroke="#000" stroke-width="1.5"/><line x1="994.0" x2="1040.3" y1="1297.14" y2="1297.14" stroke="#000" stroke-width="1.5"/><line x1="994.0" x2="1040.3" y1="1316.35" y2="1316.35" stroke="#000" stroke-width="1.5"/><line x1="994.0" x2="1040.3" y1="1335.56" y2="1335.56" stroke="#000" stroke-width="1.5"/><line x1="994.0" x2="1040.3" y1="1354.76" y2="1354.76" stroke="#000" stroke-width="1.5"/><line x1="994.0" x2="1040.3" y1="1373.97" y2="1373.97" stroke="#000" stroke-width="1.5"/><line x1="994.0" x2="1040.3" y1="1393.17" y2="1393.17" stroke="#000" stroke-width="1.5"/><line x1="994.0" x2="1040.3" y1="1412.38" y2="1412.38" stroke="#000" stroke-width="1.5"/><line x1="994.0" x2="1040.3" y1="1431.59" y2="1431.59" stroke="#000" stroke-width="1.5"/><line x1="994.0" x2="1040.3" y1="1450.79" y2="1450.79" stroke="#000" stroke-width="1.5"/><rect x="994.0" y="1162.70" width="46.3" height="307.30" fill="none" stroke="#000" stroke-width="1.4"/><text x="1073.0" y="1188.3" text-anchor="middle" style="font-family:'DejaVu Sans',sans-serif;font-weight:200;stroke:#000;stroke-width:0.45px;font-size:18.0px">6</text><text x="1073.0" y="1207.5" text-anchor="middle" style="font-family:'DejaVu Sans',sans-serif;font-weight:200;stroke:#000;stroke-width:0.45px;font-size:18.0px">5</text><text x="1073.0" y="1226.7" text-anchor="middle" style="font-family:'DejaVu Sans',sans-serif;font-weight:200;stroke:#000;stroke-width:0.45px;font-size:18.0px">4</text><text x="1073.0" y="1245.9" text-anchor="middle" style="font-family:'DejaVu Sans',sans-serif;font-weight:200;stroke:#000;stroke-width:0.45px;font-size:18.0px">3</text><text x="1073.0" y="1265.1" text-anchor="middle" style="font-family:'DejaVu Sans',sans-serif;font-weight:200;stroke:#000;stroke-width:0.45px;font-size:18.0px">2</text><text x="1073.0" y="1284.3" text-anchor="middle" style="font-family:'DejaVu Sans',sans-serif;font-weight:200;stroke:#000;stroke-width:0.45px;font-size:18.0px">1</text><text x="1073.0" y="1303.5" text-anchor="middle" style="font-family:'DejaVu Sans',sans-serif;font-weight:200;stroke:#000;stroke-width:0.45px;font-size:18.0px">0.5</text><text x="1073.0" y="1322.8" text-anchor="middle" style="font-family:'DejaVu Sans',sans-serif;font-weight:200;stroke:#000;stroke-width:0.45px;font-size:18.0px">0</text><text x="1073.0" y="1342.0" text-anchor="middle" style="font-family:'DejaVu Sans',sans-serif;font-weight:200;stroke:#000;stroke-width:0.45px;font-size:18.0px">−0.5</text><text x="1073.0" y="1361.2" text-anchor="middle" style="font-family:'DejaVu Sans',sans-serif;font-weight:200;stroke:#000;stroke-width:0.45px;font-size:18.0px">−1</text><text x="1073.0" y="1380.4" text-anchor="middle" style="font-family:'DejaVu Sans',sans-serif;font-weight:200;stroke:#000;stroke-width:0.45px;font-size:18.0px">−2</text><text x="1073.0" y="1399.6" text-anchor="middle" style="font-family:'DejaVu Sans',sans-serif;font-weight:200;stroke:#000;stroke-width:0.45px;font-size:18.0px">−3</text><text x="1073.0" y="1418.8" text-anchor="middle" style="font-family:'DejaVu Sans',sans-serif;font-weight:200;stroke:#000;stroke-width:0.45px;font-size:18.0px">−4</text><text x="1073.0" y="1438.0" text-anchor="middle" style="font-family:'DejaVu Sans',sans-serif;font-weight:200;stroke:#000;stroke-width:0.45px;font-size:18.0px">−5</text><text x="1073.0" y="1457.2" text-anchor="middle" style="font-family:'DejaVu Sans',sans-serif;font-weight:200;stroke:#000;stroke-width:0.45px;font-size:18.0px">−6</text></svg></body></html>
